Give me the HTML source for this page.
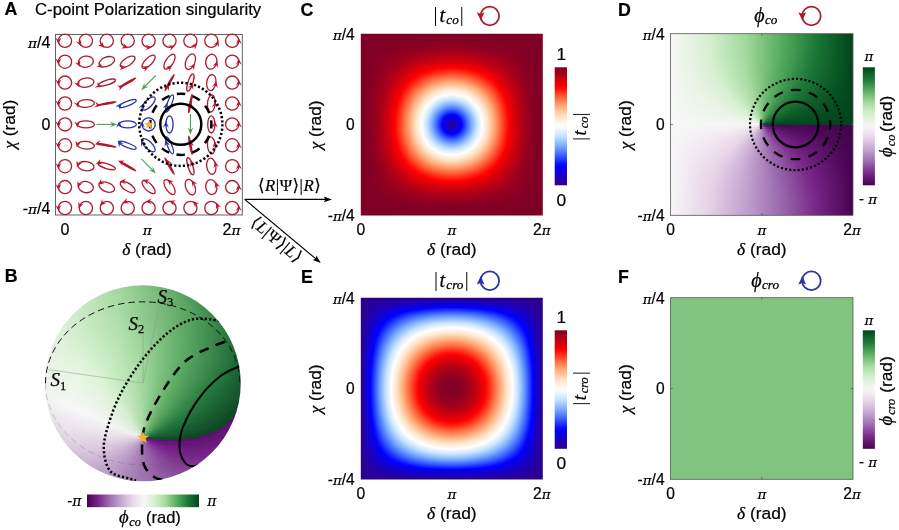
<!DOCTYPE html><html><head><meta charset="utf-8"><title>C-point Polarization singularity</title><style>html,body{margin:0;padding:0;background:#fff;overflow:hidden}svg{display:block}</style></head><body><svg width="899" height="530" viewBox="0 0 899 530"><defs><clipPath id="c1"><rect x="360.80" y="33.70" width="182.00" height="181.70"/></clipPath><linearGradient id="g2" gradientUnits="userSpaceOnUse" x1="360.80" x2="451.80" y1="0" y2="0" spreadMethod="reflect"><stop offset="0" stop-color="#7e0026"/><stop offset="1" stop-color="#7e0026"/></linearGradient><linearGradient id="g3" gradientUnits="userSpaceOnUse" x1="360.80" x2="451.80" y1="0" y2="0" spreadMethod="reflect"><stop offset="0" stop-color="#7e0026"/><stop offset="1" stop-color="#7e0026"/></linearGradient><linearGradient id="g4" gradientUnits="userSpaceOnUse" x1="360.80" x2="451.80" y1="0" y2="0" spreadMethod="reflect"><stop offset="0" stop-color="#7e0026"/><stop offset="1" stop-color="#7e0026"/></linearGradient><linearGradient id="g5" gradientUnits="userSpaceOnUse" x1="360.80" x2="451.80" y1="0" y2="0" spreadMethod="reflect"><stop offset="0" stop-color="#7e0026"/><stop offset="1" stop-color="#7f0026"/></linearGradient><linearGradient id="g6" gradientUnits="userSpaceOnUse" x1="360.80" x2="451.80" y1="0" y2="0" spreadMethod="reflect"><stop offset="0" stop-color="#7e0026"/><stop offset="1" stop-color="#800025"/></linearGradient><linearGradient id="g7" gradientUnits="userSpaceOnUse" x1="360.80" x2="451.80" y1="0" y2="0" spreadMethod="reflect"><stop offset="0" stop-color="#7e0026"/><stop offset="1" stop-color="#810025"/></linearGradient><linearGradient id="g8" gradientUnits="userSpaceOnUse" x1="360.80" x2="451.80" y1="0" y2="0" spreadMethod="reflect"><stop offset="0" stop-color="#7e0026"/><stop offset="1" stop-color="#820025"/></linearGradient><linearGradient id="g9" gradientUnits="userSpaceOnUse" x1="360.80" x2="451.80" y1="0" y2="0" spreadMethod="reflect"><stop offset="0" stop-color="#7e0026"/><stop offset="1" stop-color="#830024"/></linearGradient><linearGradient id="g10" gradientUnits="userSpaceOnUse" x1="360.80" x2="451.80" y1="0" y2="0" spreadMethod="reflect"><stop offset="0" stop-color="#7e0026"/><stop offset="1" stop-color="#850024"/></linearGradient><linearGradient id="g11" gradientUnits="userSpaceOnUse" x1="360.80" x2="451.80" y1="0" y2="0" spreadMethod="reflect"><stop offset="0" stop-color="#7e0026"/><stop offset="0.522" stop-color="#830025"/><stop offset="1" stop-color="#870023"/></linearGradient><linearGradient id="g12" gradientUnits="userSpaceOnUse" x1="360.80" x2="451.80" y1="0" y2="0" spreadMethod="reflect"><stop offset="0" stop-color="#7e0026"/><stop offset="0.435" stop-color="#820025"/><stop offset="0.946" stop-color="#890023"/><stop offset="1" stop-color="#890023"/></linearGradient><linearGradient id="g13" gradientUnits="userSpaceOnUse" x1="360.80" x2="451.80" y1="0" y2="0" spreadMethod="reflect"><stop offset="0" stop-color="#7e0026"/><stop offset="0.38" stop-color="#820025"/><stop offset="0.902" stop-color="#8b0022"/><stop offset="1" stop-color="#8c0022"/></linearGradient><linearGradient id="g14" gradientUnits="userSpaceOnUse" x1="360.80" x2="451.80" y1="0" y2="0" spreadMethod="reflect"><stop offset="0" stop-color="#7e0026"/><stop offset="0.337" stop-color="#820025"/><stop offset="0.87" stop-color="#8d0021"/><stop offset="1" stop-color="#8e0021"/></linearGradient><linearGradient id="g15" gradientUnits="userSpaceOnUse" x1="360.80" x2="451.80" y1="0" y2="0" spreadMethod="reflect"><stop offset="0" stop-color="#7e0026"/><stop offset="0.315" stop-color="#820025"/><stop offset="0.848" stop-color="#900021"/><stop offset="1" stop-color="#910020"/></linearGradient><linearGradient id="g16" gradientUnits="userSpaceOnUse" x1="360.80" x2="451.80" y1="0" y2="0" spreadMethod="reflect"><stop offset="0" stop-color="#7e0026"/><stop offset="0.283" stop-color="#820025"/><stop offset="0.837" stop-color="#930020"/><stop offset="1" stop-color="#940020"/></linearGradient><linearGradient id="g17" gradientUnits="userSpaceOnUse" x1="360.80" x2="451.80" y1="0" y2="0" spreadMethod="reflect"><stop offset="0" stop-color="#7e0026"/><stop offset="0.261" stop-color="#820025"/><stop offset="0.826" stop-color="#95001f"/><stop offset="1" stop-color="#97001f"/></linearGradient><linearGradient id="g18" gradientUnits="userSpaceOnUse" x1="360.80" x2="451.80" y1="0" y2="0" spreadMethod="reflect"><stop offset="0" stop-color="#7e0026"/><stop offset="0.25" stop-color="#820025"/><stop offset="0.815" stop-color="#98001e"/><stop offset="1" stop-color="#9b001e"/></linearGradient><linearGradient id="g19" gradientUnits="userSpaceOnUse" x1="360.80" x2="451.80" y1="0" y2="0" spreadMethod="reflect"><stop offset="0" stop-color="#7e0026"/><stop offset="0.228" stop-color="#820025"/><stop offset="0.804" stop-color="#9c001d"/><stop offset="1" stop-color="#9f001c"/></linearGradient><linearGradient id="g20" gradientUnits="userSpaceOnUse" x1="360.80" x2="451.80" y1="0" y2="0" spreadMethod="reflect"><stop offset="0" stop-color="#7e0026"/><stop offset="0.217" stop-color="#820025"/><stop offset="0.565" stop-color="#940020"/><stop offset="0.837" stop-color="#a0001c"/><stop offset="1" stop-color="#a2001b"/></linearGradient><linearGradient id="g21" gradientUnits="userSpaceOnUse" x1="360.80" x2="451.80" y1="0" y2="0" spreadMethod="reflect"><stop offset="0" stop-color="#7e0026"/><stop offset="0.207" stop-color="#820025"/><stop offset="0.5" stop-color="#920020"/><stop offset="0.793" stop-color="#a2001b"/><stop offset="0.989" stop-color="#a7001a"/><stop offset="1" stop-color="#a7001a"/></linearGradient><linearGradient id="g22" gradientUnits="userSpaceOnUse" x1="360.80" x2="451.80" y1="0" y2="0" spreadMethod="reflect"><stop offset="0" stop-color="#7e0026"/><stop offset="0.196" stop-color="#820025"/><stop offset="0.446" stop-color="#900021"/><stop offset="0.772" stop-color="#a5001a"/><stop offset="0.967" stop-color="#ab0019"/><stop offset="1" stop-color="#ab0019"/></linearGradient><linearGradient id="g23" gradientUnits="userSpaceOnUse" x1="360.80" x2="451.80" y1="0" y2="0" spreadMethod="reflect"><stop offset="0" stop-color="#7e0026"/><stop offset="0.185" stop-color="#820025"/><stop offset="0.413" stop-color="#900021"/><stop offset="0.761" stop-color="#a90019"/><stop offset="0.946" stop-color="#af0017"/><stop offset="1" stop-color="#b00017"/></linearGradient><linearGradient id="g24" gradientUnits="userSpaceOnUse" x1="360.80" x2="451.80" y1="0" y2="0" spreadMethod="reflect"><stop offset="0" stop-color="#7e0026"/><stop offset="0.174" stop-color="#820025"/><stop offset="0.38" stop-color="#8f0021"/><stop offset="0.75" stop-color="#ac0018"/><stop offset="0.924" stop-color="#b40016"/><stop offset="1" stop-color="#b40016"/></linearGradient><linearGradient id="g25" gradientUnits="userSpaceOnUse" x1="360.80" x2="451.80" y1="0" y2="0" spreadMethod="reflect"><stop offset="0" stop-color="#7e0026"/><stop offset="0.163" stop-color="#820025"/><stop offset="0.359" stop-color="#8e0021"/><stop offset="0.75" stop-color="#b00017"/><stop offset="0.924" stop-color="#b90015"/><stop offset="1" stop-color="#ba0014"/></linearGradient><linearGradient id="g26" gradientUnits="userSpaceOnUse" x1="360.80" x2="451.80" y1="0" y2="0" spreadMethod="reflect"><stop offset="0" stop-color="#7e0026"/><stop offset="0.163" stop-color="#820025"/><stop offset="0.348" stop-color="#8f0021"/><stop offset="0.739" stop-color="#b40016"/><stop offset="0.902" stop-color="#bd0013"/><stop offset="1" stop-color="#bf0013"/></linearGradient><linearGradient id="g27" gradientUnits="userSpaceOnUse" x1="360.80" x2="451.80" y1="0" y2="0" spreadMethod="reflect"><stop offset="0" stop-color="#7e0026"/><stop offset="0.152" stop-color="#820025"/><stop offset="0.326" stop-color="#8e0021"/><stop offset="0.739" stop-color="#b90015"/><stop offset="0.902" stop-color="#c20012"/><stop offset="1" stop-color="#c40011"/></linearGradient><linearGradient id="g28" gradientUnits="userSpaceOnUse" x1="360.80" x2="451.80" y1="0" y2="0" spreadMethod="reflect"><stop offset="0" stop-color="#7e0026"/><stop offset="0.141" stop-color="#820025"/><stop offset="0.304" stop-color="#8d0021"/><stop offset="0.739" stop-color="#bd0013"/><stop offset="0.891" stop-color="#c80010"/><stop offset="1" stop-color="#ca0010"/></linearGradient><linearGradient id="g29" gradientUnits="userSpaceOnUse" x1="360.80" x2="451.80" y1="0" y2="0" spreadMethod="reflect"><stop offset="0" stop-color="#7e0026"/><stop offset="0.141" stop-color="#820025"/><stop offset="0.293" stop-color="#8d0021"/><stop offset="0.554" stop-color="#ad0018"/><stop offset="0.761" stop-color="#c40011"/><stop offset="0.902" stop-color="#ce000f"/><stop offset="1" stop-color="#d0000e"/></linearGradient><linearGradient id="g30" gradientUnits="userSpaceOnUse" x1="360.80" x2="451.80" y1="0" y2="0" spreadMethod="reflect"><stop offset="0" stop-color="#7e0026"/><stop offset="0.141" stop-color="#820025"/><stop offset="0.293" stop-color="#8f0021"/><stop offset="0.533" stop-color="#ad0018"/><stop offset="0.739" stop-color="#c70010"/><stop offset="0.88" stop-color="#d3000d"/><stop offset="1" stop-color="#d6000c"/></linearGradient><linearGradient id="g31" gradientUnits="userSpaceOnUse" x1="360.80" x2="451.80" y1="0" y2="0" spreadMethod="reflect"><stop offset="0" stop-color="#7e0026"/><stop offset="0.13" stop-color="#820025"/><stop offset="0.272" stop-color="#8d0021"/><stop offset="0.467" stop-color="#a7001a"/><stop offset="0.717" stop-color="#ca0010"/><stop offset="0.859" stop-color="#d7000c"/><stop offset="0.978" stop-color="#dc000a"/><stop offset="1" stop-color="#dc000a"/></linearGradient><linearGradient id="g32" gradientUnits="userSpaceOnUse" x1="360.80" x2="451.80" y1="0" y2="0" spreadMethod="reflect"><stop offset="0" stop-color="#7e0026"/><stop offset="0.13" stop-color="#820025"/><stop offset="0.272" stop-color="#8e0021"/><stop offset="0.457" stop-color="#a8001a"/><stop offset="0.717" stop-color="#cf000e"/><stop offset="0.859" stop-color="#dd000a"/><stop offset="0.978" stop-color="#e20008"/><stop offset="1" stop-color="#e30008"/></linearGradient><linearGradient id="g33" gradientUnits="userSpaceOnUse" x1="360.80" x2="451.80" y1="0" y2="0" spreadMethod="reflect"><stop offset="0" stop-color="#7e0026"/><stop offset="0.12" stop-color="#810025"/><stop offset="0.25" stop-color="#8d0022"/><stop offset="0.413" stop-color="#a3001b"/><stop offset="0.707" stop-color="#d3000d"/><stop offset="0.837" stop-color="#e20009"/><stop offset="0.957" stop-color="#e90007"/><stop offset="1" stop-color="#e90006"/></linearGradient><linearGradient id="g34" gradientUnits="userSpaceOnUse" x1="360.80" x2="451.80" y1="0" y2="0" spreadMethod="reflect"><stop offset="0" stop-color="#7e0026"/><stop offset="0.12" stop-color="#820025"/><stop offset="0.25" stop-color="#8e0021"/><stop offset="0.402" stop-color="#a4001b"/><stop offset="0.707" stop-color="#d8000b"/><stop offset="0.837" stop-color="#e80007"/><stop offset="0.946" stop-color="#ef0005"/><stop offset="1" stop-color="#f00004"/></linearGradient><linearGradient id="g35" gradientUnits="userSpaceOnUse" x1="360.80" x2="451.80" y1="0" y2="0" spreadMethod="reflect"><stop offset="0" stop-color="#7e0026"/><stop offset="0.12" stop-color="#820025"/><stop offset="0.239" stop-color="#8d0022"/><stop offset="0.391" stop-color="#a4001b"/><stop offset="0.707" stop-color="#de000a"/><stop offset="0.837" stop-color="#ef0005"/><stop offset="0.946" stop-color="#f60003"/><stop offset="1" stop-color="#f70002"/></linearGradient><linearGradient id="g36" gradientUnits="userSpaceOnUse" x1="360.80" x2="451.80" y1="0" y2="0" spreadMethod="reflect"><stop offset="0" stop-color="#7e0026"/><stop offset="0.109" stop-color="#810025"/><stop offset="0.228" stop-color="#8d0022"/><stop offset="0.37" stop-color="#a2001b"/><stop offset="0.707" stop-color="#e30008"/><stop offset="0.826" stop-color="#f40003"/><stop offset="0.935" stop-color="#fd0001"/><stop offset="1" stop-color="#ff0000"/></linearGradient><linearGradient id="g37" gradientUnits="userSpaceOnUse" x1="360.80" x2="451.80" y1="0" y2="0" spreadMethod="reflect"><stop offset="0" stop-color="#7e0026"/><stop offset="0.109" stop-color="#820025"/><stop offset="0.228" stop-color="#8d0021"/><stop offset="0.359" stop-color="#a2001b"/><stop offset="0.707" stop-color="#e90007"/><stop offset="0.826" stop-color="#fb0001"/><stop offset="0.87" stop-color="#ff0101"/><stop offset="0.957" stop-color="#ff0905"/><stop offset="1" stop-color="#ff0a06"/></linearGradient><linearGradient id="g38" gradientUnits="userSpaceOnUse" x1="360.80" x2="451.80" y1="0" y2="0" spreadMethod="reflect"><stop offset="0" stop-color="#7e0026"/><stop offset="0.109" stop-color="#820025"/><stop offset="0.217" stop-color="#8d0022"/><stop offset="0.348" stop-color="#a2001b"/><stop offset="0.565" stop-color="#d1000e"/><stop offset="0.728" stop-color="#f30004"/><stop offset="0.804" stop-color="#ff0000"/><stop offset="0.891" stop-color="#ff0f09"/><stop offset="0.967" stop-color="#ff150c"/><stop offset="1" stop-color="#ff160d"/></linearGradient><linearGradient id="g39" gradientUnits="userSpaceOnUse" x1="360.80" x2="451.80" y1="0" y2="0" spreadMethod="reflect"><stop offset="0" stop-color="#7e0026"/><stop offset="0.109" stop-color="#820025"/><stop offset="0.217" stop-color="#8d0021"/><stop offset="0.337" stop-color="#a2001b"/><stop offset="0.522" stop-color="#cb000f"/><stop offset="0.707" stop-color="#f50003"/><stop offset="0.761" stop-color="#ff0000"/><stop offset="0.848" stop-color="#ff130b"/><stop offset="0.924" stop-color="#ff1e11"/><stop offset="1" stop-color="#ff2113"/></linearGradient><linearGradient id="g40" gradientUnits="userSpaceOnUse" x1="360.80" x2="451.80" y1="0" y2="0" spreadMethod="reflect"><stop offset="0" stop-color="#7e0026"/><stop offset="0.098" stop-color="#810025"/><stop offset="0.207" stop-color="#8d0022"/><stop offset="0.326" stop-color="#a1001c"/><stop offset="0.489" stop-color="#c70011"/><stop offset="0.707" stop-color="#fb0001"/><stop offset="0.728" stop-color="#ff0100"/><stop offset="0.815" stop-color="#ff180e"/><stop offset="0.891" stop-color="#ff2616"/><stop offset="0.967" stop-color="#ff2d1a"/><stop offset="1" stop-color="#ff2d1a"/></linearGradient><linearGradient id="g41" gradientUnits="userSpaceOnUse" x1="360.80" x2="451.80" y1="0" y2="0" spreadMethod="reflect"><stop offset="0" stop-color="#7e0026"/><stop offset="0.098" stop-color="#820025"/><stop offset="0.207" stop-color="#8d0021"/><stop offset="0.326" stop-color="#a3001b"/><stop offset="0.478" stop-color="#c70010"/><stop offset="0.696" stop-color="#ff0000"/><stop offset="0.793" stop-color="#ff1d11"/><stop offset="0.87" stop-color="#ff2e1b"/><stop offset="0.946" stop-color="#ff3720"/><stop offset="1" stop-color="#ff3a21"/></linearGradient><linearGradient id="g42" gradientUnits="userSpaceOnUse" x1="360.80" x2="451.80" y1="0" y2="0" spreadMethod="reflect"><stop offset="0" stop-color="#7e0026"/><stop offset="0.098" stop-color="#820025"/><stop offset="0.196" stop-color="#8c0022"/><stop offset="0.304" stop-color="#a0001c"/><stop offset="0.446" stop-color="#c20012"/><stop offset="0.674" stop-color="#ff0100"/><stop offset="0.772" stop-color="#ff2214"/><stop offset="0.848" stop-color="#ff351f"/><stop offset="0.924" stop-color="#ff4226"/><stop offset="0.989" stop-color="#ff4628"/><stop offset="1" stop-color="#ff4629"/></linearGradient><linearGradient id="g43" gradientUnits="userSpaceOnUse" x1="360.80" x2="451.80" y1="0" y2="0" spreadMethod="reflect"><stop offset="0" stop-color="#7e0026"/><stop offset="0.098" stop-color="#820025"/><stop offset="0.196" stop-color="#8d0022"/><stop offset="0.304" stop-color="#a1001c"/><stop offset="0.435" stop-color="#c20012"/><stop offset="0.652" stop-color="#ff0101"/><stop offset="0.75" stop-color="#ff2516"/><stop offset="0.826" stop-color="#ff3c23"/><stop offset="0.902" stop-color="#ff4b2c"/><stop offset="0.967" stop-color="#ff522f"/><stop offset="1" stop-color="#ff5330"/></linearGradient><linearGradient id="g44" gradientUnits="userSpaceOnUse" x1="360.80" x2="451.80" y1="0" y2="0" spreadMethod="reflect"><stop offset="0" stop-color="#7e0026"/><stop offset="0.098" stop-color="#820025"/><stop offset="0.196" stop-color="#8e0021"/><stop offset="0.304" stop-color="#a3001b"/><stop offset="0.435" stop-color="#c50011"/><stop offset="0.63" stop-color="#ff0000"/><stop offset="0.739" stop-color="#ff2c1a"/><stop offset="0.815" stop-color="#ff4528"/><stop offset="0.891" stop-color="#ff5632"/><stop offset="0.957" stop-color="#ff5e36"/><stop offset="1" stop-color="#ff6037"/></linearGradient><linearGradient id="g45" gradientUnits="userSpaceOnUse" x1="360.80" x2="451.80" y1="0" y2="0" spreadMethod="reflect"><stop offset="0" stop-color="#7e0026"/><stop offset="0.087" stop-color="#810025"/><stop offset="0.185" stop-color="#8d0022"/><stop offset="0.283" stop-color="#9f001c"/><stop offset="0.402" stop-color="#be0013"/><stop offset="0.609" stop-color="#fe0000"/><stop offset="0.652" stop-color="#ff120b"/><stop offset="0.75" stop-color="#ff3b22"/><stop offset="0.826" stop-color="#ff5430"/><stop offset="0.88" stop-color="#ff6038"/><stop offset="0.957" stop-color="#ff6940"/><stop offset="1" stop-color="#ff6a41"/></linearGradient><linearGradient id="g46" gradientUnits="userSpaceOnUse" x1="360.80" x2="451.80" y1="0" y2="0" spreadMethod="reflect"><stop offset="0" stop-color="#7e0026"/><stop offset="0.087" stop-color="#810025"/><stop offset="0.174" stop-color="#8b0022"/><stop offset="0.272" stop-color="#9e001d"/><stop offset="0.38" stop-color="#ba0014"/><stop offset="0.554" stop-color="#f10004"/><stop offset="0.598" stop-color="#ff0101"/><stop offset="0.717" stop-color="#ff3821"/><stop offset="0.793" stop-color="#ff5531"/><stop offset="0.837" stop-color="#ff623a"/><stop offset="0.913" stop-color="#ff7045"/><stop offset="0.978" stop-color="#ff754a"/><stop offset="1" stop-color="#ff754a"/></linearGradient><linearGradient id="g47" gradientUnits="userSpaceOnUse" x1="360.80" x2="451.80" y1="0" y2="0" spreadMethod="reflect"><stop offset="0" stop-color="#7e0026"/><stop offset="0.087" stop-color="#820025"/><stop offset="0.174" stop-color="#8c0022"/><stop offset="0.272" stop-color="#9f001c"/><stop offset="0.38" stop-color="#bc0014"/><stop offset="0.543" stop-color="#f20004"/><stop offset="0.576" stop-color="#fe0000"/><stop offset="0.587" stop-color="#ff0302"/><stop offset="0.707" stop-color="#ff3e24"/><stop offset="0.783" stop-color="#ff5d36"/><stop offset="0.848" stop-color="#ff6f45"/><stop offset="0.924" stop-color="#ff7c50"/><stop offset="0.989" stop-color="#ff8054"/><stop offset="1" stop-color="#ff8054"/></linearGradient><linearGradient id="g48" gradientUnits="userSpaceOnUse" x1="360.80" x2="451.80" y1="0" y2="0" spreadMethod="reflect"><stop offset="0" stop-color="#7e0026"/><stop offset="0.087" stop-color="#820025"/><stop offset="0.174" stop-color="#8c0022"/><stop offset="0.272" stop-color="#a0001c"/><stop offset="0.38" stop-color="#bf0013"/><stop offset="0.533" stop-color="#f30004"/><stop offset="0.565" stop-color="#ff0000"/><stop offset="0.707" stop-color="#ff482a"/><stop offset="0.761" stop-color="#ff6038"/><stop offset="0.837" stop-color="#ff764b"/><stop offset="0.902" stop-color="#ff8457"/><stop offset="0.967" stop-color="#ff8b5d"/><stop offset="1" stop-color="#ff8c5e"/></linearGradient><linearGradient id="g49" gradientUnits="userSpaceOnUse" x1="360.80" x2="451.80" y1="0" y2="0" spreadMethod="reflect"><stop offset="0" stop-color="#7e0026"/><stop offset="0.087" stop-color="#820025"/><stop offset="0.174" stop-color="#8d0022"/><stop offset="0.261" stop-color="#9f001c"/><stop offset="0.359" stop-color="#ba0014"/><stop offset="0.489" stop-color="#e70007"/><stop offset="0.554" stop-color="#ff0100"/><stop offset="0.696" stop-color="#ff4d2d"/><stop offset="0.739" stop-color="#ff6139"/><stop offset="0.815" stop-color="#ff7b4f"/><stop offset="0.88" stop-color="#ff8b5d"/><stop offset="0.946" stop-color="#ff9566"/><stop offset="1" stop-color="#ff9768"/></linearGradient><linearGradient id="g50" gradientUnits="userSpaceOnUse" x1="360.80" x2="451.80" y1="0" y2="0" spreadMethod="reflect"><stop offset="0" stop-color="#7e0026"/><stop offset="0.087" stop-color="#820025"/><stop offset="0.174" stop-color="#8d0021"/><stop offset="0.261" stop-color="#a0001c"/><stop offset="0.359" stop-color="#bc0014"/><stop offset="0.489" stop-color="#eb0006"/><stop offset="0.543" stop-color="#ff0101"/><stop offset="0.685" stop-color="#ff512f"/><stop offset="0.717" stop-color="#ff6239"/><stop offset="0.804" stop-color="#ff8255"/><stop offset="0.87" stop-color="#ff9465"/><stop offset="0.935" stop-color="#ff9f6f"/><stop offset="1" stop-color="#ffa372"/></linearGradient><linearGradient id="g51" gradientUnits="userSpaceOnUse" x1="360.80" x2="451.80" y1="0" y2="0" spreadMethod="reflect"><stop offset="0" stop-color="#7e0026"/><stop offset="0.076" stop-color="#810025"/><stop offset="0.163" stop-color="#8c0022"/><stop offset="0.25" stop-color="#9e001c"/><stop offset="0.348" stop-color="#bb0014"/><stop offset="0.467" stop-color="#e60007"/><stop offset="0.522" stop-color="#fc0001"/><stop offset="0.533" stop-color="#ff0101"/><stop offset="0.685" stop-color="#ff5b35"/><stop offset="0.761" stop-color="#ff7c50"/><stop offset="0.837" stop-color="#ff9667"/><stop offset="0.902" stop-color="#ffa675"/><stop offset="0.957" stop-color="#ffad7b"/><stop offset="1" stop-color="#ffae7d"/></linearGradient><linearGradient id="g52" gradientUnits="userSpaceOnUse" x1="360.80" x2="451.80" y1="0" y2="0" spreadMethod="reflect"><stop offset="0" stop-color="#7e0026"/><stop offset="0.076" stop-color="#810025"/><stop offset="0.163" stop-color="#8c0022"/><stop offset="0.25" stop-color="#9f001c"/><stop offset="0.348" stop-color="#bd0014"/><stop offset="0.467" stop-color="#e90006"/><stop offset="0.522" stop-color="#ff0101"/><stop offset="0.674" stop-color="#ff5f37"/><stop offset="0.761" stop-color="#ff8659"/><stop offset="0.837" stop-color="#ffa170"/><stop offset="0.88" stop-color="#ffac7b"/><stop offset="0.946" stop-color="#ffb486"/><stop offset="1" stop-color="#ffb688"/></linearGradient><linearGradient id="g53" gradientUnits="userSpaceOnUse" x1="360.80" x2="451.80" y1="0" y2="0" spreadMethod="reflect"><stop offset="0" stop-color="#7e0026"/><stop offset="0.076" stop-color="#810025"/><stop offset="0.152" stop-color="#8b0022"/><stop offset="0.239" stop-color="#9d001d"/><stop offset="0.326" stop-color="#b70015"/><stop offset="0.435" stop-color="#df0009"/><stop offset="0.511" stop-color="#ff0000"/><stop offset="0.663" stop-color="#ff6239"/><stop offset="0.761" stop-color="#ff9061"/><stop offset="0.837" stop-color="#ffac7a"/><stop offset="0.902" stop-color="#ffb88b"/><stop offset="0.957" stop-color="#ffbd92"/><stop offset="1" stop-color="#ffbf94"/></linearGradient><linearGradient id="g54" gradientUnits="userSpaceOnUse" x1="360.80" x2="451.80" y1="0" y2="0" spreadMethod="reflect"><stop offset="0" stop-color="#7e0026"/><stop offset="0.076" stop-color="#810025"/><stop offset="0.152" stop-color="#8b0022"/><stop offset="0.239" stop-color="#9e001c"/><stop offset="0.326" stop-color="#b90015"/><stop offset="0.424" stop-color="#de000a"/><stop offset="0.5" stop-color="#ff0000"/><stop offset="0.641" stop-color="#ff5e36"/><stop offset="0.739" stop-color="#ff9061"/><stop offset="0.804" stop-color="#ffab7a"/><stop offset="0.87" stop-color="#ffbb8f"/><stop offset="0.924" stop-color="#ffc39a"/><stop offset="0.978" stop-color="#ffc7a0"/><stop offset="1" stop-color="#ffc7a1"/></linearGradient><linearGradient id="g55" gradientUnits="userSpaceOnUse" x1="360.80" x2="451.80" y1="0" y2="0" spreadMethod="reflect"><stop offset="0" stop-color="#7e0026"/><stop offset="0.076" stop-color="#810025"/><stop offset="0.152" stop-color="#8c0022"/><stop offset="0.228" stop-color="#9c001d"/><stop offset="0.315" stop-color="#b70015"/><stop offset="0.413" stop-color="#dc000a"/><stop offset="0.489" stop-color="#fd0000"/><stop offset="0.5" stop-color="#ff0503"/><stop offset="0.63" stop-color="#ff6037"/><stop offset="0.739" stop-color="#ff996a"/><stop offset="0.783" stop-color="#ffad7b"/><stop offset="0.848" stop-color="#ffbe93"/><stop offset="0.902" stop-color="#ffc8a2"/><stop offset="0.957" stop-color="#ffcfab"/><stop offset="1" stop-color="#ffd0ad"/></linearGradient><linearGradient id="g56" gradientUnits="userSpaceOnUse" x1="360.80" x2="451.80" y1="0" y2="0" spreadMethod="reflect"><stop offset="0" stop-color="#7e0026"/><stop offset="0.076" stop-color="#820025"/><stop offset="0.152" stop-color="#8c0022"/><stop offset="0.228" stop-color="#9d001d"/><stop offset="0.315" stop-color="#b80015"/><stop offset="0.413" stop-color="#df0009"/><stop offset="0.478" stop-color="#fc0001"/><stop offset="0.489" stop-color="#ff0302"/><stop offset="0.62" stop-color="#ff6038"/><stop offset="0.728" stop-color="#ff9d6d"/><stop offset="0.761" stop-color="#ffad7b"/><stop offset="0.826" stop-color="#ffc197"/><stop offset="0.88" stop-color="#ffcda9"/><stop offset="0.935" stop-color="#ffd5b4"/><stop offset="0.989" stop-color="#ffd9b9"/><stop offset="1" stop-color="#ffd9b9"/></linearGradient><linearGradient id="g57" gradientUnits="userSpaceOnUse" x1="360.80" x2="451.80" y1="0" y2="0" spreadMethod="reflect"><stop offset="0" stop-color="#7e0026"/><stop offset="0.076" stop-color="#820025"/><stop offset="0.152" stop-color="#8c0022"/><stop offset="0.228" stop-color="#9e001d"/><stop offset="0.315" stop-color="#ba0014"/><stop offset="0.413" stop-color="#e10009"/><stop offset="0.478" stop-color="#ff0101"/><stop offset="0.609" stop-color="#ff6139"/><stop offset="0.717" stop-color="#ffa070"/><stop offset="0.739" stop-color="#ffac7a"/><stop offset="0.815" stop-color="#ffc59e"/><stop offset="0.87" stop-color="#ffd3b1"/><stop offset="0.924" stop-color="#ffddbf"/><stop offset="0.978" stop-color="#ffe2c5"/><stop offset="1" stop-color="#ffe2c6"/></linearGradient><linearGradient id="g58" gradientUnits="userSpaceOnUse" x1="360.80" x2="451.80" y1="0" y2="0" spreadMethod="reflect"><stop offset="0" stop-color="#7e0026"/><stop offset="0.076" stop-color="#820025"/><stop offset="0.152" stop-color="#8d0022"/><stop offset="0.228" stop-color="#9f001c"/><stop offset="0.315" stop-color="#bb0014"/><stop offset="0.402" stop-color="#df0009"/><stop offset="0.467" stop-color="#fe0000"/><stop offset="0.489" stop-color="#ff0e08"/><stop offset="0.598" stop-color="#ff6139"/><stop offset="0.717" stop-color="#ffaa78"/><stop offset="0.783" stop-color="#ffc29a"/><stop offset="0.848" stop-color="#ffd6b5"/><stop offset="0.902" stop-color="#ffe2c6"/><stop offset="0.957" stop-color="#ffe6ce"/><stop offset="1" stop-color="#ffe7d0"/></linearGradient><linearGradient id="g59" gradientUnits="userSpaceOnUse" x1="360.80" x2="451.80" y1="0" y2="0" spreadMethod="reflect"><stop offset="0" stop-color="#7e0026"/><stop offset="0.076" stop-color="#820025"/><stop offset="0.152" stop-color="#8d0022"/><stop offset="0.228" stop-color="#a0001c"/><stop offset="0.304" stop-color="#b90015"/><stop offset="0.391" stop-color="#dd000a"/><stop offset="0.457" stop-color="#fc0001"/><stop offset="0.467" stop-color="#ff0302"/><stop offset="0.587" stop-color="#ff6038"/><stop offset="0.707" stop-color="#ffac7a"/><stop offset="0.783" stop-color="#ffcaa4"/><stop offset="0.848" stop-color="#ffdec1"/><stop offset="0.88" stop-color="#ffe4cb"/><stop offset="0.935" stop-color="#ffead5"/><stop offset="0.989" stop-color="#ffecd9"/><stop offset="1" stop-color="#ffecda"/></linearGradient><linearGradient id="g60" gradientUnits="userSpaceOnUse" x1="360.80" x2="451.80" y1="0" y2="0" spreadMethod="reflect"><stop offset="0" stop-color="#7e0026"/><stop offset="0.076" stop-color="#820025"/><stop offset="0.152" stop-color="#8d0021"/><stop offset="0.228" stop-color="#a0001c"/><stop offset="0.304" stop-color="#ba0014"/><stop offset="0.391" stop-color="#df0009"/><stop offset="0.457" stop-color="#ff0000"/><stop offset="0.565" stop-color="#ff5632"/><stop offset="0.587" stop-color="#ff673e"/><stop offset="0.696" stop-color="#ffae7c"/><stop offset="0.772" stop-color="#ffcda9"/><stop offset="0.826" stop-color="#ffe0c3"/><stop offset="0.88" stop-color="#ffe9d4"/><stop offset="0.935" stop-color="#ffefdf"/><stop offset="0.989" stop-color="#fff1e3"/><stop offset="1" stop-color="#fff1e3"/></linearGradient><linearGradient id="g61" gradientUnits="userSpaceOnUse" x1="360.80" x2="451.80" y1="0" y2="0" spreadMethod="reflect"><stop offset="0" stop-color="#7e0026"/><stop offset="0.076" stop-color="#820025"/><stop offset="0.152" stop-color="#8e0021"/><stop offset="0.228" stop-color="#a1001c"/><stop offset="0.304" stop-color="#bc0014"/><stop offset="0.391" stop-color="#e10009"/><stop offset="0.446" stop-color="#fc0001"/><stop offset="0.457" stop-color="#ff0503"/><stop offset="0.565" stop-color="#ff5e36"/><stop offset="0.674" stop-color="#ffa877"/><stop offset="0.728" stop-color="#ffc299"/><stop offset="0.804" stop-color="#ffe1c4"/><stop offset="0.859" stop-color="#ffebd7"/><stop offset="0.913" stop-color="#fff2e5"/><stop offset="0.967" stop-color="#fff5ec"/><stop offset="1" stop-color="#fff6ee"/></linearGradient><linearGradient id="g62" gradientUnits="userSpaceOnUse" x1="360.80" x2="451.80" y1="0" y2="0" spreadMethod="reflect"><stop offset="0" stop-color="#7e0026"/><stop offset="0.076" stop-color="#820025"/><stop offset="0.152" stop-color="#8e0021"/><stop offset="0.228" stop-color="#a2001b"/><stop offset="0.304" stop-color="#bd0013"/><stop offset="0.391" stop-color="#e40008"/><stop offset="0.446" stop-color="#ff0000"/><stop offset="0.543" stop-color="#ff522f"/><stop offset="0.576" stop-color="#ff6b42"/><stop offset="0.663" stop-color="#ffa977"/><stop offset="0.739" stop-color="#ffcda9"/><stop offset="0.783" stop-color="#ffe0c3"/><stop offset="0.837" stop-color="#ffecd9"/><stop offset="0.891" stop-color="#fff4ea"/><stop offset="0.946" stop-color="#fff9f4"/><stop offset="1" stop-color="#fffbf8"/></linearGradient><linearGradient id="g63" gradientUnits="userSpaceOnUse" x1="360.80" x2="451.80" y1="0" y2="0" spreadMethod="reflect"><stop offset="0" stop-color="#7e0026"/><stop offset="0.065" stop-color="#810025"/><stop offset="0.141" stop-color="#8c0022"/><stop offset="0.217" stop-color="#9f001c"/><stop offset="0.293" stop-color="#ba0014"/><stop offset="0.37" stop-color="#db000b"/><stop offset="0.435" stop-color="#fc0001"/><stop offset="0.446" stop-color="#ff0503"/><stop offset="0.533" stop-color="#ff4f2d"/><stop offset="0.565" stop-color="#ff6940"/><stop offset="0.652" stop-color="#ffa977"/><stop offset="0.728" stop-color="#ffcfab"/><stop offset="0.772" stop-color="#ffe2c7"/><stop offset="0.837" stop-color="#fff0e2"/><stop offset="0.891" stop-color="#fff9f3"/><stop offset="0.946" stop-color="#fffffe"/><stop offset="1" stop-color="#fcfeff"/></linearGradient><linearGradient id="g64" gradientUnits="userSpaceOnUse" x1="360.80" x2="451.80" y1="0" y2="0" spreadMethod="reflect"><stop offset="0" stop-color="#7e0026"/><stop offset="0.065" stop-color="#810025"/><stop offset="0.13" stop-color="#8a0022"/><stop offset="0.207" stop-color="#9d001d"/><stop offset="0.283" stop-color="#b70015"/><stop offset="0.359" stop-color="#d8000c"/><stop offset="0.435" stop-color="#ff0000"/><stop offset="0.522" stop-color="#ff4b2b"/><stop offset="0.543" stop-color="#ff5e37"/><stop offset="0.641" stop-color="#ffa877"/><stop offset="0.685" stop-color="#ffc096"/><stop offset="0.75" stop-color="#ffe0c3"/><stop offset="0.804" stop-color="#ffeedd"/><stop offset="0.87" stop-color="#fffbf6"/><stop offset="0.902" stop-color="#feffff"/><stop offset="0.957" stop-color="#f4faff"/><stop offset="1" stop-color="#f2f8ff"/></linearGradient><linearGradient id="g65" gradientUnits="userSpaceOnUse" x1="360.80" x2="451.80" y1="0" y2="0" spreadMethod="reflect"><stop offset="0" stop-color="#7e0026"/><stop offset="0.065" stop-color="#810025"/><stop offset="0.13" stop-color="#8b0022"/><stop offset="0.207" stop-color="#9d001d"/><stop offset="0.283" stop-color="#b80015"/><stop offset="0.359" stop-color="#da000b"/><stop offset="0.424" stop-color="#fc0001"/><stop offset="0.435" stop-color="#ff0402"/><stop offset="0.522" stop-color="#ff512f"/><stop offset="0.554" stop-color="#ff6c42"/><stop offset="0.641" stop-color="#ffae7d"/><stop offset="0.739" stop-color="#ffe1c5"/><stop offset="0.815" stop-color="#fff5ea"/><stop offset="0.859" stop-color="#fffdfc"/><stop offset="0.87" stop-color="#feffff"/><stop offset="0.924" stop-color="#eff7ff"/><stop offset="0.978" stop-color="#e8f3ff"/><stop offset="1" stop-color="#e7f3ff"/></linearGradient><linearGradient id="g66" gradientUnits="userSpaceOnUse" x1="360.80" x2="451.80" y1="0" y2="0" spreadMethod="reflect"><stop offset="0" stop-color="#7e0026"/><stop offset="0.065" stop-color="#810025"/><stop offset="0.13" stop-color="#8b0022"/><stop offset="0.196" stop-color="#9b001e"/><stop offset="0.272" stop-color="#b50016"/><stop offset="0.348" stop-color="#d6000c"/><stop offset="0.424" stop-color="#fe0000"/><stop offset="0.457" stop-color="#ff1b0f"/><stop offset="0.533" stop-color="#ff6038"/><stop offset="0.63" stop-color="#ffad7c"/><stop offset="0.728" stop-color="#ffe2c6"/><stop offset="0.804" stop-color="#fff6ee"/><stop offset="0.837" stop-color="#fffefc"/><stop offset="0.848" stop-color="#fdfeff"/><stop offset="0.902" stop-color="#ebf5ff"/><stop offset="0.957" stop-color="#e0efff"/><stop offset="1" stop-color="#ddeeff"/></linearGradient><linearGradient id="g67" gradientUnits="userSpaceOnUse" x1="360.80" x2="451.80" y1="0" y2="0" spreadMethod="reflect"><stop offset="0" stop-color="#7e0026"/><stop offset="0.065" stop-color="#810025"/><stop offset="0.13" stop-color="#8b0022"/><stop offset="0.196" stop-color="#9b001d"/><stop offset="0.272" stop-color="#b60016"/><stop offset="0.348" stop-color="#d8000c"/><stop offset="0.413" stop-color="#fa0001"/><stop offset="0.424" stop-color="#ff0201"/><stop offset="0.5" stop-color="#ff4729"/><stop offset="0.533" stop-color="#ff653c"/><stop offset="0.62" stop-color="#ffab7a"/><stop offset="0.717" stop-color="#ffe2c7"/><stop offset="0.804" stop-color="#fffaf6"/><stop offset="0.826" stop-color="#fefeff"/><stop offset="0.88" stop-color="#e8f3ff"/><stop offset="0.935" stop-color="#d9ecff"/><stop offset="0.978" stop-color="#d3e9ff"/><stop offset="1" stop-color="#d2e8ff"/></linearGradient><linearGradient id="g68" gradientUnits="userSpaceOnUse" x1="360.80" x2="451.80" y1="0" y2="0" spreadMethod="reflect"><stop offset="0" stop-color="#7e0026"/><stop offset="0.065" stop-color="#810025"/><stop offset="0.13" stop-color="#8b0022"/><stop offset="0.196" stop-color="#9c001d"/><stop offset="0.272" stop-color="#b70015"/><stop offset="0.348" stop-color="#d9000b"/><stop offset="0.413" stop-color="#fd0001"/><stop offset="0.424" stop-color="#ff0603"/><stop offset="0.5" stop-color="#ff4c2c"/><stop offset="0.522" stop-color="#ff6139"/><stop offset="0.609" stop-color="#ffa977"/><stop offset="0.707" stop-color="#ffe2c7"/><stop offset="0.793" stop-color="#fffcf9"/><stop offset="0.804" stop-color="#fffffe"/><stop offset="0.87" stop-color="#e2f0ff"/><stop offset="0.924" stop-color="#d1e7ff"/><stop offset="0.967" stop-color="#c9e4ff"/><stop offset="1" stop-color="#c7e3ff"/></linearGradient><linearGradient id="g69" gradientUnits="userSpaceOnUse" x1="360.80" x2="451.80" y1="0" y2="0" spreadMethod="reflect"><stop offset="0" stop-color="#7e0026"/><stop offset="0.065" stop-color="#810025"/><stop offset="0.13" stop-color="#8c0022"/><stop offset="0.196" stop-color="#9c001d"/><stop offset="0.261" stop-color="#b30016"/><stop offset="0.337" stop-color="#d5000c"/><stop offset="0.413" stop-color="#ff0000"/><stop offset="0.478" stop-color="#ff3c23"/><stop offset="0.522" stop-color="#ff653c"/><stop offset="0.609" stop-color="#ffae7d"/><stop offset="0.696" stop-color="#ffe2c6"/><stop offset="0.783" stop-color="#fffdfb"/><stop offset="0.793" stop-color="#fdfeff"/><stop offset="0.859" stop-color="#ddeeff"/><stop offset="0.913" stop-color="#c9e4ff"/><stop offset="0.957" stop-color="#bedcff"/><stop offset="0.989" stop-color="#bad9ff"/><stop offset="1" stop-color="#b9d9ff"/></linearGradient><linearGradient id="g70" gradientUnits="userSpaceOnUse" x1="360.80" x2="451.80" y1="0" y2="0" spreadMethod="reflect"><stop offset="0" stop-color="#7e0026"/><stop offset="0.065" stop-color="#810025"/><stop offset="0.13" stop-color="#8c0022"/><stop offset="0.196" stop-color="#9d001d"/><stop offset="0.261" stop-color="#b40016"/><stop offset="0.337" stop-color="#d7000c"/><stop offset="0.402" stop-color="#fb0001"/><stop offset="0.413" stop-color="#ff0302"/><stop offset="0.478" stop-color="#ff4025"/><stop offset="0.511" stop-color="#ff6038"/><stop offset="0.598" stop-color="#ffab79"/><stop offset="0.685" stop-color="#ffe1c4"/><stop offset="0.772" stop-color="#fffdfc"/><stop offset="0.783" stop-color="#fcfdff"/><stop offset="0.848" stop-color="#d9ecff"/><stop offset="0.902" stop-color="#c2dfff"/><stop offset="0.946" stop-color="#b2d4ff"/><stop offset="0.978" stop-color="#acd0ff"/><stop offset="1" stop-color="#abcfff"/></linearGradient><linearGradient id="g71" gradientUnits="userSpaceOnUse" x1="360.80" x2="451.80" y1="0" y2="0" spreadMethod="reflect"><stop offset="0" stop-color="#7e0026"/><stop offset="0.065" stop-color="#810025"/><stop offset="0.13" stop-color="#8c0022"/><stop offset="0.196" stop-color="#9d001d"/><stop offset="0.261" stop-color="#b50016"/><stop offset="0.337" stop-color="#d8000b"/><stop offset="0.402" stop-color="#fc0001"/><stop offset="0.413" stop-color="#ff0603"/><stop offset="0.478" stop-color="#ff4427"/><stop offset="0.511" stop-color="#ff643b"/><stop offset="0.598" stop-color="#ffaf7e"/><stop offset="0.674" stop-color="#ffdfc2"/><stop offset="0.717" stop-color="#ffefe0"/><stop offset="0.761" stop-color="#fffefc"/><stop offset="0.772" stop-color="#fbfdff"/><stop offset="0.837" stop-color="#d5eaff"/><stop offset="0.87" stop-color="#c6e2ff"/><stop offset="0.913" stop-color="#b0d2ff"/><stop offset="0.946" stop-color="#a4caff"/><stop offset="0.978" stop-color="#9ec5ff"/><stop offset="1" stop-color="#9dc5ff"/></linearGradient><linearGradient id="g72" gradientUnits="userSpaceOnUse" x1="360.80" x2="451.80" y1="0" y2="0" spreadMethod="reflect"><stop offset="0" stop-color="#7e0026"/><stop offset="0.065" stop-color="#820025"/><stop offset="0.13" stop-color="#8c0022"/><stop offset="0.196" stop-color="#9e001d"/><stop offset="0.261" stop-color="#b60016"/><stop offset="0.337" stop-color="#d9000b"/><stop offset="0.402" stop-color="#fe0000"/><stop offset="0.446" stop-color="#ff2817"/><stop offset="0.5" stop-color="#ff5f37"/><stop offset="0.587" stop-color="#ffac7a"/><stop offset="0.674" stop-color="#ffe3c8"/><stop offset="0.75" stop-color="#fffefc"/><stop offset="0.761" stop-color="#fbfdff"/><stop offset="0.826" stop-color="#d3e8ff"/><stop offset="0.848" stop-color="#c7e3ff"/><stop offset="0.891" stop-color="#add0ff"/><stop offset="0.924" stop-color="#9ec5ff"/><stop offset="0.957" stop-color="#93beff"/><stop offset="0.989" stop-color="#8ebaff"/><stop offset="1" stop-color="#8ebaff"/></linearGradient><linearGradient id="g73" gradientUnits="userSpaceOnUse" x1="360.80" x2="451.80" y1="0" y2="0" spreadMethod="reflect"><stop offset="0" stop-color="#7e0026"/><stop offset="0.065" stop-color="#820025"/><stop offset="0.13" stop-color="#8c0022"/><stop offset="0.196" stop-color="#9e001d"/><stop offset="0.261" stop-color="#b60015"/><stop offset="0.326" stop-color="#d5000c"/><stop offset="0.391" stop-color="#fa0002"/><stop offset="0.402" stop-color="#ff0201"/><stop offset="0.467" stop-color="#ff4126"/><stop offset="0.5" stop-color="#ff623a"/><stop offset="0.587" stop-color="#ffaf7f"/><stop offset="0.663" stop-color="#ffe2c5"/><stop offset="0.739" stop-color="#fffdfb"/><stop offset="0.75" stop-color="#fbfdff"/><stop offset="0.837" stop-color="#c4e0ff"/><stop offset="0.88" stop-color="#a6cbff"/><stop offset="0.913" stop-color="#95bfff"/><stop offset="0.946" stop-color="#88b6ff"/><stop offset="0.978" stop-color="#81b1ff"/><stop offset="1" stop-color="#7fb0ff"/></linearGradient><linearGradient id="g74" gradientUnits="userSpaceOnUse" x1="360.80" x2="451.80" y1="0" y2="0" spreadMethod="reflect"><stop offset="0" stop-color="#7e0026"/><stop offset="0.065" stop-color="#820025"/><stop offset="0.13" stop-color="#8c0022"/><stop offset="0.196" stop-color="#9e001c"/><stop offset="0.261" stop-color="#b70015"/><stop offset="0.326" stop-color="#d6000c"/><stop offset="0.391" stop-color="#fb0001"/><stop offset="0.402" stop-color="#ff0403"/><stop offset="0.467" stop-color="#ff4428"/><stop offset="0.5" stop-color="#ff653d"/><stop offset="0.576" stop-color="#ffab79"/><stop offset="0.652" stop-color="#ffdfc1"/><stop offset="0.674" stop-color="#ffe8d2"/><stop offset="0.728" stop-color="#fffcfa"/><stop offset="0.739" stop-color="#fcfeff"/><stop offset="0.815" stop-color="#c9e3ff"/><stop offset="0.87" stop-color="#a1c7ff"/><stop offset="0.913" stop-color="#87b5ff"/><stop offset="0.946" stop-color="#7aacff"/><stop offset="0.978" stop-color="#73a4ff"/><stop offset="1" stop-color="#72a2ff"/></linearGradient><linearGradient id="g75" gradientUnits="userSpaceOnUse" x1="360.80" x2="451.80" y1="0" y2="0" spreadMethod="reflect"><stop offset="0" stop-color="#7e0026"/><stop offset="0.065" stop-color="#820025"/><stop offset="0.13" stop-color="#8d0022"/><stop offset="0.196" stop-color="#9f001c"/><stop offset="0.261" stop-color="#b80015"/><stop offset="0.326" stop-color="#d7000c"/><stop offset="0.391" stop-color="#fd0001"/><stop offset="0.402" stop-color="#ff0704"/><stop offset="0.467" stop-color="#ff482a"/><stop offset="0.489" stop-color="#ff5f37"/><stop offset="0.565" stop-color="#ffa574"/><stop offset="0.576" stop-color="#ffaf7e"/><stop offset="0.652" stop-color="#ffe2c7"/><stop offset="0.728" stop-color="#feffff"/><stop offset="0.804" stop-color="#c8e3ff"/><stop offset="0.859" stop-color="#9cc4ff"/><stop offset="0.902" stop-color="#80b0ff"/><stop offset="0.935" stop-color="#71a1ff"/><stop offset="0.967" stop-color="#6797ff"/><stop offset="1" stop-color="#6493ff"/></linearGradient><linearGradient id="g76" gradientUnits="userSpaceOnUse" x1="360.80" x2="451.80" y1="0" y2="0" spreadMethod="reflect"><stop offset="0" stop-color="#7e0026"/><stop offset="0.065" stop-color="#820025"/><stop offset="0.13" stop-color="#8d0022"/><stop offset="0.196" stop-color="#9f001c"/><stop offset="0.261" stop-color="#b80015"/><stop offset="0.326" stop-color="#d8000b"/><stop offset="0.391" stop-color="#fe0000"/><stop offset="0.424" stop-color="#ff1e12"/><stop offset="0.489" stop-color="#ff623a"/><stop offset="0.565" stop-color="#ffa978"/><stop offset="0.641" stop-color="#ffdfc2"/><stop offset="0.685" stop-color="#fff1e4"/><stop offset="0.717" stop-color="#fffefd"/><stop offset="0.728" stop-color="#f9fcff"/><stop offset="0.793" stop-color="#c9e3ff"/><stop offset="0.859" stop-color="#91bcff"/><stop offset="0.891" stop-color="#79abff"/><stop offset="0.924" stop-color="#6998ff"/><stop offset="0.957" stop-color="#5d8bff"/><stop offset="0.989" stop-color="#5784ff"/><stop offset="1" stop-color="#5784ff"/></linearGradient><linearGradient id="g77" gradientUnits="userSpaceOnUse" x1="360.80" x2="451.80" y1="0" y2="0" spreadMethod="reflect"><stop offset="0" stop-color="#7e0026"/><stop offset="0.065" stop-color="#820025"/><stop offset="0.13" stop-color="#8d0022"/><stop offset="0.196" stop-color="#9f001c"/><stop offset="0.261" stop-color="#b90015"/><stop offset="0.326" stop-color="#d9000b"/><stop offset="0.391" stop-color="#ff0101"/><stop offset="0.457" stop-color="#ff4327"/><stop offset="0.489" stop-color="#ff653c"/><stop offset="0.565" stop-color="#ffad7b"/><stop offset="0.641" stop-color="#ffe2c7"/><stop offset="0.707" stop-color="#fffcfa"/><stop offset="0.717" stop-color="#fcfdff"/><stop offset="0.783" stop-color="#cae4ff"/><stop offset="0.848" stop-color="#8ebbff"/><stop offset="0.88" stop-color="#75a6ff"/><stop offset="0.913" stop-color="#6290ff"/><stop offset="0.946" stop-color="#5380ff"/><stop offset="0.978" stop-color="#4b76ff"/><stop offset="1" stop-color="#4a74ff"/></linearGradient><linearGradient id="g78" gradientUnits="userSpaceOnUse" x1="360.80" x2="451.80" y1="0" y2="0" spreadMethod="reflect"><stop offset="0" stop-color="#7e0026"/><stop offset="0.065" stop-color="#820025"/><stop offset="0.13" stop-color="#8d0022"/><stop offset="0.196" stop-color="#a0001c"/><stop offset="0.261" stop-color="#ba0014"/><stop offset="0.326" stop-color="#da000b"/><stop offset="0.38" stop-color="#fa0001"/><stop offset="0.391" stop-color="#ff0302"/><stop offset="0.446" stop-color="#ff3a21"/><stop offset="0.478" stop-color="#ff5d36"/><stop offset="0.554" stop-color="#ffa675"/><stop offset="0.576" stop-color="#ffb78a"/><stop offset="0.63" stop-color="#ffdec1"/><stop offset="0.652" stop-color="#ffe9d3"/><stop offset="0.707" stop-color="#ffffff"/><stop offset="0.783" stop-color="#c2dfff"/><stop offset="0.837" stop-color="#8ebaff"/><stop offset="0.859" stop-color="#7aacff"/><stop offset="0.902" stop-color="#5c8aff"/><stop offset="0.935" stop-color="#4b76ff"/><stop offset="0.967" stop-color="#4069ff"/><stop offset="1" stop-color="#3c65ff"/></linearGradient><linearGradient id="g79" gradientUnits="userSpaceOnUse" x1="360.80" x2="451.80" y1="0" y2="0" spreadMethod="reflect"><stop offset="0" stop-color="#7e0026"/><stop offset="0.065" stop-color="#820025"/><stop offset="0.13" stop-color="#8d0022"/><stop offset="0.196" stop-color="#a0001c"/><stop offset="0.261" stop-color="#ba0014"/><stop offset="0.326" stop-color="#db000b"/><stop offset="0.38" stop-color="#fb0001"/><stop offset="0.391" stop-color="#ff0503"/><stop offset="0.446" stop-color="#ff3c23"/><stop offset="0.478" stop-color="#ff6038"/><stop offset="0.554" stop-color="#ffa978"/><stop offset="0.63" stop-color="#ffe1c5"/><stop offset="0.696" stop-color="#fffdfa"/><stop offset="0.707" stop-color="#fbfdff"/><stop offset="0.772" stop-color="#c6e2ff"/><stop offset="0.837" stop-color="#83b3ff"/><stop offset="0.848" stop-color="#79abff"/><stop offset="0.891" stop-color="#5885ff"/><stop offset="0.924" stop-color="#446eff"/><stop offset="0.957" stop-color="#365eff"/><stop offset="0.978" stop-color="#3256ff"/><stop offset="1" stop-color="#3053ff"/></linearGradient><linearGradient id="g80" gradientUnits="userSpaceOnUse" x1="360.80" x2="451.80" y1="0" y2="0" spreadMethod="reflect"><stop offset="0" stop-color="#7e0026"/><stop offset="0.065" stop-color="#820025"/><stop offset="0.13" stop-color="#8d0021"/><stop offset="0.196" stop-color="#a0001c"/><stop offset="0.261" stop-color="#bb0014"/><stop offset="0.326" stop-color="#dc000a"/><stop offset="0.38" stop-color="#fd0001"/><stop offset="0.391" stop-color="#ff0704"/><stop offset="0.446" stop-color="#ff3f24"/><stop offset="0.478" stop-color="#ff623a"/><stop offset="0.554" stop-color="#ffac7b"/><stop offset="0.63" stop-color="#ffe3c9"/><stop offset="0.696" stop-color="#fffffe"/><stop offset="0.761" stop-color="#c9e4ff"/><stop offset="0.837" stop-color="#7aacff"/><stop offset="0.88" stop-color="#5582ff"/><stop offset="0.913" stop-color="#3f68ff"/><stop offset="0.935" stop-color="#3358ff"/><stop offset="0.957" stop-color="#2b4bff"/><stop offset="0.978" stop-color="#2743ff"/><stop offset="1" stop-color="#2540ff"/></linearGradient><linearGradient id="g81" gradientUnits="userSpaceOnUse" x1="360.80" x2="451.80" y1="0" y2="0" spreadMethod="reflect"><stop offset="0" stop-color="#7e0026"/><stop offset="0.065" stop-color="#820025"/><stop offset="0.13" stop-color="#8d0021"/><stop offset="0.196" stop-color="#a1001c"/><stop offset="0.261" stop-color="#bb0014"/><stop offset="0.326" stop-color="#dd000a"/><stop offset="0.38" stop-color="#fe0000"/><stop offset="0.391" stop-color="#ff0905"/><stop offset="0.446" stop-color="#ff4126"/><stop offset="0.478" stop-color="#ff643c"/><stop offset="0.543" stop-color="#ffa473"/><stop offset="0.554" stop-color="#ffae7d"/><stop offset="0.62" stop-color="#ffdfc2"/><stop offset="0.652" stop-color="#ffeede"/><stop offset="0.685" stop-color="#fffcf9"/><stop offset="0.696" stop-color="#fcfdff"/><stop offset="0.761" stop-color="#c3e0ff"/><stop offset="0.826" stop-color="#7cadff"/><stop offset="0.88" stop-color="#4b77ff"/><stop offset="0.913" stop-color="#345aff"/><stop offset="0.935" stop-color="#2947ff"/><stop offset="0.957" stop-color="#2139ff"/><stop offset="0.978" stop-color="#1c30ff"/><stop offset="1" stop-color="#1a2dff"/></linearGradient><linearGradient id="g82" gradientUnits="userSpaceOnUse" x1="360.80" x2="451.80" y1="0" y2="0" spreadMethod="reflect"><stop offset="0" stop-color="#7e0026"/><stop offset="0.065" stop-color="#820025"/><stop offset="0.13" stop-color="#8e0021"/><stop offset="0.196" stop-color="#a1001c"/><stop offset="0.261" stop-color="#bc0014"/><stop offset="0.326" stop-color="#dd000a"/><stop offset="0.38" stop-color="#ff0000"/><stop offset="0.424" stop-color="#ff2b19"/><stop offset="0.467" stop-color="#ff5b35"/><stop offset="0.533" stop-color="#ff9c6c"/><stop offset="0.554" stop-color="#ffb080"/><stop offset="0.62" stop-color="#ffe1c5"/><stop offset="0.685" stop-color="#fffefd"/><stop offset="0.696" stop-color="#f8fbff"/><stop offset="0.75" stop-color="#c9e3ff"/><stop offset="0.815" stop-color="#7fb0ff"/><stop offset="0.87" stop-color="#4b76ff"/><stop offset="0.891" stop-color="#3961ff"/><stop offset="0.924" stop-color="#253fff"/><stop offset="0.946" stop-color="#1a2eff"/><stop offset="0.967" stop-color="#1321ff"/><stop offset="0.989" stop-color="#0f1aff"/><stop offset="1" stop-color="#0f19ff"/></linearGradient><linearGradient id="g83" gradientUnits="userSpaceOnUse" x1="360.80" x2="451.80" y1="0" y2="0" spreadMethod="reflect"><stop offset="0" stop-color="#7e0026"/><stop offset="0.065" stop-color="#820025"/><stop offset="0.13" stop-color="#8e0021"/><stop offset="0.196" stop-color="#a1001c"/><stop offset="0.261" stop-color="#bc0014"/><stop offset="0.326" stop-color="#de000a"/><stop offset="0.38" stop-color="#ff0100"/><stop offset="0.435" stop-color="#ff3921"/><stop offset="0.467" stop-color="#ff5e36"/><stop offset="0.543" stop-color="#ffa978"/><stop offset="0.62" stop-color="#ffe3c8"/><stop offset="0.685" stop-color="#feffff"/><stop offset="0.75" stop-color="#c4e0ff"/><stop offset="0.815" stop-color="#78a9ff"/><stop offset="0.87" stop-color="#426cff"/><stop offset="0.891" stop-color="#3054ff"/><stop offset="0.924" stop-color="#1b2fff"/><stop offset="0.946" stop-color="#101cff"/><stop offset="0.967" stop-color="#080eff"/><stop offset="0.989" stop-color="#0407ff"/><stop offset="1" stop-color="#0306ff"/></linearGradient><linearGradient id="g84" gradientUnits="userSpaceOnUse" x1="360.80" x2="451.80" y1="0" y2="0" spreadMethod="reflect"><stop offset="0" stop-color="#7e0026"/><stop offset="0.065" stop-color="#820025"/><stop offset="0.13" stop-color="#8e0021"/><stop offset="0.196" stop-color="#a1001c"/><stop offset="0.261" stop-color="#bc0014"/><stop offset="0.326" stop-color="#df000a"/><stop offset="0.37" stop-color="#f90002"/><stop offset="0.38" stop-color="#ff0201"/><stop offset="0.435" stop-color="#ff3b22"/><stop offset="0.467" stop-color="#ff5f37"/><stop offset="0.533" stop-color="#ffa070"/><stop offset="0.543" stop-color="#ffac7a"/><stop offset="0.609" stop-color="#ffddbf"/><stop offset="0.62" stop-color="#ffe4ca"/><stop offset="0.674" stop-color="#fffcf9"/><stop offset="0.685" stop-color="#fbfdff"/><stop offset="0.739" stop-color="#cae4ff"/><stop offset="0.761" stop-color="#b1d3ff"/><stop offset="0.804" stop-color="#7daeff"/><stop offset="0.87" stop-color="#3a63ff"/><stop offset="0.913" stop-color="#192cff"/><stop offset="0.935" stop-color="#0c15ff"/><stop offset="0.957" stop-color="#0102ff"/><stop offset="0.967" stop-color="#0100fc"/><stop offset="0.989" stop-color="#0300f7"/><stop offset="1" stop-color="#0300f7"/></linearGradient><linearGradient id="g85" gradientUnits="userSpaceOnUse" x1="360.80" x2="451.80" y1="0" y2="0" spreadMethod="reflect"><stop offset="0" stop-color="#7e0026"/><stop offset="0.065" stop-color="#820025"/><stop offset="0.13" stop-color="#8e0021"/><stop offset="0.196" stop-color="#a1001c"/><stop offset="0.261" stop-color="#bd0014"/><stop offset="0.326" stop-color="#df0009"/><stop offset="0.37" stop-color="#fa0002"/><stop offset="0.38" stop-color="#ff0302"/><stop offset="0.435" stop-color="#ff3c23"/><stop offset="0.467" stop-color="#ff6139"/><stop offset="0.533" stop-color="#ffa271"/><stop offset="0.543" stop-color="#ffad7b"/><stop offset="0.609" stop-color="#ffdfc2"/><stop offset="0.663" stop-color="#fff8f2"/><stop offset="0.674" stop-color="#fffdfc"/><stop offset="0.685" stop-color="#f8fcff"/><stop offset="0.739" stop-color="#c7e2ff"/><stop offset="0.804" stop-color="#77a9ff"/><stop offset="0.859" stop-color="#3d66ff"/><stop offset="0.891" stop-color="#223aff"/><stop offset="0.924" stop-color="#0a11ff"/><stop offset="0.935" stop-color="#0305ff"/><stop offset="0.946" stop-color="#0100fb"/><stop offset="0.967" stop-color="#0600f1"/><stop offset="0.989" stop-color="#0800eb"/><stop offset="1" stop-color="#0800eb"/></linearGradient><linearGradient id="g86" gradientUnits="userSpaceOnUse" x1="360.80" x2="451.80" y1="0" y2="0" spreadMethod="reflect"><stop offset="0" stop-color="#7e0026"/><stop offset="0.065" stop-color="#820025"/><stop offset="0.13" stop-color="#8e0021"/><stop offset="0.196" stop-color="#a2001b"/><stop offset="0.261" stop-color="#bd0013"/><stop offset="0.326" stop-color="#e00009"/><stop offset="0.37" stop-color="#fb0001"/><stop offset="0.38" stop-color="#ff0402"/><stop offset="0.435" stop-color="#ff3d23"/><stop offset="0.467" stop-color="#ff623a"/><stop offset="0.533" stop-color="#ffa473"/><stop offset="0.543" stop-color="#ffae7d"/><stop offset="0.609" stop-color="#ffe1c4"/><stop offset="0.674" stop-color="#fffffe"/><stop offset="0.728" stop-color="#cee6ff"/><stop offset="0.739" stop-color="#c3e0ff"/><stop offset="0.793" stop-color="#7fb0ff"/><stop offset="0.815" stop-color="#6695ff"/><stop offset="0.859" stop-color="#375fff"/><stop offset="0.902" stop-color="#121fff"/><stop offset="0.924" stop-color="#0102ff"/><stop offset="0.935" stop-color="#0300f9"/><stop offset="0.957" stop-color="#0800eb"/><stop offset="0.978" stop-color="#0b00e2"/><stop offset="1" stop-color="#0d00df"/></linearGradient><linearGradient id="g87" gradientUnits="userSpaceOnUse" x1="360.80" x2="451.80" y1="0" y2="0" spreadMethod="reflect"><stop offset="0" stop-color="#7e0026"/><stop offset="0.054" stop-color="#810025"/><stop offset="0.12" stop-color="#8b0022"/><stop offset="0.185" stop-color="#9e001d"/><stop offset="0.25" stop-color="#b80015"/><stop offset="0.315" stop-color="#da000b"/><stop offset="0.37" stop-color="#fb0001"/><stop offset="0.38" stop-color="#ff0503"/><stop offset="0.435" stop-color="#ff3e24"/><stop offset="0.467" stop-color="#ff633b"/><stop offset="0.533" stop-color="#ffa574"/><stop offset="0.554" stop-color="#ffb88a"/><stop offset="0.609" stop-color="#ffe2c6"/><stop offset="0.674" stop-color="#fefeff"/><stop offset="0.728" stop-color="#cbe5ff"/><stop offset="0.739" stop-color="#bfddff"/><stop offset="0.793" stop-color="#7aacff"/><stop offset="0.848" stop-color="#3d66ff"/><stop offset="0.891" stop-color="#1524ff"/><stop offset="0.913" stop-color="#0204ff"/><stop offset="0.924" stop-color="#0300f8"/><stop offset="0.957" stop-color="#0c00e1"/><stop offset="0.978" stop-color="#1000d6"/><stop offset="1" stop-color="#1100d3"/></linearGradient><linearGradient id="g88" gradientUnits="userSpaceOnUse" x1="360.80" x2="451.80" y1="0" y2="0" spreadMethod="reflect"><stop offset="0" stop-color="#7e0026"/><stop offset="0.054" stop-color="#810025"/><stop offset="0.12" stop-color="#8b0022"/><stop offset="0.185" stop-color="#9e001d"/><stop offset="0.25" stop-color="#b80015"/><stop offset="0.315" stop-color="#da000b"/><stop offset="0.37" stop-color="#fc0001"/><stop offset="0.38" stop-color="#ff0603"/><stop offset="0.435" stop-color="#ff3f25"/><stop offset="0.467" stop-color="#ff643b"/><stop offset="0.533" stop-color="#ffa675"/><stop offset="0.554" stop-color="#ffb88c"/><stop offset="0.609" stop-color="#ffe3c7"/><stop offset="0.663" stop-color="#fffbf8"/><stop offset="0.674" stop-color="#fcfeff"/><stop offset="0.728" stop-color="#c9e4ff"/><stop offset="0.761" stop-color="#a0c7ff"/><stop offset="0.793" stop-color="#77a8ff"/><stop offset="0.848" stop-color="#3860ff"/><stop offset="0.902" stop-color="#0509ff"/><stop offset="0.913" stop-color="#0200fb"/><stop offset="0.946" stop-color="#0d00df"/><stop offset="0.967" stop-color="#1200d0"/><stop offset="0.989" stop-color="#1600c8"/><stop offset="1" stop-color="#1600c6"/></linearGradient><linearGradient id="g89" gradientUnits="userSpaceOnUse" x1="360.80" x2="451.80" y1="0" y2="0" spreadMethod="reflect"><stop offset="0" stop-color="#7e0026"/><stop offset="0.054" stop-color="#810025"/><stop offset="0.12" stop-color="#8c0022"/><stop offset="0.185" stop-color="#9e001d"/><stop offset="0.25" stop-color="#b90015"/><stop offset="0.315" stop-color="#da000b"/><stop offset="0.37" stop-color="#fc0001"/><stop offset="0.38" stop-color="#ff0604"/><stop offset="0.435" stop-color="#ff4025"/><stop offset="0.467" stop-color="#ff653c"/><stop offset="0.533" stop-color="#ffa776"/><stop offset="0.598" stop-color="#ffdbbd"/><stop offset="0.609" stop-color="#ffe3c8"/><stop offset="0.663" stop-color="#fffcf9"/><stop offset="0.674" stop-color="#fbfdff"/><stop offset="0.728" stop-color="#c7e3ff"/><stop offset="0.783" stop-color="#81b1ff"/><stop offset="0.793" stop-color="#74a5ff"/><stop offset="0.848" stop-color="#345bff"/><stop offset="0.902" stop-color="#0001ff"/><stop offset="0.946" stop-color="#1000d7"/><stop offset="0.967" stop-color="#1600c6"/><stop offset="0.978" stop-color="#1900c0"/><stop offset="0.989" stop-color="#1a00bc"/><stop offset="1" stop-color="#1b00ba"/></linearGradient><linearGradient id="g90" gradientUnits="userSpaceOnUse" x1="360.80" x2="451.80" y1="0" y2="0" spreadMethod="reflect"><stop offset="0" stop-color="#7e0026"/><stop offset="0.054" stop-color="#810025"/><stop offset="0.109" stop-color="#890023"/><stop offset="0.174" stop-color="#9b001e"/><stop offset="0.239" stop-color="#b40016"/><stop offset="0.304" stop-color="#d4000d"/><stop offset="0.37" stop-color="#fc0001"/><stop offset="0.38" stop-color="#ff0704"/><stop offset="0.435" stop-color="#ff4126"/><stop offset="0.467" stop-color="#ff653c"/><stop offset="0.533" stop-color="#ffa877"/><stop offset="0.598" stop-color="#ffdcbe"/><stop offset="0.609" stop-color="#ffe4c9"/><stop offset="0.663" stop-color="#fffdfa"/><stop offset="0.674" stop-color="#fafcff"/><stop offset="0.728" stop-color="#c6e2ff"/><stop offset="0.783" stop-color="#7fafff"/><stop offset="0.804" stop-color="#6593ff"/><stop offset="0.837" stop-color="#3e67ff"/><stop offset="0.859" stop-color="#2743ff"/><stop offset="0.891" stop-color="#070cff"/><stop offset="0.902" stop-color="#0200fb"/><stop offset="0.957" stop-color="#1600c6"/><stop offset="0.978" stop-color="#1d00b5"/><stop offset="0.989" stop-color="#1f00b0"/><stop offset="1" stop-color="#2000ae"/></linearGradient><linearGradient id="g91" gradientUnits="userSpaceOnUse" x1="360.80" x2="451.80" y1="0" y2="0" spreadMethod="reflect"><stop offset="0" stop-color="#7e0026"/><stop offset="0.054" stop-color="#810025"/><stop offset="0.109" stop-color="#890023"/><stop offset="0.174" stop-color="#9b001e"/><stop offset="0.239" stop-color="#b40016"/><stop offset="0.304" stop-color="#d4000d"/><stop offset="0.37" stop-color="#fc0001"/><stop offset="0.38" stop-color="#ff0704"/><stop offset="0.435" stop-color="#ff4126"/><stop offset="0.467" stop-color="#ff663d"/><stop offset="0.533" stop-color="#ffa977"/><stop offset="0.598" stop-color="#ffddbf"/><stop offset="0.609" stop-color="#ffe4ca"/><stop offset="0.663" stop-color="#fffdfb"/><stop offset="0.674" stop-color="#f9fcff"/><stop offset="0.728" stop-color="#c4e1ff"/><stop offset="0.783" stop-color="#7daeff"/><stop offset="0.837" stop-color="#3b64ff"/><stop offset="0.88" stop-color="#0f1aff"/><stop offset="0.891" stop-color="#0407ff"/><stop offset="0.902" stop-color="#0300f8"/><stop offset="0.957" stop-color="#1900c0"/><stop offset="0.978" stop-color="#2100ac"/><stop offset="0.989" stop-color="#2300a5"/><stop offset="1" stop-color="#2400a2"/></linearGradient><linearGradient id="g92" gradientUnits="userSpaceOnUse" x1="360.80" x2="451.80" y1="0" y2="0" spreadMethod="reflect"><stop offset="0" stop-color="#7e0026"/><stop offset="0.054" stop-color="#810025"/><stop offset="0.109" stop-color="#890023"/><stop offset="0.174" stop-color="#9b001e"/><stop offset="0.239" stop-color="#b40016"/><stop offset="0.304" stop-color="#d5000c"/><stop offset="0.37" stop-color="#fd0001"/><stop offset="0.38" stop-color="#ff0704"/><stop offset="0.435" stop-color="#ff4126"/><stop offset="0.467" stop-color="#ff663d"/><stop offset="0.533" stop-color="#ffa977"/><stop offset="0.598" stop-color="#ffddbf"/><stop offset="0.609" stop-color="#ffe4ca"/><stop offset="0.663" stop-color="#fffdfb"/><stop offset="0.674" stop-color="#f8fcff"/><stop offset="0.728" stop-color="#c4e0ff"/><stop offset="0.783" stop-color="#7cadff"/><stop offset="0.837" stop-color="#3a63ff"/><stop offset="0.891" stop-color="#0204ff"/><stop offset="0.902" stop-color="#0400f6"/><stop offset="0.978" stop-color="#2300a5"/><stop offset="0.989" stop-color="#27009b"/><stop offset="1" stop-color="#290096"/></linearGradient><linearGradient id="g93" gradientUnits="userSpaceOnUse" x1="360.80" x2="451.80" y1="0" y2="0" spreadMethod="reflect"><stop offset="0" stop-color="#7e0026"/><stop offset="0.054" stop-color="#810025"/><stop offset="0.109" stop-color="#890023"/><stop offset="0.174" stop-color="#9b001e"/><stop offset="0.239" stop-color="#b40016"/><stop offset="0.304" stop-color="#d5000c"/><stop offset="0.37" stop-color="#fd0001"/><stop offset="0.38" stop-color="#ff0704"/><stop offset="0.435" stop-color="#ff4226"/><stop offset="0.467" stop-color="#ff663d"/><stop offset="0.533" stop-color="#ffa978"/><stop offset="0.598" stop-color="#ffddbf"/><stop offset="0.609" stop-color="#ffe4ca"/><stop offset="0.663" stop-color="#fffdfc"/><stop offset="0.674" stop-color="#f8fcff"/><stop offset="0.728" stop-color="#c3e0ff"/><stop offset="0.783" stop-color="#7cadff"/><stop offset="0.837" stop-color="#3a62ff"/><stop offset="0.891" stop-color="#0203ff"/><stop offset="0.902" stop-color="#0400f5"/><stop offset="1" stop-color="#2e008a"/></linearGradient><clipPath id="c94"><rect x="360.80" y="297.70" width="182.00" height="181.70"/></clipPath><linearGradient id="g95" gradientUnits="userSpaceOnUse" x1="360.80" x2="451.80" y1="0" y2="0" spreadMethod="reflect"><stop offset="0" stop-color="#2e008a"/><stop offset="1" stop-color="#2e008a"/></linearGradient><linearGradient id="g96" gradientUnits="userSpaceOnUse" x1="360.80" x2="451.80" y1="0" y2="0" spreadMethod="reflect"><stop offset="0" stop-color="#2e008a"/><stop offset="0.75" stop-color="#2a0094"/><stop offset="1" stop-color="#2a0094"/></linearGradient><linearGradient id="g97" gradientUnits="userSpaceOnUse" x1="360.80" x2="451.80" y1="0" y2="0" spreadMethod="reflect"><stop offset="0" stop-color="#2e008a"/><stop offset="0.565" stop-color="#27009b"/><stop offset="0.957" stop-color="#2500a0"/><stop offset="1" stop-color="#2500a0"/></linearGradient><linearGradient id="g98" gradientUnits="userSpaceOnUse" x1="360.80" x2="451.80" y1="0" y2="0" spreadMethod="reflect"><stop offset="0" stop-color="#2e008a"/><stop offset="0.489" stop-color="#2500a2"/><stop offset="0.815" stop-color="#2100ab"/><stop offset="1" stop-color="#2000ad"/></linearGradient><linearGradient id="g99" gradientUnits="userSpaceOnUse" x1="360.80" x2="451.80" y1="0" y2="0" spreadMethod="reflect"><stop offset="0" stop-color="#2e008a"/><stop offset="0.446" stop-color="#2200a8"/><stop offset="0.739" stop-color="#1d00b5"/><stop offset="1" stop-color="#1c00b9"/></linearGradient><linearGradient id="g100" gradientUnits="userSpaceOnUse" x1="360.80" x2="451.80" y1="0" y2="0" spreadMethod="reflect"><stop offset="0" stop-color="#2e008a"/><stop offset="0.413" stop-color="#2000ad"/><stop offset="0.674" stop-color="#1a00bd"/><stop offset="0.913" stop-color="#1700c4"/><stop offset="1" stop-color="#1700c5"/></linearGradient><linearGradient id="g101" gradientUnits="userSpaceOnUse" x1="360.80" x2="451.80" y1="0" y2="0" spreadMethod="reflect"><stop offset="0" stop-color="#2e008a"/><stop offset="0.38" stop-color="#1e00b2"/><stop offset="0.63" stop-color="#1700c5"/><stop offset="0.848" stop-color="#1300cf"/><stop offset="1" stop-color="#1200d1"/></linearGradient><linearGradient id="g102" gradientUnits="userSpaceOnUse" x1="360.80" x2="451.80" y1="0" y2="0" spreadMethod="reflect"><stop offset="0" stop-color="#2e008a"/><stop offset="0.359" stop-color="#1d00b6"/><stop offset="0.598" stop-color="#1400cd"/><stop offset="0.804" stop-color="#0f00d9"/><stop offset="1" stop-color="#0d00dd"/></linearGradient><linearGradient id="g103" gradientUnits="userSpaceOnUse" x1="360.80" x2="451.80" y1="0" y2="0" spreadMethod="reflect"><stop offset="0" stop-color="#2e008a"/><stop offset="0.348" stop-color="#1b00bb"/><stop offset="0.565" stop-color="#1100d4"/><stop offset="0.761" stop-color="#0b00e2"/><stop offset="0.946" stop-color="#0900e8"/><stop offset="1" stop-color="#0900e9"/></linearGradient><linearGradient id="g104" gradientUnits="userSpaceOnUse" x1="360.80" x2="451.80" y1="0" y2="0" spreadMethod="reflect"><stop offset="0" stop-color="#2e008a"/><stop offset="0.337" stop-color="#1900c0"/><stop offset="0.543" stop-color="#0e00da"/><stop offset="0.728" stop-color="#0800eb"/><stop offset="0.902" stop-color="#0500f4"/><stop offset="1" stop-color="#0400f5"/></linearGradient><linearGradient id="g105" gradientUnits="userSpaceOnUse" x1="360.80" x2="451.80" y1="0" y2="0" spreadMethod="reflect"><stop offset="0" stop-color="#2e008a"/><stop offset="0.315" stop-color="#1800c2"/><stop offset="0.522" stop-color="#0c00e1"/><stop offset="0.696" stop-color="#0500f3"/><stop offset="0.859" stop-color="#0000fe"/><stop offset="1" stop-color="#0203ff"/></linearGradient><linearGradient id="g106" gradientUnits="userSpaceOnUse" x1="360.80" x2="451.80" y1="0" y2="0" spreadMethod="reflect"><stop offset="0" stop-color="#2e008a"/><stop offset="0.304" stop-color="#1600c6"/><stop offset="0.5" stop-color="#0a00e6"/><stop offset="0.674" stop-color="#0100fc"/><stop offset="0.707" stop-color="#0000ff"/><stop offset="0.826" stop-color="#080eff"/><stop offset="0.946" stop-color="#0c16ff"/><stop offset="1" stop-color="#0d16ff"/></linearGradient><linearGradient id="g107" gradientUnits="userSpaceOnUse" x1="360.80" x2="451.80" y1="0" y2="0" spreadMethod="reflect"><stop offset="0" stop-color="#2e008a"/><stop offset="0.304" stop-color="#1400cc"/><stop offset="0.5" stop-color="#0600ef"/><stop offset="0.609" stop-color="#0000fe"/><stop offset="0.75" stop-color="#0e18ff"/><stop offset="0.87" stop-color="#1525ff"/><stop offset="0.978" stop-color="#182aff"/><stop offset="1" stop-color="#182aff"/></linearGradient><linearGradient id="g108" gradientUnits="userSpaceOnUse" x1="360.80" x2="451.80" y1="0" y2="0" spreadMethod="reflect"><stop offset="0" stop-color="#2e008a"/><stop offset="0.293" stop-color="#1300cf"/><stop offset="0.478" stop-color="#0500f3"/><stop offset="0.543" stop-color="#0000fe"/><stop offset="0.685" stop-color="#121fff"/><stop offset="0.793" stop-color="#1c30ff"/><stop offset="0.902" stop-color="#223aff"/><stop offset="1" stop-color="#233dff"/></linearGradient><linearGradient id="g109" gradientUnits="userSpaceOnUse" x1="360.80" x2="451.80" y1="0" y2="0" spreadMethod="reflect"><stop offset="0" stop-color="#2e008a"/><stop offset="0.283" stop-color="#1200d1"/><stop offset="0.467" stop-color="#0200f9"/><stop offset="0.5" stop-color="#0001ff"/><stop offset="0.62" stop-color="#1321ff"/><stop offset="0.728" stop-color="#2038ff"/><stop offset="0.837" stop-color="#2947ff"/><stop offset="0.946" stop-color="#2e4fff"/><stop offset="1" stop-color="#2f50ff"/></linearGradient><linearGradient id="g110" gradientUnits="userSpaceOnUse" x1="360.80" x2="451.80" y1="0" y2="0" spreadMethod="reflect"><stop offset="0" stop-color="#2e008a"/><stop offset="0.283" stop-color="#1000d6"/><stop offset="0.457" stop-color="#0000ff"/><stop offset="0.576" stop-color="#1625ff"/><stop offset="0.685" stop-color="#2541ff"/><stop offset="0.793" stop-color="#3154ff"/><stop offset="0.891" stop-color="#375fff"/><stop offset="1" stop-color="#3a63ff"/></linearGradient><linearGradient id="g111" gradientUnits="userSpaceOnUse" x1="360.80" x2="451.80" y1="0" y2="0" spreadMethod="reflect"><stop offset="0" stop-color="#2e008a"/><stop offset="0.272" stop-color="#0f00d8"/><stop offset="0.424" stop-color="#0000ff"/><stop offset="0.543" stop-color="#192aff"/><stop offset="0.652" stop-color="#2b4aff"/><stop offset="0.75" stop-color="#375fff"/><stop offset="0.859" stop-color="#426cff"/><stop offset="0.967" stop-color="#4772ff"/><stop offset="1" stop-color="#4872ff"/></linearGradient><linearGradient id="g112" gradientUnits="userSpaceOnUse" x1="360.80" x2="451.80" y1="0" y2="0" spreadMethod="reflect"><stop offset="0" stop-color="#2e008a"/><stop offset="0.272" stop-color="#0d00dd"/><stop offset="0.391" stop-color="#0000fe"/><stop offset="0.424" stop-color="#070cff"/><stop offset="0.543" stop-color="#2139ff"/><stop offset="0.652" stop-color="#345aff"/><stop offset="0.717" stop-color="#3f68ff"/><stop offset="0.826" stop-color="#4c78ff"/><stop offset="0.935" stop-color="#5480ff"/><stop offset="1" stop-color="#5582ff"/></linearGradient><linearGradient id="g113" gradientUnits="userSpaceOnUse" x1="360.80" x2="451.80" y1="0" y2="0" spreadMethod="reflect"><stop offset="0" stop-color="#2e008a"/><stop offset="0.261" stop-color="#0d00df"/><stop offset="0.37" stop-color="#0000ff"/><stop offset="0.5" stop-color="#2037ff"/><stop offset="0.609" stop-color="#365dff"/><stop offset="0.707" stop-color="#4973ff"/><stop offset="0.815" stop-color="#5885ff"/><stop offset="0.913" stop-color="#608eff"/><stop offset="1" stop-color="#6291ff"/></linearGradient><linearGradient id="g114" gradientUnits="userSpaceOnUse" x1="360.80" x2="451.80" y1="0" y2="0" spreadMethod="reflect"><stop offset="0" stop-color="#2e008a"/><stop offset="0.261" stop-color="#0b00e3"/><stop offset="0.348" stop-color="#0000ff"/><stop offset="0.478" stop-color="#223bff"/><stop offset="0.565" stop-color="#365dff"/><stop offset="0.663" stop-color="#4c77ff"/><stop offset="0.772" stop-color="#5f8dff"/><stop offset="0.87" stop-color="#6a9aff"/><stop offset="0.967" stop-color="#6fa0ff"/><stop offset="1" stop-color="#70a0ff"/></linearGradient><linearGradient id="g115" gradientUnits="userSpaceOnUse" x1="360.80" x2="451.80" y1="0" y2="0" spreadMethod="reflect"><stop offset="0" stop-color="#2e008a"/><stop offset="0.25" stop-color="#0b00e4"/><stop offset="0.326" stop-color="#0100fe"/><stop offset="0.337" stop-color="#0203ff"/><stop offset="0.457" stop-color="#243eff"/><stop offset="0.533" stop-color="#375fff"/><stop offset="0.641" stop-color="#537fff"/><stop offset="0.739" stop-color="#6695ff"/><stop offset="0.837" stop-color="#74a5ff"/><stop offset="0.924" stop-color="#7badff"/><stop offset="1" stop-color="#7daeff"/></linearGradient><linearGradient id="g116" gradientUnits="userSpaceOnUse" x1="360.80" x2="451.80" y1="0" y2="0" spreadMethod="reflect"><stop offset="0" stop-color="#2e008a"/><stop offset="0.25" stop-color="#0900e9"/><stop offset="0.315" stop-color="#0001ff"/><stop offset="0.435" stop-color="#2540ff"/><stop offset="0.511" stop-color="#3a62ff"/><stop offset="0.62" stop-color="#5986ff"/><stop offset="0.717" stop-color="#6e9fff"/><stop offset="0.793" stop-color="#7badff"/><stop offset="0.891" stop-color="#87b5ff"/><stop offset="0.989" stop-color="#8cb9ff"/><stop offset="1" stop-color="#8cb9ff"/></linearGradient><linearGradient id="g117" gradientUnits="userSpaceOnUse" x1="360.80" x2="451.80" y1="0" y2="0" spreadMethod="reflect"><stop offset="0" stop-color="#2e008a"/><stop offset="0.25" stop-color="#0700ed"/><stop offset="0.293" stop-color="#0100fd"/><stop offset="0.304" stop-color="#0203ff"/><stop offset="0.413" stop-color="#2540ff"/><stop offset="0.478" stop-color="#3861ff"/><stop offset="0.587" stop-color="#5a88ff"/><stop offset="0.685" stop-color="#73a4ff"/><stop offset="0.728" stop-color="#7daeff"/><stop offset="0.826" stop-color="#8ebaff"/><stop offset="0.924" stop-color="#98c1ff"/><stop offset="1" stop-color="#9ac3ff"/></linearGradient><linearGradient id="g118" gradientUnits="userSpaceOnUse" x1="360.80" x2="451.80" y1="0" y2="0" spreadMethod="reflect"><stop offset="0" stop-color="#2e008a"/><stop offset="0.239" stop-color="#0700ed"/><stop offset="0.283" stop-color="#0000fe"/><stop offset="0.304" stop-color="#070cff"/><stop offset="0.413" stop-color="#2b4bff"/><stop offset="0.457" stop-color="#3962ff"/><stop offset="0.565" stop-color="#5e8cff"/><stop offset="0.663" stop-color="#79abff"/><stop offset="0.761" stop-color="#91bcff"/><stop offset="0.859" stop-color="#a0c7ff"/><stop offset="0.946" stop-color="#a8ccff"/><stop offset="1" stop-color="#a9cdff"/></linearGradient><linearGradient id="g119" gradientUnits="userSpaceOnUse" x1="360.80" x2="451.80" y1="0" y2="0" spreadMethod="reflect"><stop offset="0" stop-color="#2e008a"/><stop offset="0.239" stop-color="#0600f1"/><stop offset="0.272" stop-color="#0000fe"/><stop offset="0.413" stop-color="#3256ff"/><stop offset="0.457" stop-color="#426bff"/><stop offset="0.565" stop-color="#6897ff"/><stop offset="0.63" stop-color="#7cadff"/><stop offset="0.728" stop-color="#97c0ff"/><stop offset="0.826" stop-color="#aaceff"/><stop offset="0.913" stop-color="#b4d5ff"/><stop offset="1" stop-color="#b7d8ff"/></linearGradient><linearGradient id="g120" gradientUnits="userSpaceOnUse" x1="360.80" x2="451.80" y1="0" y2="0" spreadMethod="reflect"><stop offset="0" stop-color="#2e008a"/><stop offset="0.239" stop-color="#0400f5"/><stop offset="0.261" stop-color="#0000fe"/><stop offset="0.402" stop-color="#345aff"/><stop offset="0.478" stop-color="#537fff"/><stop offset="0.576" stop-color="#76a7ff"/><stop offset="0.62" stop-color="#84b3ff"/><stop offset="0.717" stop-color="#a1c8ff"/><stop offset="0.804" stop-color="#b4d5ff"/><stop offset="0.891" stop-color="#c0deff"/><stop offset="0.978" stop-color="#c5e2ff"/><stop offset="1" stop-color="#c6e2ff"/></linearGradient><linearGradient id="g121" gradientUnits="userSpaceOnUse" x1="360.80" x2="451.80" y1="0" y2="0" spreadMethod="reflect"><stop offset="0" stop-color="#2e008a"/><stop offset="0.228" stop-color="#0400f4"/><stop offset="0.25" stop-color="#0000fe"/><stop offset="0.272" stop-color="#080eff"/><stop offset="0.38" stop-color="#3257ff"/><stop offset="0.413" stop-color="#4069ff"/><stop offset="0.522" stop-color="#6c9cff"/><stop offset="0.565" stop-color="#7cadff"/><stop offset="0.663" stop-color="#9ec6ff"/><stop offset="0.75" stop-color="#b6d7ff"/><stop offset="0.837" stop-color="#c7e2ff"/><stop offset="0.935" stop-color="#cfe7ff"/><stop offset="1" stop-color="#d0e7ff"/></linearGradient><linearGradient id="g122" gradientUnits="userSpaceOnUse" x1="360.80" x2="451.80" y1="0" y2="0" spreadMethod="reflect"><stop offset="0" stop-color="#2e008a"/><stop offset="0.228" stop-color="#0300f8"/><stop offset="0.239" stop-color="#0100fd"/><stop offset="0.25" stop-color="#0305ff"/><stop offset="0.359" stop-color="#3053ff"/><stop offset="0.391" stop-color="#3e67ff"/><stop offset="0.5" stop-color="#6d9dff"/><stop offset="0.533" stop-color="#7aabff"/><stop offset="0.63" stop-color="#9fc7ff"/><stop offset="0.717" stop-color="#bbdaff"/><stop offset="0.772" stop-color="#c8e3ff"/><stop offset="0.87" stop-color="#d5e9ff"/><stop offset="0.967" stop-color="#dbedff"/><stop offset="1" stop-color="#dbedff"/></linearGradient><linearGradient id="g123" gradientUnits="userSpaceOnUse" x1="360.80" x2="451.80" y1="0" y2="0" spreadMethod="reflect"><stop offset="0" stop-color="#2e008a"/><stop offset="0.228" stop-color="#0100fc"/><stop offset="0.239" stop-color="#0203ff"/><stop offset="0.348" stop-color="#3154ff"/><stop offset="0.38" stop-color="#4069ff"/><stop offset="0.489" stop-color="#71a2ff"/><stop offset="0.511" stop-color="#7aacff"/><stop offset="0.609" stop-color="#a3c9ff"/><stop offset="0.696" stop-color="#c1deff"/><stop offset="0.739" stop-color="#cbe5ff"/><stop offset="0.837" stop-color="#dbedff"/><stop offset="0.935" stop-color="#e4f1ff"/><stop offset="1" stop-color="#e6f2ff"/></linearGradient><linearGradient id="g124" gradientUnits="userSpaceOnUse" x1="360.80" x2="451.80" y1="0" y2="0" spreadMethod="reflect"><stop offset="0" stop-color="#2e008a"/><stop offset="0.217" stop-color="#0200fa"/><stop offset="0.228" stop-color="#0101ff"/><stop offset="0.337" stop-color="#3155ff"/><stop offset="0.37" stop-color="#416aff"/><stop offset="0.478" stop-color="#75a6ff"/><stop offset="0.5" stop-color="#7fafff"/><stop offset="0.598" stop-color="#aaceff"/><stop offset="0.674" stop-color="#c6e2ff"/><stop offset="0.772" stop-color="#dbedff"/><stop offset="0.87" stop-color="#e9f4ff"/><stop offset="0.967" stop-color="#f0f7ff"/><stop offset="1" stop-color="#f0f7ff"/></linearGradient><linearGradient id="g125" gradientUnits="userSpaceOnUse" x1="360.80" x2="451.80" y1="0" y2="0" spreadMethod="reflect"><stop offset="0" stop-color="#2e008a"/><stop offset="0.217" stop-color="#0000fe"/><stop offset="0.239" stop-color="#0910ff"/><stop offset="0.337" stop-color="#365eff"/><stop offset="0.435" stop-color="#6998ff"/><stop offset="0.478" stop-color="#7daeff"/><stop offset="0.576" stop-color="#accfff"/><stop offset="0.641" stop-color="#c6e2ff"/><stop offset="0.739" stop-color="#deeeff"/><stop offset="0.837" stop-color="#eff7ff"/><stop offset="0.935" stop-color="#f9fcff"/><stop offset="1" stop-color="#fbfdff"/></linearGradient><linearGradient id="g126" gradientUnits="userSpaceOnUse" x1="360.80" x2="451.80" y1="0" y2="0" spreadMethod="reflect"><stop offset="0" stop-color="#2e008a"/><stop offset="0.207" stop-color="#0100fc"/><stop offset="0.217" stop-color="#0204ff"/><stop offset="0.326" stop-color="#365eff"/><stop offset="0.424" stop-color="#6b9aff"/><stop offset="0.457" stop-color="#7badff"/><stop offset="0.554" stop-color="#add0ff"/><stop offset="0.609" stop-color="#c5e1ff"/><stop offset="0.696" stop-color="#deeeff"/><stop offset="0.793" stop-color="#f3f9ff"/><stop offset="0.88" stop-color="#ffffff"/><stop offset="0.978" stop-color="#fffcf9"/><stop offset="1" stop-color="#fffcf9"/></linearGradient><linearGradient id="g127" gradientUnits="userSpaceOnUse" x1="360.80" x2="451.80" y1="0" y2="0" spreadMethod="reflect"><stop offset="0" stop-color="#2e008a"/><stop offset="0.207" stop-color="#0000ff"/><stop offset="0.315" stop-color="#365dff"/><stop offset="0.413" stop-color="#6c9cff"/><stop offset="0.446" stop-color="#7eafff"/><stop offset="0.543" stop-color="#b2d3ff"/><stop offset="0.587" stop-color="#c6e2ff"/><stop offset="0.685" stop-color="#e4f1ff"/><stop offset="0.783" stop-color="#fafdff"/><stop offset="0.815" stop-color="#fffffe"/><stop offset="0.902" stop-color="#fff9f3"/><stop offset="0.989" stop-color="#fff7ef"/><stop offset="1" stop-color="#fff7ef"/></linearGradient><linearGradient id="g128" gradientUnits="userSpaceOnUse" x1="360.80" x2="451.80" y1="0" y2="0" spreadMethod="reflect"><stop offset="0" stop-color="#2e008a"/><stop offset="0.196" stop-color="#0100fc"/><stop offset="0.207" stop-color="#0305ff"/><stop offset="0.304" stop-color="#355cff"/><stop offset="0.391" stop-color="#6897ff"/><stop offset="0.424" stop-color="#79abff"/><stop offset="0.522" stop-color="#b0d3ff"/><stop offset="0.565" stop-color="#c6e2ff"/><stop offset="0.663" stop-color="#e6f3ff"/><stop offset="0.75" stop-color="#fdfeff"/><stop offset="0.761" stop-color="#ffffff"/><stop offset="0.848" stop-color="#fff7ef"/><stop offset="0.935" stop-color="#fff3e7"/><stop offset="1" stop-color="#fff2e5"/></linearGradient><linearGradient id="g129" gradientUnits="userSpaceOnUse" x1="360.80" x2="451.80" y1="0" y2="0" spreadMethod="reflect"><stop offset="0" stop-color="#2e008a"/><stop offset="0.196" stop-color="#0000ff"/><stop offset="0.293" stop-color="#345aff"/><stop offset="0.359" stop-color="#5b89ff"/><stop offset="0.413" stop-color="#7badff"/><stop offset="0.511" stop-color="#b4d5ff"/><stop offset="0.543" stop-color="#c5e2ff"/><stop offset="0.641" stop-color="#e8f3ff"/><stop offset="0.717" stop-color="#feffff"/><stop offset="0.826" stop-color="#fff4e9"/><stop offset="0.913" stop-color="#ffeedf"/><stop offset="1" stop-color="#ffeddb"/></linearGradient><linearGradient id="g130" gradientUnits="userSpaceOnUse" x1="360.80" x2="451.80" y1="0" y2="0" spreadMethod="reflect"><stop offset="0" stop-color="#2e008a"/><stop offset="0.185" stop-color="#0100fc"/><stop offset="0.196" stop-color="#0305ff"/><stop offset="0.293" stop-color="#3961ff"/><stop offset="0.391" stop-color="#75a6ff"/><stop offset="0.413" stop-color="#83b2ff"/><stop offset="0.511" stop-color="#bddcff"/><stop offset="0.533" stop-color="#c9e3ff"/><stop offset="0.63" stop-color="#edf6ff"/><stop offset="0.685" stop-color="#feffff"/><stop offset="0.793" stop-color="#fff2e5"/><stop offset="0.88" stop-color="#ffebd8"/><stop offset="0.967" stop-color="#ffe8d2"/><stop offset="1" stop-color="#ffe8d1"/></linearGradient><linearGradient id="g131" gradientUnits="userSpaceOnUse" x1="360.80" x2="451.80" y1="0" y2="0" spreadMethod="reflect"><stop offset="0" stop-color="#2e008a"/><stop offset="0.185" stop-color="#0000fe"/><stop offset="0.283" stop-color="#375eff"/><stop offset="0.38" stop-color="#75a6ff"/><stop offset="0.402" stop-color="#83b2ff"/><stop offset="0.5" stop-color="#c0deff"/><stop offset="0.522" stop-color="#cbe5ff"/><stop offset="0.62" stop-color="#f1f8ff"/><stop offset="0.663" stop-color="#fffffe"/><stop offset="0.75" stop-color="#fff2e6"/><stop offset="0.837" stop-color="#ffe9d4"/><stop offset="0.924" stop-color="#ffe4ca"/><stop offset="1" stop-color="#ffe3c7"/></linearGradient><linearGradient id="g132" gradientUnits="userSpaceOnUse" x1="360.80" x2="451.80" y1="0" y2="0" spreadMethod="reflect"><stop offset="0" stop-color="#2e008a"/><stop offset="0.174" stop-color="#0200fa"/><stop offset="0.185" stop-color="#0204ff"/><stop offset="0.272" stop-color="#355bff"/><stop offset="0.348" stop-color="#6796ff"/><stop offset="0.38" stop-color="#7cadff"/><stop offset="0.478" stop-color="#bcdbff"/><stop offset="0.5" stop-color="#c9e3ff"/><stop offset="0.598" stop-color="#f1f8ff"/><stop offset="0.63" stop-color="#fdfeff"/><stop offset="0.652" stop-color="#fffcf9"/><stop offset="0.739" stop-color="#ffefe0"/><stop offset="0.826" stop-color="#ffe6cd"/><stop offset="0.935" stop-color="#ffdcbe"/><stop offset="1" stop-color="#ffdabb"/></linearGradient><linearGradient id="g133" gradientUnits="userSpaceOnUse" x1="360.80" x2="451.80" y1="0" y2="0" spreadMethod="reflect"><stop offset="0" stop-color="#2e008a"/><stop offset="0.174" stop-color="#0100fd"/><stop offset="0.185" stop-color="#0508ff"/><stop offset="0.272" stop-color="#3961ff"/><stop offset="0.37" stop-color="#7badff"/><stop offset="0.467" stop-color="#bedcff"/><stop offset="0.489" stop-color="#cae4ff"/><stop offset="0.587" stop-color="#f5faff"/><stop offset="0.609" stop-color="#fdfeff"/><stop offset="0.63" stop-color="#fffcf9"/><stop offset="0.717" stop-color="#ffeedd"/><stop offset="0.804" stop-color="#ffe3c8"/><stop offset="0.891" stop-color="#ffd7b7"/><stop offset="0.967" stop-color="#ffd2af"/><stop offset="1" stop-color="#ffd1af"/></linearGradient><linearGradient id="g134" gradientUnits="userSpaceOnUse" x1="360.80" x2="451.80" y1="0" y2="0" spreadMethod="reflect"><stop offset="0" stop-color="#2e008a"/><stop offset="0.174" stop-color="#0101ff"/><stop offset="0.261" stop-color="#365dff"/><stop offset="0.348" stop-color="#72a3ff"/><stop offset="0.359" stop-color="#7aabff"/><stop offset="0.457" stop-color="#bfddff"/><stop offset="0.467" stop-color="#c6e2ff"/><stop offset="0.565" stop-color="#f3f9ff"/><stop offset="0.587" stop-color="#fcfeff"/><stop offset="0.598" stop-color="#fffefd"/><stop offset="0.685" stop-color="#ffeede"/><stop offset="0.783" stop-color="#ffe0c3"/><stop offset="0.859" stop-color="#ffd3b0"/><stop offset="0.935" stop-color="#ffcba5"/><stop offset="1" stop-color="#ffc9a2"/></linearGradient><linearGradient id="g135" gradientUnits="userSpaceOnUse" x1="360.80" x2="451.80" y1="0" y2="0" spreadMethod="reflect"><stop offset="0" stop-color="#2e008a"/><stop offset="0.163" stop-color="#0200fb"/><stop offset="0.174" stop-color="#0305ff"/><stop offset="0.261" stop-color="#3a62ff"/><stop offset="0.348" stop-color="#78aaff"/><stop offset="0.435" stop-color="#b8d8ff"/><stop offset="0.457" stop-color="#c7e2ff"/><stop offset="0.554" stop-color="#f6faff"/><stop offset="0.576" stop-color="#ffffff"/><stop offset="0.663" stop-color="#ffeede"/><stop offset="0.75" stop-color="#ffdfc2"/><stop offset="0.826" stop-color="#ffcfac"/><stop offset="0.902" stop-color="#ffc59d"/><stop offset="0.967" stop-color="#ffc197"/><stop offset="1" stop-color="#ffc096"/></linearGradient><linearGradient id="g136" gradientUnits="userSpaceOnUse" x1="360.80" x2="451.80" y1="0" y2="0" spreadMethod="reflect"><stop offset="0" stop-color="#2e008a"/><stop offset="0.163" stop-color="#0100fd"/><stop offset="0.174" stop-color="#0509ff"/><stop offset="0.25" stop-color="#365dff"/><stop offset="0.337" stop-color="#76a7ff"/><stop offset="0.359" stop-color="#86b5ff"/><stop offset="0.446" stop-color="#c7e2ff"/><stop offset="0.543" stop-color="#f8fbff"/><stop offset="0.554" stop-color="#fdfeff"/><stop offset="0.565" stop-color="#fffefd"/><stop offset="0.652" stop-color="#ffecda"/><stop offset="0.717" stop-color="#ffe0c3"/><stop offset="0.793" stop-color="#ffcda9"/><stop offset="0.87" stop-color="#ffc097"/><stop offset="0.935" stop-color="#ffba8d"/><stop offset="1" stop-color="#ffb88a"/></linearGradient><linearGradient id="g137" gradientUnits="userSpaceOnUse" x1="360.80" x2="451.80" y1="0" y2="0" spreadMethod="reflect"><stop offset="0" stop-color="#2e008a"/><stop offset="0.163" stop-color="#0001ff"/><stop offset="0.25" stop-color="#3a62ff"/><stop offset="0.337" stop-color="#7badff"/><stop offset="0.424" stop-color="#bfddff"/><stop offset="0.435" stop-color="#c7e2ff"/><stop offset="0.533" stop-color="#f9fcff"/><stop offset="0.543" stop-color="#feffff"/><stop offset="0.641" stop-color="#ffead6"/><stop offset="0.685" stop-color="#ffe2c6"/><stop offset="0.761" stop-color="#ffcda8"/><stop offset="0.837" stop-color="#ffbd92"/><stop offset="0.902" stop-color="#ffb486"/><stop offset="0.967" stop-color="#ffb07f"/><stop offset="1" stop-color="#ffaf7e"/></linearGradient><linearGradient id="g138" gradientUnits="userSpaceOnUse" x1="360.80" x2="451.80" y1="0" y2="0" spreadMethod="reflect"><stop offset="0" stop-color="#2e008a"/><stop offset="0.152" stop-color="#0200fa"/><stop offset="0.163" stop-color="#0305ff"/><stop offset="0.239" stop-color="#355cff"/><stop offset="0.326" stop-color="#78aaff"/><stop offset="0.413" stop-color="#bedcff"/><stop offset="0.424" stop-color="#c6e2ff"/><stop offset="0.522" stop-color="#fafdff"/><stop offset="0.533" stop-color="#fffffe"/><stop offset="0.62" stop-color="#ffebd7"/><stop offset="0.663" stop-color="#ffe2c6"/><stop offset="0.739" stop-color="#ffcba5"/><stop offset="0.804" stop-color="#ffbb8f"/><stop offset="0.87" stop-color="#ffb080"/><stop offset="0.924" stop-color="#ffa977"/><stop offset="0.989" stop-color="#ffa574"/><stop offset="1" stop-color="#ffa574"/></linearGradient><linearGradient id="g139" gradientUnits="userSpaceOnUse" x1="360.80" x2="451.80" y1="0" y2="0" spreadMethod="reflect"><stop offset="0" stop-color="#2e008a"/><stop offset="0.152" stop-color="#0100fc"/><stop offset="0.163" stop-color="#0508ff"/><stop offset="0.239" stop-color="#3961ff"/><stop offset="0.315" stop-color="#75a6ff"/><stop offset="0.337" stop-color="#87b5ff"/><stop offset="0.413" stop-color="#c5e1ff"/><stop offset="0.5" stop-color="#f6faff"/><stop offset="0.522" stop-color="#fffefd"/><stop offset="0.609" stop-color="#ffe9d5"/><stop offset="0.652" stop-color="#ffdfc2"/><stop offset="0.728" stop-color="#ffc69f"/><stop offset="0.793" stop-color="#ffb688"/><stop offset="0.859" stop-color="#ffa977"/><stop offset="0.924" stop-color="#ff9d6d"/><stop offset="0.989" stop-color="#ff9969"/><stop offset="1" stop-color="#ff9969"/></linearGradient><linearGradient id="g140" gradientUnits="userSpaceOnUse" x1="360.80" x2="451.80" y1="0" y2="0" spreadMethod="reflect"><stop offset="0" stop-color="#2e008a"/><stop offset="0.152" stop-color="#0000fe"/><stop offset="0.196" stop-color="#1e33ff"/><stop offset="0.228" stop-color="#345aff"/><stop offset="0.293" stop-color="#6998ff"/><stop offset="0.315" stop-color="#7aacff"/><stop offset="0.402" stop-color="#c3e0ff"/><stop offset="0.467" stop-color="#eaf4ff"/><stop offset="0.5" stop-color="#fcfdff"/><stop offset="0.511" stop-color="#fffefd"/><stop offset="0.598" stop-color="#ffe8d2"/><stop offset="0.63" stop-color="#ffe0c4"/><stop offset="0.707" stop-color="#ffc69e"/><stop offset="0.772" stop-color="#ffb384"/><stop offset="0.826" stop-color="#ffa574"/><stop offset="0.891" stop-color="#ff9768"/><stop offset="0.957" stop-color="#ff8f61"/><stop offset="1" stop-color="#ff8d5f"/></linearGradient><linearGradient id="g141" gradientUnits="userSpaceOnUse" x1="360.80" x2="451.80" y1="0" y2="0" spreadMethod="reflect"><stop offset="0" stop-color="#2e008a"/><stop offset="0.141" stop-color="#0300f8"/><stop offset="0.152" stop-color="#0102ff"/><stop offset="0.228" stop-color="#375fff"/><stop offset="0.304" stop-color="#76a7ff"/><stop offset="0.326" stop-color="#89b6ff"/><stop offset="0.391" stop-color="#c0deff"/><stop offset="0.413" stop-color="#cfe7ff"/><stop offset="0.489" stop-color="#fcfdff"/><stop offset="0.5" stop-color="#fffefc"/><stop offset="0.587" stop-color="#ffe7d1"/><stop offset="0.609" stop-color="#ffe2c7"/><stop offset="0.685" stop-color="#ffc69e"/><stop offset="0.75" stop-color="#ffb282"/><stop offset="0.804" stop-color="#ffa170"/><stop offset="0.87" stop-color="#ff9061"/><stop offset="0.935" stop-color="#ff8558"/><stop offset="1" stop-color="#ff8255"/></linearGradient><linearGradient id="g142" gradientUnits="userSpaceOnUse" x1="360.80" x2="451.80" y1="0" y2="0" spreadMethod="reflect"><stop offset="0" stop-color="#2e008a"/><stop offset="0.141" stop-color="#0200fa"/><stop offset="0.152" stop-color="#0305ff"/><stop offset="0.217" stop-color="#3256ff"/><stop offset="0.239" stop-color="#446eff"/><stop offset="0.304" stop-color="#7aacff"/><stop offset="0.391" stop-color="#c6e2ff"/><stop offset="0.478" stop-color="#fbfdff"/><stop offset="0.489" stop-color="#fffefd"/><stop offset="0.576" stop-color="#ffe7cf"/><stop offset="0.598" stop-color="#ffe1c5"/><stop offset="0.674" stop-color="#ffc39a"/><stop offset="0.739" stop-color="#ffae7c"/><stop offset="0.804" stop-color="#ff9667"/><stop offset="0.87" stop-color="#ff8558"/><stop offset="0.935" stop-color="#ff7a4f"/><stop offset="1" stop-color="#ff774c"/></linearGradient><linearGradient id="g143" gradientUnits="userSpaceOnUse" x1="360.80" x2="451.80" y1="0" y2="0" spreadMethod="reflect"><stop offset="0" stop-color="#2e008a"/><stop offset="0.141" stop-color="#0100fc"/><stop offset="0.152" stop-color="#0508ff"/><stop offset="0.217" stop-color="#355bff"/><stop offset="0.293" stop-color="#76a7ff"/><stop offset="0.315" stop-color="#89b7ff"/><stop offset="0.38" stop-color="#c3e0ff"/><stop offset="0.457" stop-color="#f4f9ff"/><stop offset="0.478" stop-color="#fffefd"/><stop offset="0.565" stop-color="#ffe6ce"/><stop offset="0.587" stop-color="#ffe0c3"/><stop offset="0.663" stop-color="#ffc097"/><stop offset="0.728" stop-color="#ffa978"/><stop offset="0.793" stop-color="#ff8f61"/><stop offset="0.859" stop-color="#ff7d51"/><stop offset="0.924" stop-color="#ff7146"/><stop offset="0.989" stop-color="#ff6c42"/><stop offset="1" stop-color="#ff6c42"/></linearGradient><linearGradient id="g144" gradientUnits="userSpaceOnUse" x1="360.80" x2="451.80" y1="0" y2="0" spreadMethod="reflect"><stop offset="0" stop-color="#2e008a"/><stop offset="0.141" stop-color="#0100fd"/><stop offset="0.152" stop-color="#070bff"/><stop offset="0.217" stop-color="#375fff"/><stop offset="0.293" stop-color="#7aacff"/><stop offset="0.37" stop-color="#c0deff"/><stop offset="0.38" stop-color="#c9e3ff"/><stop offset="0.457" stop-color="#f9fcff"/><stop offset="0.467" stop-color="#fffffe"/><stop offset="0.554" stop-color="#ffe6ce"/><stop offset="0.576" stop-color="#ffdfc1"/><stop offset="0.652" stop-color="#ffbe93"/><stop offset="0.707" stop-color="#ffaa78"/><stop offset="0.772" stop-color="#ff8d5f"/><stop offset="0.837" stop-color="#ff784d"/><stop offset="0.902" stop-color="#ff6940"/><stop offset="0.967" stop-color="#ff623a"/><stop offset="1" stop-color="#ff6139"/></linearGradient><linearGradient id="g145" gradientUnits="userSpaceOnUse" x1="360.80" x2="451.80" y1="0" y2="0" spreadMethod="reflect"><stop offset="0" stop-color="#2e008a"/><stop offset="0.141" stop-color="#0000ff"/><stop offset="0.207" stop-color="#3256ff"/><stop offset="0.228" stop-color="#446eff"/><stop offset="0.283" stop-color="#74a6ff"/><stop offset="0.293" stop-color="#7eafff"/><stop offset="0.37" stop-color="#c5e2ff"/><stop offset="0.457" stop-color="#feffff"/><stop offset="0.554" stop-color="#ffe3c8"/><stop offset="0.63" stop-color="#ffc197"/><stop offset="0.685" stop-color="#ffab79"/><stop offset="0.75" stop-color="#ff8c5e"/><stop offset="0.815" stop-color="#ff7449"/><stop offset="0.88" stop-color="#ff633a"/><stop offset="0.946" stop-color="#ff5833"/><stop offset="1" stop-color="#ff5531"/></linearGradient><linearGradient id="g146" gradientUnits="userSpaceOnUse" x1="360.80" x2="451.80" y1="0" y2="0" spreadMethod="reflect"><stop offset="0" stop-color="#2e008a"/><stop offset="0.13" stop-color="#0300f8"/><stop offset="0.141" stop-color="#0203ff"/><stop offset="0.207" stop-color="#345aff"/><stop offset="0.272" stop-color="#6f9fff"/><stop offset="0.283" stop-color="#78aaff"/><stop offset="0.359" stop-color="#c1deff"/><stop offset="0.38" stop-color="#d1e8ff"/><stop offset="0.446" stop-color="#fcfeff"/><stop offset="0.457" stop-color="#fffdfb"/><stop offset="0.543" stop-color="#ffe3c8"/><stop offset="0.62" stop-color="#ffbf95"/><stop offset="0.674" stop-color="#ffa876"/><stop offset="0.739" stop-color="#ff875a"/><stop offset="0.804" stop-color="#ff6e44"/><stop offset="0.859" stop-color="#ff5d36"/><stop offset="0.913" stop-color="#ff502e"/><stop offset="0.967" stop-color="#ff492a"/><stop offset="1" stop-color="#ff482a"/></linearGradient><linearGradient id="g147" gradientUnits="userSpaceOnUse" x1="360.80" x2="451.80" y1="0" y2="0" spreadMethod="reflect"><stop offset="0" stop-color="#2e008a"/><stop offset="0.13" stop-color="#0200f9"/><stop offset="0.141" stop-color="#0306ff"/><stop offset="0.207" stop-color="#365eff"/><stop offset="0.283" stop-color="#7caeff"/><stop offset="0.359" stop-color="#c6e2ff"/><stop offset="0.435" stop-color="#fafdff"/><stop offset="0.446" stop-color="#fffefd"/><stop offset="0.533" stop-color="#ffe3c8"/><stop offset="0.62" stop-color="#ffba8d"/><stop offset="0.652" stop-color="#ffac7a"/><stop offset="0.717" stop-color="#ff885b"/><stop offset="0.783" stop-color="#ff6c42"/><stop offset="0.826" stop-color="#ff5d36"/><stop offset="0.88" stop-color="#ff4b2b"/><stop offset="0.935" stop-color="#ff4025"/><stop offset="0.989" stop-color="#ff3b22"/><stop offset="1" stop-color="#ff3b22"/></linearGradient><linearGradient id="g148" gradientUnits="userSpaceOnUse" x1="360.80" x2="451.80" y1="0" y2="0" spreadMethod="reflect"><stop offset="0" stop-color="#2e008a"/><stop offset="0.13" stop-color="#0200fb"/><stop offset="0.141" stop-color="#0508ff"/><stop offset="0.207" stop-color="#3961ff"/><stop offset="0.272" stop-color="#76a7ff"/><stop offset="0.293" stop-color="#8bb8ff"/><stop offset="0.348" stop-color="#c1deff"/><stop offset="0.37" stop-color="#d2e8ff"/><stop offset="0.435" stop-color="#ffffff"/><stop offset="0.522" stop-color="#ffe4c9"/><stop offset="0.609" stop-color="#ffb98c"/><stop offset="0.641" stop-color="#ffaa78"/><stop offset="0.707" stop-color="#ff8558"/><stop offset="0.772" stop-color="#ff673e"/><stop offset="0.815" stop-color="#ff5531"/><stop offset="0.87" stop-color="#ff4226"/><stop offset="0.924" stop-color="#ff361f"/><stop offset="0.978" stop-color="#ff301c"/><stop offset="1" stop-color="#ff2f1b"/></linearGradient><linearGradient id="g149" gradientUnits="userSpaceOnUse" x1="360.80" x2="451.80" y1="0" y2="0" spreadMethod="reflect"><stop offset="0" stop-color="#2e008a"/><stop offset="0.13" stop-color="#0100fc"/><stop offset="0.141" stop-color="#060bff"/><stop offset="0.196" stop-color="#3257ff"/><stop offset="0.217" stop-color="#4670ff"/><stop offset="0.272" stop-color="#79abff"/><stop offset="0.348" stop-color="#c6e2ff"/><stop offset="0.424" stop-color="#fcfdff"/><stop offset="0.435" stop-color="#fffdfb"/><stop offset="0.522" stop-color="#ffe0c3"/><stop offset="0.598" stop-color="#ffb98c"/><stop offset="0.63" stop-color="#ffa877"/><stop offset="0.696" stop-color="#ff8255"/><stop offset="0.761" stop-color="#ff623a"/><stop offset="0.826" stop-color="#ff4528"/><stop offset="0.88" stop-color="#ff331e"/><stop offset="0.935" stop-color="#ff2817"/><stop offset="0.989" stop-color="#ff2314"/><stop offset="1" stop-color="#ff2314"/></linearGradient><linearGradient id="g150" gradientUnits="userSpaceOnUse" x1="360.80" x2="451.80" y1="0" y2="0" spreadMethod="reflect"><stop offset="0" stop-color="#2e008a"/><stop offset="0.13" stop-color="#0000fe"/><stop offset="0.152" stop-color="#111dff"/><stop offset="0.196" stop-color="#345aff"/><stop offset="0.261" stop-color="#72a3ff"/><stop offset="0.272" stop-color="#7daeff"/><stop offset="0.337" stop-color="#c0deff"/><stop offset="0.348" stop-color="#cae4ff"/><stop offset="0.413" stop-color="#f9fcff"/><stop offset="0.424" stop-color="#fffefe"/><stop offset="0.511" stop-color="#ffe1c5"/><stop offset="0.587" stop-color="#ffb98c"/><stop offset="0.62" stop-color="#ffa876"/><stop offset="0.685" stop-color="#ff8053"/><stop offset="0.75" stop-color="#ff5e37"/><stop offset="0.804" stop-color="#ff4327"/><stop offset="0.859" stop-color="#ff2e1b"/><stop offset="0.913" stop-color="#ff2013"/><stop offset="0.967" stop-color="#ff190e"/><stop offset="1" stop-color="#ff180e"/></linearGradient><linearGradient id="g151" gradientUnits="userSpaceOnUse" x1="360.80" x2="451.80" y1="0" y2="0" spreadMethod="reflect"><stop offset="0" stop-color="#2e008a"/><stop offset="0.13" stop-color="#0000ff"/><stop offset="0.196" stop-color="#365eff"/><stop offset="0.261" stop-color="#76a7ff"/><stop offset="0.283" stop-color="#8cb9ff"/><stop offset="0.337" stop-color="#c4e1ff"/><stop offset="0.413" stop-color="#fdfeff"/><stop offset="0.424" stop-color="#fffcf9"/><stop offset="0.5" stop-color="#ffe3c7"/><stop offset="0.576" stop-color="#ffb98c"/><stop offset="0.609" stop-color="#ffa776"/><stop offset="0.674" stop-color="#ff7e52"/><stop offset="0.728" stop-color="#ff6038"/><stop offset="0.793" stop-color="#ff3d23"/><stop offset="0.848" stop-color="#ff2717"/><stop offset="0.902" stop-color="#ff170d"/><stop offset="0.957" stop-color="#ff0e08"/><stop offset="1" stop-color="#ff0c07"/></linearGradient><linearGradient id="g152" gradientUnits="userSpaceOnUse" x1="360.80" x2="451.80" y1="0" y2="0" spreadMethod="reflect"><stop offset="0" stop-color="#2e008a"/><stop offset="0.12" stop-color="#0300f7"/><stop offset="0.13" stop-color="#0203ff"/><stop offset="0.196" stop-color="#3861ff"/><stop offset="0.261" stop-color="#79abff"/><stop offset="0.326" stop-color="#bedcff"/><stop offset="0.337" stop-color="#c8e3ff"/><stop offset="0.402" stop-color="#f9fcff"/><stop offset="0.413" stop-color="#fffefd"/><stop offset="0.489" stop-color="#ffe4c9"/><stop offset="0.576" stop-color="#ffb485"/><stop offset="0.598" stop-color="#ffa876"/><stop offset="0.663" stop-color="#ff7c51"/><stop offset="0.717" stop-color="#ff5d36"/><stop offset="0.772" stop-color="#ff3e24"/><stop offset="0.826" stop-color="#ff2415"/><stop offset="0.88" stop-color="#ff120a"/><stop offset="0.935" stop-color="#ff0603"/><stop offset="0.989" stop-color="#ff0101"/><stop offset="1" stop-color="#ff0101"/></linearGradient><linearGradient id="g153" gradientUnits="userSpaceOnUse" x1="360.80" x2="451.80" y1="0" y2="0" spreadMethod="reflect"><stop offset="0" stop-color="#2e008a"/><stop offset="0.12" stop-color="#0300f8"/><stop offset="0.13" stop-color="#0305ff"/><stop offset="0.185" stop-color="#3155ff"/><stop offset="0.196" stop-color="#3b63ff"/><stop offset="0.261" stop-color="#7cadff"/><stop offset="0.326" stop-color="#c2dfff"/><stop offset="0.359" stop-color="#dcedff"/><stop offset="0.402" stop-color="#fdfeff"/><stop offset="0.413" stop-color="#fffcf9"/><stop offset="0.489" stop-color="#ffe1c4"/><stop offset="0.565" stop-color="#ffb587"/><stop offset="0.587" stop-color="#ffa977"/><stop offset="0.652" stop-color="#ff7c50"/><stop offset="0.707" stop-color="#ff5b35"/><stop offset="0.761" stop-color="#ff3921"/><stop offset="0.815" stop-color="#ff1e12"/><stop offset="0.87" stop-color="#ff0a06"/><stop offset="0.902" stop-color="#ff0201"/><stop offset="0.924" stop-color="#fd0001"/><stop offset="0.989" stop-color="#f80002"/><stop offset="1" stop-color="#f80002"/></linearGradient><linearGradient id="g154" gradientUnits="userSpaceOnUse" x1="360.80" x2="451.80" y1="0" y2="0" spreadMethod="reflect"><stop offset="0" stop-color="#2e008a"/><stop offset="0.12" stop-color="#0200f9"/><stop offset="0.13" stop-color="#0407ff"/><stop offset="0.185" stop-color="#3358ff"/><stop offset="0.207" stop-color="#4873ff"/><stop offset="0.25" stop-color="#74a5ff"/><stop offset="0.261" stop-color="#7fb0ff"/><stop offset="0.326" stop-color="#c6e2ff"/><stop offset="0.391" stop-color="#f9fcff"/><stop offset="0.402" stop-color="#fffefd"/><stop offset="0.478" stop-color="#ffe3c8"/><stop offset="0.554" stop-color="#ffb689"/><stop offset="0.576" stop-color="#ffaa78"/><stop offset="0.641" stop-color="#ff7b50"/><stop offset="0.696" stop-color="#ff5933"/><stop offset="0.75" stop-color="#ff361f"/><stop offset="0.804" stop-color="#ff190f"/><stop offset="0.859" stop-color="#ff0402"/><stop offset="0.87" stop-color="#ff0000"/><stop offset="0.935" stop-color="#f50003"/><stop offset="1" stop-color="#f10004"/></linearGradient><linearGradient id="g155" gradientUnits="userSpaceOnUse" x1="360.80" x2="451.80" y1="0" y2="0" spreadMethod="reflect"><stop offset="0" stop-color="#2e008a"/><stop offset="0.12" stop-color="#0200fa"/><stop offset="0.13" stop-color="#0509ff"/><stop offset="0.185" stop-color="#345aff"/><stop offset="0.25" stop-color="#77a8ff"/><stop offset="0.293" stop-color="#a7ccff"/><stop offset="0.326" stop-color="#c9e4ff"/><stop offset="0.391" stop-color="#fcfeff"/><stop offset="0.402" stop-color="#fffcfa"/><stop offset="0.478" stop-color="#ffe0c3"/><stop offset="0.554" stop-color="#ffb283"/><stop offset="0.565" stop-color="#ffac7a"/><stop offset="0.63" stop-color="#ff7c50"/><stop offset="0.674" stop-color="#ff6037"/><stop offset="0.728" stop-color="#ff3a21"/><stop offset="0.783" stop-color="#ff1a0f"/><stop offset="0.837" stop-color="#ff0101"/><stop offset="0.87" stop-color="#f80002"/><stop offset="0.935" stop-color="#ee0005"/><stop offset="1" stop-color="#ea0006"/></linearGradient><linearGradient id="g156" gradientUnits="userSpaceOnUse" x1="360.80" x2="451.80" y1="0" y2="0" spreadMethod="reflect"><stop offset="0" stop-color="#2e008a"/><stop offset="0.12" stop-color="#0100fc"/><stop offset="0.13" stop-color="#060bff"/><stop offset="0.185" stop-color="#365dff"/><stop offset="0.25" stop-color="#79abff"/><stop offset="0.315" stop-color="#c2dfff"/><stop offset="0.348" stop-color="#deeeff"/><stop offset="0.391" stop-color="#fffffe"/><stop offset="0.467" stop-color="#ffe2c7"/><stop offset="0.543" stop-color="#ffb485"/><stop offset="0.565" stop-color="#ffa675"/><stop offset="0.63" stop-color="#ff754a"/><stop offset="0.663" stop-color="#ff5f37"/><stop offset="0.717" stop-color="#ff3820"/><stop offset="0.772" stop-color="#ff170d"/><stop offset="0.815" stop-color="#ff0101"/><stop offset="0.891" stop-color="#ed0005"/><stop offset="0.957" stop-color="#e50008"/><stop offset="1" stop-color="#e40008"/></linearGradient><linearGradient id="g157" gradientUnits="userSpaceOnUse" x1="360.80" x2="451.80" y1="0" y2="0" spreadMethod="reflect"><stop offset="0" stop-color="#2e008a"/><stop offset="0.12" stop-color="#0100fd"/><stop offset="0.13" stop-color="#080dff"/><stop offset="0.185" stop-color="#3860ff"/><stop offset="0.25" stop-color="#7caeff"/><stop offset="0.315" stop-color="#c6e2ff"/><stop offset="0.38" stop-color="#fafdff"/><stop offset="0.391" stop-color="#fffdfb"/><stop offset="0.467" stop-color="#ffdfc2"/><stop offset="0.543" stop-color="#ffb07f"/><stop offset="0.576" stop-color="#ff9768"/><stop offset="0.641" stop-color="#ff673e"/><stop offset="0.674" stop-color="#ff4f2d"/><stop offset="0.728" stop-color="#ff2817"/><stop offset="0.783" stop-color="#ff0804"/><stop offset="0.793" stop-color="#ff0201"/><stop offset="0.804" stop-color="#fd0001"/><stop offset="0.87" stop-color="#eb0006"/><stop offset="0.935" stop-color="#e10009"/><stop offset="1" stop-color="#dd000a"/></linearGradient><linearGradient id="g158" gradientUnits="userSpaceOnUse" x1="360.80" x2="451.80" y1="0" y2="0" spreadMethod="reflect"><stop offset="0" stop-color="#2e008a"/><stop offset="0.12" stop-color="#0000fe"/><stop offset="0.141" stop-color="#1220ff"/><stop offset="0.185" stop-color="#3a62ff"/><stop offset="0.239" stop-color="#73a4ff"/><stop offset="0.25" stop-color="#7fb0ff"/><stop offset="0.304" stop-color="#bddcff"/><stop offset="0.315" stop-color="#c8e3ff"/><stop offset="0.38" stop-color="#fefeff"/><stop offset="0.413" stop-color="#fff3e7"/><stop offset="0.457" stop-color="#ffe2c7"/><stop offset="0.533" stop-color="#ffb283"/><stop offset="0.543" stop-color="#ffac7a"/><stop offset="0.609" stop-color="#ff784d"/><stop offset="0.652" stop-color="#ff5833"/><stop offset="0.707" stop-color="#ff2e1b"/><stop offset="0.761" stop-color="#ff0b06"/><stop offset="0.783" stop-color="#fe0000"/><stop offset="0.848" stop-color="#ea0006"/><stop offset="0.913" stop-color="#dd000a"/><stop offset="0.978" stop-color="#d7000c"/><stop offset="1" stop-color="#d7000c"/></linearGradient><linearGradient id="g159" gradientUnits="userSpaceOnUse" x1="360.80" x2="451.80" y1="0" y2="0" spreadMethod="reflect"><stop offset="0" stop-color="#2e008a"/><stop offset="0.12" stop-color="#0000ff"/><stop offset="0.174" stop-color="#3155ff"/><stop offset="0.185" stop-color="#3b64ff"/><stop offset="0.239" stop-color="#76a7ff"/><stop offset="0.261" stop-color="#8fbbff"/><stop offset="0.304" stop-color="#c0deff"/><stop offset="0.326" stop-color="#d4e9ff"/><stop offset="0.37" stop-color="#f8fbff"/><stop offset="0.38" stop-color="#fffefd"/><stop offset="0.457" stop-color="#ffe0c2"/><stop offset="0.533" stop-color="#ffaf7e"/><stop offset="0.598" stop-color="#ff7a4f"/><stop offset="0.641" stop-color="#ff5934"/><stop offset="0.696" stop-color="#ff2e1b"/><stop offset="0.75" stop-color="#ff0905"/><stop offset="0.761" stop-color="#ff0301"/><stop offset="0.772" stop-color="#fd0001"/><stop offset="0.837" stop-color="#e70007"/><stop offset="0.902" stop-color="#d9000b"/><stop offset="0.967" stop-color="#d2000d"/><stop offset="1" stop-color="#d1000e"/></linearGradient><linearGradient id="g160" gradientUnits="userSpaceOnUse" x1="360.80" x2="451.80" y1="0" y2="0" spreadMethod="reflect"><stop offset="0" stop-color="#2e008a"/><stop offset="0.109" stop-color="#0400f5"/><stop offset="0.12" stop-color="#0101ff"/><stop offset="0.174" stop-color="#3257ff"/><stop offset="0.196" stop-color="#4974ff"/><stop offset="0.239" stop-color="#78aaff"/><stop offset="0.304" stop-color="#c4e0ff"/><stop offset="0.37" stop-color="#fbfdff"/><stop offset="0.38" stop-color="#fffdfa"/><stop offset="0.446" stop-color="#ffe3c8"/><stop offset="0.522" stop-color="#ffb282"/><stop offset="0.533" stop-color="#ffaa79"/><stop offset="0.598" stop-color="#ff744a"/><stop offset="0.63" stop-color="#ff5b35"/><stop offset="0.685" stop-color="#ff2e1b"/><stop offset="0.739" stop-color="#ff0805"/><stop offset="0.75" stop-color="#ff0101"/><stop offset="0.826" stop-color="#e50008"/><stop offset="0.891" stop-color="#d5000c"/><stop offset="0.957" stop-color="#cc000f"/><stop offset="1" stop-color="#cb000f"/></linearGradient><linearGradient id="g161" gradientUnits="userSpaceOnUse" x1="360.80" x2="451.80" y1="0" y2="0" spreadMethod="reflect"><stop offset="0" stop-color="#2e008a"/><stop offset="0.109" stop-color="#0400f6"/><stop offset="0.12" stop-color="#0203ff"/><stop offset="0.174" stop-color="#3459ff"/><stop offset="0.217" stop-color="#6391ff"/><stop offset="0.239" stop-color="#7aacff"/><stop offset="0.304" stop-color="#c7e2ff"/><stop offset="0.37" stop-color="#fefeff"/><stop offset="0.402" stop-color="#fff2e6"/><stop offset="0.446" stop-color="#ffe1c4"/><stop offset="0.522" stop-color="#ffae7d"/><stop offset="0.587" stop-color="#ff784c"/><stop offset="0.62" stop-color="#ff5e37"/><stop offset="0.674" stop-color="#ff301c"/><stop offset="0.728" stop-color="#ff0704"/><stop offset="0.739" stop-color="#ff0000"/><stop offset="0.804" stop-color="#e60007"/><stop offset="0.87" stop-color="#d4000d"/><stop offset="0.935" stop-color="#c90010"/><stop offset="1" stop-color="#c50011"/></linearGradient><linearGradient id="g162" gradientUnits="userSpaceOnUse" x1="360.80" x2="451.80" y1="0" y2="0" spreadMethod="reflect"><stop offset="0" stop-color="#2e008a"/><stop offset="0.109" stop-color="#0300f7"/><stop offset="0.12" stop-color="#0304ff"/><stop offset="0.174" stop-color="#355bff"/><stop offset="0.228" stop-color="#70a1ff"/><stop offset="0.239" stop-color="#7caeff"/><stop offset="0.293" stop-color="#bddcff"/><stop offset="0.304" stop-color="#c9e3ff"/><stop offset="0.359" stop-color="#f7fbff"/><stop offset="0.37" stop-color="#fffefe"/><stop offset="0.435" stop-color="#ffe4ca"/><stop offset="0.467" stop-color="#ffcfab"/><stop offset="0.522" stop-color="#ffaa79"/><stop offset="0.587" stop-color="#ff7248"/><stop offset="0.62" stop-color="#ff5833"/><stop offset="0.674" stop-color="#ff2817"/><stop offset="0.728" stop-color="#ff0000"/><stop offset="0.793" stop-color="#e40008"/><stop offset="0.859" stop-color="#d1000e"/><stop offset="0.924" stop-color="#c50011"/><stop offset="0.989" stop-color="#c00013"/><stop offset="1" stop-color="#c00013"/></linearGradient><linearGradient id="g163" gradientUnits="userSpaceOnUse" x1="360.80" x2="451.80" y1="0" y2="0" spreadMethod="reflect"><stop offset="0" stop-color="#2e008a"/><stop offset="0.109" stop-color="#0300f8"/><stop offset="0.12" stop-color="#0306ff"/><stop offset="0.174" stop-color="#365eff"/><stop offset="0.228" stop-color="#72a3ff"/><stop offset="0.239" stop-color="#7fafff"/><stop offset="0.293" stop-color="#c0deff"/><stop offset="0.304" stop-color="#cbe5ff"/><stop offset="0.359" stop-color="#fafcff"/><stop offset="0.37" stop-color="#fffdfb"/><stop offset="0.435" stop-color="#ffe2c7"/><stop offset="0.511" stop-color="#ffaf7e"/><stop offset="0.576" stop-color="#ff764b"/><stop offset="0.609" stop-color="#ff5b35"/><stop offset="0.663" stop-color="#ff2b19"/><stop offset="0.717" stop-color="#ff0000"/><stop offset="0.783" stop-color="#e30008"/><stop offset="0.848" stop-color="#cf000e"/><stop offset="0.913" stop-color="#c10012"/><stop offset="0.978" stop-color="#bb0014"/><stop offset="1" stop-color="#ba0014"/></linearGradient><linearGradient id="g164" gradientUnits="userSpaceOnUse" x1="360.80" x2="451.80" y1="0" y2="0" spreadMethod="reflect"><stop offset="0" stop-color="#2e008a"/><stop offset="0.109" stop-color="#0300f9"/><stop offset="0.12" stop-color="#0407ff"/><stop offset="0.174" stop-color="#375fff"/><stop offset="0.228" stop-color="#74a5ff"/><stop offset="0.239" stop-color="#81b1ff"/><stop offset="0.293" stop-color="#c2dfff"/><stop offset="0.337" stop-color="#eaf4ff"/><stop offset="0.359" stop-color="#fcfeff"/><stop offset="0.37" stop-color="#fffcf9"/><stop offset="0.435" stop-color="#ffe0c3"/><stop offset="0.5" stop-color="#ffb383"/><stop offset="0.511" stop-color="#ffab79"/><stop offset="0.576" stop-color="#ff7147"/><stop offset="0.598" stop-color="#ff6038"/><stop offset="0.652" stop-color="#ff2d1a"/><stop offset="0.707" stop-color="#ff0201"/><stop offset="0.728" stop-color="#f60003"/><stop offset="0.793" stop-color="#db000b"/><stop offset="0.859" stop-color="#c70011"/><stop offset="0.924" stop-color="#ba0014"/><stop offset="0.989" stop-color="#b50016"/><stop offset="1" stop-color="#b50016"/></linearGradient><linearGradient id="g165" gradientUnits="userSpaceOnUse" x1="360.80" x2="451.80" y1="0" y2="0" spreadMethod="reflect"><stop offset="0" stop-color="#2e008a"/><stop offset="0.109" stop-color="#0200f9"/><stop offset="0.12" stop-color="#0509ff"/><stop offset="0.174" stop-color="#3961ff"/><stop offset="0.228" stop-color="#76a7ff"/><stop offset="0.25" stop-color="#90bcff"/><stop offset="0.293" stop-color="#c5e1ff"/><stop offset="0.359" stop-color="#ffffff"/><stop offset="0.424" stop-color="#ffe4ca"/><stop offset="0.457" stop-color="#ffceaa"/><stop offset="0.511" stop-color="#ffa776"/><stop offset="0.576" stop-color="#ff6d43"/><stop offset="0.609" stop-color="#ff4f2e"/><stop offset="0.663" stop-color="#ff1e11"/><stop offset="0.696" stop-color="#ff0302"/><stop offset="0.707" stop-color="#fc0001"/><stop offset="0.772" stop-color="#de000a"/><stop offset="0.837" stop-color="#c80010"/><stop offset="0.902" stop-color="#b90015"/><stop offset="0.967" stop-color="#b10017"/><stop offset="1" stop-color="#b00017"/></linearGradient><linearGradient id="g166" gradientUnits="userSpaceOnUse" x1="360.80" x2="451.80" y1="0" y2="0" spreadMethod="reflect"><stop offset="0" stop-color="#2e008a"/><stop offset="0.109" stop-color="#0200fa"/><stop offset="0.12" stop-color="#060aff"/><stop offset="0.174" stop-color="#3a63ff"/><stop offset="0.228" stop-color="#78a9ff"/><stop offset="0.293" stop-color="#c7e3ff"/><stop offset="0.348" stop-color="#f7fbff"/><stop offset="0.359" stop-color="#fffefd"/><stop offset="0.424" stop-color="#ffe3c7"/><stop offset="0.5" stop-color="#ffad7c"/><stop offset="0.565" stop-color="#ff7247"/><stop offset="0.587" stop-color="#ff5f37"/><stop offset="0.641" stop-color="#ff2b19"/><stop offset="0.685" stop-color="#ff0603"/><stop offset="0.696" stop-color="#fd0001"/><stop offset="0.761" stop-color="#de000a"/><stop offset="0.826" stop-color="#c70011"/><stop offset="0.891" stop-color="#b60015"/><stop offset="0.957" stop-color="#ad0018"/><stop offset="1" stop-color="#ac0019"/></linearGradient><linearGradient id="g167" gradientUnits="userSpaceOnUse" x1="360.80" x2="451.80" y1="0" y2="0" spreadMethod="reflect"><stop offset="0" stop-color="#2e008a"/><stop offset="0.109" stop-color="#0200fb"/><stop offset="0.12" stop-color="#060bff"/><stop offset="0.163" stop-color="#3053ff"/><stop offset="0.174" stop-color="#3b64ff"/><stop offset="0.228" stop-color="#79abff"/><stop offset="0.283" stop-color="#bddbff"/><stop offset="0.293" stop-color="#c9e3ff"/><stop offset="0.348" stop-color="#f9fcff"/><stop offset="0.359" stop-color="#fffdfb"/><stop offset="0.424" stop-color="#ffe1c4"/><stop offset="0.489" stop-color="#ffb282"/><stop offset="0.5" stop-color="#ffaa78"/><stop offset="0.565" stop-color="#ff6e44"/><stop offset="0.598" stop-color="#ff4f2e"/><stop offset="0.652" stop-color="#ff1c10"/><stop offset="0.685" stop-color="#ff0000"/><stop offset="0.75" stop-color="#df0009"/><stop offset="0.815" stop-color="#c60011"/><stop offset="0.88" stop-color="#b40016"/><stop offset="0.946" stop-color="#aa0019"/><stop offset="1" stop-color="#a7001a"/></linearGradient><linearGradient id="g168" gradientUnits="userSpaceOnUse" x1="360.80" x2="451.80" y1="0" y2="0" spreadMethod="reflect"><stop offset="0" stop-color="#2e008a"/><stop offset="0.109" stop-color="#0100fb"/><stop offset="0.12" stop-color="#070cff"/><stop offset="0.163" stop-color="#3155ff"/><stop offset="0.185" stop-color="#4974ff"/><stop offset="0.228" stop-color="#7badff"/><stop offset="0.283" stop-color="#bfddff"/><stop offset="0.293" stop-color="#cae4ff"/><stop offset="0.348" stop-color="#fbfdff"/><stop offset="0.359" stop-color="#fffcf9"/><stop offset="0.413" stop-color="#ffe5cb"/><stop offset="0.424" stop-color="#ffdfc1"/><stop offset="0.489" stop-color="#ffb07f"/><stop offset="0.543" stop-color="#ff7d51"/><stop offset="0.576" stop-color="#ff6038"/><stop offset="0.63" stop-color="#ff2a19"/><stop offset="0.674" stop-color="#ff0402"/><stop offset="0.685" stop-color="#fb0001"/><stop offset="0.75" stop-color="#db000b"/><stop offset="0.815" stop-color="#c20012"/><stop offset="0.88" stop-color="#b00017"/><stop offset="0.946" stop-color="#a6001a"/><stop offset="1" stop-color="#a3001b"/></linearGradient><linearGradient id="g169" gradientUnits="userSpaceOnUse" x1="360.80" x2="451.80" y1="0" y2="0" spreadMethod="reflect"><stop offset="0" stop-color="#2e008a"/><stop offset="0.109" stop-color="#0100fc"/><stop offset="0.12" stop-color="#080dff"/><stop offset="0.163" stop-color="#3256ff"/><stop offset="0.185" stop-color="#4a75ff"/><stop offset="0.228" stop-color="#7daeff"/><stop offset="0.283" stop-color="#c1deff"/><stop offset="0.304" stop-color="#d6eaff"/><stop offset="0.348" stop-color="#fdfeff"/><stop offset="0.37" stop-color="#fff6ee"/><stop offset="0.413" stop-color="#ffe4c9"/><stop offset="0.489" stop-color="#ffad7c"/><stop offset="0.554" stop-color="#ff7046"/><stop offset="0.576" stop-color="#ff5c35"/><stop offset="0.63" stop-color="#ff2516"/><stop offset="0.663" stop-color="#ff0805"/><stop offset="0.674" stop-color="#fe0000"/><stop offset="0.739" stop-color="#dc000a"/><stop offset="0.804" stop-color="#c20012"/><stop offset="0.87" stop-color="#af0018"/><stop offset="0.935" stop-color="#a3001b"/><stop offset="1" stop-color="#9f001c"/></linearGradient><linearGradient id="g170" gradientUnits="userSpaceOnUse" x1="360.80" x2="451.80" y1="0" y2="0" spreadMethod="reflect"><stop offset="0" stop-color="#2e008a"/><stop offset="0.109" stop-color="#0100fd"/><stop offset="0.12" stop-color="#080eff"/><stop offset="0.163" stop-color="#3358ff"/><stop offset="0.196" stop-color="#5885ff"/><stop offset="0.228" stop-color="#7eafff"/><stop offset="0.283" stop-color="#c3e0ff"/><stop offset="0.337" stop-color="#f5faff"/><stop offset="0.348" stop-color="#ffffff"/><stop offset="0.413" stop-color="#ffe3c7"/><stop offset="0.489" stop-color="#ffab79"/><stop offset="0.554" stop-color="#ff6c43"/><stop offset="0.587" stop-color="#ff4c2c"/><stop offset="0.641" stop-color="#ff170d"/><stop offset="0.663" stop-color="#ff0302"/><stop offset="0.674" stop-color="#fb0001"/><stop offset="0.739" stop-color="#d9000b"/><stop offset="0.804" stop-color="#be0013"/><stop offset="0.87" stop-color="#ab0019"/><stop offset="0.935" stop-color="#9f001c"/><stop offset="1" stop-color="#9b001d"/></linearGradient><linearGradient id="g171" gradientUnits="userSpaceOnUse" x1="360.80" x2="451.80" y1="0" y2="0" spreadMethod="reflect"><stop offset="0" stop-color="#2e008a"/><stop offset="0.109" stop-color="#0100fd"/><stop offset="0.12" stop-color="#090fff"/><stop offset="0.163" stop-color="#3459ff"/><stop offset="0.207" stop-color="#6695ff"/><stop offset="0.228" stop-color="#80b0ff"/><stop offset="0.283" stop-color="#c4e1ff"/><stop offset="0.337" stop-color="#f7fbff"/><stop offset="0.348" stop-color="#fffefd"/><stop offset="0.413" stop-color="#ffe1c5"/><stop offset="0.478" stop-color="#ffb181"/><stop offset="0.5" stop-color="#ff9d6d"/><stop offset="0.565" stop-color="#ff5f37"/><stop offset="0.62" stop-color="#ff2716"/><stop offset="0.652" stop-color="#ff0805"/><stop offset="0.663" stop-color="#fe0000"/><stop offset="0.728" stop-color="#db000b"/><stop offset="0.793" stop-color="#bf0013"/><stop offset="0.859" stop-color="#aa0019"/><stop offset="0.924" stop-color="#9d001d"/><stop offset="0.989" stop-color="#98001e"/><stop offset="1" stop-color="#98001e"/></linearGradient><linearGradient id="g172" gradientUnits="userSpaceOnUse" x1="360.80" x2="451.80" y1="0" y2="0" spreadMethod="reflect"><stop offset="0" stop-color="#2e008a"/><stop offset="0.109" stop-color="#0100fe"/><stop offset="0.12" stop-color="#0910ff"/><stop offset="0.163" stop-color="#345aff"/><stop offset="0.217" stop-color="#74a5ff"/><stop offset="0.228" stop-color="#81b1ff"/><stop offset="0.283" stop-color="#c6e2ff"/><stop offset="0.337" stop-color="#f8fcff"/><stop offset="0.348" stop-color="#fffdfc"/><stop offset="0.413" stop-color="#ffe0c3"/><stop offset="0.478" stop-color="#ffaf7e"/><stop offset="0.543" stop-color="#ff7046"/><stop offset="0.565" stop-color="#ff5b35"/><stop offset="0.62" stop-color="#ff2314"/><stop offset="0.652" stop-color="#ff0402"/><stop offset="0.663" stop-color="#fb0001"/><stop offset="0.728" stop-color="#d8000c"/><stop offset="0.793" stop-color="#bc0014"/><stop offset="0.859" stop-color="#a7001a"/><stop offset="0.924" stop-color="#9a001e"/><stop offset="0.989" stop-color="#95001f"/><stop offset="1" stop-color="#95001f"/></linearGradient><linearGradient id="g173" gradientUnits="userSpaceOnUse" x1="360.80" x2="451.80" y1="0" y2="0" spreadMethod="reflect"><stop offset="0" stop-color="#2e008a"/><stop offset="0.109" stop-color="#0000fe"/><stop offset="0.141" stop-color="#2036ff"/><stop offset="0.163" stop-color="#355cff"/><stop offset="0.217" stop-color="#75a6ff"/><stop offset="0.239" stop-color="#90bcff"/><stop offset="0.283" stop-color="#c7e3ff"/><stop offset="0.337" stop-color="#fafcff"/><stop offset="0.348" stop-color="#fffdfb"/><stop offset="0.402" stop-color="#ffe5cb"/><stop offset="0.413" stop-color="#ffdec1"/><stop offset="0.478" stop-color="#ffad7b"/><stop offset="0.543" stop-color="#ff6d43"/><stop offset="0.576" stop-color="#ff4c2c"/><stop offset="0.63" stop-color="#ff140c"/><stop offset="0.652" stop-color="#ff0000"/><stop offset="0.717" stop-color="#da000b"/><stop offset="0.783" stop-color="#bd0013"/><stop offset="0.848" stop-color="#a7001a"/><stop offset="0.913" stop-color="#98001e"/><stop offset="0.978" stop-color="#920020"/><stop offset="1" stop-color="#910020"/></linearGradient><linearGradient id="g174" gradientUnits="userSpaceOnUse" x1="360.80" x2="451.80" y1="0" y2="0" spreadMethod="reflect"><stop offset="0" stop-color="#2e008a"/><stop offset="0.109" stop-color="#0000fe"/><stop offset="0.163" stop-color="#365dff"/><stop offset="0.217" stop-color="#76a7ff"/><stop offset="0.239" stop-color="#92bdff"/><stop offset="0.283" stop-color="#c8e3ff"/><stop offset="0.337" stop-color="#fbfdff"/><stop offset="0.348" stop-color="#fffcf9"/><stop offset="0.402" stop-color="#ffe4ca"/><stop offset="0.478" stop-color="#ffab79"/><stop offset="0.543" stop-color="#ff6b41"/><stop offset="0.565" stop-color="#ff5531"/><stop offset="0.62" stop-color="#ff1c10"/><stop offset="0.641" stop-color="#ff0704"/><stop offset="0.652" stop-color="#fd0001"/><stop offset="0.717" stop-color="#d8000c"/><stop offset="0.783" stop-color="#ba0014"/><stop offset="0.848" stop-color="#a4001b"/><stop offset="0.913" stop-color="#96001f"/><stop offset="0.978" stop-color="#8f0021"/><stop offset="1" stop-color="#8f0021"/></linearGradient><linearGradient id="g175" gradientUnits="userSpaceOnUse" x1="360.80" x2="451.80" y1="0" y2="0" spreadMethod="reflect"><stop offset="0" stop-color="#2e008a"/><stop offset="0.109" stop-color="#0000ff"/><stop offset="0.163" stop-color="#365eff"/><stop offset="0.217" stop-color="#77a8ff"/><stop offset="0.261" stop-color="#afd1ff"/><stop offset="0.283" stop-color="#c9e4ff"/><stop offset="0.337" stop-color="#fcfeff"/><stop offset="0.348" stop-color="#fffbf8"/><stop offset="0.402" stop-color="#ffe3c8"/><stop offset="0.478" stop-color="#ffa977"/><stop offset="0.543" stop-color="#ff683f"/><stop offset="0.565" stop-color="#ff522f"/><stop offset="0.62" stop-color="#ff180e"/><stop offset="0.641" stop-color="#ff0302"/><stop offset="0.652" stop-color="#fa0001"/><stop offset="0.717" stop-color="#d5000c"/><stop offset="0.783" stop-color="#b80015"/><stop offset="0.848" stop-color="#a1001c"/><stop offset="0.913" stop-color="#930020"/><stop offset="0.978" stop-color="#8c0022"/><stop offset="1" stop-color="#8c0022"/></linearGradient><linearGradient id="g176" gradientUnits="userSpaceOnUse" x1="360.80" x2="451.80" y1="0" y2="0" spreadMethod="reflect"><stop offset="0" stop-color="#2e008a"/><stop offset="0.109" stop-color="#0000ff"/><stop offset="0.163" stop-color="#375eff"/><stop offset="0.217" stop-color="#77a9ff"/><stop offset="0.272" stop-color="#bedcff"/><stop offset="0.283" stop-color="#cae4ff"/><stop offset="0.337" stop-color="#fdfeff"/><stop offset="0.359" stop-color="#fff6ed"/><stop offset="0.402" stop-color="#ffe2c7"/><stop offset="0.467" stop-color="#ffb180"/><stop offset="0.489" stop-color="#ff9c6c"/><stop offset="0.543" stop-color="#ff663d"/><stop offset="0.576" stop-color="#ff4327"/><stop offset="0.63" stop-color="#ff0b06"/><stop offset="0.641" stop-color="#ff0000"/><stop offset="0.707" stop-color="#d9000b"/><stop offset="0.772" stop-color="#ba0014"/><stop offset="0.837" stop-color="#a2001b"/><stop offset="0.902" stop-color="#920020"/><stop offset="0.967" stop-color="#8b0022"/><stop offset="1" stop-color="#8a0023"/></linearGradient><linearGradient id="g177" gradientUnits="userSpaceOnUse" x1="360.80" x2="451.80" y1="0" y2="0" spreadMethod="reflect"><stop offset="0" stop-color="#2e008a"/><stop offset="0.109" stop-color="#0101ff"/><stop offset="0.163" stop-color="#375fff"/><stop offset="0.217" stop-color="#78aaff"/><stop offset="0.272" stop-color="#bfddff"/><stop offset="0.283" stop-color="#cbe5ff"/><stop offset="0.337" stop-color="#feffff"/><stop offset="0.402" stop-color="#ffe2c6"/><stop offset="0.467" stop-color="#ffaf7f"/><stop offset="0.533" stop-color="#ff6e44"/><stop offset="0.565" stop-color="#ff4c2c"/><stop offset="0.62" stop-color="#ff130b"/><stop offset="0.63" stop-color="#ff0805"/><stop offset="0.641" stop-color="#fd0001"/><stop offset="0.707" stop-color="#d7000c"/><stop offset="0.772" stop-color="#b80015"/><stop offset="0.837" stop-color="#a0001c"/><stop offset="0.902" stop-color="#900021"/><stop offset="0.967" stop-color="#880023"/><stop offset="1" stop-color="#870023"/></linearGradient><linearGradient id="g178" gradientUnits="userSpaceOnUse" x1="360.80" x2="451.80" y1="0" y2="0" spreadMethod="reflect"><stop offset="0" stop-color="#2e008a"/><stop offset="0.098" stop-color="#0400f4"/><stop offset="0.109" stop-color="#0101ff"/><stop offset="0.163" stop-color="#3860ff"/><stop offset="0.217" stop-color="#79abff"/><stop offset="0.272" stop-color="#c0deff"/><stop offset="0.283" stop-color="#cce5ff"/><stop offset="0.337" stop-color="#ffffff"/><stop offset="0.402" stop-color="#ffe1c4"/><stop offset="0.467" stop-color="#ffae7d"/><stop offset="0.533" stop-color="#ff6d43"/><stop offset="0.554" stop-color="#ff5632"/><stop offset="0.609" stop-color="#ff1b10"/><stop offset="0.63" stop-color="#ff0503"/><stop offset="0.641" stop-color="#fc0001"/><stop offset="0.707" stop-color="#d5000c"/><stop offset="0.772" stop-color="#b60015"/><stop offset="0.837" stop-color="#9e001c"/><stop offset="0.902" stop-color="#8e0021"/><stop offset="0.967" stop-color="#860024"/><stop offset="1" stop-color="#850024"/></linearGradient><linearGradient id="g179" gradientUnits="userSpaceOnUse" x1="360.80" x2="451.80" y1="0" y2="0" spreadMethod="reflect"><stop offset="0" stop-color="#2e008a"/><stop offset="0.098" stop-color="#0400f4"/><stop offset="0.109" stop-color="#0102ff"/><stop offset="0.163" stop-color="#3860ff"/><stop offset="0.217" stop-color="#7aabff"/><stop offset="0.272" stop-color="#c1deff"/><stop offset="0.293" stop-color="#d7ebff"/><stop offset="0.337" stop-color="#fffffe"/><stop offset="0.402" stop-color="#ffe0c3"/><stop offset="0.467" stop-color="#ffad7c"/><stop offset="0.533" stop-color="#ff6b42"/><stop offset="0.554" stop-color="#ff5431"/><stop offset="0.609" stop-color="#ff190f"/><stop offset="0.63" stop-color="#ff0302"/><stop offset="0.641" stop-color="#fa0001"/><stop offset="0.707" stop-color="#d4000d"/><stop offset="0.772" stop-color="#b40016"/><stop offset="0.837" stop-color="#9d001d"/><stop offset="0.902" stop-color="#8d0022"/><stop offset="0.957" stop-color="#850024"/><stop offset="1" stop-color="#840024"/></linearGradient><linearGradient id="g180" gradientUnits="userSpaceOnUse" x1="360.80" x2="451.80" y1="0" y2="0" spreadMethod="reflect"><stop offset="0" stop-color="#2e008a"/><stop offset="0.098" stop-color="#0400f5"/><stop offset="0.109" stop-color="#0102ff"/><stop offset="0.163" stop-color="#3961ff"/><stop offset="0.217" stop-color="#7aacff"/><stop offset="0.272" stop-color="#c1dfff"/><stop offset="0.293" stop-color="#d7ebff"/><stop offset="0.326" stop-color="#f6fbff"/><stop offset="0.337" stop-color="#fffefd"/><stop offset="0.402" stop-color="#ffdfc2"/><stop offset="0.467" stop-color="#ffac7b"/><stop offset="0.533" stop-color="#ff6a40"/><stop offset="0.543" stop-color="#ff5f37"/><stop offset="0.598" stop-color="#ff2314"/><stop offset="0.63" stop-color="#ff0201"/><stop offset="0.652" stop-color="#f20004"/><stop offset="0.717" stop-color="#cd000f"/><stop offset="0.783" stop-color="#af0018"/><stop offset="0.848" stop-color="#98001e"/><stop offset="0.913" stop-color="#890023"/><stop offset="0.967" stop-color="#830024"/><stop offset="1" stop-color="#820025"/></linearGradient><linearGradient id="g181" gradientUnits="userSpaceOnUse" x1="360.80" x2="451.80" y1="0" y2="0" spreadMethod="reflect"><stop offset="0" stop-color="#2e008a"/><stop offset="0.098" stop-color="#0400f5"/><stop offset="0.109" stop-color="#0203ff"/><stop offset="0.163" stop-color="#3961ff"/><stop offset="0.217" stop-color="#7bacff"/><stop offset="0.272" stop-color="#c2dfff"/><stop offset="0.304" stop-color="#e2f0ff"/><stop offset="0.326" stop-color="#f7fbff"/><stop offset="0.337" stop-color="#fffefd"/><stop offset="0.391" stop-color="#ffe5cc"/><stop offset="0.402" stop-color="#ffdfc1"/><stop offset="0.467" stop-color="#ffac7a"/><stop offset="0.533" stop-color="#ff693f"/><stop offset="0.543" stop-color="#ff5e36"/><stop offset="0.598" stop-color="#ff2113"/><stop offset="0.63" stop-color="#ff0000"/><stop offset="0.696" stop-color="#d7000c"/><stop offset="0.761" stop-color="#b70015"/><stop offset="0.826" stop-color="#9d001d"/><stop offset="0.891" stop-color="#8c0022"/><stop offset="0.946" stop-color="#840024"/><stop offset="1" stop-color="#810025"/></linearGradient><linearGradient id="g182" gradientUnits="userSpaceOnUse" x1="360.80" x2="451.80" y1="0" y2="0" spreadMethod="reflect"><stop offset="0" stop-color="#2e008a"/><stop offset="0.098" stop-color="#0400f5"/><stop offset="0.109" stop-color="#0203ff"/><stop offset="0.163" stop-color="#3962ff"/><stop offset="0.217" stop-color="#7badff"/><stop offset="0.272" stop-color="#c2dfff"/><stop offset="0.315" stop-color="#edf6ff"/><stop offset="0.326" stop-color="#f7fbff"/><stop offset="0.337" stop-color="#fffefc"/><stop offset="0.391" stop-color="#ffe5cb"/><stop offset="0.402" stop-color="#ffdec0"/><stop offset="0.467" stop-color="#ffab79"/><stop offset="0.533" stop-color="#ff683f"/><stop offset="0.554" stop-color="#ff502e"/><stop offset="0.609" stop-color="#ff150c"/><stop offset="0.63" stop-color="#fe0000"/><stop offset="0.696" stop-color="#d6000c"/><stop offset="0.761" stop-color="#b60016"/><stop offset="0.826" stop-color="#9c001d"/><stop offset="0.891" stop-color="#8b0022"/><stop offset="0.946" stop-color="#830025"/><stop offset="1" stop-color="#800025"/></linearGradient><linearGradient id="g183" gradientUnits="userSpaceOnUse" x1="360.80" x2="451.80" y1="0" y2="0" spreadMethod="reflect"><stop offset="0" stop-color="#2e008a"/><stop offset="0.098" stop-color="#0400f5"/><stop offset="0.109" stop-color="#0203ff"/><stop offset="0.163" stop-color="#3962ff"/><stop offset="0.217" stop-color="#7badff"/><stop offset="0.272" stop-color="#c3e0ff"/><stop offset="0.326" stop-color="#f8fbff"/><stop offset="0.337" stop-color="#fffefc"/><stop offset="0.391" stop-color="#ffe4cb"/><stop offset="0.413" stop-color="#ffd5b4"/><stop offset="0.467" stop-color="#ffaa78"/><stop offset="0.533" stop-color="#ff673e"/><stop offset="0.565" stop-color="#ff4327"/><stop offset="0.62" stop-color="#ff0805"/><stop offset="0.63" stop-color="#fd0000"/><stop offset="0.696" stop-color="#d6000c"/><stop offset="0.761" stop-color="#b50016"/><stop offset="0.826" stop-color="#9c001d"/><stop offset="0.891" stop-color="#8a0022"/><stop offset="0.946" stop-color="#820025"/><stop offset="1" stop-color="#7f0026"/></linearGradient><linearGradient id="g184" gradientUnits="userSpaceOnUse" x1="360.80" x2="451.80" y1="0" y2="0" spreadMethod="reflect"><stop offset="0" stop-color="#2e008a"/><stop offset="0.098" stop-color="#0400f5"/><stop offset="0.109" stop-color="#0203ff"/><stop offset="0.163" stop-color="#3a62ff"/><stop offset="0.217" stop-color="#7cadff"/><stop offset="0.272" stop-color="#c3e0ff"/><stop offset="0.326" stop-color="#f8fbff"/><stop offset="0.337" stop-color="#fffdfc"/><stop offset="0.391" stop-color="#ffe4cb"/><stop offset="0.413" stop-color="#ffd5b3"/><stop offset="0.467" stop-color="#ffaa78"/><stop offset="0.533" stop-color="#ff663e"/><stop offset="0.565" stop-color="#ff4226"/><stop offset="0.62" stop-color="#ff0805"/><stop offset="0.63" stop-color="#fd0001"/><stop offset="0.696" stop-color="#d5000c"/><stop offset="0.761" stop-color="#b40016"/><stop offset="0.826" stop-color="#9b001d"/><stop offset="0.891" stop-color="#8a0023"/><stop offset="0.946" stop-color="#810025"/><stop offset="1" stop-color="#7e0026"/></linearGradient><linearGradient id="g185" gradientUnits="userSpaceOnUse" x1="360.80" x2="451.80" y1="0" y2="0" spreadMethod="reflect"><stop offset="0" stop-color="#2e008a"/><stop offset="0.098" stop-color="#0400f5"/><stop offset="0.109" stop-color="#0203ff"/><stop offset="0.163" stop-color="#3a62ff"/><stop offset="0.217" stop-color="#7cadff"/><stop offset="0.272" stop-color="#c3e0ff"/><stop offset="0.326" stop-color="#f8fcff"/><stop offset="0.337" stop-color="#fffdfc"/><stop offset="0.391" stop-color="#ffe4ca"/><stop offset="0.413" stop-color="#ffd4b3"/><stop offset="0.467" stop-color="#ffa978"/><stop offset="0.533" stop-color="#ff663d"/><stop offset="0.565" stop-color="#ff4226"/><stop offset="0.62" stop-color="#ff0704"/><stop offset="0.63" stop-color="#fd0001"/><stop offset="0.696" stop-color="#d5000c"/><stop offset="0.761" stop-color="#b40016"/><stop offset="0.826" stop-color="#9b001e"/><stop offset="0.891" stop-color="#890023"/><stop offset="0.946" stop-color="#810025"/><stop offset="1" stop-color="#7e0026"/></linearGradient><linearGradient id="g186" gradientUnits="userSpaceOnUse" x1="360.80" x2="451.80" y1="0" y2="0" spreadMethod="reflect"><stop offset="0" stop-color="#2e008a"/><stop offset="0.098" stop-color="#0400f5"/><stop offset="0.109" stop-color="#0203ff"/><stop offset="0.163" stop-color="#3a62ff"/><stop offset="0.217" stop-color="#7cadff"/><stop offset="0.272" stop-color="#c3e0ff"/><stop offset="0.326" stop-color="#f8fcff"/><stop offset="0.337" stop-color="#fffdfc"/><stop offset="0.391" stop-color="#ffe4ca"/><stop offset="0.413" stop-color="#ffd4b3"/><stop offset="0.467" stop-color="#ffa978"/><stop offset="0.533" stop-color="#ff663d"/><stop offset="0.565" stop-color="#ff4226"/><stop offset="0.62" stop-color="#ff0704"/><stop offset="0.63" stop-color="#fd0001"/><stop offset="0.696" stop-color="#d5000c"/><stop offset="0.761" stop-color="#b40016"/><stop offset="0.826" stop-color="#9b001e"/><stop offset="0.891" stop-color="#890023"/><stop offset="0.946" stop-color="#810025"/><stop offset="1" stop-color="#7e0026"/></linearGradient><clipPath id="c187"><rect x="670.60" y="33.70" width="182.40" height="181.60"/></clipPath><linearGradient id="g188" gradientUnits="userSpaceOnUse" x1="670.60" x2="853.00" y1="0" y2="0"><stop offset="0" stop-color="#f7f7f7"/><stop offset="0.213" stop-color="#d6efd0"/><stop offset="0.41" stop-color="#a2d99d"/><stop offset="0.612" stop-color="#56ab5e"/><stop offset="0.809" stop-color="#1a7636"/><stop offset="1" stop-color="#00441b"/></linearGradient><linearGradient id="g189" gradientUnits="userSpaceOnUse" x1="670.60" x2="853.00" y1="0" y2="0"><stop offset="0" stop-color="#f7f7f7"/><stop offset="0.213" stop-color="#d6efd0"/><stop offset="0.41" stop-color="#a2d99d"/><stop offset="0.612" stop-color="#56ab5e"/><stop offset="0.803" stop-color="#1b7737"/><stop offset="1" stop-color="#00441b"/></linearGradient><linearGradient id="g190" gradientUnits="userSpaceOnUse" x1="670.60" x2="853.00" y1="0" y2="0"><stop offset="0" stop-color="#f7f7f7"/><stop offset="0.213" stop-color="#d6efd0"/><stop offset="0.41" stop-color="#a2d99d"/><stop offset="0.612" stop-color="#56ab5e"/><stop offset="0.803" stop-color="#1b7736"/><stop offset="1" stop-color="#00441b"/></linearGradient><linearGradient id="g191" gradientUnits="userSpaceOnUse" x1="670.60" x2="853.00" y1="0" y2="0"><stop offset="0" stop-color="#f7f7f7"/><stop offset="0.213" stop-color="#d6efd0"/><stop offset="0.41" stop-color="#a2d99d"/><stop offset="0.612" stop-color="#56ab5e"/><stop offset="0.803" stop-color="#1a7736"/><stop offset="1" stop-color="#00441b"/></linearGradient><linearGradient id="g192" gradientUnits="userSpaceOnUse" x1="670.60" x2="853.00" y1="0" y2="0"><stop offset="0" stop-color="#f7f7f7"/><stop offset="0.213" stop-color="#d6efd0"/><stop offset="0.41" stop-color="#a3d99d"/><stop offset="0.612" stop-color="#56aa5e"/><stop offset="0.803" stop-color="#1a7736"/><stop offset="1" stop-color="#00441b"/></linearGradient><linearGradient id="g193" gradientUnits="userSpaceOnUse" x1="670.60" x2="853.00" y1="0" y2="0"><stop offset="0" stop-color="#f7f7f7"/><stop offset="0.213" stop-color="#d6efd0"/><stop offset="0.41" stop-color="#a3d99d"/><stop offset="0.612" stop-color="#56aa5e"/><stop offset="0.803" stop-color="#1a7736"/><stop offset="1" stop-color="#00441b"/></linearGradient><linearGradient id="g194" gradientUnits="userSpaceOnUse" x1="670.60" x2="853.00" y1="0" y2="0"><stop offset="0" stop-color="#f7f7f7"/><stop offset="0.219" stop-color="#d5eecf"/><stop offset="0.41" stop-color="#a3d99e"/><stop offset="0.612" stop-color="#55aa5e"/><stop offset="0.803" stop-color="#1a7636"/><stop offset="1" stop-color="#00441b"/></linearGradient><linearGradient id="g195" gradientUnits="userSpaceOnUse" x1="670.60" x2="853.00" y1="0" y2="0"><stop offset="0" stop-color="#f7f7f7"/><stop offset="0.219" stop-color="#d5efcf"/><stop offset="0.41" stop-color="#a3d99e"/><stop offset="0.612" stop-color="#55aa5e"/><stop offset="0.803" stop-color="#1a7636"/><stop offset="1" stop-color="#00441b"/></linearGradient><linearGradient id="g196" gradientUnits="userSpaceOnUse" x1="670.60" x2="853.00" y1="0" y2="0"><stop offset="0" stop-color="#f7f7f7"/><stop offset="0.219" stop-color="#d6efd0"/><stop offset="0.415" stop-color="#a1d89c"/><stop offset="0.607" stop-color="#57ab5f"/><stop offset="0.798" stop-color="#1a7736"/><stop offset="1" stop-color="#00441b"/></linearGradient><linearGradient id="g197" gradientUnits="userSpaceOnUse" x1="670.60" x2="853.00" y1="0" y2="0"><stop offset="0" stop-color="#f7f7f7"/><stop offset="0.219" stop-color="#d6efd0"/><stop offset="0.415" stop-color="#a2d99d"/><stop offset="0.607" stop-color="#56ab5f"/><stop offset="0.798" stop-color="#1a7736"/><stop offset="1" stop-color="#00441b"/></linearGradient><linearGradient id="g198" gradientUnits="userSpaceOnUse" x1="670.60" x2="853.00" y1="0" y2="0"><stop offset="0" stop-color="#f7f7f7"/><stop offset="0.224" stop-color="#d5efcf"/><stop offset="0.415" stop-color="#a2d99d"/><stop offset="0.607" stop-color="#56ab5e"/><stop offset="0.798" stop-color="#1a7636"/><stop offset="1" stop-color="#00441b"/></linearGradient><linearGradient id="g199" gradientUnits="userSpaceOnUse" x1="670.60" x2="853.00" y1="0" y2="0"><stop offset="0" stop-color="#f7f7f7"/><stop offset="0.224" stop-color="#d6efd0"/><stop offset="0.415" stop-color="#a3d99d"/><stop offset="0.607" stop-color="#55aa5e"/><stop offset="0.792" stop-color="#1a7736"/><stop offset="1" stop-color="#00441b"/></linearGradient><linearGradient id="g200" gradientUnits="userSpaceOnUse" x1="670.60" x2="853.00" y1="0" y2="0"><stop offset="0" stop-color="#f7f7f7"/><stop offset="0.224" stop-color="#d6efd0"/><stop offset="0.415" stop-color="#a3d99e"/><stop offset="0.601" stop-color="#57ab5f"/><stop offset="0.792" stop-color="#1a7636"/><stop offset="1" stop-color="#00441b"/></linearGradient><linearGradient id="g201" gradientUnits="userSpaceOnUse" x1="670.60" x2="853.00" y1="0" y2="0"><stop offset="0" stop-color="#f7f7f7"/><stop offset="0.23" stop-color="#d6efd0"/><stop offset="0.415" stop-color="#a4da9e"/><stop offset="0.601" stop-color="#56ab5f"/><stop offset="0.787" stop-color="#1b7737"/><stop offset="1" stop-color="#00441b"/></linearGradient><linearGradient id="g202" gradientUnits="userSpaceOnUse" x1="670.60" x2="853.00" y1="0" y2="0"><stop offset="0" stop-color="#f7f7f7"/><stop offset="0.23" stop-color="#d6efd0"/><stop offset="0.415" stop-color="#a4da9f"/><stop offset="0.601" stop-color="#56aa5e"/><stop offset="0.781" stop-color="#1b7837"/><stop offset="1" stop-color="#00441b"/></linearGradient><linearGradient id="g203" gradientUnits="userSpaceOnUse" x1="670.60" x2="853.00" y1="0" y2="0"><stop offset="0" stop-color="#f7f7f7"/><stop offset="0.235" stop-color="#d6efd0"/><stop offset="0.415" stop-color="#a5da9f"/><stop offset="0.596" stop-color="#57ab5f"/><stop offset="0.776" stop-color="#1c7837"/><stop offset="1" stop-color="#00441b"/></linearGradient><linearGradient id="g204" gradientUnits="userSpaceOnUse" x1="670.60" x2="853.00" y1="0" y2="0"><stop offset="0" stop-color="#f7f7f7"/><stop offset="0.235" stop-color="#d7efd1"/><stop offset="0.415" stop-color="#a6dba0"/><stop offset="0.596" stop-color="#56ab5f"/><stop offset="0.776" stop-color="#1b7837"/><stop offset="1" stop-color="#00441b"/></linearGradient><linearGradient id="g205" gradientUnits="userSpaceOnUse" x1="670.60" x2="853.00" y1="0" y2="0"><stop offset="0" stop-color="#f7f7f7"/><stop offset="0.24" stop-color="#d6efd0"/><stop offset="0.415" stop-color="#a6dba0"/><stop offset="0.596" stop-color="#56aa5e"/><stop offset="0.77" stop-color="#1b7837"/><stop offset="1" stop-color="#00441b"/></linearGradient><linearGradient id="g206" gradientUnits="userSpaceOnUse" x1="670.60" x2="853.00" y1="0" y2="0"><stop offset="0" stop-color="#f7f7f7"/><stop offset="0.24" stop-color="#d7efd1"/><stop offset="0.415" stop-color="#a7dba1"/><stop offset="0.59" stop-color="#57ab5f"/><stop offset="0.754" stop-color="#1f7b3a"/><stop offset="0.798" stop-color="#177133"/><stop offset="1" stop-color="#00441b"/></linearGradient><linearGradient id="g207" gradientUnits="userSpaceOnUse" x1="670.60" x2="853.00" y1="0" y2="0"><stop offset="0" stop-color="#f7f7f7"/><stop offset="0.246" stop-color="#d7efd1"/><stop offset="0.415" stop-color="#a8dca2"/><stop offset="0.59" stop-color="#56ab5e"/><stop offset="0.743" stop-color="#217d3b"/><stop offset="0.776" stop-color="#197535"/><stop offset="1" stop-color="#00441b"/></linearGradient><linearGradient id="g208" gradientUnits="userSpaceOnUse" x1="670.60" x2="853.00" y1="0" y2="0"><stop offset="0" stop-color="#f7f7f7"/><stop offset="0.246" stop-color="#d8f0d2"/><stop offset="0.41" stop-color="#aadda4"/><stop offset="0.464" stop-color="#92cf8f"/><stop offset="0.585" stop-color="#57ac5f"/><stop offset="0.732" stop-color="#237f3c"/><stop offset="0.77" stop-color="#197535"/><stop offset="1" stop-color="#00441b"/></linearGradient><linearGradient id="g209" gradientUnits="userSpaceOnUse" x1="670.60" x2="853.00" y1="0" y2="0"><stop offset="0" stop-color="#f7f7f7"/><stop offset="0.251" stop-color="#d8efd2"/><stop offset="0.404" stop-color="#addea7"/><stop offset="0.443" stop-color="#9dd699"/><stop offset="0.585" stop-color="#56ab5f"/><stop offset="0.721" stop-color="#25813e"/><stop offset="0.765" stop-color="#1a7536"/><stop offset="1" stop-color="#00441b"/></linearGradient><linearGradient id="g210" gradientUnits="userSpaceOnUse" x1="670.60" x2="853.00" y1="0" y2="0"><stop offset="0" stop-color="#f7f7f7"/><stop offset="0.251" stop-color="#d9f0d3"/><stop offset="0.393" stop-color="#b1e0ab"/><stop offset="0.437" stop-color="#a1d89c"/><stop offset="0.579" stop-color="#57ac5f"/><stop offset="0.705" stop-color="#298440"/><stop offset="0.754" stop-color="#1a7736"/><stop offset="0.962" stop-color="#044b1f"/><stop offset="1" stop-color="#00441b"/></linearGradient><linearGradient id="g211" gradientUnits="userSpaceOnUse" x1="670.60" x2="853.00" y1="0" y2="0"><stop offset="0" stop-color="#f7f7f7"/><stop offset="0.257" stop-color="#d9f0d3"/><stop offset="0.393" stop-color="#b2e0ac"/><stop offset="0.437" stop-color="#a2d99d"/><stop offset="0.579" stop-color="#56ab5f"/><stop offset="0.699" stop-color="#298440"/><stop offset="0.749" stop-color="#1a7736"/><stop offset="0.94" stop-color="#064f21"/><stop offset="1" stop-color="#00441b"/></linearGradient><linearGradient id="g212" gradientUnits="userSpaceOnUse" x1="670.60" x2="853.00" y1="0" y2="0"><stop offset="0" stop-color="#f7f7f7"/><stop offset="0.251" stop-color="#dbf0d5"/><stop offset="0.35" stop-color="#c1e6bb"/><stop offset="0.437" stop-color="#a3d99e"/><stop offset="0.574" stop-color="#58ac5f"/><stop offset="0.689" stop-color="#2b8541"/><stop offset="0.743" stop-color="#1a7736"/><stop offset="0.923" stop-color="#075122"/><stop offset="1" stop-color="#00441b"/></linearGradient><linearGradient id="g213" gradientUnits="userSpaceOnUse" x1="670.60" x2="853.00" y1="0" y2="0"><stop offset="0" stop-color="#f7f7f7"/><stop offset="0.246" stop-color="#dcf1d7"/><stop offset="0.301" stop-color="#d1edcb"/><stop offset="0.415" stop-color="#addea7"/><stop offset="0.448" stop-color="#9ed69a"/><stop offset="0.574" stop-color="#56ab5f"/><stop offset="0.678" stop-color="#2c8743"/><stop offset="0.738" stop-color="#1a7636"/><stop offset="0.907" stop-color="#085424"/><stop offset="1" stop-color="#00441b"/></linearGradient><linearGradient id="g214" gradientUnits="userSpaceOnUse" x1="670.60" x2="853.00" y1="0" y2="0"><stop offset="0" stop-color="#f7f7f7"/><stop offset="0.246" stop-color="#ddf1d8"/><stop offset="0.301" stop-color="#d3edcd"/><stop offset="0.41" stop-color="#b0dfaa"/><stop offset="0.443" stop-color="#a3d99d"/><stop offset="0.568" stop-color="#57ac5f"/><stop offset="0.667" stop-color="#2e8844"/><stop offset="0.732" stop-color="#1a7636"/><stop offset="0.896" stop-color="#095524"/><stop offset="1" stop-color="#00441b"/></linearGradient><linearGradient id="g215" gradientUnits="userSpaceOnUse" x1="670.60" x2="853.00" y1="0" y2="0"><stop offset="0" stop-color="#f7f7f7"/><stop offset="0.24" stop-color="#dff1da"/><stop offset="0.301" stop-color="#d4eece"/><stop offset="0.404" stop-color="#b4e1ae"/><stop offset="0.448" stop-color="#a1d89c"/><stop offset="0.568" stop-color="#56ab5e"/><stop offset="0.661" stop-color="#2e8844"/><stop offset="0.721" stop-color="#1a7736"/><stop offset="0.869" stop-color="#0b5926"/><stop offset="1" stop-color="#00441b"/></linearGradient><linearGradient id="g216" gradientUnits="userSpaceOnUse" x1="670.60" x2="853.00" y1="0" y2="0"><stop offset="0" stop-color="#f7f7f7"/><stop offset="0.24" stop-color="#e0f2db"/><stop offset="0.306" stop-color="#d5eecf"/><stop offset="0.404" stop-color="#b5e1af"/><stop offset="0.448" stop-color="#a2d99d"/><stop offset="0.563" stop-color="#57ac5f"/><stop offset="0.65" stop-color="#308a45"/><stop offset="0.716" stop-color="#1a7636"/><stop offset="0.858" stop-color="#0b5a27"/><stop offset="1" stop-color="#00441b"/></linearGradient><linearGradient id="g217" gradientUnits="userSpaceOnUse" x1="670.60" x2="853.00" y1="0" y2="0"><stop offset="0" stop-color="#f7f7f7"/><stop offset="0.24" stop-color="#e1f2dc"/><stop offset="0.311" stop-color="#d6efd0"/><stop offset="0.404" stop-color="#b7e2b1"/><stop offset="0.448" stop-color="#a4da9f"/><stop offset="0.557" stop-color="#58ad60"/><stop offset="0.639" stop-color="#318b46"/><stop offset="0.705" stop-color="#1b7737"/><stop offset="0.836" stop-color="#0d5c28"/><stop offset="1" stop-color="#00441b"/></linearGradient><linearGradient id="g218" gradientUnits="userSpaceOnUse" x1="670.60" x2="853.00" y1="0" y2="0"><stop offset="0" stop-color="#f7f7f7"/><stop offset="0.24" stop-color="#e2f2de"/><stop offset="0.317" stop-color="#d6efd0"/><stop offset="0.404" stop-color="#b9e3b3"/><stop offset="0.454" stop-color="#a2d99d"/><stop offset="0.557" stop-color="#57ab5f"/><stop offset="0.634" stop-color="#318b45"/><stop offset="0.694" stop-color="#1b7837"/><stop offset="0.82" stop-color="#0d5e29"/><stop offset="1" stop-color="#00441b"/></linearGradient><linearGradient id="g219" gradientUnits="userSpaceOnUse" x1="670.60" x2="853.00" y1="0" y2="0"><stop offset="0" stop-color="#f7f7f7"/><stop offset="0.24" stop-color="#e3f2df"/><stop offset="0.328" stop-color="#d6efd0"/><stop offset="0.41" stop-color="#b9e3b3"/><stop offset="0.454" stop-color="#a4da9f"/><stop offset="0.552" stop-color="#58ac60"/><stop offset="0.623" stop-color="#328c47"/><stop offset="0.683" stop-color="#1b7837"/><stop offset="0.798" stop-color="#0e602a"/><stop offset="1" stop-color="#00441b"/></linearGradient><linearGradient id="g220" gradientUnits="userSpaceOnUse" x1="670.60" x2="853.00" y1="0" y2="0"><stop offset="0" stop-color="#f7f7f7"/><stop offset="0.24" stop-color="#e4f3e0"/><stop offset="0.333" stop-color="#d7efd1"/><stop offset="0.41" stop-color="#bce4b6"/><stop offset="0.459" stop-color="#a2d99d"/><stop offset="0.546" stop-color="#59ad61"/><stop offset="0.612" stop-color="#348d48"/><stop offset="0.672" stop-color="#1c7937"/><stop offset="0.776" stop-color="#0f622b"/><stop offset="0.984" stop-color="#01461c"/><stop offset="1" stop-color="#00441b"/></linearGradient><linearGradient id="g221" gradientUnits="userSpaceOnUse" x1="670.60" x2="853.00" y1="0" y2="0"><stop offset="0" stop-color="#f7f7f7"/><stop offset="0.246" stop-color="#e5f3e1"/><stop offset="0.344" stop-color="#d7efd1"/><stop offset="0.415" stop-color="#bce4b6"/><stop offset="0.459" stop-color="#a5da9f"/><stop offset="0.546" stop-color="#57ac5f"/><stop offset="0.607" stop-color="#338d47"/><stop offset="0.667" stop-color="#1b7737"/><stop offset="0.77" stop-color="#0f612a"/><stop offset="0.973" stop-color="#02471d"/><stop offset="1" stop-color="#00441b"/></linearGradient><linearGradient id="g222" gradientUnits="userSpaceOnUse" x1="670.60" x2="853.00" y1="0" y2="0"><stop offset="0" stop-color="#f7f7f7"/><stop offset="0.246" stop-color="#e6f3e3"/><stop offset="0.35" stop-color="#d8f0d2"/><stop offset="0.415" stop-color="#bfe5b9"/><stop offset="0.459" stop-color="#a7dba1"/><stop offset="0.541" stop-color="#59ad60"/><stop offset="0.596" stop-color="#358e48"/><stop offset="0.65" stop-color="#1c7938"/><stop offset="0.738" stop-color="#11642c"/><stop offset="0.896" stop-color="#054f21"/><stop offset="1" stop-color="#00441b"/></linearGradient><linearGradient id="g223" gradientUnits="userSpaceOnUse" x1="670.60" x2="853.00" y1="0" y2="0"><stop offset="0" stop-color="#f7f7f7"/><stop offset="0.251" stop-color="#e7f3e4"/><stop offset="0.355" stop-color="#daf0d4"/><stop offset="0.41" stop-color="#c5e8bf"/><stop offset="0.464" stop-color="#a6dba0"/><stop offset="0.536" stop-color="#5aae61"/><stop offset="0.585" stop-color="#37904a"/><stop offset="0.639" stop-color="#1c7938"/><stop offset="0.721" stop-color="#11652d"/><stop offset="0.869" stop-color="#065022"/><stop offset="1" stop-color="#00441b"/></linearGradient><linearGradient id="g224" gradientUnits="userSpaceOnUse" x1="670.60" x2="853.00" y1="0" y2="0"><stop offset="0" stop-color="#f7f7f7"/><stop offset="0.251" stop-color="#e8f4e5"/><stop offset="0.355" stop-color="#dcf1d6"/><stop offset="0.388" stop-color="#d3edcd"/><stop offset="0.437" stop-color="#bae3b4"/><stop offset="0.47" stop-color="#a3d99e"/><stop offset="0.536" stop-color="#57ac5f"/><stop offset="0.579" stop-color="#358f49"/><stop offset="0.628" stop-color="#1c7937"/><stop offset="0.705" stop-color="#11652d"/><stop offset="0.842" stop-color="#075223"/><stop offset="1" stop-color="#00441b"/></linearGradient><linearGradient id="g225" gradientUnits="userSpaceOnUse" x1="670.60" x2="853.00" y1="0" y2="0"><stop offset="0" stop-color="#f7f7f7"/><stop offset="0.257" stop-color="#e9f4e7"/><stop offset="0.361" stop-color="#ddf1d8"/><stop offset="0.393" stop-color="#d5eecf"/><stop offset="0.437" stop-color="#bfe5b9"/><stop offset="0.47" stop-color="#a7dba1"/><stop offset="0.53" stop-color="#59ad60"/><stop offset="0.568" stop-color="#37904a"/><stop offset="0.612" stop-color="#1e7a39"/><stop offset="0.661" stop-color="#146b30"/><stop offset="0.76" stop-color="#0b5927"/><stop offset="0.984" stop-color="#01451c"/><stop offset="1" stop-color="#00441b"/></linearGradient><linearGradient id="g226" gradientUnits="userSpaceOnUse" x1="670.60" x2="853.00" y1="0" y2="0"><stop offset="0" stop-color="#f7f7f7"/><stop offset="0.262" stop-color="#eaf4e8"/><stop offset="0.366" stop-color="#dff1da"/><stop offset="0.404" stop-color="#d5eecf"/><stop offset="0.443" stop-color="#c0e6ba"/><stop offset="0.475" stop-color="#a5da9f"/><stop offset="0.525" stop-color="#5baf62"/><stop offset="0.557" stop-color="#3a934c"/><stop offset="0.596" stop-color="#207c3a"/><stop offset="0.617" stop-color="#197334"/><stop offset="0.689" stop-color="#0f612b"/><stop offset="0.82" stop-color="#075122"/><stop offset="1" stop-color="#00441b"/></linearGradient><linearGradient id="g227" gradientUnits="userSpaceOnUse" x1="670.60" x2="853.00" y1="0" y2="0"><stop offset="0" stop-color="#f7f7f7"/><stop offset="0.273" stop-color="#ebf4e9"/><stop offset="0.372" stop-color="#e1f2dc"/><stop offset="0.415" stop-color="#d6efd0"/><stop offset="0.448" stop-color="#c2e6bc"/><stop offset="0.475" stop-color="#a9dca3"/><stop offset="0.497" stop-color="#85c785"/><stop offset="0.525" stop-color="#57ab5f"/><stop offset="0.552" stop-color="#38914a"/><stop offset="0.585" stop-color="#1f7b3a"/><stop offset="0.607" stop-color="#187234"/><stop offset="0.667" stop-color="#0f612b"/><stop offset="0.781" stop-color="#075223"/><stop offset="1" stop-color="#00441b"/></linearGradient><linearGradient id="g228" gradientUnits="userSpaceOnUse" x1="670.60" x2="853.00" y1="0" y2="0"><stop offset="0" stop-color="#f7f7f7"/><stop offset="0.284" stop-color="#ecf5ea"/><stop offset="0.383" stop-color="#e2f2de"/><stop offset="0.426" stop-color="#d7efd1"/><stop offset="0.454" stop-color="#c4e7be"/><stop offset="0.481" stop-color="#a7dba1"/><stop offset="0.519" stop-color="#59ad61"/><stop offset="0.541" stop-color="#3b944c"/><stop offset="0.568" stop-color="#217d3b"/><stop offset="0.585" stop-color="#197435"/><stop offset="0.634" stop-color="#10642c"/><stop offset="0.721" stop-color="#095625"/><stop offset="0.934" stop-color="#02471d"/><stop offset="1" stop-color="#00441b"/></linearGradient><linearGradient id="g229" gradientUnits="userSpaceOnUse" x1="670.60" x2="853.00" y1="0" y2="0"><stop offset="0" stop-color="#f7f7f7"/><stop offset="0.295" stop-color="#eef5ec"/><stop offset="0.388" stop-color="#e5f3e1"/><stop offset="0.432" stop-color="#dbf0d5"/><stop offset="0.448" stop-color="#d1edcb"/><stop offset="0.47" stop-color="#bbe4b5"/><stop offset="0.486" stop-color="#a2d99d"/><stop offset="0.514" stop-color="#5eb064"/><stop offset="0.53" stop-color="#409850"/><stop offset="0.546" stop-color="#2b8541"/><stop offset="0.563" stop-color="#1b7837"/><stop offset="0.596" stop-color="#13692f"/><stop offset="0.656" stop-color="#0c5a27"/><stop offset="0.781" stop-color="#054e20"/><stop offset="1" stop-color="#00441b"/></linearGradient><linearGradient id="g230" gradientUnits="userSpaceOnUse" x1="670.60" x2="853.00" y1="0" y2="0"><stop offset="0" stop-color="#f7f7f7"/><stop offset="0.311" stop-color="#eff5ee"/><stop offset="0.399" stop-color="#e7f3e4"/><stop offset="0.443" stop-color="#ddf1d7"/><stop offset="0.459" stop-color="#d2edcc"/><stop offset="0.475" stop-color="#bee5b8"/><stop offset="0.486" stop-color="#aadda4"/><stop offset="0.492" stop-color="#9bd597"/><stop offset="0.508" stop-color="#65b46a"/><stop offset="0.514" stop-color="#55aa5e"/><stop offset="0.53" stop-color="#338d47"/><stop offset="0.546" stop-color="#1d7a39"/><stop offset="0.568" stop-color="#146b30"/><stop offset="0.612" stop-color="#0d5d28"/><stop offset="0.699" stop-color="#075122"/><stop offset="0.951" stop-color="#01451c"/><stop offset="1" stop-color="#00441b"/></linearGradient><linearGradient id="g231" gradientUnits="userSpaceOnUse" x1="670.60" x2="853.00" y1="0" y2="0"><stop offset="0" stop-color="#f7f7f7"/><stop offset="0.333" stop-color="#f1f6ef"/><stop offset="0.415" stop-color="#eaf4e7"/><stop offset="0.448" stop-color="#e2f2de"/><stop offset="0.464" stop-color="#daf0d4"/><stop offset="0.475" stop-color="#ccebc6"/><stop offset="0.486" stop-color="#b5e1af"/><stop offset="0.492" stop-color="#a6dba0"/><stop offset="0.508" stop-color="#59ae61"/><stop offset="0.514" stop-color="#479e54"/><stop offset="0.525" stop-color="#2b8642"/><stop offset="0.53" stop-color="#217d3b"/><stop offset="0.536" stop-color="#1a7636"/><stop offset="0.552" stop-color="#13692f"/><stop offset="0.585" stop-color="#0c5b27"/><stop offset="0.65" stop-color="#065122"/><stop offset="0.842" stop-color="#02471d"/><stop offset="1" stop-color="#00441b"/></linearGradient><linearGradient id="g232" gradientUnits="userSpaceOnUse" x1="670.60" x2="853.00" y1="0" y2="0"><stop offset="0" stop-color="#f7f7f7"/><stop offset="0.372" stop-color="#f2f6f1"/><stop offset="0.443" stop-color="#ecf4ea"/><stop offset="0.464" stop-color="#e5f3e2"/><stop offset="0.475" stop-color="#dff1da"/><stop offset="0.481" stop-color="#d9f0d3"/><stop offset="0.486" stop-color="#ccebc6"/><stop offset="0.492" stop-color="#b8e2b2"/><stop offset="0.497" stop-color="#98d394"/><stop offset="0.503" stop-color="#68b66d"/><stop offset="0.508" stop-color="#449b52"/><stop offset="0.514" stop-color="#2b8642"/><stop offset="0.519" stop-color="#1b7837"/><stop offset="0.53" stop-color="#12672e"/><stop offset="0.546" stop-color="#0c5c28"/><stop offset="0.585" stop-color="#075122"/><stop offset="0.689" stop-color="#03491e"/><stop offset="1" stop-color="#00441b"/></linearGradient><linearGradient id="g233" gradientUnits="userSpaceOnUse" x1="670.60" x2="853.00" y1="0" y2="0"><stop offset="0" stop-color="#f7f7f7"/><stop offset="0.448" stop-color="#f4f6f4"/><stop offset="0.481" stop-color="#f0f5ef"/><stop offset="0.486" stop-color="#eef5ec"/><stop offset="0.492" stop-color="#e8f3e4"/><stop offset="0.497" stop-color="#ccebc6"/><stop offset="0.503" stop-color="#2b8642"/><stop offset="0.508" stop-color="#0e5f29"/><stop offset="0.514" stop-color="#095424"/><stop offset="0.525" stop-color="#054d20"/><stop offset="0.568" stop-color="#02471d"/><stop offset="1" stop-color="#00441b"/></linearGradient><linearGradient id="g234" gradientUnits="userSpaceOnUse" x1="670.60" x2="853.00" y1="0" y2="0"><stop offset="0" stop-color="#f7f7f7"/><stop offset="0.404" stop-color="#f5f2f5"/><stop offset="0.459" stop-color="#f2ecf2"/><stop offset="0.475" stop-color="#efe5ef"/><stop offset="0.486" stop-color="#e9d9ea"/><stop offset="0.492" stop-color="#dec8e2"/><stop offset="0.497" stop-color="#c3a4d0"/><stop offset="0.503" stop-color="#9b6bae"/><stop offset="0.508" stop-color="#813892"/><stop offset="0.514" stop-color="#712180"/><stop offset="0.519" stop-color="#661974"/><stop offset="0.53" stop-color="#5b1167"/><stop offset="0.552" stop-color="#520b5d"/><stop offset="0.612" stop-color="#4b0655"/><stop offset="0.913" stop-color="#460250"/><stop offset="1" stop-color="#45024f"/></linearGradient><linearGradient id="g235" gradientUnits="userSpaceOnUse" x1="670.60" x2="853.00" y1="0" y2="0"><stop offset="0" stop-color="#f7f7f7"/><stop offset="0.355" stop-color="#f4f0f4"/><stop offset="0.432" stop-color="#f0e8f1"/><stop offset="0.459" stop-color="#ecdfed"/><stop offset="0.47" stop-color="#e9d7e9"/><stop offset="0.475" stop-color="#e5d1e7"/><stop offset="0.481" stop-color="#dec8e2"/><stop offset="0.486" stop-color="#d4bbdc"/><stop offset="0.492" stop-color="#c8abd3"/><stop offset="0.503" stop-color="#a67bb7"/><stop offset="0.508" stop-color="#9662a9"/><stop offset="0.514" stop-color="#8a4a9c"/><stop offset="0.519" stop-color="#813892"/><stop offset="0.525" stop-color="#7a2a8a"/><stop offset="0.53" stop-color="#732383"/><stop offset="0.546" stop-color="#651872"/><stop offset="0.574" stop-color="#591066"/><stop offset="0.634" stop-color="#500a5b"/><stop offset="0.809" stop-color="#480453"/><stop offset="1" stop-color="#45024f"/></linearGradient><linearGradient id="g236" gradientUnits="userSpaceOnUse" x1="670.60" x2="853.00" y1="0" y2="0"><stop offset="0" stop-color="#f7f7f7"/><stop offset="0.322" stop-color="#f3eff3"/><stop offset="0.41" stop-color="#efe5ef"/><stop offset="0.448" stop-color="#eadaea"/><stop offset="0.459" stop-color="#e7d4e8"/><stop offset="0.475" stop-color="#d8c0de"/><stop offset="0.486" stop-color="#c9acd4"/><stop offset="0.497" stop-color="#b590c4"/><stop offset="0.514" stop-color="#9560a7"/><stop offset="0.525" stop-color="#864398"/><stop offset="0.536" stop-color="#7c2e8d"/><stop offset="0.541" stop-color="#782788"/><stop offset="0.563" stop-color="#691b77"/><stop offset="0.601" stop-color="#5c1269"/><stop offset="0.678" stop-color="#510b5d"/><stop offset="0.885" stop-color="#480452"/><stop offset="1" stop-color="#45024f"/></linearGradient><linearGradient id="g237" gradientUnits="userSpaceOnUse" x1="670.60" x2="853.00" y1="0" y2="0"><stop offset="0" stop-color="#f7f7f7"/><stop offset="0.306" stop-color="#f2edf3"/><stop offset="0.399" stop-color="#ede2ee"/><stop offset="0.443" stop-color="#e7d5e8"/><stop offset="0.464" stop-color="#dac3df"/><stop offset="0.481" stop-color="#caadd5"/><stop offset="0.492" stop-color="#bc9aca"/><stop offset="0.519" stop-color="#945fa7"/><stop offset="0.536" stop-color="#853f96"/><stop offset="0.552" stop-color="#7a2a8a"/><stop offset="0.563" stop-color="#742383"/><stop offset="0.596" stop-color="#651973"/><stop offset="0.656" stop-color="#581065"/><stop offset="0.781" stop-color="#4e0859"/><stop offset="1" stop-color="#45024f"/></linearGradient><linearGradient id="g238" gradientUnits="userSpaceOnUse" x1="670.60" x2="853.00" y1="0" y2="0"><stop offset="0" stop-color="#f7f7f7"/><stop offset="0.29" stop-color="#f2ebf2"/><stop offset="0.388" stop-color="#ece0ed"/><stop offset="0.432" stop-color="#e6d3e7"/><stop offset="0.459" stop-color="#d7bfde"/><stop offset="0.481" stop-color="#c5a7d1"/><stop offset="0.519" stop-color="#9968ac"/><stop offset="0.536" stop-color="#8b4c9d"/><stop offset="0.557" stop-color="#7e328e"/><stop offset="0.574" stop-color="#762586"/><stop offset="0.612" stop-color="#671a75"/><stop offset="0.678" stop-color="#5a1166"/><stop offset="0.814" stop-color="#4e0859"/><stop offset="1" stop-color="#45024f"/></linearGradient><linearGradient id="g239" gradientUnits="userSpaceOnUse" x1="670.60" x2="853.00" y1="0" y2="0"><stop offset="0" stop-color="#f7f7f7"/><stop offset="0.279" stop-color="#f1eaf1"/><stop offset="0.377" stop-color="#ebdeec"/><stop offset="0.421" stop-color="#e5d2e7"/><stop offset="0.454" stop-color="#d6bddc"/><stop offset="0.481" stop-color="#c2a2cf"/><stop offset="0.525" stop-color="#9865aa"/><stop offset="0.546" stop-color="#89489a"/><stop offset="0.574" stop-color="#7c2e8c"/><stop offset="0.59" stop-color="#752485"/><stop offset="0.639" stop-color="#651973"/><stop offset="0.727" stop-color="#570f63"/><stop offset="0.918" stop-color="#490554"/><stop offset="1" stop-color="#45024f"/></linearGradient><linearGradient id="g240" gradientUnits="userSpaceOnUse" x1="670.60" x2="853.00" y1="0" y2="0"><stop offset="0" stop-color="#f7f7f7"/><stop offset="0.273" stop-color="#f0e8f1"/><stop offset="0.372" stop-color="#eadbeb"/><stop offset="0.41" stop-color="#e5d1e6"/><stop offset="0.448" stop-color="#d4bbdc"/><stop offset="0.475" stop-color="#c3a5d0"/><stop offset="0.53" stop-color="#9764aa"/><stop offset="0.557" stop-color="#874599"/><stop offset="0.59" stop-color="#7a2b8b"/><stop offset="0.612" stop-color="#732282"/><stop offset="0.672" stop-color="#631770"/><stop offset="0.781" stop-color="#540d60"/><stop offset="1" stop-color="#45024f"/></linearGradient><linearGradient id="g241" gradientUnits="userSpaceOnUse" x1="670.60" x2="853.00" y1="0" y2="0"><stop offset="0" stop-color="#f7f7f7"/><stop offset="0.262" stop-color="#f0e7f0"/><stop offset="0.366" stop-color="#e9d9ea"/><stop offset="0.399" stop-color="#e4d0e6"/><stop offset="0.443" stop-color="#d4badb"/><stop offset="0.475" stop-color="#c1a1ce"/><stop offset="0.536" stop-color="#9662a9"/><stop offset="0.568" stop-color="#864297"/><stop offset="0.607" stop-color="#792989"/><stop offset="0.656" stop-color="#6a1c79"/><stop offset="0.749" stop-color="#5a1167"/><stop offset="0.94" stop-color="#490554"/><stop offset="1" stop-color="#45024f"/></linearGradient><linearGradient id="g242" gradientUnits="userSpaceOnUse" x1="670.60" x2="853.00" y1="0" y2="0"><stop offset="0" stop-color="#f7f7f7"/><stop offset="0.257" stop-color="#efe6f0"/><stop offset="0.361" stop-color="#e9d7e9"/><stop offset="0.393" stop-color="#e2cee5"/><stop offset="0.443" stop-color="#d0b6d9"/><stop offset="0.475" stop-color="#bf9fcd"/><stop offset="0.541" stop-color="#9661a8"/><stop offset="0.579" stop-color="#854096"/><stop offset="0.623" stop-color="#782688"/><stop offset="0.694" stop-color="#661974"/><stop offset="0.814" stop-color="#550d61"/><stop offset="1" stop-color="#45024f"/></linearGradient><linearGradient id="g243" gradientUnits="userSpaceOnUse" x1="670.60" x2="853.00" y1="0" y2="0"><stop offset="0" stop-color="#f7f7f7"/><stop offset="0.251" stop-color="#efe5ef"/><stop offset="0.361" stop-color="#e7d5e8"/><stop offset="0.415" stop-color="#d8c1de"/><stop offset="0.464" stop-color="#c4a5d0"/><stop offset="0.546" stop-color="#9560a8"/><stop offset="0.59" stop-color="#843f95"/><stop offset="0.634" stop-color="#782789"/><stop offset="0.716" stop-color="#651872"/><stop offset="0.847" stop-color="#530c5f"/><stop offset="1" stop-color="#45024f"/></linearGradient><linearGradient id="g244" gradientUnits="userSpaceOnUse" x1="670.60" x2="853.00" y1="0" y2="0"><stop offset="0" stop-color="#f7f7f7"/><stop offset="0.251" stop-color="#eee3ef"/><stop offset="0.355" stop-color="#e6d3e8"/><stop offset="0.421" stop-color="#d4bbdb"/><stop offset="0.47" stop-color="#bf9fcd"/><stop offset="0.552" stop-color="#9560a7"/><stop offset="0.601" stop-color="#843d95"/><stop offset="0.65" stop-color="#772587"/><stop offset="0.738" stop-color="#631771"/><stop offset="0.891" stop-color="#4f095b"/><stop offset="1" stop-color="#45024f"/></linearGradient><linearGradient id="g245" gradientUnits="userSpaceOnUse" x1="670.60" x2="853.00" y1="0" y2="0"><stop offset="0" stop-color="#f7f7f7"/><stop offset="0.246" stop-color="#eee3ee"/><stop offset="0.344" stop-color="#e6d3e8"/><stop offset="0.415" stop-color="#d4badb"/><stop offset="0.464" stop-color="#c1a1ce"/><stop offset="0.557" stop-color="#945fa7"/><stop offset="0.612" stop-color="#833c94"/><stop offset="0.661" stop-color="#772587"/><stop offset="0.754" stop-color="#631770"/><stop offset="0.918" stop-color="#4d0858"/><stop offset="1" stop-color="#45024f"/></linearGradient><linearGradient id="g246" gradientUnits="userSpaceOnUse" x1="670.60" x2="853.00" y1="0" y2="0"><stop offset="0" stop-color="#f7f7f7"/><stop offset="0.246" stop-color="#ede1ee"/><stop offset="0.339" stop-color="#e5d2e7"/><stop offset="0.415" stop-color="#d2b7da"/><stop offset="0.47" stop-color="#bd9bcb"/><stop offset="0.563" stop-color="#945ea7"/><stop offset="0.623" stop-color="#823a93"/><stop offset="0.672" stop-color="#772587"/><stop offset="0.77" stop-color="#621770"/><stop offset="0.956" stop-color="#4a0554"/><stop offset="1" stop-color="#45024f"/></linearGradient><linearGradient id="g247" gradientUnits="userSpaceOnUse" x1="670.60" x2="853.00" y1="0" y2="0"><stop offset="0" stop-color="#f7f7f7"/><stop offset="0.246" stop-color="#ece0ed"/><stop offset="0.333" stop-color="#e5d1e6"/><stop offset="0.41" stop-color="#d1b7da"/><stop offset="0.464" stop-color="#be9dcc"/><stop offset="0.568" stop-color="#945ea6"/><stop offset="0.628" stop-color="#833b94"/><stop offset="0.683" stop-color="#772587"/><stop offset="0.792" stop-color="#60156e"/><stop offset="1" stop-color="#45024f"/></linearGradient><linearGradient id="g248" gradientUnits="userSpaceOnUse" x1="670.60" x2="853.00" y1="0" y2="0"><stop offset="0" stop-color="#f7f7f7"/><stop offset="0.24" stop-color="#ecdfed"/><stop offset="0.322" stop-color="#e5d1e7"/><stop offset="0.41" stop-color="#d0b5d9"/><stop offset="0.464" stop-color="#bd9ccb"/><stop offset="0.568" stop-color="#9560a8"/><stop offset="0.634" stop-color="#833c94"/><stop offset="0.694" stop-color="#772586"/><stop offset="0.809" stop-color="#5f156c"/><stop offset="1" stop-color="#45024f"/></linearGradient><linearGradient id="g249" gradientUnits="userSpaceOnUse" x1="670.60" x2="853.00" y1="0" y2="0"><stop offset="0" stop-color="#f7f7f7"/><stop offset="0.24" stop-color="#ebdeec"/><stop offset="0.317" stop-color="#e4d0e6"/><stop offset="0.41" stop-color="#ceb3d8"/><stop offset="0.47" stop-color="#bb98c9"/><stop offset="0.574" stop-color="#955fa7"/><stop offset="0.645" stop-color="#823b93"/><stop offset="0.699" stop-color="#772687"/><stop offset="0.82" stop-color="#5f146c"/><stop offset="1" stop-color="#45024f"/></linearGradient><linearGradient id="g250" gradientUnits="userSpaceOnUse" x1="670.60" x2="853.00" y1="0" y2="0"><stop offset="0" stop-color="#f7f7f7"/><stop offset="0.24" stop-color="#ebdcec"/><stop offset="0.311" stop-color="#e4d0e6"/><stop offset="0.41" stop-color="#cdb1d7"/><stop offset="0.47" stop-color="#ba97c8"/><stop offset="0.579" stop-color="#945fa7"/><stop offset="0.656" stop-color="#823992"/><stop offset="0.71" stop-color="#772587"/><stop offset="0.842" stop-color="#5c1369"/><stop offset="1" stop-color="#45024f"/></linearGradient><linearGradient id="g251" gradientUnits="userSpaceOnUse" x1="670.60" x2="853.00" y1="0" y2="0"><stop offset="0" stop-color="#f7f7f7"/><stop offset="0.246" stop-color="#eadaeb"/><stop offset="0.306" stop-color="#e3cfe6"/><stop offset="0.41" stop-color="#ccb0d6"/><stop offset="0.47" stop-color="#b997c8"/><stop offset="0.585" stop-color="#945ea6"/><stop offset="0.667" stop-color="#813791"/><stop offset="0.721" stop-color="#762586"/><stop offset="0.858" stop-color="#5b1167"/><stop offset="1" stop-color="#45024f"/></linearGradient><linearGradient id="g252" gradientUnits="userSpaceOnUse" x1="670.60" x2="853.00" y1="0" y2="0"><stop offset="0" stop-color="#f7f7f7"/><stop offset="0.246" stop-color="#e9d9ea"/><stop offset="0.301" stop-color="#e3cfe5"/><stop offset="0.41" stop-color="#cbaed5"/><stop offset="0.475" stop-color="#b793c6"/><stop offset="0.59" stop-color="#935da6"/><stop offset="0.683" stop-color="#7f348f"/><stop offset="0.727" stop-color="#772586"/><stop offset="0.874" stop-color="#591065"/><stop offset="1" stop-color="#45024f"/></linearGradient><linearGradient id="g253" gradientUnits="userSpaceOnUse" x1="670.60" x2="853.00" y1="0" y2="0"><stop offset="0" stop-color="#f7f7f7"/><stop offset="0.246" stop-color="#e9d8ea"/><stop offset="0.301" stop-color="#e2cde5"/><stop offset="0.415" stop-color="#c8abd4"/><stop offset="0.53" stop-color="#a67bb7"/><stop offset="0.634" stop-color="#8a4a9c"/><stop offset="0.727" stop-color="#782688"/><stop offset="0.88" stop-color="#591065"/><stop offset="1" stop-color="#45024f"/></linearGradient><linearGradient id="g254" gradientUnits="userSpaceOnUse" x1="670.60" x2="853.00" y1="0" y2="0"><stop offset="0" stop-color="#f7f7f7"/><stop offset="0.251" stop-color="#e8d6e9"/><stop offset="0.35" stop-color="#d7bedd"/><stop offset="0.448" stop-color="#bf9ecc"/><stop offset="0.59" stop-color="#9561a8"/><stop offset="0.694" stop-color="#7f3490"/><stop offset="0.743" stop-color="#762486"/><stop offset="0.913" stop-color="#540d60"/><stop offset="1" stop-color="#45024f"/></linearGradient><linearGradient id="g255" gradientUnits="userSpaceOnUse" x1="670.60" x2="853.00" y1="0" y2="0"><stop offset="0" stop-color="#f7f7f7"/><stop offset="0.257" stop-color="#e7d4e8"/><stop offset="0.388" stop-color="#cdb2d7"/><stop offset="0.464" stop-color="#b996c8"/><stop offset="0.596" stop-color="#9560a7"/><stop offset="0.705" stop-color="#7e328f"/><stop offset="0.749" stop-color="#762586"/><stop offset="0.929" stop-color="#510b5d"/><stop offset="1" stop-color="#45024f"/></linearGradient><linearGradient id="g256" gradientUnits="userSpaceOnUse" x1="670.60" x2="853.00" y1="0" y2="0"><stop offset="0" stop-color="#f7f7f7"/><stop offset="0.251" stop-color="#e7d4e8"/><stop offset="0.388" stop-color="#ccb1d6"/><stop offset="0.464" stop-color="#b996c7"/><stop offset="0.596" stop-color="#9661a8"/><stop offset="0.71" stop-color="#7e328f"/><stop offset="0.754" stop-color="#762586"/><stop offset="0.945" stop-color="#4f095a"/><stop offset="1" stop-color="#45024f"/></linearGradient><linearGradient id="g257" gradientUnits="userSpaceOnUse" x1="670.60" x2="853.00" y1="0" y2="0"><stop offset="0" stop-color="#f7f7f7"/><stop offset="0.251" stop-color="#e7d3e8"/><stop offset="0.404" stop-color="#c8abd3"/><stop offset="0.585" stop-color="#9967ab"/><stop offset="0.71" stop-color="#7f3490"/><stop offset="0.76" stop-color="#762586"/><stop offset="0.962" stop-color="#4c0757"/><stop offset="1" stop-color="#45024f"/></linearGradient><linearGradient id="g258" gradientUnits="userSpaceOnUse" x1="670.60" x2="853.00" y1="0" y2="0"><stop offset="0" stop-color="#f7f7f7"/><stop offset="0.251" stop-color="#e6d2e7"/><stop offset="0.415" stop-color="#c5a6d1"/><stop offset="0.596" stop-color="#9764a9"/><stop offset="0.727" stop-color="#7d308d"/><stop offset="0.765" stop-color="#762486"/><stop offset="0.989" stop-color="#470351"/><stop offset="1" stop-color="#45024f"/></linearGradient><linearGradient id="g259" gradientUnits="userSpaceOnUse" x1="670.60" x2="853.00" y1="0" y2="0"><stop offset="0" stop-color="#f7f7f7"/><stop offset="0.246" stop-color="#e6d2e7"/><stop offset="0.421" stop-color="#c3a4d0"/><stop offset="0.601" stop-color="#9662a9"/><stop offset="0.743" stop-color="#7b2c8b"/><stop offset="0.776" stop-color="#742384"/><stop offset="1" stop-color="#45024f"/></linearGradient><linearGradient id="g260" gradientUnits="userSpaceOnUse" x1="670.60" x2="853.00" y1="0" y2="0"><stop offset="0" stop-color="#f7f7f7"/><stop offset="0.246" stop-color="#e5d1e7"/><stop offset="0.421" stop-color="#c3a3d0"/><stop offset="0.601" stop-color="#9764a9"/><stop offset="0.754" stop-color="#7a2a8a"/><stop offset="0.809" stop-color="#6e1f7c"/><stop offset="1" stop-color="#45024f"/></linearGradient><linearGradient id="g261" gradientUnits="userSpaceOnUse" x1="670.60" x2="853.00" y1="0" y2="0"><stop offset="0" stop-color="#f7f7f7"/><stop offset="0.246" stop-color="#e4d1e6"/><stop offset="0.426" stop-color="#c1a1ce"/><stop offset="0.607" stop-color="#9662a9"/><stop offset="0.765" stop-color="#792789"/><stop offset="1" stop-color="#45024f"/></linearGradient><linearGradient id="g262" gradientUnits="userSpaceOnUse" x1="670.60" x2="853.00" y1="0" y2="0"><stop offset="0" stop-color="#f7f7f7"/><stop offset="0.24" stop-color="#e5d1e6"/><stop offset="0.426" stop-color="#c0a0ce"/><stop offset="0.607" stop-color="#9763a9"/><stop offset="0.77" stop-color="#782788"/><stop offset="1" stop-color="#45024f"/></linearGradient><linearGradient id="g263" gradientUnits="userSpaceOnUse" x1="670.60" x2="853.00" y1="0" y2="0"><stop offset="0" stop-color="#f7f7f7"/><stop offset="0.235" stop-color="#e5d1e7"/><stop offset="0.426" stop-color="#c0a0ce"/><stop offset="0.607" stop-color="#9764aa"/><stop offset="0.776" stop-color="#782688"/><stop offset="1" stop-color="#45024f"/></linearGradient><linearGradient id="g264" gradientUnits="userSpaceOnUse" x1="670.60" x2="853.00" y1="0" y2="0"><stop offset="0" stop-color="#f7f7f7"/><stop offset="0.235" stop-color="#e5d1e6"/><stop offset="0.432" stop-color="#bf9ecc"/><stop offset="0.612" stop-color="#9663a9"/><stop offset="0.781" stop-color="#772687"/><stop offset="1" stop-color="#45024f"/></linearGradient><linearGradient id="g265" gradientUnits="userSpaceOnUse" x1="670.60" x2="853.00" y1="0" y2="0"><stop offset="0" stop-color="#f7f7f7"/><stop offset="0.23" stop-color="#e5d1e7"/><stop offset="0.432" stop-color="#be9dcc"/><stop offset="0.612" stop-color="#9763a9"/><stop offset="0.787" stop-color="#772587"/><stop offset="1" stop-color="#45024f"/></linearGradient><linearGradient id="g266" gradientUnits="userSpaceOnUse" x1="670.60" x2="853.00" y1="0" y2="0"><stop offset="0" stop-color="#f7f7f7"/><stop offset="0.23" stop-color="#e4d1e6"/><stop offset="0.437" stop-color="#bd9bcb"/><stop offset="0.612" stop-color="#9764aa"/><stop offset="0.787" stop-color="#772687"/><stop offset="1" stop-color="#45024f"/></linearGradient><linearGradient id="g267" gradientUnits="userSpaceOnUse" x1="670.60" x2="853.00" y1="0" y2="0"><stop offset="0" stop-color="#f7f7f7"/><stop offset="0.224" stop-color="#e5d1e7"/><stop offset="0.432" stop-color="#be9dcc"/><stop offset="0.617" stop-color="#9663a9"/><stop offset="0.792" stop-color="#772587"/><stop offset="1" stop-color="#45024f"/></linearGradient><linearGradient id="g268" gradientUnits="userSpaceOnUse" x1="670.60" x2="853.00" y1="0" y2="0"><stop offset="0" stop-color="#f7f7f7"/><stop offset="0.224" stop-color="#e5d1e6"/><stop offset="0.432" stop-color="#be9ccb"/><stop offset="0.617" stop-color="#9763a9"/><stop offset="0.792" stop-color="#772587"/><stop offset="1" stop-color="#45024f"/></linearGradient><linearGradient id="g269" gradientUnits="userSpaceOnUse" x1="670.60" x2="853.00" y1="0" y2="0"><stop offset="0" stop-color="#f7f7f7"/><stop offset="0.224" stop-color="#e4d0e6"/><stop offset="0.432" stop-color="#bd9ccb"/><stop offset="0.617" stop-color="#9764a9"/><stop offset="0.798" stop-color="#762586"/><stop offset="1" stop-color="#45024f"/></linearGradient><linearGradient id="g270" gradientUnits="userSpaceOnUse" x1="670.60" x2="853.00" y1="0" y2="0"><stop offset="0" stop-color="#f7f7f7"/><stop offset="0.219" stop-color="#e5d1e7"/><stop offset="0.432" stop-color="#bd9ccb"/><stop offset="0.617" stop-color="#9764aa"/><stop offset="0.798" stop-color="#772587"/><stop offset="1" stop-color="#45024f"/></linearGradient><linearGradient id="g271" gradientUnits="userSpaceOnUse" x1="670.60" x2="853.00" y1="0" y2="0"><stop offset="0" stop-color="#f7f7f7"/><stop offset="0.219" stop-color="#e5d1e6"/><stop offset="0.432" stop-color="#bd9ccb"/><stop offset="0.617" stop-color="#9765aa"/><stop offset="0.803" stop-color="#762486"/><stop offset="1" stop-color="#45024f"/></linearGradient><linearGradient id="g272" gradientUnits="userSpaceOnUse" x1="670.60" x2="853.00" y1="0" y2="0"><stop offset="0" stop-color="#f7f7f7"/><stop offset="0.219" stop-color="#e4d1e6"/><stop offset="0.432" stop-color="#bd9ccb"/><stop offset="0.617" stop-color="#9765aa"/><stop offset="0.803" stop-color="#762586"/><stop offset="1" stop-color="#45024f"/></linearGradient><linearGradient id="g273" gradientUnits="userSpaceOnUse" x1="670.60" x2="853.00" y1="0" y2="0"><stop offset="0" stop-color="#f7f7f7"/><stop offset="0.219" stop-color="#e4d0e6"/><stop offset="0.432" stop-color="#bd9bcb"/><stop offset="0.623" stop-color="#9763a9"/><stop offset="0.803" stop-color="#762586"/><stop offset="1" stop-color="#45024f"/></linearGradient><linearGradient id="g274" gradientUnits="userSpaceOnUse" x1="670.60" x2="853.00" y1="0" y2="0"><stop offset="0" stop-color="#f7f7f7"/><stop offset="0.213" stop-color="#e5d1e7"/><stop offset="0.432" stop-color="#bd9bcb"/><stop offset="0.623" stop-color="#9763a9"/><stop offset="0.803" stop-color="#772587"/><stop offset="1" stop-color="#45024f"/></linearGradient><linearGradient id="g275" gradientUnits="userSpaceOnUse" x1="670.60" x2="853.00" y1="0" y2="0"><stop offset="0" stop-color="#f7f7f7"/><stop offset="0.213" stop-color="#e5d1e7"/><stop offset="0.432" stop-color="#bd9bcb"/><stop offset="0.623" stop-color="#9764a9"/><stop offset="0.803" stop-color="#772587"/><stop offset="1" stop-color="#45024f"/></linearGradient><linearGradient id="g276" gradientUnits="userSpaceOnUse" x1="670.60" x2="853.00" y1="0" y2="0"><stop offset="0" stop-color="#f7f7f7"/><stop offset="0.213" stop-color="#e5d1e7"/><stop offset="0.432" stop-color="#bd9bcb"/><stop offset="0.623" stop-color="#9764aa"/><stop offset="0.803" stop-color="#772587"/><stop offset="1" stop-color="#45024f"/></linearGradient><linearGradient id="g277" gradientUnits="userSpaceOnUse" x1="670.60" x2="853.00" y1="0" y2="0"><stop offset="0" stop-color="#f7f7f7"/><stop offset="0.213" stop-color="#e5d1e6"/><stop offset="0.432" stop-color="#bd9bcb"/><stop offset="0.623" stop-color="#9764aa"/><stop offset="0.809" stop-color="#762485"/><stop offset="1" stop-color="#45024f"/></linearGradient><linearGradient id="g278" gradientUnits="userSpaceOnUse" x1="670.60" x2="853.00" y1="0" y2="0"><stop offset="0" stop-color="#f7f7f7"/><stop offset="0.213" stop-color="#e5d1e6"/><stop offset="0.432" stop-color="#bd9bcb"/><stop offset="0.623" stop-color="#9764aa"/><stop offset="0.809" stop-color="#762485"/><stop offset="1" stop-color="#45024f"/></linearGradient><linearGradient id="g279" gradientUnits="userSpaceOnUse" x1="670.60" x2="853.00" y1="0" y2="0"><stop offset="0" stop-color="#f7f7f7"/><stop offset="0.213" stop-color="#e5d1e6"/><stop offset="0.432" stop-color="#bd9bcb"/><stop offset="0.623" stop-color="#9764aa"/><stop offset="0.809" stop-color="#762486"/><stop offset="1" stop-color="#45024f"/></linearGradient><linearGradient id="g280" x1="0" x2="0" y1="0" y2="1"><stop offset="0.000" stop-color="#7e0026"/><stop offset="0.154" stop-color="#f50003"/><stop offset="0.179" stop-color="#ff0e08"/><stop offset="0.256" stop-color="#ff653c"/><stop offset="0.333" stop-color="#ffac7a"/><stop offset="0.410" stop-color="#ffdec0"/><stop offset="0.462" stop-color="#fff2e5"/><stop offset="0.487" stop-color="#fffbf6"/><stop offset="0.513" stop-color="#f6fbff"/><stop offset="0.564" stop-color="#d3e9ff"/><stop offset="0.590" stop-color="#c0deff"/><stop offset="0.667" stop-color="#7aacff"/><stop offset="0.744" stop-color="#3c65ff"/><stop offset="0.821" stop-color="#080eff"/><stop offset="0.846" stop-color="#0400f6"/><stop offset="1.000" stop-color="#2e008a"/></linearGradient><linearGradient id="g281" x1="0" x2="0" y1="0" y2="1"><stop offset="0.000" stop-color="#7e0026"/><stop offset="0.154" stop-color="#f50003"/><stop offset="0.179" stop-color="#ff0e08"/><stop offset="0.256" stop-color="#ff653c"/><stop offset="0.333" stop-color="#ffac7a"/><stop offset="0.410" stop-color="#ffdec0"/><stop offset="0.462" stop-color="#fff2e5"/><stop offset="0.487" stop-color="#fffbf6"/><stop offset="0.513" stop-color="#f6fbff"/><stop offset="0.564" stop-color="#d3e9ff"/><stop offset="0.590" stop-color="#c0deff"/><stop offset="0.667" stop-color="#7aacff"/><stop offset="0.744" stop-color="#3c65ff"/><stop offset="0.821" stop-color="#080eff"/><stop offset="0.846" stop-color="#0400f6"/><stop offset="1.000" stop-color="#2e008a"/></linearGradient><linearGradient id="g282" x1="0" x2="0" y1="0" y2="1"><stop offset="0.000" stop-color="#00441b"/><stop offset="0.103" stop-color="#1d7938"/><stop offset="0.205" stop-color="#5eb064"/><stop offset="0.282" stop-color="#98d395"/><stop offset="0.308" stop-color="#aadda4"/><stop offset="0.385" stop-color="#d1edcb"/><stop offset="0.410" stop-color="#dcf1d7"/><stop offset="0.487" stop-color="#f3f6f2"/><stop offset="0.513" stop-color="#f5f3f5"/><stop offset="0.590" stop-color="#e9d8ea"/><stop offset="0.615" stop-color="#e1cde4"/><stop offset="0.692" stop-color="#c6a8d2"/><stop offset="0.795" stop-color="#9d6fb0"/><stop offset="0.897" stop-color="#792889"/><stop offset="1.000" stop-color="#45024f"/></linearGradient><linearGradient id="g283" x1="0" x2="0" y1="0" y2="1"><stop offset="0.000" stop-color="#00441b"/><stop offset="0.103" stop-color="#1d7938"/><stop offset="0.205" stop-color="#5eb064"/><stop offset="0.282" stop-color="#98d395"/><stop offset="0.308" stop-color="#aadda4"/><stop offset="0.385" stop-color="#d1edcb"/><stop offset="0.410" stop-color="#dcf1d7"/><stop offset="0.487" stop-color="#f3f6f2"/><stop offset="0.513" stop-color="#f5f3f5"/><stop offset="0.590" stop-color="#e9d8ea"/><stop offset="0.615" stop-color="#e1cde4"/><stop offset="0.692" stop-color="#c6a8d2"/><stop offset="0.795" stop-color="#9d6fb0"/><stop offset="0.897" stop-color="#792889"/><stop offset="1.000" stop-color="#45024f"/></linearGradient><clipPath id="sphc"><circle cx="142.70" cy="383.30" r="98.00"/></clipPath><clipPath id="sphneg"><path d="M143.0,437.7 L143.8,437.8 L144.5,437.9 L145.3,438.1 L146.0,438.2 L146.8,438.3 L147.5,438.4 L148.3,438.5 L149.0,438.6 L149.8,438.7 L150.6,438.8 L151.3,438.9 L152.1,439.0 L152.8,439.1 L153.6,439.1 L154.3,439.2 L155.1,439.3 L155.8,439.4 L156.6,439.4 L157.3,439.5 L158.1,439.6 L158.8,439.6 L159.5,439.7 L160.3,439.7 L161.0,439.8 L161.8,439.8 L162.5,439.8 L163.3,439.9 L164.0,439.9 L164.7,439.9 L165.5,440.0 L166.2,440.0 L166.9,440.0 L167.7,440.0 L168.4,440.0 L169.1,440.0 L169.8,440.0 L170.6,440.0 L171.3,440.0 L172.0,440.0 L172.7,440.0 L173.4,440.0 L174.2,440.0 L174.9,440.0 L175.6,440.0 L176.3,439.9 L177.0,439.9 L177.7,439.9 L178.4,439.8 L179.1,439.8 L179.8,439.7 L180.5,439.7 L181.2,439.6 L181.9,439.6 L182.6,439.5 L183.3,439.5 L183.9,439.4 L184.6,439.3 L185.3,439.3 L186.0,439.2 L186.7,439.1 L187.3,439.0 L188.0,438.9 L188.7,438.8 L189.3,438.7 L190.0,438.6 L190.6,438.5 L191.3,438.4 L191.9,438.3 L192.6,438.2 L193.2,438.1 L193.9,438.0 L194.5,437.9 L195.2,437.7 L195.8,437.6 L196.4,437.5 L197.0,437.3 L197.7,437.2 L198.3,437.1 L198.9,436.9 L199.5,436.8 L200.1,436.6 L200.7,436.5 L201.3,436.3 L201.9,436.2 L202.5,436.0 L203.1,435.8 L203.7,435.7 L204.3,435.5 L204.8,435.3 L205.4,435.1 L206.0,434.9 L206.6,434.7 L207.1,434.6 L207.7,434.4 L208.2,434.2 L208.8,434.0 L209.3,433.8 L209.9,433.6 L210.4,433.4 L210.9,433.1 L211.5,432.9 L212.0,432.7 L212.5,432.5 L213.0,432.3 L213.5,432.0 L214.1,431.8 L214.6,431.6 L215.1,431.3 L215.5,431.1 L216.0,430.9 L216.5,430.6 L217.0,430.4 L217.5,430.1 L218.0,429.9 L218.4,429.6 L218.9,429.3 L219.3,429.1 L219.8,428.8 L220.2,428.5 L220.7,428.3 L221.1,428.0 L221.6,427.7 L222.0,427.4 L222.4,427.2 L222.8,426.9 L223.2,426.6 L223.7,426.3 L224.1,426.0 L224.5,425.7 L224.9,425.4 L225.2,425.1 L225.6,424.8 L226.0,424.5 L226.4,424.2 L226.7,423.9 L227.1,423.6 L227.5,423.2 L227.8,422.9 L228.2,422.6 L228.5,422.3 L228.8,422.0 L229.2,421.6 L229.5,421.3 L229.8,421.0 L230.1,420.6 L230.4,420.3 L230.7,419.9 L231.0,419.6 L231.3,419.3 L231.6,418.9 L231.9,418.6 L232.2,418.2 L232.5,417.9 L232.7,417.5 L233.0,417.1 L233.2,416.8 L233.5,416.4 L233.7,416.1 L234.0,415.7 L234.2,415.3 L234.4,415.0 L234.6,414.6 L234.9,414.2 L235.1,413.8 L235.3,413.5 L235.5,413.1 L235.7,412.7 L235.9,412.3 L236.0,411.9 L236.2,411.5 L236.4,411.2 L236.5,410.8 L236.7,410.4 L236.8,410.0 L237.0,409.6 L237.1,409.2 L237.3,408.8 L237.4,408.4 L237.5,408.0 L237.6,407.6 L237.7,407.2 L237.8,406.8 L245.6,408.7 L243.6,415.9 L241.0,422.9 L238.0,429.7 L234.5,436.2 L230.6,442.6 L226.2,448.6 L221.4,454.3 L216.2,459.6 L210.7,464.6 L204.8,469.2 L198.6,473.3 L192.2,477.0 L185.5,480.3 L178.6,483.1 L171.5,485.3 L164.2,487.1 L156.9,488.3 L149.5,489.1 L142.0,489.3 L134.6,489.0 L127.2,488.2 L119.9,486.8 L112.7,485.0 L105.6,482.6 L98.7,479.7 L92.1,476.4 L85.6,472.6 L79.5,468.4 L73.7,463.8 L68.2,458.7 L63.1,453.3 L58.4,447.5 L54.1,441.5 L50.2,435.1 L46.8,428.5 L43.9,421.6 L41.4,414.6 L39.5,407.4 L38.0,400.1 Z"/></clipPath><filter id="sblur" x="-5%" y="-5%" width="110%" height="110%"><feGaussianBlur stdDeviation="0.7"/></filter><linearGradient id="g284" gradientUnits="userSpaceOnUse" x1="118.53" x2="166.87" y1="0" y2="0"><stop offset="0" stop-color="#a4d39f"/><stop offset="1" stop-color="#6aae6d"/></linearGradient><linearGradient id="g285" gradientUnits="userSpaceOnUse" x1="110.03" x2="175.37" y1="0" y2="0"><stop offset="0" stop-color="#acd7a7"/><stop offset="0.312" stop-color="#96ca93"/><stop offset="1" stop-color="#60a765"/></linearGradient><linearGradient id="g286" gradientUnits="userSpaceOnUse" x1="103.77" x2="181.63" y1="0" y2="0"><stop offset="0" stop-color="#b2daad"/><stop offset="0.276" stop-color="#9dcf99"/><stop offset="0.908" stop-color="#60a766"/><stop offset="1" stop-color="#59a260"/></linearGradient><linearGradient id="g287" gradientUnits="userSpaceOnUse" x1="98.62" x2="186.78" y1="0" y2="0"><stop offset="0" stop-color="#b6dcb1"/><stop offset="0.299" stop-color="#9ecf9a"/><stop offset="0.851" stop-color="#61a866"/><stop offset="1" stop-color="#549e5d"/></linearGradient><linearGradient id="g288" gradientUnits="userSpaceOnUse" x1="94.19" x2="191.21" y1="0" y2="0"><stop offset="0" stop-color="#badeb5"/><stop offset="0.312" stop-color="#9fd19b"/><stop offset="0.708" stop-color="#6fb272"/><stop offset="0.833" stop-color="#5ea664"/><stop offset="1" stop-color="#509a5a"/></linearGradient><linearGradient id="g289" gradientUnits="userSpaceOnUse" x1="90.26" x2="195.14" y1="0" y2="0"><stop offset="0" stop-color="#bee0b9"/><stop offset="0.311" stop-color="#a2d49d"/><stop offset="0.748" stop-color="#69ae6d"/><stop offset="0.816" stop-color="#5da563"/><stop offset="1" stop-color="#4d9757"/></linearGradient><linearGradient id="g290" gradientUnits="userSpaceOnUse" x1="86.72" x2="198.68" y1="0" y2="0"><stop offset="0" stop-color="#c1e1bc"/><stop offset="0.318" stop-color="#a3d59e"/><stop offset="0.764" stop-color="#66ad6a"/><stop offset="0.836" stop-color="#58a15f"/><stop offset="1" stop-color="#499355"/></linearGradient><linearGradient id="g291" gradientUnits="userSpaceOnUse" x1="83.50" x2="201.90" y1="0" y2="0"><stop offset="0" stop-color="#c4e3bf"/><stop offset="0.308" stop-color="#a6d8a1"/><stop offset="0.778" stop-color="#63ab68"/><stop offset="0.863" stop-color="#529c5b"/><stop offset="1" stop-color="#469153"/></linearGradient><linearGradient id="g292" gradientUnits="userSpaceOnUse" x1="80.52" x2="204.88" y1="0" y2="0"><stop offset="0" stop-color="#c7e4c2"/><stop offset="0.301" stop-color="#a9daa4"/><stop offset="0.78" stop-color="#61aa67"/><stop offset="0.854" stop-color="#539d5b"/><stop offset="0.911" stop-color="#4b9556"/><stop offset="1" stop-color="#448f51"/></linearGradient><linearGradient id="g293" gradientUnits="userSpaceOnUse" x1="77.77" x2="207.63" y1="0" y2="0"><stop offset="0" stop-color="#c9e5c4"/><stop offset="0.273" stop-color="#aedca8"/><stop offset="0.75" stop-color="#65ae6a"/><stop offset="0.859" stop-color="#519c5b"/><stop offset="0.883" stop-color="#4b9556"/><stop offset="1" stop-color="#418c4f"/></linearGradient><linearGradient id="g294" gradientUnits="userSpaceOnUse" x1="75.20" x2="210.20" y1="0" y2="0"><stop offset="0" stop-color="#cce6c7"/><stop offset="0.201" stop-color="#b7e0b2"/><stop offset="0.366" stop-color="#a2d69e"/><stop offset="0.799" stop-color="#5ca762"/><stop offset="0.873" stop-color="#4d9858"/><stop offset="0.896" stop-color="#489254"/><stop offset="1" stop-color="#3f8a4e"/></linearGradient><linearGradient id="g295" gradientUnits="userSpaceOnUse" x1="72.80" x2="212.60" y1="0" y2="0"><stop offset="0" stop-color="#cee7c9"/><stop offset="0.159" stop-color="#bee3b8"/><stop offset="0.355" stop-color="#a4d8a0"/><stop offset="0.797" stop-color="#5ba662"/><stop offset="0.884" stop-color="#4a9555"/><stop offset="0.899" stop-color="#459052"/><stop offset="1" stop-color="#3c884c"/></linearGradient><linearGradient id="g296" gradientUnits="userSpaceOnUse" x1="70.54" x2="214.86" y1="0" y2="0"><stop offset="0" stop-color="#d0e8cb"/><stop offset="0.133" stop-color="#c2e5bd"/><stop offset="0.35" stop-color="#a7daa2"/><stop offset="0.797" stop-color="#5aa661"/><stop offset="0.888" stop-color="#489354"/><stop offset="0.909" stop-color="#428d50"/><stop offset="1" stop-color="#3a864b"/></linearGradient><linearGradient id="g297" gradientUnits="userSpaceOnUse" x1="68.42" x2="216.98" y1="0" y2="0"><stop offset="0" stop-color="#d2e9cd"/><stop offset="0.122" stop-color="#c5e6c0"/><stop offset="0.354" stop-color="#a7daa2"/><stop offset="0.796" stop-color="#5aa561"/><stop offset="0.891" stop-color="#479253"/><stop offset="0.918" stop-color="#3f8a4e"/><stop offset="1" stop-color="#388449"/></linearGradient><linearGradient id="g298" gradientUnits="userSpaceOnUse" x1="66.42" x2="218.98" y1="0" y2="0"><stop offset="0" stop-color="#d4eacf"/><stop offset="0.113" stop-color="#c8e7c3"/><stop offset="0.358" stop-color="#a7daa3"/><stop offset="0.795" stop-color="#59a561"/><stop offset="0.901" stop-color="#438e51"/><stop offset="0.921" stop-color="#3d894c"/><stop offset="1" stop-color="#368348"/></linearGradient><linearGradient id="g299" gradientUnits="userSpaceOnUse" x1="64.53" x2="220.87" y1="0" y2="0"><stop offset="0" stop-color="#d6ebd1"/><stop offset="0.097" stop-color="#cce8c7"/><stop offset="0.355" stop-color="#a9dca4"/><stop offset="0.794" stop-color="#58a460"/><stop offset="0.903" stop-color="#418d50"/><stop offset="0.923" stop-color="#3a874b"/><stop offset="1" stop-color="#348146"/></linearGradient><linearGradient id="g300" gradientUnits="userSpaceOnUse" x1="62.74" x2="222.66" y1="0" y2="0"><stop offset="0" stop-color="#d8ebd3"/><stop offset="0.095" stop-color="#cee9c9"/><stop offset="0.354" stop-color="#aadca5"/><stop offset="0.791" stop-color="#58a460"/><stop offset="0.905" stop-color="#408c4f"/><stop offset="0.93" stop-color="#388449"/><stop offset="1" stop-color="#327f45"/></linearGradient><linearGradient id="g301" gradientUnits="userSpaceOnUse" x1="61.05" x2="224.35" y1="0" y2="0"><stop offset="0" stop-color="#d9ecd4"/><stop offset="0.086" stop-color="#d1eacc"/><stop offset="0.352" stop-color="#abdda6"/><stop offset="0.79" stop-color="#57a35f"/><stop offset="0.907" stop-color="#3e8b4e"/><stop offset="0.932" stop-color="#368348"/><stop offset="1" stop-color="#307e44"/></linearGradient><linearGradient id="g302" gradientUnits="userSpaceOnUse" x1="59.45" x2="225.95" y1="0" y2="0"><stop offset="0" stop-color="#daedd5"/><stop offset="0.085" stop-color="#d2ebcd"/><stop offset="0.358" stop-color="#abdda6"/><stop offset="0.782" stop-color="#57a460"/><stop offset="0.909" stop-color="#3d894d"/><stop offset="0.939" stop-color="#338046"/><stop offset="1" stop-color="#2e7c43"/></linearGradient><linearGradient id="g303" gradientUnits="userSpaceOnUse" x1="57.93" x2="227.47" y1="0" y2="0"><stop offset="0" stop-color="#dbedd7"/><stop offset="0.077" stop-color="#d5ecd0"/><stop offset="0.357" stop-color="#acdea7"/><stop offset="0.774" stop-color="#58a560"/><stop offset="0.911" stop-color="#3c884c"/><stop offset="0.94" stop-color="#317f45"/><stop offset="1" stop-color="#2c7b42"/></linearGradient><linearGradient id="g304" gradientUnits="userSpaceOnUse" x1="56.49" x2="228.91" y1="0" y2="0"><stop offset="0" stop-color="#dcedd8"/><stop offset="0.07" stop-color="#d8edd3"/><stop offset="0.351" stop-color="#aee0a9"/><stop offset="0.766" stop-color="#58a561"/><stop offset="0.912" stop-color="#3a874b"/><stop offset="0.942" stop-color="#2f7d43"/><stop offset="1" stop-color="#2b7940"/></linearGradient><linearGradient id="g305" gradientUnits="userSpaceOnUse" x1="55.12" x2="230.28" y1="0" y2="0"><stop offset="0" stop-color="#ddedd9"/><stop offset="0.075" stop-color="#d8eed3"/><stop offset="0.362" stop-color="#addfa8"/><stop offset="0.759" stop-color="#59a661"/><stop offset="0.908" stop-color="#3a874b"/><stop offset="0.931" stop-color="#338046"/><stop offset="0.937" stop-color="#2e7c42"/><stop offset="1" stop-color="#29783f"/></linearGradient><linearGradient id="g306" gradientUnits="userSpaceOnUse" x1="53.82" x2="231.58" y1="0" y2="0"><stop offset="0" stop-color="#deeeda"/><stop offset="0.074" stop-color="#d9eed4"/><stop offset="0.375" stop-color="#acdfa7"/><stop offset="0.75" stop-color="#5aa762"/><stop offset="0.909" stop-color="#39864a"/><stop offset="0.949" stop-color="#2b7a41"/><stop offset="1" stop-color="#27763e"/></linearGradient><linearGradient id="g307" gradientUnits="userSpaceOnUse" x1="52.59" x2="232.81" y1="0" y2="0"><stop offset="0" stop-color="#dfeedb"/><stop offset="0.078" stop-color="#daefd5"/><stop offset="0.385" stop-color="#acdea7"/><stop offset="0.749" stop-color="#59a661"/><stop offset="0.911" stop-color="#388549"/><stop offset="0.95" stop-color="#29783f"/><stop offset="1" stop-color="#26753d"/></linearGradient><linearGradient id="g308" gradientUnits="userSpaceOnUse" x1="51.43" x2="233.97" y1="0" y2="0"><stop offset="0" stop-color="#e0eedc"/><stop offset="0.077" stop-color="#dbf0d6"/><stop offset="0.392" stop-color="#acdfa7"/><stop offset="0.751" stop-color="#58a560"/><stop offset="0.912" stop-color="#368348"/><stop offset="0.939" stop-color="#2d7b42"/><stop offset="0.95" stop-color="#28773e"/><stop offset="1" stop-color="#24743c"/></linearGradient><linearGradient id="g309" gradientUnits="userSpaceOnUse" x1="50.33" x2="235.07" y1="0" y2="0"><stop offset="0" stop-color="#e0eedd"/><stop offset="0.066" stop-color="#def0d9"/><stop offset="0.366" stop-color="#b2e2ac"/><stop offset="0.628" stop-color="#74bb77"/><stop offset="0.765" stop-color="#54a25e"/><stop offset="0.923" stop-color="#327f45"/><stop offset="0.94" stop-color="#2c7a41"/><stop offset="0.945" stop-color="#26763e"/><stop offset="1" stop-color="#23723b"/></linearGradient><linearGradient id="g310" gradientUnits="userSpaceOnUse" x1="49.28" x2="236.12" y1="0" y2="0"><stop offset="0" stop-color="#e1eede"/><stop offset="0.065" stop-color="#def0da"/><stop offset="0.351" stop-color="#b5e3b0"/><stop offset="0.454" stop-color="#a0d79d"/><stop offset="0.746" stop-color="#58a561"/><stop offset="0.924" stop-color="#317e44"/><stop offset="0.957" stop-color="#24733c"/><stop offset="1" stop-color="#23713b"/></linearGradient><linearGradient id="g311" gradientUnits="userSpaceOnUse" x1="48.30" x2="237.10" y1="0" y2="0"><stop offset="0" stop-color="#e2efdf"/><stop offset="0.064" stop-color="#dff1db"/><stop offset="0.332" stop-color="#bae5b4"/><stop offset="0.439" stop-color="#a5daa1"/><stop offset="0.738" stop-color="#59a761"/><stop offset="0.93" stop-color="#2e7c42"/><stop offset="0.957" stop-color="#23723b"/><stop offset="1" stop-color="#22703a"/></linearGradient><linearGradient id="g312" gradientUnits="userSpaceOnUse" x1="47.37" x2="238.03" y1="0" y2="0"><stop offset="0" stop-color="#e3efe0"/><stop offset="0.058" stop-color="#e0f1dc"/><stop offset="0.175" stop-color="#d0eecb"/><stop offset="0.402" stop-color="#afe0a9"/><stop offset="0.735" stop-color="#59a762"/><stop offset="0.931" stop-color="#2c7b41"/><stop offset="0.958" stop-color="#23713a"/><stop offset="1" stop-color="#216f39"/></linearGradient><linearGradient id="g313" gradientUnits="userSpaceOnUse" x1="46.49" x2="238.91" y1="0" y2="0"><stop offset="0" stop-color="#e3efe0"/><stop offset="0.058" stop-color="#e1f1dd"/><stop offset="0.162" stop-color="#d3efce"/><stop offset="0.382" stop-color="#b4e2ae"/><stop offset="0.492" stop-color="#99d396"/><stop offset="0.733" stop-color="#59a762"/><stop offset="0.932" stop-color="#2b7a41"/><stop offset="0.958" stop-color="#226f3a"/><stop offset="1" stop-color="#216d39"/></linearGradient><linearGradient id="g314" gradientUnits="userSpaceOnUse" x1="45.67" x2="239.73" y1="0" y2="0"><stop offset="0" stop-color="#e4efe1"/><stop offset="0.057" stop-color="#e2f1de"/><stop offset="0.155" stop-color="#d5f0d0"/><stop offset="0.363" stop-color="#b8e5b2"/><stop offset="0.456" stop-color="#a4daa0"/><stop offset="0.731" stop-color="#59a762"/><stop offset="0.938" stop-color="#28773f"/><stop offset="0.959" stop-color="#216e39"/><stop offset="1" stop-color="#206c38"/></linearGradient><linearGradient id="g315" gradientUnits="userSpaceOnUse" x1="44.90" x2="240.50" y1="0" y2="0"><stop offset="0" stop-color="#e5efe2"/><stop offset="0.062" stop-color="#e2f2de"/><stop offset="0.211" stop-color="#d0efcb"/><stop offset="0.423" stop-color="#aee0a8"/><stop offset="0.727" stop-color="#5aa762"/><stop offset="0.938" stop-color="#27763e"/><stop offset="0.964" stop-color="#206d38"/><stop offset="1" stop-color="#206b37"/></linearGradient><linearGradient id="g316" gradientUnits="userSpaceOnUse" x1="44.18" x2="241.22" y1="0" y2="0"><stop offset="0" stop-color="#e5efe3"/><stop offset="0.056" stop-color="#e3f2e0"/><stop offset="0.163" stop-color="#d7f1d2"/><stop offset="0.352" stop-color="#bce6b7"/><stop offset="0.454" stop-color="#a6dba2"/><stop offset="0.724" stop-color="#59a762"/><stop offset="0.939" stop-color="#26753d"/><stop offset="0.964" stop-color="#206b38"/><stop offset="1" stop-color="#1f6a37"/></linearGradient><linearGradient id="g317" gradientUnits="userSpaceOnUse" x1="43.50" x2="241.90" y1="0" y2="0"><stop offset="0" stop-color="#e6efe3"/><stop offset="0.056" stop-color="#e4f2e0"/><stop offset="0.178" stop-color="#d7f1d2"/><stop offset="0.371" stop-color="#bae5b4"/><stop offset="0.462" stop-color="#a5daa1"/><stop offset="0.721" stop-color="#5aa862"/><stop offset="0.949" stop-color="#22703a"/><stop offset="0.964" stop-color="#1f6a37"/><stop offset="1" stop-color="#1e6936"/></linearGradient><linearGradient id="g318" gradientUnits="userSpaceOnUse" x1="42.88" x2="242.52" y1="0" y2="0"><stop offset="0" stop-color="#e6f0e4"/><stop offset="0.051" stop-color="#e5f2e2"/><stop offset="0.167" stop-color="#daf2d5"/><stop offset="0.348" stop-color="#bfe8b9"/><stop offset="0.46" stop-color="#a7dba2"/><stop offset="0.717" stop-color="#5aa862"/><stop offset="0.949" stop-color="#22703a"/><stop offset="0.965" stop-color="#1e6936"/><stop offset="1" stop-color="#1e6835"/></linearGradient><linearGradient id="g319" gradientUnits="userSpaceOnUse" x1="42.29" x2="243.11" y1="0" y2="0"><stop offset="0" stop-color="#e7f0e5"/><stop offset="0.05" stop-color="#e6f2e2"/><stop offset="0.176" stop-color="#dbf3d5"/><stop offset="0.357" stop-color="#bfe7b9"/><stop offset="0.462" stop-color="#a7dba2"/><stop offset="0.714" stop-color="#5aa862"/><stop offset="0.95" stop-color="#216f39"/><stop offset="0.96" stop-color="#1e6836"/><stop offset="1" stop-color="#1d6635"/></linearGradient><linearGradient id="g320" gradientUnits="userSpaceOnUse" x1="41.76" x2="243.64" y1="0" y2="0"><stop offset="0" stop-color="#e8f0e6"/><stop offset="0.05" stop-color="#e6f2e3"/><stop offset="0.185" stop-color="#dbf3d6"/><stop offset="0.37" stop-color="#bde7b7"/><stop offset="0.47" stop-color="#a5daa1"/><stop offset="0.71" stop-color="#5aa863"/><stop offset="0.95" stop-color="#216e39"/><stop offset="0.96" stop-color="#1d6735"/><stop offset="1" stop-color="#1d6534"/></linearGradient><linearGradient id="g321" gradientUnits="userSpaceOnUse" x1="41.27" x2="244.13" y1="0" y2="0"><stop offset="0" stop-color="#e8f0e6"/><stop offset="0.055" stop-color="#e6f3e3"/><stop offset="0.194" stop-color="#dbf3d6"/><stop offset="0.378" stop-color="#bce6b7"/><stop offset="0.473" stop-color="#a5daa0"/><stop offset="0.706" stop-color="#5ba963"/><stop offset="0.955" stop-color="#1f6b37"/><stop offset="0.97" stop-color="#1c6534"/><stop offset="1" stop-color="#1c6434"/></linearGradient><linearGradient id="g322" gradientUnits="userSpaceOnUse" x1="40.83" x2="244.57" y1="0" y2="0"><stop offset="0" stop-color="#e9f0e7"/><stop offset="0.054" stop-color="#e7f3e4"/><stop offset="0.203" stop-color="#dcf4d6"/><stop offset="0.381" stop-color="#bde6b7"/><stop offset="0.475" stop-color="#a5daa0"/><stop offset="0.703" stop-color="#5ba963"/><stop offset="0.941" stop-color="#226f3a"/><stop offset="0.97" stop-color="#1c6433"/><stop offset="1" stop-color="#1b6333"/></linearGradient><linearGradient id="g323" gradientUnits="userSpaceOnUse" x1="40.42" x2="244.98" y1="0" y2="0"><stop offset="0" stop-color="#e9f0e8"/><stop offset="0.049" stop-color="#e8f3e5"/><stop offset="0.202" stop-color="#ddf4d8"/><stop offset="0.379" stop-color="#bee7b8"/><stop offset="0.473" stop-color="#a6dba2"/><stop offset="0.7" stop-color="#5ba963"/><stop offset="0.936" stop-color="#22703a"/><stop offset="0.97" stop-color="#1b6333"/><stop offset="1" stop-color="#1b6232"/></linearGradient><linearGradient id="g324" gradientUnits="userSpaceOnUse" x1="40.07" x2="245.33" y1="0" y2="0"><stop offset="0" stop-color="#eaf0e8"/><stop offset="0.049" stop-color="#e8f3e6"/><stop offset="0.211" stop-color="#def4d8"/><stop offset="0.387" stop-color="#bde6b7"/><stop offset="0.475" stop-color="#a6dba1"/><stop offset="0.696" stop-color="#5ba963"/><stop offset="0.926" stop-color="#23713a"/><stop offset="0.961" stop-color="#1d6634"/><stop offset="0.971" stop-color="#1b6232"/><stop offset="1" stop-color="#1a6132"/></linearGradient><linearGradient id="g325" gradientUnits="userSpaceOnUse" x1="39.75" x2="245.65" y1="0" y2="0"><stop offset="0" stop-color="#eaf0e9"/><stop offset="0.044" stop-color="#e9f2e7"/><stop offset="0.206" stop-color="#e0f5da"/><stop offset="0.377" stop-color="#c0e8bb"/><stop offset="0.48" stop-color="#a5daa1"/><stop offset="0.691" stop-color="#5caa63"/><stop offset="0.922" stop-color="#23713b"/><stop offset="0.961" stop-color="#1c6534"/><stop offset="0.966" stop-color="#1a6132"/><stop offset="1" stop-color="#1a6031"/></linearGradient><linearGradient id="g326" gradientUnits="userSpaceOnUse" x1="39.47" x2="245.93" y1="0" y2="0"><stop offset="0" stop-color="#ebf0ea"/><stop offset="0.044" stop-color="#eaf2e8"/><stop offset="0.21" stop-color="#e1f5db"/><stop offset="0.376" stop-color="#c2e8bc"/><stop offset="0.478" stop-color="#a7dba2"/><stop offset="0.688" stop-color="#5caa64"/><stop offset="0.922" stop-color="#22703a"/><stop offset="0.961" stop-color="#1c6434"/><stop offset="0.966" stop-color="#195f31"/><stop offset="1" stop-color="#195f31"/></linearGradient><linearGradient id="g327" gradientUnits="userSpaceOnUse" x1="39.24" x2="246.16" y1="0" y2="0"><stop offset="0" stop-color="#ebf0ea"/><stop offset="0.176" stop-color="#e4f6e0"/><stop offset="0.273" stop-color="#d8f2d2"/><stop offset="0.454" stop-color="#afe0aa"/><stop offset="0.683" stop-color="#5caa64"/><stop offset="0.917" stop-color="#22703a"/><stop offset="0.961" stop-color="#1c6333"/><stop offset="0.971" stop-color="#195e30"/><stop offset="1" stop-color="#195e30"/></linearGradient><linearGradient id="g328" gradientUnits="userSpaceOnUse" x1="39.05" x2="246.35" y1="0" y2="0"><stop offset="0" stop-color="#ecf0eb"/><stop offset="0.17" stop-color="#e5f6e1"/><stop offset="0.267" stop-color="#daf3d5"/><stop offset="0.437" stop-color="#b4e2af"/><stop offset="0.5" stop-color="#9fd69c"/><stop offset="0.68" stop-color="#5caa64"/><stop offset="0.908" stop-color="#23713b"/><stop offset="0.961" stop-color="#1b6333"/><stop offset="0.976" stop-color="#185d30"/><stop offset="1" stop-color="#185c2f"/></linearGradient><linearGradient id="g329" gradientUnits="userSpaceOnUse" x1="38.90" x2="246.50" y1="0" y2="0"><stop offset="0" stop-color="#ecf0eb"/><stop offset="0.17" stop-color="#e6f6e2"/><stop offset="0.272" stop-color="#dbf3d5"/><stop offset="0.442" stop-color="#b4e2ae"/><stop offset="0.505" stop-color="#9ed59a"/><stop offset="0.68" stop-color="#5caa63"/><stop offset="0.898" stop-color="#23733b"/><stop offset="0.961" stop-color="#1b6232"/><stop offset="0.976" stop-color="#185c2f"/><stop offset="1" stop-color="#175b2f"/></linearGradient><linearGradient id="g330" gradientUnits="userSpaceOnUse" x1="38.79" x2="246.61" y1="0" y2="0"><stop offset="0" stop-color="#edf0ec"/><stop offset="0.165" stop-color="#e7f7e3"/><stop offset="0.272" stop-color="#dcf4d7"/><stop offset="0.437" stop-color="#b6e2b0"/><stop offset="0.495" stop-color="#a2d89e"/><stop offset="0.675" stop-color="#5caa64"/><stop offset="0.893" stop-color="#23733c"/><stop offset="0.961" stop-color="#1a6132"/><stop offset="0.971" stop-color="#175b2e"/><stop offset="1" stop-color="#175a2e"/></linearGradient><linearGradient id="g331" gradientUnits="userSpaceOnUse" x1="38.73" x2="246.67" y1="0" y2="0"><stop offset="0" stop-color="#edf0ed"/><stop offset="0.049" stop-color="#ecf4ea"/><stop offset="0.223" stop-color="#e4f6df"/><stop offset="0.316" stop-color="#d5f0cf"/><stop offset="0.476" stop-color="#abdda5"/><stop offset="0.67" stop-color="#5dab64"/><stop offset="0.883" stop-color="#24743c"/><stop offset="0.961" stop-color="#1a6031"/><stop offset="0.971" stop-color="#16592e"/><stop offset="1" stop-color="#16592e"/></linearGradient><linearGradient id="g332" gradientUnits="userSpaceOnUse" x1="38.70" x2="246.70" y1="0" y2="0"><stop offset="0" stop-color="#eef0ed"/><stop offset="0.044" stop-color="#edf3eb"/><stop offset="0.214" stop-color="#e5f6e1"/><stop offset="0.301" stop-color="#d9f2d4"/><stop offset="0.466" stop-color="#aedfa9"/><stop offset="0.665" stop-color="#5dab64"/><stop offset="0.869" stop-color="#26773e"/><stop offset="0.961" stop-color="#195f31"/><stop offset="0.971" stop-color="#16582d"/><stop offset="1" stop-color="#16582d"/></linearGradient><linearGradient id="g333" gradientUnits="userSpaceOnUse" x1="38.70" x2="246.70" y1="0" y2="0"><stop offset="0" stop-color="#eef0ee"/><stop offset="0.039" stop-color="#eef3ec"/><stop offset="0.193" stop-color="#e8f7e4"/><stop offset="0.3" stop-color="#dbf3d5"/><stop offset="0.454" stop-color="#b3e1ad"/><stop offset="0.512" stop-color="#9cd499"/><stop offset="0.662" stop-color="#5dab64"/><stop offset="0.85" stop-color="#297a40"/><stop offset="0.937" stop-color="#1d6634"/><stop offset="0.966" stop-color="#185c2f"/><stop offset="0.971" stop-color="#15572d"/><stop offset="1" stop-color="#15572c"/></linearGradient><linearGradient id="g334" gradientUnits="userSpaceOnUse" x1="38.70" x2="246.70" y1="0" y2="0"><stop offset="0" stop-color="#eff0ef"/><stop offset="0.039" stop-color="#eef3ed"/><stop offset="0.193" stop-color="#e9f7e5"/><stop offset="0.304" stop-color="#dbf3d6"/><stop offset="0.459" stop-color="#b2e0ac"/><stop offset="0.527" stop-color="#95d093"/><stop offset="0.662" stop-color="#5caa64"/><stop offset="0.841" stop-color="#2a7b41"/><stop offset="0.908" stop-color="#206b37"/><stop offset="0.966" stop-color="#175b2f"/><stop offset="0.971" stop-color="#15562c"/><stop offset="1" stop-color="#15562c"/></linearGradient><linearGradient id="g335" gradientUnits="userSpaceOnUse" x1="38.70" x2="246.70" y1="0" y2="0"><stop offset="0" stop-color="#eff0ef"/><stop offset="0.155" stop-color="#ecf7e9"/><stop offset="0.3" stop-color="#def4d8"/><stop offset="0.444" stop-color="#b7e2b1"/><stop offset="0.502" stop-color="#a1d79d"/><stop offset="0.652" stop-color="#5eac65"/><stop offset="0.821" stop-color="#2e7e43"/><stop offset="0.884" stop-color="#22703a"/><stop offset="0.961" stop-color="#185c2f"/><stop offset="0.971" stop-color="#14552c"/><stop offset="1" stop-color="#14552b"/></linearGradient><linearGradient id="g336" gradientUnits="userSpaceOnUse" x1="38.70" x2="246.70" y1="0" y2="0"><stop offset="0" stop-color="#f0f0f0"/><stop offset="0.15" stop-color="#edf7eb"/><stop offset="0.304" stop-color="#def4d9"/><stop offset="0.444" stop-color="#b8e3b2"/><stop offset="0.498" stop-color="#a4d89f"/><stop offset="0.647" stop-color="#5eac65"/><stop offset="0.807" stop-color="#308145"/><stop offset="0.874" stop-color="#22703a"/><stop offset="0.961" stop-color="#175b2f"/><stop offset="0.971" stop-color="#14542b"/><stop offset="1" stop-color="#13542b"/></linearGradient><linearGradient id="g337" gradientUnits="userSpaceOnUse" x1="38.70" x2="246.70" y1="0" y2="0"><stop offset="0" stop-color="#f0f0f0"/><stop offset="0.039" stop-color="#f0f3ef"/><stop offset="0.188" stop-color="#ecf7e9"/><stop offset="0.319" stop-color="#ddf3d7"/><stop offset="0.459" stop-color="#b4e1ae"/><stop offset="0.507" stop-color="#9fd69b"/><stop offset="0.647" stop-color="#5dab65"/><stop offset="0.797" stop-color="#308145"/><stop offset="0.865" stop-color="#22713b"/><stop offset="0.961" stop-color="#175a2e"/><stop offset="0.971" stop-color="#13522a"/><stop offset="1" stop-color="#13532a"/></linearGradient><linearGradient id="g338" gradientUnits="userSpaceOnUse" x1="38.70" x2="246.70" y1="0" y2="0"><stop offset="0" stop-color="#eff0ef"/><stop offset="0.034" stop-color="#f1f2f0"/><stop offset="0.159" stop-color="#eef7ec"/><stop offset="0.314" stop-color="#dff4da"/><stop offset="0.44" stop-color="#bbe4b5"/><stop offset="0.502" stop-color="#a2d79e"/><stop offset="0.643" stop-color="#5eab65"/><stop offset="0.787" stop-color="#318246"/><stop offset="0.855" stop-color="#23723b"/><stop offset="0.961" stop-color="#16592d"/><stop offset="0.971" stop-color="#125129"/><stop offset="1" stop-color="#125129"/></linearGradient><linearGradient id="g339" gradientUnits="userSpaceOnUse" x1="38.70" x2="246.70" y1="0" y2="0"><stop offset="0" stop-color="#eff0ee"/><stop offset="0.029" stop-color="#eef0ee"/><stop offset="0.039" stop-color="#f1f3f0"/><stop offset="0.179" stop-color="#eef7ec"/><stop offset="0.329" stop-color="#ddf3d8"/><stop offset="0.459" stop-color="#b5e1af"/><stop offset="0.502" stop-color="#a2d79e"/><stop offset="0.638" stop-color="#5eac65"/><stop offset="0.773" stop-color="#338447"/><stop offset="0.845" stop-color="#23733b"/><stop offset="0.961" stop-color="#15572d"/><stop offset="0.971" stop-color="#125029"/><stop offset="1" stop-color="#125029"/></linearGradient><linearGradient id="g340" gradientUnits="userSpaceOnUse" x1="38.71" x2="246.69" y1="0" y2="0"><stop offset="0" stop-color="#eeefed"/><stop offset="0.029" stop-color="#eeefed"/><stop offset="0.034" stop-color="#f2f2f2"/><stop offset="0.15" stop-color="#f0f7ef"/><stop offset="0.306" stop-color="#e2f4dd"/><stop offset="0.369" stop-color="#d4efcf"/><stop offset="0.49" stop-color="#a9dba4"/><stop offset="0.626" stop-color="#61ae67"/><stop offset="0.752" stop-color="#37884a"/><stop offset="0.835" stop-color="#23743c"/><stop offset="0.961" stop-color="#14562c"/><stop offset="0.971" stop-color="#114f28"/><stop offset="1" stop-color="#114f28"/></linearGradient><linearGradient id="g341" gradientUnits="userSpaceOnUse" x1="38.77" x2="246.63" y1="0" y2="0"><stop offset="0" stop-color="#edefed"/><stop offset="0.029" stop-color="#edefec"/><stop offset="0.039" stop-color="#f2f3f2"/><stop offset="0.17" stop-color="#f0f7ee"/><stop offset="0.32" stop-color="#e1f4dc"/><stop offset="0.388" stop-color="#d0edca"/><stop offset="0.495" stop-color="#a7daa2"/><stop offset="0.626" stop-color="#5fad66"/><stop offset="0.752" stop-color="#358649"/><stop offset="0.83" stop-color="#23733b"/><stop offset="0.961" stop-color="#14542b"/><stop offset="0.971" stop-color="#104e27"/><stop offset="1" stop-color="#104e28"/></linearGradient><linearGradient id="g342" gradientUnits="userSpaceOnUse" x1="38.87" x2="246.53" y1="0" y2="0"><stop offset="0" stop-color="#ecefec"/><stop offset="0.029" stop-color="#ecefeb"/><stop offset="0.039" stop-color="#f2f2f2"/><stop offset="0.165" stop-color="#f1f7f0"/><stop offset="0.316" stop-color="#e3f4de"/><stop offset="0.374" stop-color="#d6efd0"/><stop offset="0.49" stop-color="#aadca5"/><stop offset="0.621" stop-color="#5fad66"/><stop offset="0.738" stop-color="#37884a"/><stop offset="0.82" stop-color="#23733c"/><stop offset="0.956" stop-color="#14552b"/><stop offset="0.971" stop-color="#104c27"/><stop offset="1" stop-color="#104d27"/></linearGradient><linearGradient id="g343" gradientUnits="userSpaceOnUse" x1="39.00" x2="246.40" y1="0" y2="0"><stop offset="0" stop-color="#eceeeb"/><stop offset="0.029" stop-color="#ebeeea"/><stop offset="0.044" stop-color="#f3f3f3"/><stop offset="0.16" stop-color="#f3f7f1"/><stop offset="0.306" stop-color="#e5f5e1"/><stop offset="0.374" stop-color="#d8f0d2"/><stop offset="0.49" stop-color="#abdca5"/><stop offset="0.617" stop-color="#60ad66"/><stop offset="0.728" stop-color="#37894a"/><stop offset="0.811" stop-color="#23743c"/><stop offset="0.956" stop-color="#13532a"/><stop offset="0.971" stop-color="#0f4b26"/><stop offset="1" stop-color="#0f4c26"/></linearGradient><linearGradient id="g344" gradientUnits="userSpaceOnUse" x1="39.18" x2="246.22" y1="0" y2="0"><stop offset="0" stop-color="#ebeeea"/><stop offset="0.034" stop-color="#ebefeb"/><stop offset="0.044" stop-color="#f2f2f2"/><stop offset="0.097" stop-color="#f5f7f5"/><stop offset="0.252" stop-color="#edf6ea"/><stop offset="0.369" stop-color="#dbf1d5"/><stop offset="0.481" stop-color="#afdeaa"/><stop offset="0.529" stop-color="#92cd90"/><stop offset="0.617" stop-color="#5eac65"/><stop offset="0.723" stop-color="#36884a"/><stop offset="0.801" stop-color="#23743c"/><stop offset="0.956" stop-color="#12522a"/><stop offset="0.971" stop-color="#0e4a26"/><stop offset="1" stop-color="#0f4b26"/></linearGradient><linearGradient id="g345" gradientUnits="userSpaceOnUse" x1="39.40" x2="246.00" y1="0" y2="0"><stop offset="0" stop-color="#eaeee9"/><stop offset="0.034" stop-color="#e9eee8"/><stop offset="0.044" stop-color="#f1f2f0"/><stop offset="0.098" stop-color="#f6f7f6"/><stop offset="0.254" stop-color="#eef6eb"/><stop offset="0.371" stop-color="#dcf1d7"/><stop offset="0.473" stop-color="#b3dfae"/><stop offset="0.512" stop-color="#9dd399"/><stop offset="0.61" stop-color="#5fac66"/><stop offset="0.712" stop-color="#37894b"/><stop offset="0.79" stop-color="#24753c"/><stop offset="0.956" stop-color="#125029"/><stop offset="0.966" stop-color="#0e4925"/><stop offset="1" stop-color="#0e4a25"/></linearGradient><linearGradient id="g346" gradientUnits="userSpaceOnUse" x1="39.66" x2="245.74" y1="0" y2="0"><stop offset="0" stop-color="#e9ede8"/><stop offset="0.034" stop-color="#e9ede7"/><stop offset="0.044" stop-color="#eff1ef"/><stop offset="0.117" stop-color="#f7f7f6"/><stop offset="0.268" stop-color="#edf6eb"/><stop offset="0.38" stop-color="#dbf1d6"/><stop offset="0.478" stop-color="#b2deac"/><stop offset="0.512" stop-color="#9dd399"/><stop offset="0.605" stop-color="#5fad66"/><stop offset="0.702" stop-color="#38894b"/><stop offset="0.78" stop-color="#24753c"/><stop offset="0.956" stop-color="#114e28"/><stop offset="0.966" stop-color="#0d4824"/><stop offset="1" stop-color="#0e4825"/></linearGradient><linearGradient id="g347" gradientUnits="userSpaceOnUse" x1="39.97" x2="245.43" y1="0" y2="0"><stop offset="0" stop-color="#e8ede7"/><stop offset="0.034" stop-color="#e8ede6"/><stop offset="0.049" stop-color="#eff2ee"/><stop offset="0.142" stop-color="#f7f7f7"/><stop offset="0.289" stop-color="#ecf5e9"/><stop offset="0.392" stop-color="#d9f0d4"/><stop offset="0.49" stop-color="#acdca7"/><stop offset="0.598" stop-color="#60ae67"/><stop offset="0.686" stop-color="#3b8c4d"/><stop offset="0.77" stop-color="#24753c"/><stop offset="0.956" stop-color="#104d27"/><stop offset="0.966" stop-color="#0d4724"/><stop offset="1" stop-color="#0d4724"/></linearGradient><linearGradient id="g348" gradientUnits="userSpaceOnUse" x1="40.31" x2="245.09" y1="0" y2="0"><stop offset="0" stop-color="#e7ede6"/><stop offset="0.034" stop-color="#e7ece5"/><stop offset="0.049" stop-color="#eef1ed"/><stop offset="0.163" stop-color="#f7f7f7"/><stop offset="0.305" stop-color="#ebf5e8"/><stop offset="0.399" stop-color="#d9efd3"/><stop offset="0.493" stop-color="#abdba6"/><stop offset="0.591" stop-color="#62ae68"/><stop offset="0.67" stop-color="#3e8f4f"/><stop offset="0.754" stop-color="#24773d"/><stop offset="0.951" stop-color="#104d27"/><stop offset="0.966" stop-color="#0e4925"/><stop offset="1" stop-color="#0d4724"/></linearGradient><linearGradient id="g349" gradientUnits="userSpaceOnUse" x1="40.70" x2="244.70" y1="0" y2="0"><stop offset="0" stop-color="#e7ece5"/><stop offset="0.035" stop-color="#e6ece4"/><stop offset="0.054" stop-color="#edf1ec"/><stop offset="0.183" stop-color="#f7f7f7"/><stop offset="0.322" stop-color="#eaf4e7"/><stop offset="0.406" stop-color="#d8efd3"/><stop offset="0.495" stop-color="#aadaa5"/><stop offset="0.584" stop-color="#63af69"/><stop offset="0.653" stop-color="#419251"/><stop offset="0.743" stop-color="#24773d"/><stop offset="0.95" stop-color="#0f4c26"/><stop offset="0.96" stop-color="#0d4724"/><stop offset="0.97" stop-color="#0e4a25"/><stop offset="1" stop-color="#0e4925"/></linearGradient><linearGradient id="g350" gradientUnits="userSpaceOnUse" x1="41.13" x2="244.27" y1="0" y2="0"><stop offset="0" stop-color="#e6ece4"/><stop offset="0.04" stop-color="#e7ede5"/><stop offset="0.069" stop-color="#eef2ed"/><stop offset="0.208" stop-color="#f7f7f7"/><stop offset="0.337" stop-color="#e9f4e6"/><stop offset="0.416" stop-color="#d7eed1"/><stop offset="0.495" stop-color="#abdaa5"/><stop offset="0.579" stop-color="#63af69"/><stop offset="0.644" stop-color="#419252"/><stop offset="0.728" stop-color="#25783e"/><stop offset="0.95" stop-color="#0e4a25"/><stop offset="0.96" stop-color="#0e4925"/><stop offset="1" stop-color="#0e4a26"/></linearGradient><linearGradient id="g351" gradientUnits="userSpaceOnUse" x1="41.61" x2="243.79" y1="0" y2="0"><stop offset="0" stop-color="#e5ece3"/><stop offset="0.04" stop-color="#e4ece2"/><stop offset="0.05" stop-color="#eaefe8"/><stop offset="0.214" stop-color="#f7f7f7"/><stop offset="0.333" stop-color="#ebf4e9"/><stop offset="0.418" stop-color="#d8eed3"/><stop offset="0.493" stop-color="#addba7"/><stop offset="0.577" stop-color="#61ae67"/><stop offset="0.642" stop-color="#3f9050"/><stop offset="0.716" stop-color="#25783e"/><stop offset="0.955" stop-color="#0d4724"/><stop offset="0.96" stop-color="#104c27"/><stop offset="1" stop-color="#0f4b26"/></linearGradient><linearGradient id="g352" gradientUnits="userSpaceOnUse" x1="42.13" x2="243.27" y1="0" y2="0"><stop offset="0" stop-color="#e4ebe2"/><stop offset="0.04" stop-color="#e3ebe1"/><stop offset="0.05" stop-color="#e8efe7"/><stop offset="0.21" stop-color="#f5f6f5"/><stop offset="0.255" stop-color="#f6f7f6"/><stop offset="0.365" stop-color="#e7f2e5"/><stop offset="0.43" stop-color="#d5edd0"/><stop offset="0.5" stop-color="#a8d9a2"/><stop offset="0.565" stop-color="#67b26c"/><stop offset="0.605" stop-color="#4d9c59"/><stop offset="0.675" stop-color="#2e8144"/><stop offset="0.72" stop-color="#23743c"/><stop offset="0.95" stop-color="#0d4724"/><stop offset="0.96" stop-color="#104e28"/><stop offset="1" stop-color="#104c27"/></linearGradient><linearGradient id="g353" gradientUnits="userSpaceOnUse" x1="42.70" x2="242.70" y1="0" y2="0"><stop offset="0" stop-color="#e3ebe1"/><stop offset="0.04" stop-color="#e2eae0"/><stop offset="0.06" stop-color="#e9efe7"/><stop offset="0.271" stop-color="#f6f6f6"/><stop offset="0.377" stop-color="#e7f2e4"/><stop offset="0.432" stop-color="#d7edd2"/><stop offset="0.497" stop-color="#aad9a4"/><stop offset="0.563" stop-color="#65b06a"/><stop offset="0.613" stop-color="#449453"/><stop offset="0.683" stop-color="#277a40"/><stop offset="0.834" stop-color="#175b2e"/><stop offset="0.945" stop-color="#0d4724"/><stop offset="0.96" stop-color="#114f28"/><stop offset="1" stop-color="#104e27"/></linearGradient><linearGradient id="g354" gradientUnits="userSpaceOnUse" x1="43.31" x2="242.09" y1="0" y2="0"><stop offset="0" stop-color="#e2ebe0"/><stop offset="0.041" stop-color="#e1eadf"/><stop offset="0.066" stop-color="#e8efe6"/><stop offset="0.294" stop-color="#f5f6f5"/><stop offset="0.391" stop-color="#e6f1e3"/><stop offset="0.442" stop-color="#d5eccf"/><stop offset="0.497" stop-color="#aad9a5"/><stop offset="0.558" stop-color="#64af6a"/><stop offset="0.604" stop-color="#449453"/><stop offset="0.67" stop-color="#277b40"/><stop offset="0.802" stop-color="#185e30"/><stop offset="0.939" stop-color="#0d4724"/><stop offset="0.959" stop-color="#125129"/><stop offset="1" stop-color="#114f28"/></linearGradient><linearGradient id="g355" gradientUnits="userSpaceOnUse" x1="43.97" x2="241.43" y1="0" y2="0"><stop offset="0" stop-color="#e1eadf"/><stop offset="0.041" stop-color="#e0eade"/><stop offset="0.077" stop-color="#e7f0e5"/><stop offset="0.316" stop-color="#f5f5f4"/><stop offset="0.403" stop-color="#e5f1e2"/><stop offset="0.449" stop-color="#d4ebce"/><stop offset="0.5" stop-color="#a8d8a3"/><stop offset="0.551" stop-color="#66b16b"/><stop offset="0.587" stop-color="#499957"/><stop offset="0.643" stop-color="#2c7f43"/><stop offset="0.679" stop-color="#23743c"/><stop offset="0.837" stop-color="#14562c"/><stop offset="0.934" stop-color="#0d4724"/><stop offset="0.959" stop-color="#12522a"/><stop offset="1" stop-color="#115029"/></linearGradient><linearGradient id="g356" gradientUnits="userSpaceOnUse" x1="44.68" x2="240.72" y1="0" y2="0"><stop offset="0" stop-color="#e1eade"/><stop offset="0.046" stop-color="#e0eade"/><stop offset="0.108" stop-color="#e8f1e6"/><stop offset="0.338" stop-color="#f4f5f4"/><stop offset="0.415" stop-color="#e4f0e1"/><stop offset="0.456" stop-color="#d3eacd"/><stop offset="0.503" stop-color="#a5d7a0"/><stop offset="0.544" stop-color="#69b26e"/><stop offset="0.564" stop-color="#53a25e"/><stop offset="0.61" stop-color="#358749"/><stop offset="0.651" stop-color="#24783e"/><stop offset="0.769" stop-color="#185e30"/><stop offset="0.923" stop-color="#0d4724"/><stop offset="0.964" stop-color="#13532a"/><stop offset="1" stop-color="#125129"/></linearGradient><linearGradient id="g357" gradientUnits="userSpaceOnUse" x1="45.43" x2="239.97" y1="0" y2="0"><stop offset="0" stop-color="#e0e9dd"/><stop offset="0.047" stop-color="#dee9db"/><stop offset="0.083" stop-color="#e5efe2"/><stop offset="0.347" stop-color="#f3f4f3"/><stop offset="0.383" stop-color="#eff3ef"/><stop offset="0.44" stop-color="#dfeedb"/><stop offset="0.461" stop-color="#d4eace"/><stop offset="0.503" stop-color="#a5d6a0"/><stop offset="0.539" stop-color="#68b16d"/><stop offset="0.56" stop-color="#509f5c"/><stop offset="0.596" stop-color="#358849"/><stop offset="0.632" stop-color="#25783e"/><stop offset="0.731" stop-color="#196132"/><stop offset="0.917" stop-color="#0d4724"/><stop offset="0.948" stop-color="#125029"/><stop offset="0.953" stop-color="#14552b"/><stop offset="1" stop-color="#13532a"/></linearGradient><linearGradient id="g358" gradientUnits="userSpaceOnUse" x1="46.24" x2="239.16" y1="0" y2="0"><stop offset="0" stop-color="#dfe9dc"/><stop offset="0.047" stop-color="#dde8da"/><stop offset="0.089" stop-color="#e4eee1"/><stop offset="0.356" stop-color="#f1f3f0"/><stop offset="0.387" stop-color="#f2f3f2"/><stop offset="0.44" stop-color="#e3eee0"/><stop offset="0.466" stop-color="#d5ebd0"/><stop offset="0.497" stop-color="#addaa8"/><stop offset="0.508" stop-color="#9acf96"/><stop offset="0.534" stop-color="#66b16c"/><stop offset="0.555" stop-color="#4c9b59"/><stop offset="0.586" stop-color="#338548"/><stop offset="0.618" stop-color="#24773d"/><stop offset="0.707" stop-color="#196232"/><stop offset="0.906" stop-color="#0d4724"/><stop offset="0.948" stop-color="#13522a"/><stop offset="0.953" stop-color="#15562c"/><stop offset="1" stop-color="#13542b"/></linearGradient><linearGradient id="g359" gradientUnits="userSpaceOnUse" x1="47.10" x2="238.30" y1="0" y2="0"><stop offset="0" stop-color="#dee9db"/><stop offset="0.047" stop-color="#dce8d8"/><stop offset="0.1" stop-color="#e3eee0"/><stop offset="0.368" stop-color="#eef2ed"/><stop offset="0.405" stop-color="#f2f2f2"/><stop offset="0.447" stop-color="#e5eee2"/><stop offset="0.474" stop-color="#d4eacf"/><stop offset="0.5" stop-color="#aad8a4"/><stop offset="0.526" stop-color="#6ab26e"/><stop offset="0.537" stop-color="#57a560"/><stop offset="0.563" stop-color="#398b4c"/><stop offset="0.595" stop-color="#25793e"/><stop offset="0.663" stop-color="#1b6534"/><stop offset="0.879" stop-color="#0d4724"/><stop offset="0.937" stop-color="#125029"/><stop offset="0.953" stop-color="#15582d"/><stop offset="1" stop-color="#14552c"/></linearGradient><linearGradient id="g360" gradientUnits="userSpaceOnUse" x1="48.01" x2="237.39" y1="0" y2="0"><stop offset="0" stop-color="#dde8da"/><stop offset="0.053" stop-color="#dce9d8"/><stop offset="0.144" stop-color="#e3efe0"/><stop offset="0.383" stop-color="#ebf1ea"/><stop offset="0.431" stop-color="#f1f1f0"/><stop offset="0.463" stop-color="#e3ede0"/><stop offset="0.479" stop-color="#d6ead1"/><stop offset="0.495" stop-color="#b7ddb2"/><stop offset="0.505" stop-color="#9acf97"/><stop offset="0.521" stop-color="#67b16c"/><stop offset="0.532" stop-color="#519f5c"/><stop offset="0.548" stop-color="#3a8c4d"/><stop offset="0.569" stop-color="#277c40"/><stop offset="0.617" stop-color="#1d6936"/><stop offset="0.739" stop-color="#13552b"/><stop offset="0.872" stop-color="#0d4724"/><stop offset="0.941" stop-color="#14542b"/><stop offset="0.957" stop-color="#16592e"/><stop offset="1" stop-color="#15562c"/></linearGradient><linearGradient id="g361" gradientUnits="userSpaceOnUse" x1="48.98" x2="236.42" y1="0" y2="0"><stop offset="0" stop-color="#dbe8d8"/><stop offset="0.054" stop-color="#dae7d6"/><stop offset="0.124" stop-color="#e1eedd"/><stop offset="0.403" stop-color="#e8efe6"/><stop offset="0.452" stop-color="#f0f0f0"/><stop offset="0.468" stop-color="#e9eee7"/><stop offset="0.484" stop-color="#d9ead5"/><stop offset="0.489" stop-color="#d0e7ca"/><stop offset="0.5" stop-color="#add9a7"/><stop offset="0.516" stop-color="#62ad68"/><stop offset="0.527" stop-color="#459554"/><stop offset="0.543" stop-color="#2c8043"/><stop offset="0.554" stop-color="#24773d"/><stop offset="0.597" stop-color="#1b6634"/><stop offset="0.715" stop-color="#12542a"/><stop offset="0.849" stop-color="#0d4724"/><stop offset="0.941" stop-color="#15562c"/><stop offset="0.957" stop-color="#175a2e"/><stop offset="1" stop-color="#16582d"/></linearGradient><linearGradient id="g362" gradientUnits="userSpaceOnUse" x1="50.01" x2="235.39" y1="0" y2="0"><stop offset="0" stop-color="#dae7d7"/><stop offset="0.054" stop-color="#d7e6d3"/><stop offset="0.092" stop-color="#ddebda"/><stop offset="0.38" stop-color="#e1eede"/><stop offset="0.457" stop-color="#e6eee4"/><stop offset="0.478" stop-color="#efefee"/><stop offset="0.484" stop-color="#ebeeea"/><stop offset="0.489" stop-color="#e3ece0"/><stop offset="0.495" stop-color="#d5e9d0"/><stop offset="0.5" stop-color="#b3dbae"/><stop offset="0.505" stop-color="#7ebe7f"/><stop offset="0.511" stop-color="#53a15d"/><stop offset="0.516" stop-color="#3b8c4d"/><stop offset="0.522" stop-color="#2c8043"/><stop offset="0.527" stop-color="#24783e"/><stop offset="0.543" stop-color="#1d6a36"/><stop offset="0.587" stop-color="#175d30"/><stop offset="0.815" stop-color="#0d4724"/><stop offset="0.935" stop-color="#15562c"/><stop offset="0.946" stop-color="#185c2f"/><stop offset="1" stop-color="#16592e"/></linearGradient><linearGradient id="g363" gradientUnits="userSpaceOnUse" x1="51.09" x2="234.31" y1="0" y2="0"><stop offset="0" stop-color="#d9e7d5"/><stop offset="0.055" stop-color="#d6e5d2"/><stop offset="0.104" stop-color="#dcebd8"/><stop offset="0.385" stop-color="#dcecd8"/><stop offset="0.478" stop-color="#d7e9d3"/><stop offset="0.489" stop-color="#d4e8cf"/><stop offset="0.495" stop-color="#cde5c7"/><stop offset="0.5" stop-color="#a4d49f"/><stop offset="0.505" stop-color="#196132"/><stop offset="0.511" stop-color="#0f4e27"/><stop offset="0.555" stop-color="#11532a"/><stop offset="0.775" stop-color="#0d4824"/><stop offset="0.923" stop-color="#14562c"/><stop offset="0.951" stop-color="#195e30"/><stop offset="1" stop-color="#175b2e"/></linearGradient><linearGradient id="g364" gradientUnits="userSpaceOnUse" x1="52.24" x2="233.16" y1="0" y2="0"><stop offset="0" stop-color="#d8e6d4"/><stop offset="0.061" stop-color="#d6e6d2"/><stop offset="0.162" stop-color="#dcecd7"/><stop offset="0.385" stop-color="#d7ead2"/><stop offset="0.441" stop-color="#cfe7c9"/><stop offset="0.469" stop-color="#c1e1bc"/><stop offset="0.48" stop-color="#b5dbaf"/><stop offset="0.486" stop-color="#abd7a5"/><stop offset="0.492" stop-color="#99ce95"/><stop offset="0.497" stop-color="#7cbd7e"/><stop offset="0.503" stop-color="#5ba863"/><stop offset="0.508" stop-color="#409151"/><stop offset="0.514" stop-color="#2b7f43"/><stop offset="0.52" stop-color="#21723b"/><stop offset="0.531" stop-color="#196232"/><stop offset="0.553" stop-color="#12552b"/><stop offset="0.609" stop-color="#0e4c26"/><stop offset="0.687" stop-color="#0e4a26"/><stop offset="0.872" stop-color="#12522a"/><stop offset="0.933" stop-color="#175a2e"/><stop offset="0.95" stop-color="#195f31"/><stop offset="1" stop-color="#185c2f"/></linearGradient><linearGradient id="g365" gradientUnits="userSpaceOnUse" x1="53.45" x2="231.95" y1="0" y2="0"><stop offset="0" stop-color="#d6e5d2"/><stop offset="0.062" stop-color="#d4e5cf"/><stop offset="0.147" stop-color="#d9ebd5"/><stop offset="0.345" stop-color="#d5eacf"/><stop offset="0.424" stop-color="#c7e4c2"/><stop offset="0.458" stop-color="#b8ddb2"/><stop offset="0.475" stop-color="#a8d6a2"/><stop offset="0.486" stop-color="#91c98f"/><stop offset="0.503" stop-color="#5eaa65"/><stop offset="0.52" stop-color="#358749"/><stop offset="0.531" stop-color="#24773d"/><stop offset="0.554" stop-color="#1a6433"/><stop offset="0.593" stop-color="#14572c"/><stop offset="0.689" stop-color="#105028"/><stop offset="0.859" stop-color="#13532a"/><stop offset="0.932" stop-color="#185d30"/><stop offset="0.949" stop-color="#1a6132"/><stop offset="1" stop-color="#185d30"/></linearGradient><linearGradient id="g366" gradientUnits="userSpaceOnUse" x1="54.72" x2="230.68" y1="0" y2="0"><stop offset="0" stop-color="#d5e5d1"/><stop offset="0.063" stop-color="#d2e4cd"/><stop offset="0.126" stop-color="#d7e9d2"/><stop offset="0.293" stop-color="#d3e9ce"/><stop offset="0.391" stop-color="#c7e3c1"/><stop offset="0.437" stop-color="#b7dcb2"/><stop offset="0.466" stop-color="#a4d49f"/><stop offset="0.483" stop-color="#89c488"/><stop offset="0.506" stop-color="#5aa662"/><stop offset="0.529" stop-color="#358749"/><stop offset="0.546" stop-color="#24763d"/><stop offset="0.58" stop-color="#1b6533"/><stop offset="0.644" stop-color="#14582d"/><stop offset="0.793" stop-color="#13532a"/><stop offset="0.92" stop-color="#185c2f"/><stop offset="0.943" stop-color="#1b6333"/><stop offset="1" stop-color="#195f31"/></linearGradient><linearGradient id="g367" gradientUnits="userSpaceOnUse" x1="56.07" x2="229.33" y1="0" y2="0"><stop offset="0" stop-color="#d4e4cf"/><stop offset="0.064" stop-color="#cfe2ca"/><stop offset="0.11" stop-color="#d4e8cf"/><stop offset="0.273" stop-color="#d0e7cb"/><stop offset="0.378" stop-color="#c2e1bd"/><stop offset="0.43" stop-color="#b1daac"/><stop offset="0.453" stop-color="#a4d49f"/><stop offset="0.483" stop-color="#80be81"/><stop offset="0.512" stop-color="#54a15e"/><stop offset="0.541" stop-color="#338447"/><stop offset="0.558" stop-color="#25783e"/><stop offset="0.605" stop-color="#1c6634"/><stop offset="0.692" stop-color="#16592e"/><stop offset="0.837" stop-color="#15572d"/><stop offset="0.924" stop-color="#1a6031"/><stop offset="0.936" stop-color="#1c6534"/><stop offset="1" stop-color="#1a6032"/></linearGradient><linearGradient id="g368" gradientUnits="userSpaceOnUse" x1="57.49" x2="227.91" y1="0" y2="0"><stop offset="0" stop-color="#d2e4ce"/><stop offset="0.071" stop-color="#cee2c9"/><stop offset="0.154" stop-color="#d1e7cc"/><stop offset="0.308" stop-color="#c8e4c2"/><stop offset="0.396" stop-color="#b6dcb1"/><stop offset="0.444" stop-color="#a2d29d"/><stop offset="0.479" stop-color="#7ebd7f"/><stop offset="0.509" stop-color="#5aa662"/><stop offset="0.55" stop-color="#348548"/><stop offset="0.58" stop-color="#24753d"/><stop offset="0.645" stop-color="#1b6433"/><stop offset="0.763" stop-color="#175a2e"/><stop offset="0.899" stop-color="#195e30"/><stop offset="0.941" stop-color="#1d6635"/><stop offset="1" stop-color="#1b6232"/></linearGradient><linearGradient id="g369" gradientUnits="userSpaceOnUse" x1="58.98" x2="226.42" y1="0" y2="0"><stop offset="0" stop-color="#d0e3cc"/><stop offset="0.072" stop-color="#cae0c6"/><stop offset="0.139" stop-color="#cee5c9"/><stop offset="0.289" stop-color="#c5e2c0"/><stop offset="0.386" stop-color="#b3daae"/><stop offset="0.434" stop-color="#a0d19b"/><stop offset="0.476" stop-color="#7dbc7e"/><stop offset="0.512" stop-color="#59a561"/><stop offset="0.56" stop-color="#358548"/><stop offset="0.596" stop-color="#24763d"/><stop offset="0.675" stop-color="#1c6534"/><stop offset="0.801" stop-color="#185d30"/><stop offset="0.91" stop-color="#1b6233"/><stop offset="0.94" stop-color="#1e6836"/><stop offset="1" stop-color="#1c6433"/></linearGradient><linearGradient id="g370" gradientUnits="userSpaceOnUse" x1="60.56" x2="224.84" y1="0" y2="0"><stop offset="0" stop-color="#cee2c9"/><stop offset="0.074" stop-color="#c7dec2"/><stop offset="0.123" stop-color="#cbe3c6"/><stop offset="0.27" stop-color="#c3e1be"/><stop offset="0.374" stop-color="#b1d9ab"/><stop offset="0.423" stop-color="#9fd09a"/><stop offset="0.479" stop-color="#77b879"/><stop offset="0.521" stop-color="#53a05d"/><stop offset="0.577" stop-color="#328347"/><stop offset="0.62" stop-color="#23753c"/><stop offset="0.712" stop-color="#1c6534"/><stop offset="0.828" stop-color="#1a6032"/><stop offset="0.914" stop-color="#1d6635"/><stop offset="0.933" stop-color="#1f6a37"/><stop offset="1" stop-color="#1c6534"/></linearGradient><linearGradient id="g371" gradientUnits="userSpaceOnUse" x1="62.23" x2="223.17" y1="0" y2="0"><stop offset="0" stop-color="#cce1c7"/><stop offset="0.082" stop-color="#c5dec1"/><stop offset="0.176" stop-color="#c6e1c1"/><stop offset="0.314" stop-color="#b8dcb3"/><stop offset="0.403" stop-color="#a3d29e"/><stop offset="0.465" stop-color="#7ebc7e"/><stop offset="0.522" stop-color="#55a15e"/><stop offset="0.585" stop-color="#358548"/><stop offset="0.642" stop-color="#24743c"/><stop offset="0.755" stop-color="#1d6534"/><stop offset="0.887" stop-color="#1d6634"/><stop offset="0.931" stop-color="#206c38"/><stop offset="1" stop-color="#1d6735"/></linearGradient><linearGradient id="g372" gradientUnits="userSpaceOnUse" x1="63.98" x2="221.42" y1="0" y2="0"><stop offset="0" stop-color="#cadfc5"/><stop offset="0.083" stop-color="#c2dbbd"/><stop offset="0.154" stop-color="#c4e0bf"/><stop offset="0.295" stop-color="#b7dbb1"/><stop offset="0.385" stop-color="#a4d39f"/><stop offset="0.455" stop-color="#81bd81"/><stop offset="0.526" stop-color="#55a15e"/><stop offset="0.603" stop-color="#338347"/><stop offset="0.667" stop-color="#24743c"/><stop offset="0.782" stop-color="#1e6835"/><stop offset="0.897" stop-color="#1f6936"/><stop offset="0.929" stop-color="#216e39"/><stop offset="1" stop-color="#1e6936"/></linearGradient><linearGradient id="g373" gradientUnits="userSpaceOnUse" x1="65.84" x2="219.56" y1="0" y2="0"><stop offset="0" stop-color="#c7dec2"/><stop offset="0.086" stop-color="#bed9b9"/><stop offset="0.145" stop-color="#c0debb"/><stop offset="0.289" stop-color="#b3d9ae"/><stop offset="0.375" stop-color="#a2d19d"/><stop offset="0.461" stop-color="#7ab97c"/><stop offset="0.526" stop-color="#56a15f"/><stop offset="0.612" stop-color="#358448"/><stop offset="0.691" stop-color="#24743c"/><stop offset="0.803" stop-color="#1f6b37"/><stop offset="0.901" stop-color="#216d38"/><stop offset="0.921" stop-color="#22713a"/><stop offset="1" stop-color="#1f6a37"/></linearGradient><linearGradient id="g374" gradientUnits="userSpaceOnUse" x1="67.81" x2="217.59" y1="0" y2="0"><stop offset="0" stop-color="#c5ddc0"/><stop offset="0.095" stop-color="#bcd9b7"/><stop offset="0.182" stop-color="#bbdbb6"/><stop offset="0.318" stop-color="#aad5a5"/><stop offset="0.378" stop-color="#9bcd97"/><stop offset="0.48" stop-color="#6eb172"/><stop offset="0.534" stop-color="#55a05d"/><stop offset="0.628" stop-color="#358448"/><stop offset="0.723" stop-color="#24733c"/><stop offset="0.858" stop-color="#216d39"/><stop offset="0.919" stop-color="#23733b"/><stop offset="1" stop-color="#206c38"/></linearGradient><linearGradient id="g375" gradientUnits="userSpaceOnUse" x1="69.89" x2="215.51" y1="0" y2="0"><stop offset="0" stop-color="#c2dbbd"/><stop offset="0.104" stop-color="#b9d7b4"/><stop offset="0.215" stop-color="#b4d8af"/><stop offset="0.34" stop-color="#a2d09d"/><stop offset="0.444" stop-color="#7dba7e"/><stop offset="0.535" stop-color="#56a15e"/><stop offset="0.639" stop-color="#378549"/><stop offset="0.75" stop-color="#25753d"/><stop offset="0.875" stop-color="#23713b"/><stop offset="0.91" stop-color="#26753d"/><stop offset="1" stop-color="#216e39"/></linearGradient><linearGradient id="g376" gradientUnits="userSpaceOnUse" x1="72.11" x2="213.29" y1="0" y2="0"><stop offset="0" stop-color="#bfdaba"/><stop offset="0.107" stop-color="#b4d5b0"/><stop offset="0.193" stop-color="#b2d7ad"/><stop offset="0.321" stop-color="#a1d09c"/><stop offset="0.436" stop-color="#7dba7e"/><stop offset="0.543" stop-color="#559f5d"/><stop offset="0.664" stop-color="#368348"/><stop offset="0.786" stop-color="#27763e"/><stop offset="0.879" stop-color="#26753d"/><stop offset="0.907" stop-color="#29783f"/><stop offset="1" stop-color="#22703a"/></linearGradient><linearGradient id="g377" gradientUnits="userSpaceOnUse" x1="74.46" x2="210.94" y1="0" y2="0"><stop offset="0" stop-color="#bcd8b8"/><stop offset="0.119" stop-color="#b1d3ac"/><stop offset="0.23" stop-color="#abd3a6"/><stop offset="0.319" stop-color="#9dcd99"/><stop offset="0.452" stop-color="#75b577"/><stop offset="0.548" stop-color="#559f5d"/><stop offset="0.681" stop-color="#378448"/><stop offset="0.815" stop-color="#2a7840"/><stop offset="0.881" stop-color="#2c7a41"/><stop offset="0.911" stop-color="#2b7a41"/><stop offset="1" stop-color="#23723b"/></linearGradient><linearGradient id="g378" gradientUnits="userSpaceOnUse" x1="76.98" x2="208.42" y1="0" y2="0"><stop offset="0" stop-color="#b9d7b5"/><stop offset="0.131" stop-color="#add1a8"/><stop offset="0.262" stop-color="#a3d09e"/><stop offset="0.385" stop-color="#88bf87"/><stop offset="0.554" stop-color="#559e5d"/><stop offset="0.692" stop-color="#39864a"/><stop offset="0.823" stop-color="#2e7c42"/><stop offset="0.869" stop-color="#2f7d43"/><stop offset="0.892" stop-color="#307d44"/><stop offset="1" stop-color="#25753d"/></linearGradient><linearGradient id="g379" gradientUnits="userSpaceOnUse" x1="79.67" x2="205.73" y1="0" y2="0"><stop offset="0" stop-color="#b6d5b2"/><stop offset="0.152" stop-color="#a9cfa4"/><stop offset="0.264" stop-color="#9ecc9a"/><stop offset="0.424" stop-color="#7ab67b"/><stop offset="0.56" stop-color="#559e5d"/><stop offset="0.704" stop-color="#3c884c"/><stop offset="0.832" stop-color="#328045"/><stop offset="0.872" stop-color="#348247"/><stop offset="1" stop-color="#28773f"/></linearGradient><linearGradient id="g380" gradientUnits="userSpaceOnUse" x1="82.58" x2="202.82" y1="0" y2="0"><stop offset="0" stop-color="#b3d4ae"/><stop offset="0.202" stop-color="#a2cd9d"/><stop offset="0.345" stop-color="#8ac088"/><stop offset="0.571" stop-color="#549d5c"/><stop offset="0.739" stop-color="#3c884c"/><stop offset="0.84" stop-color="#388549"/><stop offset="0.891" stop-color="#358247"/><stop offset="1" stop-color="#2b7a41"/></linearGradient><linearGradient id="g381" gradientUnits="userSpaceOnUse" x1="85.73" x2="199.67" y1="0" y2="0"><stop offset="0" stop-color="#afd2ab"/><stop offset="0.259" stop-color="#95c592"/><stop offset="0.473" stop-color="#6bac6e"/><stop offset="0.589" stop-color="#539c5b"/><stop offset="0.768" stop-color="#3f8a4e"/><stop offset="0.857" stop-color="#3c884c"/><stop offset="1" stop-color="#2e7c43"/></linearGradient><linearGradient id="g382" gradientUnits="userSpaceOnUse" x1="89.17" x2="196.23" y1="0" y2="0"><stop offset="0" stop-color="#acd0a7"/><stop offset="0.198" stop-color="#98c694"/><stop offset="0.415" stop-color="#75b277"/><stop offset="0.594" stop-color="#559e5d"/><stop offset="0.764" stop-color="#448f51"/><stop offset="0.84" stop-color="#408c4f"/><stop offset="1" stop-color="#327f45"/></linearGradient><linearGradient id="g383" gradientUnits="userSpaceOnUse" x1="92.97" x2="192.43" y1="0" y2="0"><stop offset="0" stop-color="#a8cea3"/><stop offset="0.184" stop-color="#96c593"/><stop offset="0.612" stop-color="#569e5d"/><stop offset="0.745" stop-color="#4b9556"/><stop offset="1" stop-color="#368348"/></linearGradient><linearGradient id="g384" gradientUnits="userSpaceOnUse" x1="97.23" x2="188.17" y1="0" y2="0"><stop offset="0" stop-color="#a4cc9f"/><stop offset="0.225" stop-color="#8dc08b"/><stop offset="0.629" stop-color="#58a05f"/><stop offset="1" stop-color="#3a864a"/></linearGradient><linearGradient id="g385" gradientUnits="userSpaceOnUse" x1="102.13" x2="183.27" y1="0" y2="0"><stop offset="0" stop-color="#9fca9a"/><stop offset="0.7" stop-color="#569e5d"/><stop offset="1" stop-color="#3f8a4e"/></linearGradient><linearGradient id="g386" gradientUnits="userSpaceOnUse" x1="107.99" x2="177.41" y1="0" y2="0"><stop offset="0" stop-color="#98c694"/><stop offset="0.735" stop-color="#569e5d"/><stop offset="1" stop-color="#448f51"/></linearGradient><linearGradient id="g387" gradientUnits="userSpaceOnUse" x1="115.59" x2="169.81" y1="0" y2="0"><stop offset="0" stop-color="#8ec08b"/><stop offset="0.811" stop-color="#569e5d"/><stop offset="1" stop-color="#4c9656"/></linearGradient><linearGradient id="g388" gradientUnits="userSpaceOnUse" x1="129.04" x2="156.36" y1="0" y2="0"><stop offset="0" stop-color="#7cb67c"/><stop offset="1" stop-color="#59a15f"/></linearGradient><linearGradient id="g389" gradientUnits="userSpaceOnUse" x1="39.00" x2="246.40" y1="0" y2="0"><stop offset="0" stop-color="#edeaed"/><stop offset="0.029" stop-color="#edeaed"/><stop offset="0.044" stop-color="#f3f3f3"/><stop offset="0.165" stop-color="#f5f1f5"/><stop offset="0.316" stop-color="#eedfee"/><stop offset="0.379" stop-color="#e5d1e8"/><stop offset="0.505" stop-color="#c3a3d1"/><stop offset="0.65" stop-color="#9a65af"/><stop offset="0.767" stop-color="#853d99"/><stop offset="0.883" stop-color="#722285"/><stop offset="0.961" stop-color="#621575"/><stop offset="0.976" stop-color="#5e1170"/><stop offset="1" stop-color="#5e1170"/></linearGradient><linearGradient id="g390" gradientUnits="userSpaceOnUse" x1="39.18" x2="246.22" y1="0" y2="0"><stop offset="0" stop-color="#ede9ed"/><stop offset="0.034" stop-color="#edeaed"/><stop offset="0.044" stop-color="#f2f2f2"/><stop offset="0.092" stop-color="#f6f5f6"/><stop offset="0.252" stop-color="#f2eaf3"/><stop offset="0.369" stop-color="#e8d6ea"/><stop offset="0.485" stop-color="#c9abd5"/><stop offset="0.641" stop-color="#9b67b0"/><stop offset="0.752" stop-color="#863f9a"/><stop offset="0.869" stop-color="#742387"/><stop offset="0.961" stop-color="#611373"/><stop offset="0.971" stop-color="#5d106f"/><stop offset="1" stop-color="#5d106f"/></linearGradient><linearGradient id="g391" gradientUnits="userSpaceOnUse" x1="39.40" x2="246.00" y1="0" y2="0"><stop offset="0" stop-color="#ece9ec"/><stop offset="0.034" stop-color="#ece8ec"/><stop offset="0.044" stop-color="#f1f0f1"/><stop offset="0.098" stop-color="#f6f6f6"/><stop offset="0.259" stop-color="#f2eaf3"/><stop offset="0.376" stop-color="#e8d5ea"/><stop offset="0.488" stop-color="#c9aad5"/><stop offset="0.624" stop-color="#9e6cb2"/><stop offset="0.732" stop-color="#88439c"/><stop offset="0.859" stop-color="#742388"/><stop offset="0.956" stop-color="#621474"/><stop offset="0.966" stop-color="#5c0f6d"/><stop offset="1" stop-color="#5c0f6e"/></linearGradient><linearGradient id="g392" gradientUnits="userSpaceOnUse" x1="39.66" x2="245.74" y1="0" y2="0"><stop offset="0" stop-color="#ece8ec"/><stop offset="0.034" stop-color="#ebe7eb"/><stop offset="0.044" stop-color="#f0eef0"/><stop offset="0.117" stop-color="#f7f6f7"/><stop offset="0.273" stop-color="#f2eaf2"/><stop offset="0.385" stop-color="#e7d4e9"/><stop offset="0.498" stop-color="#c6a6d3"/><stop offset="0.615" stop-color="#9f6eb3"/><stop offset="0.717" stop-color="#89459d"/><stop offset="0.844" stop-color="#762489"/><stop offset="0.956" stop-color="#601372"/><stop offset="0.966" stop-color="#5b0e6c"/><stop offset="1" stop-color="#5b0e6d"/></linearGradient><linearGradient id="g393" gradientUnits="userSpaceOnUse" x1="39.97" x2="245.43" y1="0" y2="0"><stop offset="0" stop-color="#ebe7eb"/><stop offset="0.034" stop-color="#ebe6eb"/><stop offset="0.049" stop-color="#f0eef1"/><stop offset="0.137" stop-color="#f7f7f7"/><stop offset="0.289" stop-color="#f1e9f2"/><stop offset="0.392" stop-color="#e7d4e9"/><stop offset="0.5" stop-color="#c5a5d2"/><stop offset="0.608" stop-color="#9f6fb4"/><stop offset="0.706" stop-color="#8a469e"/><stop offset="0.828" stop-color="#77248a"/><stop offset="0.956" stop-color="#5f1271"/><stop offset="0.971" stop-color="#5a0d6c"/><stop offset="1" stop-color="#5a0e6c"/></linearGradient><linearGradient id="g394" gradientUnits="userSpaceOnUse" x1="40.31" x2="245.09" y1="0" y2="0"><stop offset="0" stop-color="#eae6eb"/><stop offset="0.034" stop-color="#eae5ea"/><stop offset="0.049" stop-color="#f0ecf0"/><stop offset="0.163" stop-color="#f7f7f7"/><stop offset="0.31" stop-color="#f0e7f1"/><stop offset="0.404" stop-color="#e5d2e7"/><stop offset="0.502" stop-color="#c4a4d2"/><stop offset="0.601" stop-color="#a06fb4"/><stop offset="0.695" stop-color="#8a479f"/><stop offset="0.813" stop-color="#78258c"/><stop offset="0.956" stop-color="#5e1170"/><stop offset="0.995" stop-color="#5a0d6c"/><stop offset="1" stop-color="#5a0d6c"/></linearGradient><linearGradient id="g395" gradientUnits="userSpaceOnUse" x1="40.70" x2="244.70" y1="0" y2="0"><stop offset="0" stop-color="#eae5ea"/><stop offset="0.035" stop-color="#e9e4ea"/><stop offset="0.054" stop-color="#efecf0"/><stop offset="0.183" stop-color="#f7f7f7"/><stop offset="0.327" stop-color="#f0e6f0"/><stop offset="0.411" stop-color="#e4d1e7"/><stop offset="0.505" stop-color="#c3a3d1"/><stop offset="0.594" stop-color="#a070b4"/><stop offset="0.683" stop-color="#8b489f"/><stop offset="0.797" stop-color="#79268d"/><stop offset="0.955" stop-color="#5c0f6e"/><stop offset="0.96" stop-color="#5a0d6c"/><stop offset="0.975" stop-color="#5c0f6e"/><stop offset="1" stop-color="#5c0f6d"/></linearGradient><linearGradient id="g396" gradientUnits="userSpaceOnUse" x1="41.13" x2="244.27" y1="0" y2="0"><stop offset="0" stop-color="#e9e4ea"/><stop offset="0.04" stop-color="#eae5eb"/><stop offset="0.069" stop-color="#f0ecf1"/><stop offset="0.208" stop-color="#f7f6f7"/><stop offset="0.342" stop-color="#efe5ef"/><stop offset="0.416" stop-color="#e4d1e7"/><stop offset="0.505" stop-color="#c3a3d0"/><stop offset="0.589" stop-color="#a070b4"/><stop offset="0.673" stop-color="#8b489f"/><stop offset="0.782" stop-color="#7a278d"/><stop offset="0.95" stop-color="#5d106e"/><stop offset="0.96" stop-color="#5c0f6e"/><stop offset="1" stop-color="#5d106e"/></linearGradient><linearGradient id="g397" gradientUnits="userSpaceOnUse" x1="41.61" x2="243.79" y1="0" y2="0"><stop offset="0" stop-color="#e9e3e9"/><stop offset="0.04" stop-color="#e8e2e9"/><stop offset="0.05" stop-color="#ede8ed"/><stop offset="0.219" stop-color="#f7f7f7"/><stop offset="0.348" stop-color="#efe6ef"/><stop offset="0.423" stop-color="#e4d1e6"/><stop offset="0.507" stop-color="#c1a1cf"/><stop offset="0.587" stop-color="#9f6eb3"/><stop offset="0.662" stop-color="#8c48a0"/><stop offset="0.761" stop-color="#7b298f"/><stop offset="0.955" stop-color="#5a0d6c"/><stop offset="0.96" stop-color="#5e1170"/><stop offset="1" stop-color="#5e106f"/></linearGradient><linearGradient id="g398" gradientUnits="userSpaceOnUse" x1="42.13" x2="243.27" y1="0" y2="0"><stop offset="0" stop-color="#e8e2e9"/><stop offset="0.04" stop-color="#e8e1e8"/><stop offset="0.05" stop-color="#ece6ec"/><stop offset="0.23" stop-color="#f6f6f6"/><stop offset="0.32" stop-color="#f2edf2"/><stop offset="0.41" stop-color="#e8d8e9"/><stop offset="0.455" stop-color="#d9c2df"/><stop offset="0.525" stop-color="#b893c8"/><stop offset="0.6" stop-color="#9963ad"/><stop offset="0.665" stop-color="#89439d"/><stop offset="0.765" stop-color="#79258c"/><stop offset="0.95" stop-color="#5a0d6c"/><stop offset="0.96" stop-color="#601272"/><stop offset="1" stop-color="#5f1171"/></linearGradient><linearGradient id="g399" gradientUnits="userSpaceOnUse" x1="42.70" x2="242.70" y1="0" y2="0"><stop offset="0" stop-color="#e8e1e8"/><stop offset="0.04" stop-color="#e7dfe7"/><stop offset="0.06" stop-color="#ede6ed"/><stop offset="0.271" stop-color="#f6f5f6"/><stop offset="0.377" stop-color="#ede4ee"/><stop offset="0.437" stop-color="#e2cfe5"/><stop offset="0.508" stop-color="#c1a0cf"/><stop offset="0.573" stop-color="#a070b4"/><stop offset="0.638" stop-color="#8c4aa1"/><stop offset="0.719" stop-color="#7e2d92"/><stop offset="0.779" stop-color="#742187"/><stop offset="0.945" stop-color="#5a0d6c"/><stop offset="0.965" stop-color="#611373"/><stop offset="1" stop-color="#601272"/></linearGradient><linearGradient id="g400" gradientUnits="userSpaceOnUse" x1="43.31" x2="242.09" y1="0" y2="0"><stop offset="0" stop-color="#e7e0e8"/><stop offset="0.041" stop-color="#e6dee7"/><stop offset="0.071" stop-color="#ede6ed"/><stop offset="0.294" stop-color="#f5f5f5"/><stop offset="0.391" stop-color="#ece2ed"/><stop offset="0.442" stop-color="#e3d0e5"/><stop offset="0.508" stop-color="#c0a0ce"/><stop offset="0.563" stop-color="#a172b5"/><stop offset="0.624" stop-color="#8d4ba2"/><stop offset="0.695" stop-color="#7f3093"/><stop offset="0.756" stop-color="#752289"/><stop offset="0.939" stop-color="#5a0d6c"/><stop offset="0.964" stop-color="#621474"/><stop offset="1" stop-color="#611373"/></linearGradient><linearGradient id="g401" gradientUnits="userSpaceOnUse" x1="43.97" x2="241.43" y1="0" y2="0"><stop offset="0" stop-color="#e7dfe7"/><stop offset="0.041" stop-color="#e6dde6"/><stop offset="0.082" stop-color="#ede5ed"/><stop offset="0.316" stop-color="#f5f4f5"/><stop offset="0.403" stop-color="#ece2ec"/><stop offset="0.449" stop-color="#e2cfe4"/><stop offset="0.505" stop-color="#c2a2cf"/><stop offset="0.556" stop-color="#a273b6"/><stop offset="0.612" stop-color="#8d4ca2"/><stop offset="0.679" stop-color="#803094"/><stop offset="0.735" stop-color="#77238a"/><stop offset="0.934" stop-color="#5a0d6c"/><stop offset="0.964" stop-color="#631575"/><stop offset="1" stop-color="#621474"/></linearGradient><linearGradient id="g402" gradientUnits="userSpaceOnUse" x1="44.68" x2="240.72" y1="0" y2="0"><stop offset="0" stop-color="#e6dee6"/><stop offset="0.046" stop-color="#e6dee7"/><stop offset="0.108" stop-color="#ede6ee"/><stop offset="0.338" stop-color="#f4f4f4"/><stop offset="0.415" stop-color="#ebe1ec"/><stop offset="0.456" stop-color="#e1cee3"/><stop offset="0.508" stop-color="#bf9fcd"/><stop offset="0.554" stop-color="#a070b4"/><stop offset="0.6" stop-color="#8e4ca2"/><stop offset="0.656" stop-color="#813295"/><stop offset="0.713" stop-color="#77238b"/><stop offset="0.923" stop-color="#5a0d6c"/><stop offset="0.964" stop-color="#641676"/><stop offset="1" stop-color="#631575"/></linearGradient><linearGradient id="g403" gradientUnits="userSpaceOnUse" x1="45.43" x2="239.97" y1="0" y2="0"><stop offset="0" stop-color="#e5dde6"/><stop offset="0.047" stop-color="#e4dbe5"/><stop offset="0.083" stop-color="#ebe2eb"/><stop offset="0.347" stop-color="#f4f3f4"/><stop offset="0.378" stop-color="#f2eff2"/><stop offset="0.44" stop-color="#e8dbe9"/><stop offset="0.466" stop-color="#decae1"/><stop offset="0.508" stop-color="#be9dcc"/><stop offset="0.544" stop-color="#a273b5"/><stop offset="0.585" stop-color="#8f4ea3"/><stop offset="0.632" stop-color="#823597"/><stop offset="0.689" stop-color="#78248c"/><stop offset="0.907" stop-color="#5a0e6c"/><stop offset="0.938" stop-color="#5f1171"/><stop offset="0.959" stop-color="#661778"/><stop offset="1" stop-color="#641676"/></linearGradient><linearGradient id="g404" gradientUnits="userSpaceOnUse" x1="46.24" x2="239.16" y1="0" y2="0"><stop offset="0" stop-color="#e5dce5"/><stop offset="0.047" stop-color="#e4dae4"/><stop offset="0.089" stop-color="#eae1eb"/><stop offset="0.356" stop-color="#f2f0f2"/><stop offset="0.382" stop-color="#f3f3f3"/><stop offset="0.44" stop-color="#eae0ea"/><stop offset="0.466" stop-color="#e2d0e4"/><stop offset="0.503" stop-color="#c2a4cf"/><stop offset="0.539" stop-color="#a071b4"/><stop offset="0.571" stop-color="#9050a4"/><stop offset="0.613" stop-color="#833697"/><stop offset="0.665" stop-color="#79248d"/><stop offset="0.859" stop-color="#5e1170"/><stop offset="0.906" stop-color="#5a0d6c"/><stop offset="0.948" stop-color="#631576"/><stop offset="0.953" stop-color="#671879"/><stop offset="1" stop-color="#651777"/></linearGradient><linearGradient id="g405" gradientUnits="userSpaceOnUse" x1="47.10" x2="238.30" y1="0" y2="0"><stop offset="0" stop-color="#e4dbe5"/><stop offset="0.047" stop-color="#e3d8e3"/><stop offset="0.1" stop-color="#eae0ea"/><stop offset="0.368" stop-color="#f0edf0"/><stop offset="0.405" stop-color="#f2f2f2"/><stop offset="0.453" stop-color="#e9dfea"/><stop offset="0.474" stop-color="#e1cfe3"/><stop offset="0.5" stop-color="#c5a8d1"/><stop offset="0.532" stop-color="#a172b5"/><stop offset="0.558" stop-color="#9050a4"/><stop offset="0.589" stop-color="#843899"/><stop offset="0.637" stop-color="#7a258e"/><stop offset="0.795" stop-color="#631476"/><stop offset="0.889" stop-color="#5a0d6c"/><stop offset="0.947" stop-color="#651778"/><stop offset="0.958" stop-color="#68197a"/><stop offset="1" stop-color="#661878"/></linearGradient><linearGradient id="g406" gradientUnits="userSpaceOnUse" x1="48.01" x2="237.39" y1="0" y2="0"><stop offset="0" stop-color="#e3d9e4"/><stop offset="0.053" stop-color="#e3d8e4"/><stop offset="0.144" stop-color="#eae0eb"/><stop offset="0.383" stop-color="#eee9ee"/><stop offset="0.431" stop-color="#f1f0f1"/><stop offset="0.463" stop-color="#e9e0ea"/><stop offset="0.479" stop-color="#e2d1e3"/><stop offset="0.495" stop-color="#ceb4d6"/><stop offset="0.521" stop-color="#a578b8"/><stop offset="0.543" stop-color="#9153a5"/><stop offset="0.564" stop-color="#863c9b"/><stop offset="0.601" stop-color="#7c2791"/><stop offset="0.702" stop-color="#6b197e"/><stop offset="0.872" stop-color="#5a0d6c"/><stop offset="0.941" stop-color="#651777"/><stop offset="0.957" stop-color="#691a7c"/><stop offset="1" stop-color="#671879"/></linearGradient><linearGradient id="g407" gradientUnits="userSpaceOnUse" x1="48.98" x2="236.42" y1="0" y2="0"><stop offset="0" stop-color="#e3d8e3"/><stop offset="0.054" stop-color="#e2d6e3"/><stop offset="0.129" stop-color="#e9dde9"/><stop offset="0.403" stop-color="#ece5ec"/><stop offset="0.452" stop-color="#f0eff0"/><stop offset="0.468" stop-color="#ece7ec"/><stop offset="0.484" stop-color="#e4d5e5"/><stop offset="0.489" stop-color="#decae0"/><stop offset="0.505" stop-color="#ba97c8"/><stop offset="0.516" stop-color="#a274b5"/><stop offset="0.527" stop-color="#9358a8"/><stop offset="0.543" stop-color="#873e9b"/><stop offset="0.565" stop-color="#7e2b93"/><stop offset="0.591" stop-color="#77228b"/><stop offset="0.71" stop-color="#661679"/><stop offset="0.849" stop-color="#5a0d6c"/><stop offset="0.941" stop-color="#671879"/><stop offset="0.957" stop-color="#6a1b7d"/><stop offset="1" stop-color="#68197b"/></linearGradient><linearGradient id="g408" gradientUnits="userSpaceOnUse" x1="50.01" x2="235.39" y1="0" y2="0"><stop offset="0" stop-color="#e2d7e3"/><stop offset="0.054" stop-color="#e0d3e1"/><stop offset="0.092" stop-color="#e6d9e7"/><stop offset="0.44" stop-color="#e9e1ea"/><stop offset="0.473" stop-color="#edeaed"/><stop offset="0.478" stop-color="#efeeef"/><stop offset="0.484" stop-color="#ece9ed"/><stop offset="0.489" stop-color="#e8e0e9"/><stop offset="0.495" stop-color="#e1d0e2"/><stop offset="0.5" stop-color="#cbb0d4"/><stop offset="0.505" stop-color="#af88c0"/><stop offset="0.511" stop-color="#9a66ae"/><stop offset="0.516" stop-color="#8e4da3"/><stop offset="0.522" stop-color="#873d9b"/><stop offset="0.533" stop-color="#7f2c93"/><stop offset="0.543" stop-color="#7a248e"/><stop offset="0.592" stop-color="#6e1b81"/><stop offset="0.821" stop-color="#5a0d6c"/><stop offset="0.935" stop-color="#671879"/><stop offset="0.946" stop-color="#6c1d7f"/><stop offset="1" stop-color="#691a7c"/></linearGradient><linearGradient id="g409" gradientUnits="userSpaceOnUse" x1="51.09" x2="234.31" y1="0" y2="0"><stop offset="0" stop-color="#e1d5e2"/><stop offset="0.055" stop-color="#dfd2e0"/><stop offset="0.104" stop-color="#e5d8e6"/><stop offset="0.385" stop-color="#e6d8e7"/><stop offset="0.484" stop-color="#e1d1e3"/><stop offset="0.489" stop-color="#e0cfe2"/><stop offset="0.495" stop-color="#dbc8de"/><stop offset="0.5" stop-color="#c1a2ce"/><stop offset="0.505" stop-color="#721e86"/><stop offset="0.511" stop-color="#621075"/><stop offset="0.56" stop-color="#651379"/><stop offset="0.78" stop-color="#5c0e6e"/><stop offset="0.918" stop-color="#661778"/><stop offset="0.951" stop-color="#6d1e80"/><stop offset="1" stop-color="#6b1b7d"/></linearGradient><linearGradient id="g410" gradientUnits="userSpaceOnUse" x1="52.24" x2="233.16" y1="0" y2="0"><stop offset="0" stop-color="#e0d4e1"/><stop offset="0.061" stop-color="#e0d2e1"/><stop offset="0.162" stop-color="#e5d7e6"/><stop offset="0.385" stop-color="#e3d2e4"/><stop offset="0.447" stop-color="#dcc8df"/><stop offset="0.469" stop-color="#d4bdda"/><stop offset="0.48" stop-color="#ccb2d4"/><stop offset="0.486" stop-color="#c5a8d0"/><stop offset="0.492" stop-color="#bc9bca"/><stop offset="0.503" stop-color="#9e6eb2"/><stop offset="0.508" stop-color="#9153a5"/><stop offset="0.514" stop-color="#863c9b"/><stop offset="0.52" stop-color="#7f2c93"/><stop offset="0.525" stop-color="#78238c"/><stop offset="0.542" stop-color="#6c187f"/><stop offset="0.581" stop-color="#621175"/><stop offset="0.67" stop-color="#5d0d6f"/><stop offset="0.872" stop-color="#631575"/><stop offset="0.939" stop-color="#6c1d7f"/><stop offset="0.95" stop-color="#6f1f81"/><stop offset="1" stop-color="#6c1c7e"/></linearGradient><linearGradient id="g411" gradientUnits="userSpaceOnUse" x1="53.45" x2="231.95" y1="0" y2="0"><stop offset="0" stop-color="#dfd2e0"/><stop offset="0.062" stop-color="#decfdf"/><stop offset="0.147" stop-color="#e4d5e5"/><stop offset="0.345" stop-color="#e1cfe3"/><stop offset="0.424" stop-color="#d8c3dd"/><stop offset="0.458" stop-color="#ceb4d6"/><stop offset="0.475" stop-color="#c3a6cf"/><stop offset="0.486" stop-color="#b895c6"/><stop offset="0.503" stop-color="#a071b3"/><stop offset="0.52" stop-color="#8b479f"/><stop offset="0.537" stop-color="#7e2b92"/><stop offset="0.548" stop-color="#77228b"/><stop offset="0.588" stop-color="#6a187d"/><stop offset="0.684" stop-color="#621275"/><stop offset="0.853" stop-color="#641676"/><stop offset="0.932" stop-color="#6c1d7f"/><stop offset="0.949" stop-color="#702083"/><stop offset="1" stop-color="#6d1d80"/></linearGradient><linearGradient id="g412" gradientUnits="userSpaceOnUse" x1="54.72" x2="230.68" y1="0" y2="0"><stop offset="0" stop-color="#dfd1e0"/><stop offset="0.063" stop-color="#ddcdde"/><stop offset="0.126" stop-color="#e2d2e3"/><stop offset="0.305" stop-color="#e0cde2"/><stop offset="0.402" stop-color="#d6c0db"/><stop offset="0.448" stop-color="#c9aed3"/><stop offset="0.471" stop-color="#bd9dcb"/><stop offset="0.5" stop-color="#a376b6"/><stop offset="0.529" stop-color="#8a479f"/><stop offset="0.552" stop-color="#7f2e93"/><stop offset="0.569" stop-color="#78248c"/><stop offset="0.626" stop-color="#6b197e"/><stop offset="0.764" stop-color="#641677"/><stop offset="0.902" stop-color="#6a1b7c"/><stop offset="0.948" stop-color="#712184"/><stop offset="1" stop-color="#6e1e81"/></linearGradient><linearGradient id="g413" gradientUnits="userSpaceOnUse" x1="56.07" x2="229.33" y1="0" y2="0"><stop offset="0" stop-color="#decfdf"/><stop offset="0.064" stop-color="#dacadc"/><stop offset="0.11" stop-color="#e0cfe1"/><stop offset="0.279" stop-color="#decbe0"/><stop offset="0.384" stop-color="#d4bdda"/><stop offset="0.436" stop-color="#c7acd1"/><stop offset="0.465" stop-color="#bb9ac9"/><stop offset="0.506" stop-color="#9e6fb1"/><stop offset="0.541" stop-color="#89449d"/><stop offset="0.57" stop-color="#7e2e92"/><stop offset="0.599" stop-color="#77238a"/><stop offset="0.686" stop-color="#6b1a7e"/><stop offset="0.831" stop-color="#68197a"/><stop offset="0.924" stop-color="#6f1f82"/><stop offset="0.942" stop-color="#732286"/><stop offset="1" stop-color="#702082"/></linearGradient><linearGradient id="g414" gradientUnits="userSpaceOnUse" x1="57.49" x2="227.91" y1="0" y2="0"><stop offset="0" stop-color="#ddcede"/><stop offset="0.071" stop-color="#dac9dc"/><stop offset="0.16" stop-color="#decce1"/><stop offset="0.314" stop-color="#d8c3dc"/><stop offset="0.402" stop-color="#cbb2d4"/><stop offset="0.45" stop-color="#bd9eca"/><stop offset="0.497" stop-color="#a478b6"/><stop offset="0.55" stop-color="#89459d"/><stop offset="0.592" stop-color="#7d2d91"/><stop offset="0.627" stop-color="#76238a"/><stop offset="0.74" stop-color="#6b1b7e"/><stop offset="0.87" stop-color="#6c1c7e"/><stop offset="0.929" stop-color="#732286"/><stop offset="0.953" stop-color="#742387"/><stop offset="1" stop-color="#712184"/></linearGradient><linearGradient id="g415" gradientUnits="userSpaceOnUse" x1="58.98" x2="226.42" y1="0" y2="0"><stop offset="0" stop-color="#dcccdd"/><stop offset="0.072" stop-color="#d7c6da"/><stop offset="0.145" stop-color="#dccadf"/><stop offset="0.301" stop-color="#d5c0db"/><stop offset="0.392" stop-color="#c9afd2"/><stop offset="0.446" stop-color="#ba9ac8"/><stop offset="0.512" stop-color="#9b6caf"/><stop offset="0.56" stop-color="#89469d"/><stop offset="0.608" stop-color="#7e2f91"/><stop offset="0.657" stop-color="#76238a"/><stop offset="0.789" stop-color="#6d1d7f"/><stop offset="0.91" stop-color="#712184"/><stop offset="0.94" stop-color="#762589"/><stop offset="1" stop-color="#722285"/></linearGradient><linearGradient id="g416" gradientUnits="userSpaceOnUse" x1="60.56" x2="224.84" y1="0" y2="0"><stop offset="0" stop-color="#dacadc"/><stop offset="0.074" stop-color="#d4c3d8"/><stop offset="0.129" stop-color="#d9c7dd"/><stop offset="0.282" stop-color="#d4bdd9"/><stop offset="0.387" stop-color="#c6abd0"/><stop offset="0.442" stop-color="#b897c6"/><stop offset="0.528" stop-color="#9662aa"/><stop offset="0.583" stop-color="#86419a"/><stop offset="0.644" stop-color="#7b2b8f"/><stop offset="0.706" stop-color="#752388"/><stop offset="0.822" stop-color="#6f1f82"/><stop offset="0.914" stop-color="#742387"/><stop offset="0.926" stop-color="#77298b"/><stop offset="1" stop-color="#742387"/></linearGradient><linearGradient id="g417" gradientUnits="userSpaceOnUse" x1="62.23" x2="223.17" y1="0" y2="0"><stop offset="0" stop-color="#d8c7da"/><stop offset="0.082" stop-color="#d4c1d8"/><stop offset="0.182" stop-color="#d6c2db"/><stop offset="0.321" stop-color="#cdb4d4"/><stop offset="0.409" stop-color="#bea0cb"/><stop offset="0.491" stop-color="#a47ab6"/><stop offset="0.579" stop-color="#89499d"/><stop offset="0.648" stop-color="#7d3191"/><stop offset="0.736" stop-color="#752488"/><stop offset="0.868" stop-color="#732286"/><stop offset="0.912" stop-color="#762689"/><stop offset="0.925" stop-color="#792b8c"/><stop offset="1" stop-color="#752488"/></linearGradient><linearGradient id="g418" gradientUnits="userSpaceOnUse" x1="63.98" x2="221.42" y1="0" y2="0"><stop offset="0" stop-color="#d7c5d9"/><stop offset="0.083" stop-color="#d1bed5"/><stop offset="0.154" stop-color="#d4c0d9"/><stop offset="0.301" stop-color="#cbb3d4"/><stop offset="0.397" stop-color="#bd9fca"/><stop offset="0.487" stop-color="#a47ab6"/><stop offset="0.583" stop-color="#8a4c9e"/><stop offset="0.66" stop-color="#7e3492"/><stop offset="0.763" stop-color="#762689"/><stop offset="0.885" stop-color="#762689"/><stop offset="0.923" stop-color="#7a2e8d"/><stop offset="1" stop-color="#762689"/></linearGradient><linearGradient id="g419" gradientUnits="userSpaceOnUse" x1="65.84" x2="219.56" y1="0" y2="0"><stop offset="0" stop-color="#d5c3d8"/><stop offset="0.086" stop-color="#cebad3"/><stop offset="0.151" stop-color="#d2bcd7"/><stop offset="0.296" stop-color="#c9afd2"/><stop offset="0.395" stop-color="#bb9bc8"/><stop offset="0.513" stop-color="#9c6faf"/><stop offset="0.612" stop-color="#87479b"/><stop offset="0.704" stop-color="#7c318f"/><stop offset="0.816" stop-color="#77288a"/><stop offset="0.901" stop-color="#792c8c"/><stop offset="0.914" stop-color="#7b318e"/><stop offset="1" stop-color="#77288a"/></linearGradient><linearGradient id="g420" gradientUnits="userSpaceOnUse" x1="67.81" x2="217.59" y1="0" y2="0"><stop offset="0" stop-color="#d3c1d7"/><stop offset="0.095" stop-color="#cdb8d2"/><stop offset="0.189" stop-color="#ceb7d4"/><stop offset="0.331" stop-color="#c2a6cd"/><stop offset="0.426" stop-color="#b18ec0"/><stop offset="0.588" stop-color="#8d53a1"/><stop offset="0.682" stop-color="#803a93"/><stop offset="0.791" stop-color="#7a2d8d"/><stop offset="0.885" stop-color="#7a2e8d"/><stop offset="0.919" stop-color="#7c338f"/><stop offset="1" stop-color="#782b8b"/></linearGradient><linearGradient id="g421" gradientUnits="userSpaceOnUse" x1="69.89" x2="215.51" y1="0" y2="0"><stop offset="0" stop-color="#d1bed5"/><stop offset="0.104" stop-color="#cbb6d1"/><stop offset="0.222" stop-color="#c9b1d1"/><stop offset="0.354" stop-color="#bc9ec9"/><stop offset="0.493" stop-color="#a176b3"/><stop offset="0.632" stop-color="#884a9b"/><stop offset="0.736" stop-color="#7e3791"/><stop offset="0.854" stop-color="#7b308e"/><stop offset="0.896" stop-color="#7d3490"/><stop offset="0.91" stop-color="#7e3691"/><stop offset="1" stop-color="#792d8d"/></linearGradient><linearGradient id="g422" gradientUnits="userSpaceOnUse" x1="72.11" x2="213.29" y1="0" y2="0"><stop offset="0" stop-color="#cfbcd4"/><stop offset="0.107" stop-color="#c7b1ce"/><stop offset="0.2" stop-color="#c7afd0"/><stop offset="0.343" stop-color="#bb9cc8"/><stop offset="0.5" stop-color="#9f74b1"/><stop offset="0.657" stop-color="#86489a"/><stop offset="0.771" stop-color="#7e3891"/><stop offset="0.871" stop-color="#7d3690"/><stop offset="0.907" stop-color="#7f3992"/><stop offset="1" stop-color="#7b308e"/></linearGradient><linearGradient id="g423" gradientUnits="userSpaceOnUse" x1="74.46" x2="210.94" y1="0" y2="0"><stop offset="0" stop-color="#cdb9d2"/><stop offset="0.119" stop-color="#c5aecd"/><stop offset="0.237" stop-color="#c2a8cc"/><stop offset="0.363" stop-color="#b595c3"/><stop offset="0.63" stop-color="#8b529e"/><stop offset="0.748" stop-color="#813f95"/><stop offset="0.859" stop-color="#7f3a92"/><stop offset="0.896" stop-color="#813d94"/><stop offset="1" stop-color="#7c328f"/></linearGradient><linearGradient id="g424" gradientUnits="userSpaceOnUse" x1="76.98" x2="208.42" y1="0" y2="0"><stop offset="0" stop-color="#cbb6d1"/><stop offset="0.131" stop-color="#c3abcb"/><stop offset="0.262" stop-color="#bea2c9"/><stop offset="0.415" stop-color="#ab87bb"/><stop offset="0.638" stop-color="#8b549f"/><stop offset="0.769" stop-color="#834296"/><stop offset="0.862" stop-color="#813f95"/><stop offset="0.885" stop-color="#824196"/><stop offset="1" stop-color="#7d3590"/></linearGradient><linearGradient id="g425" gradientUnits="userSpaceOnUse" x1="79.67" x2="205.73" y1="0" y2="0"><stop offset="0" stop-color="#c9b3cf"/><stop offset="0.152" stop-color="#c0a6c9"/><stop offset="0.296" stop-color="#b899c5"/><stop offset="0.528" stop-color="#9a6eac"/><stop offset="0.696" stop-color="#894e9c"/><stop offset="0.824" stop-color="#834397"/><stop offset="0.872" stop-color="#844598"/><stop offset="1" stop-color="#7e3892"/></linearGradient><linearGradient id="g426" gradientUnits="userSpaceOnUse" x1="82.58" x2="202.82" y1="0" y2="0"><stop offset="0" stop-color="#c6b0cd"/><stop offset="0.218" stop-color="#ba9fc6"/><stop offset="0.403" stop-color="#a985b9"/><stop offset="0.639" stop-color="#8e5ba2"/><stop offset="0.79" stop-color="#864a9a"/><stop offset="0.866" stop-color="#864999"/><stop offset="1" stop-color="#803b93"/></linearGradient><linearGradient id="g427" gradientUnits="userSpaceOnUse" x1="85.73" x2="199.67" y1="0" y2="0"><stop offset="0" stop-color="#c4adcb"/><stop offset="0.312" stop-color="#b090be"/><stop offset="0.652" stop-color="#8f5da2"/><stop offset="0.795" stop-color="#894f9c"/><stop offset="0.848" stop-color="#884e9b"/><stop offset="1" stop-color="#813f95"/></linearGradient><linearGradient id="g428" gradientUnits="userSpaceOnUse" x1="89.17" x2="196.23" y1="0" y2="0"><stop offset="0" stop-color="#c1a9ca"/><stop offset="0.321" stop-color="#ad8cbb"/><stop offset="0.679" stop-color="#8f5da3"/><stop offset="0.792" stop-color="#8c559f"/><stop offset="1" stop-color="#834396"/></linearGradient><linearGradient id="g429" gradientUnits="userSpaceOnUse" x1="92.97" x2="192.43" y1="0" y2="0"><stop offset="0" stop-color="#bfa6c8"/><stop offset="0.327" stop-color="#ab89b9"/><stop offset="0.704" stop-color="#905fa4"/><stop offset="0.816" stop-color="#8d57a0"/><stop offset="1" stop-color="#854798"/></linearGradient><linearGradient id="g430" gradientUnits="userSpaceOnUse" x1="97.23" x2="188.17" y1="0" y2="0"><stop offset="0" stop-color="#bca2c6"/><stop offset="0.404" stop-color="#a47fb4"/><stop offset="0.663" stop-color="#9568a8"/><stop offset="1" stop-color="#874b9a"/></linearGradient><linearGradient id="g431" gradientUnits="userSpaceOnUse" x1="102.13" x2="183.27" y1="0" y2="0"><stop offset="0" stop-color="#b99ec4"/><stop offset="0.9" stop-color="#8d58a0"/><stop offset="1" stop-color="#89509d"/></linearGradient><linearGradient id="g432" gradientUnits="userSpaceOnUse" x1="107.99" x2="177.41" y1="0" y2="0"><stop offset="0" stop-color="#b598c2"/><stop offset="0.956" stop-color="#8d59a1"/><stop offset="1" stop-color="#8c569f"/></linearGradient><linearGradient id="g433" gradientUnits="userSpaceOnUse" x1="115.59" x2="169.81" y1="0" y2="0"><stop offset="0" stop-color="#b091be"/><stop offset="1" stop-color="#905ea3"/></linearGradient><linearGradient id="g434" gradientUnits="userSpaceOnUse" x1="129.04" x2="156.36" y1="0" y2="0"><stop offset="0" stop-color="#a784b6"/><stop offset="1" stop-color="#976ba9"/></linearGradient><linearGradient id="g435" x1="0" x2="1" y1="0" y2="0"><stop offset="0.00" stop-color="#45024f"/><stop offset="0.05" stop-color="#5e146c"/><stop offset="0.10" stop-color="#782688"/><stop offset="0.15" stop-color="#8a499b"/><stop offset="0.20" stop-color="#9b6cae"/><stop offset="0.25" stop-color="#af88bf"/><stop offset="0.30" stop-color="#c3a4d0"/><stop offset="0.35" stop-color="#d5bcdc"/><stop offset="0.40" stop-color="#e7d4e8"/><stop offset="0.45" stop-color="#efe6f0"/><stop offset="0.50" stop-color="#f7f7f7"/><stop offset="0.55" stop-color="#e8f4e5"/><stop offset="0.60" stop-color="#d9f0d3"/><stop offset="0.65" stop-color="#bfe6b9"/><stop offset="0.70" stop-color="#a6dba0"/><stop offset="0.75" stop-color="#80c480"/><stop offset="0.80" stop-color="#5aae61"/><stop offset="0.85" stop-color="#3a934c"/><stop offset="0.90" stop-color="#1b7837"/><stop offset="0.95" stop-color="#0d5e29"/><stop offset="1.00" stop-color="#00441b"/></linearGradient></defs><rect width="899" height="530" fill="#fff"/>
<g clip-path="url(#c1)"><g shape-rendering="crispEdges">
<rect x="360" y="33" width="183" height="1" fill="url(#g2)"/>
<rect x="360" y="34" width="183" height="1" fill="url(#g3)"/>
<rect x="360" y="35" width="183" height="1" fill="url(#g4)"/>
<rect x="360" y="36" width="183" height="1" fill="url(#g5)"/>
<rect x="360" y="37" width="183" height="1" fill="url(#g6)"/>
<rect x="360" y="38" width="183" height="1" fill="url(#g7)"/>
<rect x="360" y="39" width="183" height="1" fill="url(#g8)"/>
<rect x="360" y="40" width="183" height="1" fill="url(#g9)"/>
<rect x="360" y="41" width="183" height="1" fill="url(#g10)"/>
<rect x="360" y="42" width="183" height="1" fill="url(#g11)"/>
<rect x="360" y="43" width="183" height="1" fill="url(#g12)"/>
<rect x="360" y="44" width="183" height="1" fill="url(#g13)"/>
<rect x="360" y="45" width="183" height="1" fill="url(#g14)"/>
<rect x="360" y="46" width="183" height="1" fill="url(#g15)"/>
<rect x="360" y="47" width="183" height="1" fill="url(#g16)"/>
<rect x="360" y="48" width="183" height="1" fill="url(#g17)"/>
<rect x="360" y="49" width="183" height="1" fill="url(#g18)"/>
<rect x="360" y="50" width="183" height="1" fill="url(#g19)"/>
<rect x="360" y="51" width="183" height="1" fill="url(#g20)"/>
<rect x="360" y="52" width="183" height="1" fill="url(#g21)"/>
<rect x="360" y="53" width="183" height="1" fill="url(#g22)"/>
<rect x="360" y="54" width="183" height="1" fill="url(#g23)"/>
<rect x="360" y="55" width="183" height="1" fill="url(#g24)"/>
<rect x="360" y="56" width="183" height="1" fill="url(#g25)"/>
<rect x="360" y="57" width="183" height="1" fill="url(#g26)"/>
<rect x="360" y="58" width="183" height="1" fill="url(#g27)"/>
<rect x="360" y="59" width="183" height="1" fill="url(#g28)"/>
<rect x="360" y="60" width="183" height="1" fill="url(#g29)"/>
<rect x="360" y="61" width="183" height="1" fill="url(#g30)"/>
<rect x="360" y="62" width="183" height="1" fill="url(#g31)"/>
<rect x="360" y="63" width="183" height="1" fill="url(#g32)"/>
<rect x="360" y="64" width="183" height="1" fill="url(#g33)"/>
<rect x="360" y="65" width="183" height="1" fill="url(#g34)"/>
<rect x="360" y="66" width="183" height="1" fill="url(#g35)"/>
<rect x="360" y="67" width="183" height="1" fill="url(#g36)"/>
<rect x="360" y="68" width="183" height="1" fill="url(#g37)"/>
<rect x="360" y="69" width="183" height="1" fill="url(#g38)"/>
<rect x="360" y="70" width="183" height="1" fill="url(#g39)"/>
<rect x="360" y="71" width="183" height="1" fill="url(#g40)"/>
<rect x="360" y="72" width="183" height="1" fill="url(#g41)"/>
<rect x="360" y="73" width="183" height="1" fill="url(#g42)"/>
<rect x="360" y="74" width="183" height="1" fill="url(#g43)"/>
<rect x="360" y="75" width="183" height="1" fill="url(#g44)"/>
<rect x="360" y="76" width="183" height="1" fill="url(#g45)"/>
<rect x="360" y="77" width="183" height="1" fill="url(#g46)"/>
<rect x="360" y="78" width="183" height="1" fill="url(#g47)"/>
<rect x="360" y="79" width="183" height="1" fill="url(#g48)"/>
<rect x="360" y="80" width="183" height="1" fill="url(#g49)"/>
<rect x="360" y="81" width="183" height="1" fill="url(#g50)"/>
<rect x="360" y="82" width="183" height="1" fill="url(#g51)"/>
<rect x="360" y="83" width="183" height="1" fill="url(#g52)"/>
<rect x="360" y="84" width="183" height="1" fill="url(#g53)"/>
<rect x="360" y="85" width="183" height="1" fill="url(#g54)"/>
<rect x="360" y="86" width="183" height="1" fill="url(#g55)"/>
<rect x="360" y="87" width="183" height="1" fill="url(#g56)"/>
<rect x="360" y="88" width="183" height="1" fill="url(#g57)"/>
<rect x="360" y="89" width="183" height="1" fill="url(#g58)"/>
<rect x="360" y="90" width="183" height="1" fill="url(#g59)"/>
<rect x="360" y="91" width="183" height="1" fill="url(#g60)"/>
<rect x="360" y="92" width="183" height="1" fill="url(#g61)"/>
<rect x="360" y="93" width="183" height="1" fill="url(#g62)"/>
<rect x="360" y="94" width="183" height="1" fill="url(#g63)"/>
<rect x="360" y="95" width="183" height="1" fill="url(#g64)"/>
<rect x="360" y="96" width="183" height="1" fill="url(#g65)"/>
<rect x="360" y="97" width="183" height="1" fill="url(#g66)"/>
<rect x="360" y="98" width="183" height="1" fill="url(#g67)"/>
<rect x="360" y="99" width="183" height="1" fill="url(#g68)"/>
<rect x="360" y="100" width="183" height="1" fill="url(#g69)"/>
<rect x="360" y="101" width="183" height="1" fill="url(#g70)"/>
<rect x="360" y="102" width="183" height="1" fill="url(#g71)"/>
<rect x="360" y="103" width="183" height="1" fill="url(#g72)"/>
<rect x="360" y="104" width="183" height="1" fill="url(#g73)"/>
<rect x="360" y="105" width="183" height="1" fill="url(#g74)"/>
<rect x="360" y="106" width="183" height="1" fill="url(#g75)"/>
<rect x="360" y="107" width="183" height="1" fill="url(#g76)"/>
<rect x="360" y="108" width="183" height="1" fill="url(#g77)"/>
<rect x="360" y="109" width="183" height="1" fill="url(#g78)"/>
<rect x="360" y="110" width="183" height="1" fill="url(#g79)"/>
<rect x="360" y="111" width="183" height="1" fill="url(#g80)"/>
<rect x="360" y="112" width="183" height="1" fill="url(#g81)"/>
<rect x="360" y="113" width="183" height="1" fill="url(#g82)"/>
<rect x="360" y="114" width="183" height="1" fill="url(#g83)"/>
<rect x="360" y="115" width="183" height="1" fill="url(#g84)"/>
<rect x="360" y="116" width="183" height="1" fill="url(#g85)"/>
<rect x="360" y="117" width="183" height="1" fill="url(#g86)"/>
<rect x="360" y="118" width="183" height="1" fill="url(#g87)"/>
<rect x="360" y="119" width="183" height="1" fill="url(#g88)"/>
<rect x="360" y="120" width="183" height="1" fill="url(#g89)"/>
<rect x="360" y="121" width="183" height="1" fill="url(#g90)"/>
<rect x="360" y="122" width="183" height="1" fill="url(#g91)"/>
<rect x="360" y="123" width="183" height="1" fill="url(#g92)"/>
<rect x="360" y="124" width="183" height="1" fill="url(#g93)"/>
<rect x="360" y="125" width="183" height="1" fill="url(#g92)"/>
<rect x="360" y="126" width="183" height="1" fill="url(#g91)"/>
<rect x="360" y="127" width="183" height="1" fill="url(#g90)"/>
<rect x="360" y="128" width="183" height="1" fill="url(#g89)"/>
<rect x="360" y="129" width="183" height="1" fill="url(#g88)"/>
<rect x="360" y="130" width="183" height="1" fill="url(#g87)"/>
<rect x="360" y="131" width="183" height="1" fill="url(#g86)"/>
<rect x="360" y="132" width="183" height="1" fill="url(#g85)"/>
<rect x="360" y="133" width="183" height="1" fill="url(#g84)"/>
<rect x="360" y="134" width="183" height="1" fill="url(#g83)"/>
<rect x="360" y="135" width="183" height="1" fill="url(#g82)"/>
<rect x="360" y="136" width="183" height="1" fill="url(#g81)"/>
<rect x="360" y="137" width="183" height="1" fill="url(#g80)"/>
<rect x="360" y="138" width="183" height="1" fill="url(#g79)"/>
<rect x="360" y="139" width="183" height="1" fill="url(#g78)"/>
<rect x="360" y="140" width="183" height="1" fill="url(#g77)"/>
<rect x="360" y="141" width="183" height="1" fill="url(#g76)"/>
<rect x="360" y="142" width="183" height="1" fill="url(#g75)"/>
<rect x="360" y="143" width="183" height="1" fill="url(#g74)"/>
<rect x="360" y="144" width="183" height="1" fill="url(#g73)"/>
<rect x="360" y="145" width="183" height="1" fill="url(#g72)"/>
<rect x="360" y="146" width="183" height="1" fill="url(#g71)"/>
<rect x="360" y="147" width="183" height="1" fill="url(#g70)"/>
<rect x="360" y="148" width="183" height="1" fill="url(#g69)"/>
<rect x="360" y="149" width="183" height="1" fill="url(#g68)"/>
<rect x="360" y="150" width="183" height="1" fill="url(#g67)"/>
<rect x="360" y="151" width="183" height="1" fill="url(#g66)"/>
<rect x="360" y="152" width="183" height="1" fill="url(#g65)"/>
<rect x="360" y="153" width="183" height="1" fill="url(#g64)"/>
<rect x="360" y="154" width="183" height="1" fill="url(#g63)"/>
<rect x="360" y="155" width="183" height="1" fill="url(#g62)"/>
<rect x="360" y="156" width="183" height="1" fill="url(#g61)"/>
<rect x="360" y="157" width="183" height="1" fill="url(#g60)"/>
<rect x="360" y="158" width="183" height="1" fill="url(#g59)"/>
<rect x="360" y="159" width="183" height="1" fill="url(#g58)"/>
<rect x="360" y="160" width="183" height="1" fill="url(#g57)"/>
<rect x="360" y="161" width="183" height="1" fill="url(#g56)"/>
<rect x="360" y="162" width="183" height="1" fill="url(#g55)"/>
<rect x="360" y="163" width="183" height="1" fill="url(#g54)"/>
<rect x="360" y="164" width="183" height="1" fill="url(#g53)"/>
<rect x="360" y="165" width="183" height="1" fill="url(#g52)"/>
<rect x="360" y="166" width="183" height="1" fill="url(#g51)"/>
<rect x="360" y="167" width="183" height="1" fill="url(#g50)"/>
<rect x="360" y="168" width="183" height="1" fill="url(#g49)"/>
<rect x="360" y="169" width="183" height="1" fill="url(#g48)"/>
<rect x="360" y="170" width="183" height="1" fill="url(#g47)"/>
<rect x="360" y="171" width="183" height="1" fill="url(#g46)"/>
<rect x="360" y="172" width="183" height="1" fill="url(#g45)"/>
<rect x="360" y="173" width="183" height="1" fill="url(#g44)"/>
<rect x="360" y="174" width="183" height="1" fill="url(#g43)"/>
<rect x="360" y="175" width="183" height="1" fill="url(#g42)"/>
<rect x="360" y="176" width="183" height="1" fill="url(#g41)"/>
<rect x="360" y="177" width="183" height="1" fill="url(#g40)"/>
<rect x="360" y="178" width="183" height="1" fill="url(#g39)"/>
<rect x="360" y="179" width="183" height="1" fill="url(#g38)"/>
<rect x="360" y="180" width="183" height="1" fill="url(#g37)"/>
<rect x="360" y="181" width="183" height="1" fill="url(#g36)"/>
<rect x="360" y="182" width="183" height="1" fill="url(#g35)"/>
<rect x="360" y="183" width="183" height="1" fill="url(#g34)"/>
<rect x="360" y="184" width="183" height="1" fill="url(#g33)"/>
<rect x="360" y="185" width="183" height="1" fill="url(#g32)"/>
<rect x="360" y="186" width="183" height="1" fill="url(#g31)"/>
<rect x="360" y="187" width="183" height="1" fill="url(#g30)"/>
<rect x="360" y="188" width="183" height="1" fill="url(#g29)"/>
<rect x="360" y="189" width="183" height="1" fill="url(#g28)"/>
<rect x="360" y="190" width="183" height="1" fill="url(#g27)"/>
<rect x="360" y="191" width="183" height="1" fill="url(#g26)"/>
<rect x="360" y="192" width="183" height="1" fill="url(#g25)"/>
<rect x="360" y="193" width="183" height="1" fill="url(#g24)"/>
<rect x="360" y="194" width="183" height="1" fill="url(#g23)"/>
<rect x="360" y="195" width="183" height="1" fill="url(#g22)"/>
<rect x="360" y="196" width="183" height="1" fill="url(#g21)"/>
<rect x="360" y="197" width="183" height="1" fill="url(#g20)"/>
<rect x="360" y="198" width="183" height="1" fill="url(#g19)"/>
<rect x="360" y="199" width="183" height="1" fill="url(#g18)"/>
<rect x="360" y="200" width="183" height="1" fill="url(#g17)"/>
<rect x="360" y="201" width="183" height="1" fill="url(#g16)"/>
<rect x="360" y="202" width="183" height="1" fill="url(#g15)"/>
<rect x="360" y="203" width="183" height="1" fill="url(#g14)"/>
<rect x="360" y="204" width="183" height="1" fill="url(#g13)"/>
<rect x="360" y="205" width="183" height="1" fill="url(#g12)"/>
<rect x="360" y="206" width="183" height="1" fill="url(#g11)"/>
<rect x="360" y="207" width="183" height="1" fill="url(#g10)"/>
<rect x="360" y="208" width="183" height="1" fill="url(#g9)"/>
<rect x="360" y="209" width="183" height="1" fill="url(#g8)"/>
<rect x="360" y="210" width="183" height="1" fill="url(#g7)"/>
<rect x="360" y="211" width="183" height="1" fill="url(#g6)"/>
<rect x="360" y="212" width="183" height="1" fill="url(#g5)"/>
<rect x="360" y="213" width="183" height="1" fill="url(#g4)"/>
<rect x="360" y="214" width="183" height="1" fill="url(#g3)"/>
<rect x="360" y="215" width="183" height="1" fill="url(#g2)"/>
</g></g>
<g clip-path="url(#c94)"><g shape-rendering="crispEdges">
<rect x="360" y="297" width="183" height="1" fill="url(#g95)"/>
<rect x="360" y="298" width="183" height="1" fill="url(#g96)"/>
<rect x="360" y="299" width="183" height="1" fill="url(#g97)"/>
<rect x="360" y="300" width="183" height="1" fill="url(#g98)"/>
<rect x="360" y="301" width="183" height="1" fill="url(#g99)"/>
<rect x="360" y="302" width="183" height="1" fill="url(#g100)"/>
<rect x="360" y="303" width="183" height="1" fill="url(#g101)"/>
<rect x="360" y="304" width="183" height="1" fill="url(#g102)"/>
<rect x="360" y="305" width="183" height="1" fill="url(#g103)"/>
<rect x="360" y="306" width="183" height="1" fill="url(#g104)"/>
<rect x="360" y="307" width="183" height="1" fill="url(#g105)"/>
<rect x="360" y="308" width="183" height="1" fill="url(#g106)"/>
<rect x="360" y="309" width="183" height="1" fill="url(#g107)"/>
<rect x="360" y="310" width="183" height="1" fill="url(#g108)"/>
<rect x="360" y="311" width="183" height="1" fill="url(#g109)"/>
<rect x="360" y="312" width="183" height="1" fill="url(#g110)"/>
<rect x="360" y="313" width="183" height="1" fill="url(#g111)"/>
<rect x="360" y="314" width="183" height="1" fill="url(#g112)"/>
<rect x="360" y="315" width="183" height="1" fill="url(#g113)"/>
<rect x="360" y="316" width="183" height="1" fill="url(#g114)"/>
<rect x="360" y="317" width="183" height="1" fill="url(#g115)"/>
<rect x="360" y="318" width="183" height="1" fill="url(#g116)"/>
<rect x="360" y="319" width="183" height="1" fill="url(#g117)"/>
<rect x="360" y="320" width="183" height="1" fill="url(#g118)"/>
<rect x="360" y="321" width="183" height="1" fill="url(#g119)"/>
<rect x="360" y="322" width="183" height="1" fill="url(#g120)"/>
<rect x="360" y="323" width="183" height="1" fill="url(#g121)"/>
<rect x="360" y="324" width="183" height="1" fill="url(#g122)"/>
<rect x="360" y="325" width="183" height="1" fill="url(#g123)"/>
<rect x="360" y="326" width="183" height="1" fill="url(#g124)"/>
<rect x="360" y="327" width="183" height="1" fill="url(#g125)"/>
<rect x="360" y="328" width="183" height="1" fill="url(#g126)"/>
<rect x="360" y="329" width="183" height="1" fill="url(#g127)"/>
<rect x="360" y="330" width="183" height="1" fill="url(#g128)"/>
<rect x="360" y="331" width="183" height="1" fill="url(#g129)"/>
<rect x="360" y="332" width="183" height="1" fill="url(#g130)"/>
<rect x="360" y="333" width="183" height="1" fill="url(#g131)"/>
<rect x="360" y="334" width="183" height="1" fill="url(#g132)"/>
<rect x="360" y="335" width="183" height="1" fill="url(#g133)"/>
<rect x="360" y="336" width="183" height="1" fill="url(#g134)"/>
<rect x="360" y="337" width="183" height="1" fill="url(#g135)"/>
<rect x="360" y="338" width="183" height="1" fill="url(#g136)"/>
<rect x="360" y="339" width="183" height="1" fill="url(#g137)"/>
<rect x="360" y="340" width="183" height="1" fill="url(#g138)"/>
<rect x="360" y="341" width="183" height="1" fill="url(#g139)"/>
<rect x="360" y="342" width="183" height="1" fill="url(#g140)"/>
<rect x="360" y="343" width="183" height="1" fill="url(#g141)"/>
<rect x="360" y="344" width="183" height="1" fill="url(#g142)"/>
<rect x="360" y="345" width="183" height="1" fill="url(#g143)"/>
<rect x="360" y="346" width="183" height="1" fill="url(#g144)"/>
<rect x="360" y="347" width="183" height="1" fill="url(#g145)"/>
<rect x="360" y="348" width="183" height="1" fill="url(#g146)"/>
<rect x="360" y="349" width="183" height="1" fill="url(#g147)"/>
<rect x="360" y="350" width="183" height="1" fill="url(#g148)"/>
<rect x="360" y="351" width="183" height="1" fill="url(#g149)"/>
<rect x="360" y="352" width="183" height="1" fill="url(#g150)"/>
<rect x="360" y="353" width="183" height="1" fill="url(#g151)"/>
<rect x="360" y="354" width="183" height="1" fill="url(#g152)"/>
<rect x="360" y="355" width="183" height="1" fill="url(#g153)"/>
<rect x="360" y="356" width="183" height="1" fill="url(#g154)"/>
<rect x="360" y="357" width="183" height="1" fill="url(#g155)"/>
<rect x="360" y="358" width="183" height="1" fill="url(#g156)"/>
<rect x="360" y="359" width="183" height="1" fill="url(#g157)"/>
<rect x="360" y="360" width="183" height="1" fill="url(#g158)"/>
<rect x="360" y="361" width="183" height="1" fill="url(#g159)"/>
<rect x="360" y="362" width="183" height="1" fill="url(#g160)"/>
<rect x="360" y="363" width="183" height="1" fill="url(#g161)"/>
<rect x="360" y="364" width="183" height="1" fill="url(#g162)"/>
<rect x="360" y="365" width="183" height="1" fill="url(#g163)"/>
<rect x="360" y="366" width="183" height="1" fill="url(#g164)"/>
<rect x="360" y="367" width="183" height="1" fill="url(#g165)"/>
<rect x="360" y="368" width="183" height="1" fill="url(#g166)"/>
<rect x="360" y="369" width="183" height="1" fill="url(#g167)"/>
<rect x="360" y="370" width="183" height="1" fill="url(#g168)"/>
<rect x="360" y="371" width="183" height="1" fill="url(#g169)"/>
<rect x="360" y="372" width="183" height="1" fill="url(#g170)"/>
<rect x="360" y="373" width="183" height="1" fill="url(#g171)"/>
<rect x="360" y="374" width="183" height="1" fill="url(#g172)"/>
<rect x="360" y="375" width="183" height="1" fill="url(#g173)"/>
<rect x="360" y="376" width="183" height="1" fill="url(#g174)"/>
<rect x="360" y="377" width="183" height="1" fill="url(#g175)"/>
<rect x="360" y="378" width="183" height="1" fill="url(#g176)"/>
<rect x="360" y="379" width="183" height="1" fill="url(#g177)"/>
<rect x="360" y="380" width="183" height="1" fill="url(#g178)"/>
<rect x="360" y="381" width="183" height="1" fill="url(#g179)"/>
<rect x="360" y="382" width="183" height="1" fill="url(#g180)"/>
<rect x="360" y="383" width="183" height="1" fill="url(#g181)"/>
<rect x="360" y="384" width="183" height="1" fill="url(#g182)"/>
<rect x="360" y="385" width="183" height="1" fill="url(#g183)"/>
<rect x="360" y="386" width="183" height="1" fill="url(#g184)"/>
<rect x="360" y="387" width="183" height="1" fill="url(#g185)"/>
<rect x="360" y="388" width="183" height="1" fill="url(#g186)"/>
<rect x="360" y="389" width="183" height="1" fill="url(#g185)"/>
<rect x="360" y="390" width="183" height="1" fill="url(#g184)"/>
<rect x="360" y="391" width="183" height="1" fill="url(#g183)"/>
<rect x="360" y="392" width="183" height="1" fill="url(#g182)"/>
<rect x="360" y="393" width="183" height="1" fill="url(#g181)"/>
<rect x="360" y="394" width="183" height="1" fill="url(#g180)"/>
<rect x="360" y="395" width="183" height="1" fill="url(#g179)"/>
<rect x="360" y="396" width="183" height="1" fill="url(#g178)"/>
<rect x="360" y="397" width="183" height="1" fill="url(#g177)"/>
<rect x="360" y="398" width="183" height="1" fill="url(#g176)"/>
<rect x="360" y="399" width="183" height="1" fill="url(#g175)"/>
<rect x="360" y="400" width="183" height="1" fill="url(#g174)"/>
<rect x="360" y="401" width="183" height="1" fill="url(#g173)"/>
<rect x="360" y="402" width="183" height="1" fill="url(#g172)"/>
<rect x="360" y="403" width="183" height="1" fill="url(#g171)"/>
<rect x="360" y="404" width="183" height="1" fill="url(#g170)"/>
<rect x="360" y="405" width="183" height="1" fill="url(#g169)"/>
<rect x="360" y="406" width="183" height="1" fill="url(#g168)"/>
<rect x="360" y="407" width="183" height="1" fill="url(#g167)"/>
<rect x="360" y="408" width="183" height="1" fill="url(#g166)"/>
<rect x="360" y="409" width="183" height="1" fill="url(#g165)"/>
<rect x="360" y="410" width="183" height="1" fill="url(#g164)"/>
<rect x="360" y="411" width="183" height="1" fill="url(#g163)"/>
<rect x="360" y="412" width="183" height="1" fill="url(#g162)"/>
<rect x="360" y="413" width="183" height="1" fill="url(#g161)"/>
<rect x="360" y="414" width="183" height="1" fill="url(#g160)"/>
<rect x="360" y="415" width="183" height="1" fill="url(#g159)"/>
<rect x="360" y="416" width="183" height="1" fill="url(#g158)"/>
<rect x="360" y="417" width="183" height="1" fill="url(#g157)"/>
<rect x="360" y="418" width="183" height="1" fill="url(#g156)"/>
<rect x="360" y="419" width="183" height="1" fill="url(#g155)"/>
<rect x="360" y="420" width="183" height="1" fill="url(#g154)"/>
<rect x="360" y="421" width="183" height="1" fill="url(#g153)"/>
<rect x="360" y="422" width="183" height="1" fill="url(#g152)"/>
<rect x="360" y="423" width="183" height="1" fill="url(#g151)"/>
<rect x="360" y="424" width="183" height="1" fill="url(#g150)"/>
<rect x="360" y="425" width="183" height="1" fill="url(#g149)"/>
<rect x="360" y="426" width="183" height="1" fill="url(#g148)"/>
<rect x="360" y="427" width="183" height="1" fill="url(#g147)"/>
<rect x="360" y="428" width="183" height="1" fill="url(#g146)"/>
<rect x="360" y="429" width="183" height="1" fill="url(#g145)"/>
<rect x="360" y="430" width="183" height="1" fill="url(#g144)"/>
<rect x="360" y="431" width="183" height="1" fill="url(#g143)"/>
<rect x="360" y="432" width="183" height="1" fill="url(#g142)"/>
<rect x="360" y="433" width="183" height="1" fill="url(#g141)"/>
<rect x="360" y="434" width="183" height="1" fill="url(#g140)"/>
<rect x="360" y="435" width="183" height="1" fill="url(#g139)"/>
<rect x="360" y="436" width="183" height="1" fill="url(#g138)"/>
<rect x="360" y="437" width="183" height="1" fill="url(#g137)"/>
<rect x="360" y="438" width="183" height="1" fill="url(#g136)"/>
<rect x="360" y="439" width="183" height="1" fill="url(#g135)"/>
<rect x="360" y="440" width="183" height="1" fill="url(#g134)"/>
<rect x="360" y="441" width="183" height="1" fill="url(#g133)"/>
<rect x="360" y="442" width="183" height="1" fill="url(#g132)"/>
<rect x="360" y="443" width="183" height="1" fill="url(#g131)"/>
<rect x="360" y="444" width="183" height="1" fill="url(#g130)"/>
<rect x="360" y="445" width="183" height="1" fill="url(#g129)"/>
<rect x="360" y="446" width="183" height="1" fill="url(#g128)"/>
<rect x="360" y="447" width="183" height="1" fill="url(#g127)"/>
<rect x="360" y="448" width="183" height="1" fill="url(#g126)"/>
<rect x="360" y="449" width="183" height="1" fill="url(#g125)"/>
<rect x="360" y="450" width="183" height="1" fill="url(#g124)"/>
<rect x="360" y="451" width="183" height="1" fill="url(#g123)"/>
<rect x="360" y="452" width="183" height="1" fill="url(#g122)"/>
<rect x="360" y="453" width="183" height="1" fill="url(#g121)"/>
<rect x="360" y="454" width="183" height="1" fill="url(#g120)"/>
<rect x="360" y="455" width="183" height="1" fill="url(#g119)"/>
<rect x="360" y="456" width="183" height="1" fill="url(#g118)"/>
<rect x="360" y="457" width="183" height="1" fill="url(#g117)"/>
<rect x="360" y="458" width="183" height="1" fill="url(#g116)"/>
<rect x="360" y="459" width="183" height="1" fill="url(#g115)"/>
<rect x="360" y="460" width="183" height="1" fill="url(#g114)"/>
<rect x="360" y="461" width="183" height="1" fill="url(#g113)"/>
<rect x="360" y="462" width="183" height="1" fill="url(#g112)"/>
<rect x="360" y="463" width="183" height="1" fill="url(#g111)"/>
<rect x="360" y="464" width="183" height="1" fill="url(#g110)"/>
<rect x="360" y="465" width="183" height="1" fill="url(#g109)"/>
<rect x="360" y="466" width="183" height="1" fill="url(#g108)"/>
<rect x="360" y="467" width="183" height="1" fill="url(#g107)"/>
<rect x="360" y="468" width="183" height="1" fill="url(#g106)"/>
<rect x="360" y="469" width="183" height="1" fill="url(#g105)"/>
<rect x="360" y="470" width="183" height="1" fill="url(#g104)"/>
<rect x="360" y="471" width="183" height="1" fill="url(#g103)"/>
<rect x="360" y="472" width="183" height="1" fill="url(#g102)"/>
<rect x="360" y="473" width="183" height="1" fill="url(#g101)"/>
<rect x="360" y="474" width="183" height="1" fill="url(#g100)"/>
<rect x="360" y="475" width="183" height="1" fill="url(#g99)"/>
<rect x="360" y="476" width="183" height="1" fill="url(#g98)"/>
<rect x="360" y="477" width="183" height="1" fill="url(#g97)"/>
<rect x="360" y="478" width="183" height="1" fill="url(#g96)"/>
<rect x="360" y="479" width="183" height="1" fill="url(#g95)"/>
</g></g>
<g clip-path="url(#c187)"><g shape-rendering="crispEdges">
<rect x="670" y="33" width="183" height="2" fill="url(#g188)"/>
<rect x="670" y="35" width="183" height="2" fill="url(#g189)"/>
<rect x="670" y="37" width="183" height="2" fill="url(#g190)"/>
<rect x="670" y="39" width="183" height="2" fill="url(#g191)"/>
<rect x="670" y="41" width="183" height="2" fill="url(#g192)"/>
<rect x="670" y="43" width="183" height="2" fill="url(#g193)"/>
<rect x="670" y="45" width="183" height="2" fill="url(#g194)"/>
<rect x="670" y="47" width="183" height="2" fill="url(#g195)"/>
<rect x="670" y="49" width="183" height="2" fill="url(#g196)"/>
<rect x="670" y="51" width="183" height="2" fill="url(#g197)"/>
<rect x="670" y="53" width="183" height="2" fill="url(#g198)"/>
<rect x="670" y="55" width="183" height="2" fill="url(#g199)"/>
<rect x="670" y="57" width="183" height="2" fill="url(#g200)"/>
<rect x="670" y="59" width="183" height="2" fill="url(#g201)"/>
<rect x="670" y="61" width="183" height="2" fill="url(#g202)"/>
<rect x="670" y="63" width="183" height="2" fill="url(#g203)"/>
<rect x="670" y="65" width="183" height="2" fill="url(#g204)"/>
<rect x="670" y="67" width="183" height="2" fill="url(#g205)"/>
<rect x="670" y="69" width="183" height="2" fill="url(#g206)"/>
<rect x="670" y="71" width="183" height="2" fill="url(#g207)"/>
<rect x="670" y="73" width="183" height="2" fill="url(#g208)"/>
<rect x="670" y="75" width="183" height="2" fill="url(#g209)"/>
<rect x="670" y="77" width="183" height="2" fill="url(#g210)"/>
<rect x="670" y="79" width="183" height="2" fill="url(#g211)"/>
<rect x="670" y="81" width="183" height="2" fill="url(#g212)"/>
<rect x="670" y="83" width="183" height="2" fill="url(#g213)"/>
<rect x="670" y="85" width="183" height="2" fill="url(#g214)"/>
<rect x="670" y="87" width="183" height="2" fill="url(#g215)"/>
<rect x="670" y="89" width="183" height="2" fill="url(#g216)"/>
<rect x="670" y="91" width="183" height="2" fill="url(#g217)"/>
<rect x="670" y="93" width="183" height="2" fill="url(#g218)"/>
<rect x="670" y="95" width="183" height="2" fill="url(#g219)"/>
<rect x="670" y="97" width="183" height="2" fill="url(#g220)"/>
<rect x="670" y="99" width="183" height="2" fill="url(#g221)"/>
<rect x="670" y="101" width="183" height="2" fill="url(#g222)"/>
<rect x="670" y="103" width="183" height="2" fill="url(#g223)"/>
<rect x="670" y="105" width="183" height="2" fill="url(#g224)"/>
<rect x="670" y="107" width="183" height="2" fill="url(#g225)"/>
<rect x="670" y="109" width="183" height="2" fill="url(#g226)"/>
<rect x="670" y="111" width="183" height="2" fill="url(#g227)"/>
<rect x="670" y="113" width="183" height="2" fill="url(#g228)"/>
<rect x="670" y="115" width="183" height="2" fill="url(#g229)"/>
<rect x="670" y="117" width="183" height="2" fill="url(#g230)"/>
<rect x="670" y="119" width="183" height="2" fill="url(#g231)"/>
<rect x="670" y="121" width="183" height="2" fill="url(#g232)"/>
<rect x="670" y="123" width="183" height="2" fill="url(#g233)"/>
<rect x="670" y="125" width="183" height="2" fill="url(#g234)"/>
<rect x="670" y="127" width="183" height="2" fill="url(#g235)"/>
<rect x="670" y="129" width="183" height="2" fill="url(#g236)"/>
<rect x="670" y="131" width="183" height="2" fill="url(#g237)"/>
<rect x="670" y="133" width="183" height="2" fill="url(#g238)"/>
<rect x="670" y="135" width="183" height="2" fill="url(#g239)"/>
<rect x="670" y="137" width="183" height="2" fill="url(#g240)"/>
<rect x="670" y="139" width="183" height="2" fill="url(#g241)"/>
<rect x="670" y="141" width="183" height="2" fill="url(#g242)"/>
<rect x="670" y="143" width="183" height="2" fill="url(#g243)"/>
<rect x="670" y="145" width="183" height="2" fill="url(#g244)"/>
<rect x="670" y="147" width="183" height="2" fill="url(#g245)"/>
<rect x="670" y="149" width="183" height="2" fill="url(#g246)"/>
<rect x="670" y="151" width="183" height="2" fill="url(#g247)"/>
<rect x="670" y="153" width="183" height="2" fill="url(#g248)"/>
<rect x="670" y="155" width="183" height="2" fill="url(#g249)"/>
<rect x="670" y="157" width="183" height="2" fill="url(#g250)"/>
<rect x="670" y="159" width="183" height="2" fill="url(#g251)"/>
<rect x="670" y="161" width="183" height="2" fill="url(#g252)"/>
<rect x="670" y="163" width="183" height="2" fill="url(#g253)"/>
<rect x="670" y="165" width="183" height="2" fill="url(#g254)"/>
<rect x="670" y="167" width="183" height="2" fill="url(#g255)"/>
<rect x="670" y="169" width="183" height="2" fill="url(#g256)"/>
<rect x="670" y="171" width="183" height="2" fill="url(#g257)"/>
<rect x="670" y="173" width="183" height="2" fill="url(#g258)"/>
<rect x="670" y="175" width="183" height="2" fill="url(#g259)"/>
<rect x="670" y="177" width="183" height="2" fill="url(#g260)"/>
<rect x="670" y="179" width="183" height="2" fill="url(#g261)"/>
<rect x="670" y="181" width="183" height="2" fill="url(#g262)"/>
<rect x="670" y="183" width="183" height="2" fill="url(#g263)"/>
<rect x="670" y="185" width="183" height="2" fill="url(#g264)"/>
<rect x="670" y="187" width="183" height="2" fill="url(#g265)"/>
<rect x="670" y="189" width="183" height="2" fill="url(#g266)"/>
<rect x="670" y="191" width="183" height="2" fill="url(#g267)"/>
<rect x="670" y="193" width="183" height="2" fill="url(#g268)"/>
<rect x="670" y="195" width="183" height="2" fill="url(#g269)"/>
<rect x="670" y="197" width="183" height="2" fill="url(#g270)"/>
<rect x="670" y="199" width="183" height="2" fill="url(#g271)"/>
<rect x="670" y="201" width="183" height="2" fill="url(#g272)"/>
<rect x="670" y="203" width="183" height="2" fill="url(#g273)"/>
<rect x="670" y="205" width="183" height="2" fill="url(#g274)"/>
<rect x="670" y="207" width="183" height="2" fill="url(#g275)"/>
<rect x="670" y="209" width="183" height="2" fill="url(#g276)"/>
<rect x="670" y="211" width="183" height="2" fill="url(#g277)"/>
<rect x="670" y="213" width="183" height="2" fill="url(#g278)"/>
<rect x="670" y="215" width="183" height="2" fill="url(#g279)"/>
</g></g>
<rect x="670.60" y="297.70" width="182.40" height="181.60" fill="#80c480"/>
<rect x="670.60" y="33.70" width="182.40" height="181.60" fill="none" stroke="#555" stroke-width="0.8"/>
<rect x="670.60" y="297.70" width="182.40" height="181.60" fill="none" stroke="#555" stroke-width="0.8"/>
<path d="M761.8,33.7v2.2M761.8,215.3v-2.2M670.6,124.5h2.2M853.0,124.5h-2.2" stroke="#555" stroke-width="0.8" fill="none"/>
<path d="M761.8,297.7v2.2M761.8,479.3v-2.2M670.6,388.5h2.2M853.0,388.5h-2.2" stroke="#555" stroke-width="0.8" fill="none"/>
<rect x="554.70" y="67.30" width="12.30" height="118.00" fill="url(#g280)"/>
<rect x="554.70" y="330.30" width="12.30" height="118.50" fill="url(#g281)"/>
<rect x="862.80" y="67.30" width="12.10" height="118.00" fill="url(#g282)"/>
<rect x="862.80" y="330.30" width="12.10" height="118.50" fill="url(#g283)"/>
<rect x="55.50" y="34.50" width="186.80" height="180.50" fill="#fff" stroke="#555" stroke-width="0.9"/>
<ellipse cx="65.00" cy="40.80" rx="6.60" ry="6.60" fill="none" stroke="#ab1c30" stroke-width="1.3" transform="rotate(-0.0 65.00 40.80)"/>
<polygon points="58.42,43.90 55.48,37.71 58.40,39.93 61.28,37.69" fill="#c0132c"/>
<ellipse cx="85.90" cy="40.80" rx="6.60" ry="6.60" fill="none" stroke="#ab1c30" stroke-width="1.3" transform="rotate(-0.0 85.90 40.80)"/>
<polygon points="81.00,46.18 75.93,41.59 79.47,42.53 81.28,39.34" fill="#c0132c"/>
<ellipse cx="106.80" cy="40.80" rx="6.60" ry="6.60" fill="none" stroke="#ab1c30" stroke-width="1.3" transform="rotate(-0.0 106.80 40.80)"/>
<polygon points="104.34,47.65 97.89,45.35 101.52,44.86 101.97,41.23" fill="#c0132c"/>
<ellipse cx="127.70" cy="40.80" rx="6.60" ry="6.60" fill="none" stroke="#ab1c30" stroke-width="1.3" transform="rotate(-0.0 127.70 40.80)"/>
<polygon points="128.04,48.07 121.21,48.41 124.37,46.57 123.40,43.04" fill="#c0132c"/>
<ellipse cx="148.60" cy="40.80" rx="6.60" ry="6.60" fill="none" stroke="#ab1c30" stroke-width="1.3" transform="rotate(-0.0 148.60 40.80)"/>
<polygon points="151.70,47.38 145.51,50.32 147.73,47.40 145.49,44.52" fill="#c0132c"/>
<ellipse cx="169.50" cy="40.80" rx="6.60" ry="6.60" fill="none" stroke="#ab1c30" stroke-width="1.3" transform="rotate(-0.0 169.50 40.80)"/>
<polygon points="174.88,45.70 170.29,50.77 171.23,47.23 168.04,45.42" fill="#c0132c"/>
<ellipse cx="190.40" cy="40.80" rx="6.60" ry="6.60" fill="none" stroke="#ab1c30" stroke-width="1.3" transform="rotate(-0.0 190.40 40.80)"/>
<polygon points="197.25,43.26 194.95,49.71 194.46,46.08 190.83,45.63" fill="#c0132c"/>
<ellipse cx="211.30" cy="40.80" rx="6.60" ry="6.60" fill="none" stroke="#ab1c30" stroke-width="1.3" transform="rotate(-0.0 211.30 40.80)"/>
<polygon points="218.57,40.46 218.91,47.29 217.07,44.13 213.54,45.10" fill="#c0132c"/>
<ellipse cx="232.20" cy="40.80" rx="6.60" ry="6.60" fill="none" stroke="#ab1c30" stroke-width="1.3" transform="rotate(-0.0 232.20 40.80)"/>
<polygon points="238.78,37.70 241.72,43.89 238.80,41.67 235.92,43.91" fill="#c0132c"/>
<ellipse cx="65.00" cy="61.70" rx="6.60" ry="6.60" fill="none" stroke="#ab1c30" stroke-width="1.3" transform="rotate(-0.0 65.00 61.70)"/>
<polygon points="58.42,64.80 55.48,58.61 58.40,60.83 61.28,58.59" fill="#c0132c"/>
<ellipse cx="85.90" cy="61.70" rx="7.50" ry="5.56" fill="none" stroke="#ab1c30" stroke-width="1.3" transform="rotate(-10.5 85.90 61.70)"/>
<polygon points="80.14,66.85 74.90,62.44 78.47,63.25 80.17,60.00" fill="#c0132c"/>
<ellipse cx="106.80" cy="61.70" rx="8.14" ry="4.57" fill="none" stroke="#ab1c30" stroke-width="1.3" transform="rotate(-21.4 106.80 61.70)"/>
<polygon points="102.94,67.72 96.16,66.73 99.62,65.53 99.35,61.88" fill="#c0132c"/>
<ellipse cx="127.70" cy="61.70" rx="8.51" ry="3.84" fill="none" stroke="#ab1c30" stroke-width="1.3" transform="rotate(-32.9 127.70 61.70)"/>
<polygon points="125.94,67.42 119.66,70.14 121.97,67.31 119.83,64.34" fill="#c0132c"/>
<ellipse cx="148.60" cy="61.70" rx="8.62" ry="3.57" fill="none" stroke="#ab1c30" stroke-width="1.3" transform="rotate(-45.0 148.60 61.70)"/>
<polygon points="148.93,66.60 144.33,71.67 145.27,68.13 142.10,66.32" fill="#c0132c"/>
<ellipse cx="169.50" cy="61.70" rx="8.51" ry="3.84" fill="none" stroke="#ab1c30" stroke-width="1.3" transform="rotate(-57.1 169.50 61.70)"/>
<polygon points="172.03,65.30 169.25,71.56 169.04,67.90 165.45,67.17" fill="#c0132c"/>
<ellipse cx="190.40" cy="61.70" rx="8.14" ry="4.57" fill="none" stroke="#ab1c30" stroke-width="1.3" transform="rotate(-68.6 190.40 61.70)"/>
<polygon points="195.00,63.43 193.98,70.20 192.80,66.73 189.15,66.99" fill="#c0132c"/>
<ellipse cx="211.30" cy="61.70" rx="7.50" ry="5.56" fill="none" stroke="#ab1c30" stroke-width="1.3" transform="rotate(-79.5 211.30 61.70)"/>
<polygon points="217.39,61.09 218.23,67.88 216.16,64.86 212.71,66.08" fill="#c0132c"/>
<ellipse cx="232.20" cy="61.70" rx="6.60" ry="6.60" fill="none" stroke="#ab1c30" stroke-width="1.3" transform="rotate(-0.0 232.20 61.70)"/>
<polygon points="238.78,58.60 241.72,64.79 238.80,62.57 235.92,64.81" fill="#c0132c"/>
<ellipse cx="65.00" cy="82.60" rx="6.60" ry="6.60" fill="none" stroke="#ab1c30" stroke-width="1.3" transform="rotate(-0.0 65.00 82.60)"/>
<polygon points="58.42,85.70 55.48,79.51 58.40,81.73 61.28,79.49" fill="#c0132c"/>
<ellipse cx="85.90" cy="82.60" rx="8.14" ry="4.57" fill="none" stroke="#ab1c30" stroke-width="1.3" transform="rotate(-8.2 85.90 82.60)"/>
<polygon points="79.23,87.24 74.14,82.66 77.68,83.59 79.48,80.40" fill="#c0132c"/>
<ellipse cx="106.80" cy="82.60" rx="9.02" ry="2.42" fill="none" stroke="#ab1c30" stroke-width="1.3" transform="rotate(-17.6 106.80 82.60)"/>
<polygon points="101.71,87.06 94.87,87.43 98.03,85.57 97.05,82.05" fill="#c0132c"/>
<ellipse cx="127.70" cy="82.60" rx="9.31" ry="0.69" fill="#ab1c30" stroke="#ab1c30" stroke-width="1.3" transform="rotate(-29.8 127.70 82.60)"/>
<polygon points="123.72,85.72 119.11,90.78 120.06,87.24 116.89,85.42" fill="#c0132c"/>
<line x1="155.88" y1="75.32" x2="143.44" y2="87.76" stroke="#4aa35a" stroke-width="1.1"/>
<polygon points="141.32,89.88 144.43,82.81 144.58,86.62 148.39,86.77" fill="#4aa35a"/>
<ellipse cx="169.50" cy="82.60" rx="9.31" ry="0.69" fill="#ab1c30" stroke="#ab1c30" stroke-width="1.3" transform="rotate(-60.2 169.50 82.60)"/>
<polygon points="169.37,84.29 168.52,91.08 167.25,87.65 163.61,87.99" fill="#c0132c"/>
<ellipse cx="190.40" cy="82.60" rx="9.02" ry="2.42" fill="none" stroke="#ab1c30" stroke-width="1.3" transform="rotate(-72.4 190.40 82.60)"/>
<polygon points="192.95,83.03 193.27,89.87 191.44,86.70 187.90,87.66" fill="#c0132c"/>
<ellipse cx="211.30" cy="82.60" rx="8.14" ry="4.57" fill="none" stroke="#ab1c30" stroke-width="1.3" transform="rotate(-81.8 211.30 82.60)"/>
<polygon points="216.29,81.36 217.77,88.04 215.42,85.23 212.11,86.78" fill="#c0132c"/>
<ellipse cx="232.20" cy="82.60" rx="6.60" ry="6.60" fill="none" stroke="#ab1c30" stroke-width="1.3" transform="rotate(-0.0 232.20 82.60)"/>
<polygon points="238.78,79.50 241.72,85.69 238.80,83.47 235.92,85.71" fill="#c0132c"/>
<ellipse cx="65.00" cy="103.50" rx="6.60" ry="6.60" fill="none" stroke="#ab1c30" stroke-width="1.3" transform="rotate(-0.0 65.00 103.50)"/>
<polygon points="58.42,106.60 55.48,100.41 58.40,102.63 61.28,100.39" fill="#c0132c"/>
<ellipse cx="85.90" cy="103.50" rx="8.51" ry="3.84" fill="none" stroke="#ab1c30" stroke-width="1.3" transform="rotate(-4.5 85.90 103.50)"/>
<polygon points="78.27,107.46 73.86,102.22 77.24,103.63 79.47,100.72" fill="#c0132c"/>
<ellipse cx="106.80" cy="103.50" rx="9.31" ry="0.69" fill="#ab1c30" stroke="#ab1c30" stroke-width="1.3" transform="rotate(-10.5 106.80 103.50)"/>
<polygon points="100.87,105.86 94.24,107.56 96.97,105.12 95.31,101.86" fill="#c0132c"/>
<ellipse cx="127.70" cy="103.50" rx="9.07" ry="2.19" fill="none" stroke="#2834a4" stroke-width="1.3" transform="rotate(-21.4 127.70 103.50)"/>
<polygon points="121.42,103.37 119.97,110.06 119.02,106.52 115.36,106.54" fill="#1f2fb0"/>
<ellipse cx="148.60" cy="103.50" rx="8.62" ry="3.57" fill="none" stroke="#2834a4" stroke-width="1.3" transform="rotate(-45.0 148.60 103.50)"/>
<polygon points="143.70,103.17 143.98,110.00 142.17,106.83 138.63,107.77" fill="#1f2fb0"/>
<ellipse cx="169.50" cy="103.50" rx="9.07" ry="2.19" fill="none" stroke="#2834a4" stroke-width="1.3" transform="rotate(-68.6 169.50 103.50)"/>
<polygon points="167.25,102.85 168.32,109.61 166.15,106.67 162.75,108.01" fill="#1f2fb0"/>
<ellipse cx="190.40" cy="103.50" rx="9.31" ry="0.69" fill="#ab1c30" stroke="#ab1c30" stroke-width="1.3" transform="rotate(-79.5 190.40 103.50)"/>
<polygon points="191.36,102.25 193.00,108.89 190.59,106.14 187.31,107.76" fill="#c0132c"/>
<ellipse cx="211.30" cy="103.50" rx="8.51" ry="3.84" fill="none" stroke="#ab1c30" stroke-width="1.3" transform="rotate(-85.5 211.30 103.50)"/>
<polygon points="215.41,101.39 217.60,107.87 214.97,105.33 211.84,107.22" fill="#c0132c"/>
<ellipse cx="232.20" cy="103.50" rx="6.60" ry="6.60" fill="none" stroke="#ab1c30" stroke-width="1.3" transform="rotate(-0.0 232.20 103.50)"/>
<polygon points="238.78,100.40 241.72,106.59 238.80,104.37 235.92,106.61" fill="#c0132c"/>
<ellipse cx="65.00" cy="124.40" rx="6.60" ry="6.60" fill="none" stroke="#ab1c30" stroke-width="1.3" transform="rotate(-0.0 65.00 124.40)"/>
<polygon points="58.42,127.50 55.48,121.31 58.40,123.53 61.28,121.29" fill="#c0132c"/>
<ellipse cx="85.90" cy="124.40" rx="8.62" ry="3.57" fill="none" stroke="#ab1c30" stroke-width="1.3" transform="rotate(-0.0 85.90 124.40)"/>
<polygon points="77.31,127.50 74.34,121.34 77.27,123.53 80.14,121.27" fill="#c0132c"/>
<line x1="96.50" y1="124.40" x2="114.10" y2="124.40" stroke="#4aa35a" stroke-width="1.1"/>
<polygon points="117.10,124.40 109.90,127.20 112.49,124.40 109.90,121.60" fill="#4aa35a"/>
<ellipse cx="127.70" cy="124.40" rx="8.62" ry="3.57" fill="none" stroke="#2834a4" stroke-width="1.3" transform="rotate(-0.0 127.70 124.40)"/>
<polygon points="119.11,121.30 121.94,127.53 119.07,125.27 116.14,127.46" fill="#1f2fb0"/>
<ellipse cx="148.60" cy="124.40" rx="6.60" ry="6.60" fill="none" stroke="#2834a4" stroke-width="1.3" transform="rotate(-0.0 148.60 124.40)"/>
<polygon points="142.02,121.30 144.88,127.51 142.00,125.27 139.08,127.49" fill="#1f2fb0"/>
<ellipse cx="169.50" cy="124.40" rx="8.62" ry="3.57" fill="none" stroke="#2834a4" stroke-width="1.3" transform="rotate(-90.0 169.50 124.40)"/>
<polygon points="165.93,121.30 168.82,127.51 165.93,125.27 163.02,127.49" fill="#1f2fb0"/>
<line x1="190.40" y1="114.10" x2="190.40" y2="131.70" stroke="#4aa35a" stroke-width="1.1"/>
<polygon points="190.40,134.70 187.60,127.50 190.40,130.09 193.20,127.50" fill="#4aa35a"/>
<ellipse cx="211.30" cy="124.40" rx="8.62" ry="3.57" fill="none" stroke="#ab1c30" stroke-width="1.3" transform="rotate(-90.0 211.30 124.40)"/>
<polygon points="214.87,121.30 217.78,127.49 214.87,125.27 211.98,127.51" fill="#c0132c"/>
<ellipse cx="232.20" cy="124.40" rx="6.60" ry="6.60" fill="none" stroke="#ab1c30" stroke-width="1.3" transform="rotate(-0.0 232.20 124.40)"/>
<polygon points="238.78,121.30 241.72,127.49 238.80,125.27 235.92,127.51" fill="#c0132c"/>
<ellipse cx="65.00" cy="145.30" rx="6.60" ry="6.60" fill="none" stroke="#ab1c30" stroke-width="1.3" transform="rotate(-0.0 65.00 145.30)"/>
<polygon points="58.42,148.40 55.48,142.21 58.40,144.43 61.28,142.19" fill="#c0132c"/>
<ellipse cx="85.90" cy="145.30" rx="8.51" ry="3.84" fill="none" stroke="#ab1c30" stroke-width="1.3" transform="rotate(4.5 85.90 145.30)"/>
<polygon points="76.73,147.34 75.39,140.63 77.68,143.49 81.02,142.01" fill="#c0132c"/>
<ellipse cx="106.80" cy="145.30" rx="9.31" ry="0.69" fill="#ab1c30" stroke="#ab1c30" stroke-width="1.3" transform="rotate(10.5 106.80 145.30)"/>
<polygon points="94.79,144.15 100.26,140.04 98.67,143.34 101.45,145.72" fill="#c0132c"/>
<ellipse cx="127.70" cy="145.30" rx="9.07" ry="2.19" fill="none" stroke="#2834a4" stroke-width="1.3" transform="rotate(21.4 127.70 145.30)"/>
<polygon points="117.70,140.48 123.72,143.73 120.06,143.66 119.06,147.18" fill="#1f2fb0"/>
<ellipse cx="148.60" cy="145.30" rx="8.62" ry="3.57" fill="none" stroke="#2834a4" stroke-width="1.3" transform="rotate(45.0 148.60 145.30)"/>
<polygon points="141.33,139.91 146.36,144.54 142.83,143.58 141.00,146.74" fill="#1f2fb0"/>
<ellipse cx="169.50" cy="145.30" rx="9.07" ry="2.19" fill="none" stroke="#2834a4" stroke-width="1.3" transform="rotate(68.6 169.50 145.30)"/>
<polygon points="165.54,139.98 170.03,145.15 166.63,143.80 164.45,146.74" fill="#1f2fb0"/>
<ellipse cx="190.40" cy="145.30" rx="9.31" ry="0.69" fill="#ab1c30" stroke="#ab1c30" stroke-width="1.3" transform="rotate(79.5 190.40 145.30)"/>
<polygon points="190.15,140.47 194.21,145.99 190.92,144.37 188.52,147.12" fill="#c0132c"/>
<ellipse cx="211.30" cy="145.30" rx="8.51" ry="3.84" fill="none" stroke="#ab1c30" stroke-width="1.3" transform="rotate(85.5 211.30 145.30)"/>
<polygon points="214.70,141.25 218.30,147.08 215.16,145.20 212.54,147.75" fill="#c0132c"/>
<ellipse cx="232.20" cy="145.30" rx="6.60" ry="6.60" fill="none" stroke="#ab1c30" stroke-width="1.3" transform="rotate(-0.0 232.20 145.30)"/>
<polygon points="238.78,142.20 241.72,148.39 238.80,146.17 235.92,148.41" fill="#c0132c"/>
<ellipse cx="65.00" cy="166.20" rx="6.60" ry="6.60" fill="none" stroke="#ab1c30" stroke-width="1.3" transform="rotate(-0.0 65.00 166.20)"/>
<polygon points="58.42,169.30 55.48,163.11 58.40,165.33 61.28,163.09" fill="#c0132c"/>
<ellipse cx="85.90" cy="166.20" rx="8.14" ry="4.57" fill="none" stroke="#ab1c30" stroke-width="1.3" transform="rotate(8.2 85.90 166.20)"/>
<polygon points="76.85,167.29 76.49,160.45 78.34,163.61 81.87,162.63" fill="#c0132c"/>
<ellipse cx="106.80" cy="166.20" rx="9.02" ry="2.42" fill="none" stroke="#ab1c30" stroke-width="1.3" transform="rotate(17.6 106.80 166.20)"/>
<polygon points="95.98,164.11 100.55,159.02 99.63,162.56 102.82,164.36" fill="#c0132c"/>
<ellipse cx="127.70" cy="166.20" rx="9.31" ry="0.69" fill="#ab1c30" stroke="#ab1c30" stroke-width="1.3" transform="rotate(29.8 127.70 166.20)"/>
<polygon points="118.00,160.71 124.83,160.39 121.67,162.22 122.62,165.75" fill="#c0132c"/>
<line x1="141.32" y1="158.92" x2="153.76" y2="171.36" stroke="#4aa35a" stroke-width="1.1"/>
<polygon points="155.88,173.48 148.81,170.37 152.62,170.22 152.77,166.41" fill="#4aa35a"/>
<ellipse cx="169.50" cy="166.20" rx="9.31" ry="0.69" fill="#ab1c30" stroke="#ab1c30" stroke-width="1.3" transform="rotate(60.2 169.50 166.20)"/>
<polygon points="166.06,159.27 171.82,162.96 168.18,162.62 166.92,166.06" fill="#c0132c"/>
<ellipse cx="190.40" cy="166.20" rx="9.02" ry="2.42" fill="none" stroke="#ab1c30" stroke-width="1.3" transform="rotate(72.4 190.40 166.20)"/>
<polygon points="190.58,160.04 195.64,164.65 192.10,163.70 190.28,166.88" fill="#c0132c"/>
<ellipse cx="211.30" cy="166.20" rx="8.14" ry="4.57" fill="none" stroke="#ab1c30" stroke-width="1.3" transform="rotate(81.8 211.30 166.20)"/>
<polygon points="214.92,161.39 219.13,166.79 215.81,165.26 213.48,168.08" fill="#c0132c"/>
<ellipse cx="232.20" cy="166.20" rx="6.60" ry="6.60" fill="none" stroke="#ab1c30" stroke-width="1.3" transform="rotate(-0.0 232.20 166.20)"/>
<polygon points="238.78,163.10 241.72,169.29 238.80,167.07 235.92,169.31" fill="#c0132c"/>
<ellipse cx="65.00" cy="187.10" rx="6.60" ry="6.60" fill="none" stroke="#ab1c30" stroke-width="1.3" transform="rotate(-0.0 65.00 187.10)"/>
<polygon points="58.42,190.20 55.48,184.01 58.40,186.23 61.28,183.99" fill="#c0132c"/>
<ellipse cx="85.90" cy="187.10" rx="7.50" ry="5.56" fill="none" stroke="#ab1c30" stroke-width="1.3" transform="rotate(10.5 85.90 187.10)"/>
<polygon points="77.57,187.60 77.45,180.75 79.19,183.97 82.75,183.12" fill="#c0132c"/>
<ellipse cx="106.80" cy="187.10" rx="8.14" ry="4.57" fill="none" stroke="#ab1c30" stroke-width="1.3" transform="rotate(21.4 106.80 187.10)"/>
<polygon points="97.78,184.53 101.28,178.65 101.07,182.30 104.54,183.45" fill="#c0132c"/>
<ellipse cx="127.70" cy="187.10" rx="8.51" ry="3.84" fill="none" stroke="#ab1c30" stroke-width="1.3" transform="rotate(32.9 127.70 187.10)"/>
<polygon points="119.74,181.59 125.82,178.45 123.71,181.43 126.05,184.24" fill="#c0132c"/>
<ellipse cx="148.60" cy="187.10" rx="8.62" ry="3.57" fill="none" stroke="#ab1c30" stroke-width="1.3" transform="rotate(45.0 148.60 187.10)"/>
<polygon points="143.21,179.83 150.04,179.50 146.88,181.33 147.84,184.86" fill="#c0132c"/>
<ellipse cx="169.50" cy="187.10" rx="8.51" ry="3.84" fill="none" stroke="#ab1c30" stroke-width="1.3" transform="rotate(57.1 169.50 187.10)"/>
<polygon points="167.34,179.45 173.93,181.28 170.35,182.03 170.16,185.69" fill="#c0132c"/>
<ellipse cx="190.40" cy="187.10" rx="8.14" ry="4.57" fill="none" stroke="#ab1c30" stroke-width="1.3" transform="rotate(68.6 190.40 187.10)"/>
<polygon points="191.55,180.22 197.42,183.74 193.77,183.51 192.60,186.98" fill="#c0132c"/>
<ellipse cx="211.30" cy="187.10" rx="7.50" ry="5.56" fill="none" stroke="#ab1c30" stroke-width="1.3" transform="rotate(79.5 211.30 187.10)"/>
<polygon points="215.45,181.83 220.16,186.79 216.71,185.59 214.66,188.63" fill="#c0132c"/>
<ellipse cx="232.20" cy="187.10" rx="6.60" ry="6.60" fill="none" stroke="#ab1c30" stroke-width="1.3" transform="rotate(-0.0 232.20 187.10)"/>
<polygon points="238.78,184.00 241.72,190.19 238.80,187.97 235.92,190.21" fill="#c0132c"/>
<ellipse cx="65.00" cy="208.00" rx="6.60" ry="6.60" fill="none" stroke="#ab1c30" stroke-width="1.3" transform="rotate(-0.0 65.00 208.00)"/>
<polygon points="58.42,211.10 55.48,204.91 58.40,207.13 61.28,204.89" fill="#c0132c"/>
<ellipse cx="85.90" cy="208.00" rx="6.60" ry="6.60" fill="none" stroke="#ab1c30" stroke-width="1.3" transform="rotate(-0.0 85.90 208.00)"/>
<polygon points="78.63,208.34 78.29,201.51 80.13,204.67 83.66,203.70" fill="#c0132c"/>
<ellipse cx="106.80" cy="208.00" rx="6.60" ry="6.60" fill="none" stroke="#ab1c30" stroke-width="1.3" transform="rotate(-0.0 106.80 208.00)"/>
<polygon points="99.95,205.54 102.25,199.09 102.74,202.72 106.37,203.17" fill="#c0132c"/>
<ellipse cx="127.70" cy="208.00" rx="6.60" ry="6.60" fill="none" stroke="#ab1c30" stroke-width="1.3" transform="rotate(-0.0 127.70 208.00)"/>
<polygon points="122.32,203.10 126.91,198.03 125.97,201.57 129.16,203.38" fill="#c0132c"/>
<ellipse cx="148.60" cy="208.00" rx="6.60" ry="6.60" fill="none" stroke="#ab1c30" stroke-width="1.3" transform="rotate(-0.0 148.60 208.00)"/>
<polygon points="145.50,201.42 151.69,198.48 149.47,201.40 151.71,204.28" fill="#c0132c"/>
<ellipse cx="169.50" cy="208.00" rx="6.60" ry="6.60" fill="none" stroke="#ab1c30" stroke-width="1.3" transform="rotate(-0.0 169.50 208.00)"/>
<polygon points="169.16,200.73 175.99,200.39 172.83,202.23 173.80,205.76" fill="#c0132c"/>
<ellipse cx="190.40" cy="208.00" rx="6.60" ry="6.60" fill="none" stroke="#ab1c30" stroke-width="1.3" transform="rotate(-0.0 190.40 208.00)"/>
<polygon points="192.86,201.15 199.31,203.45 195.68,203.94 195.23,207.57" fill="#c0132c"/>
<ellipse cx="211.30" cy="208.00" rx="6.60" ry="6.60" fill="none" stroke="#ab1c30" stroke-width="1.3" transform="rotate(-0.0 211.30 208.00)"/>
<polygon points="216.20,202.62 221.27,207.21 217.73,206.27 215.92,209.46" fill="#c0132c"/>
<ellipse cx="232.20" cy="208.00" rx="6.60" ry="6.60" fill="none" stroke="#ab1c30" stroke-width="1.3" transform="rotate(-0.0 232.20 208.00)"/>
<polygon points="238.78,204.90 241.72,211.09 238.80,208.87 235.92,211.11" fill="#c0132c"/>
<circle cx="180.8" cy="124.3" r="20.5" fill="none" stroke="#000" stroke-width="2.5"/>
<circle cx="180.8" cy="124.3" r="30.6" fill="none" stroke="#000" stroke-width="2.5" stroke-dasharray="8.492 7.530" stroke-dashoffset="4.246"/>
<circle cx="180.8" cy="124.3" r="41.6" fill="none" stroke="#000" stroke-width="2.5" stroke-dasharray="2.178 2.178"/>
<polygon points="149.00,119.60 150.23,122.90 153.76,123.05 151.00,125.25 151.94,128.65 149.00,126.70 146.06,128.65 147.00,125.25 144.24,123.05 147.77,122.90" fill="#f4b13a"/>
<circle cx="795.6" cy="124.5" r="22.8" fill="none" stroke="#000" stroke-width="2.2"/>
<circle cx="795.6" cy="124.5" r="34.7" fill="none" stroke="#000" stroke-width="2.3" stroke-dasharray="9.630 8.539" stroke-dashoffset="4.815"/>
<circle cx="795.6" cy="124.5" r="45.6" fill="none" stroke="#000" stroke-width="2.2" stroke-dasharray="2.107 2.107"/>
<line x1="244.70" y1="199.40" x2="328.00" y2="199.40" stroke="#000" stroke-width="1.15"/>
<polygon points="332.00,199.40 323.80,202.20 325.44,199.40 323.80,196.60" fill="#000"/>
<line x1="244.70" y1="199.40" x2="317.73" y2="260.43" stroke="#000" stroke-width="1.15"/>
<polygon points="320.80,263.00 312.71,259.89 315.77,258.79 316.30,255.59" fill="#000"/>
<text x="289.60" y="190.60" font-family='"Liberation Serif", "DejaVu Serif", serif' font-size="16.8" text-anchor="middle" font-weight="normal" font-style="normal" fill="#000" letter-spacing="0.5" stroke="#000" stroke-width="0.2">⟨<tspan font-style="italic">R</tspan>|Ψ⟩|<tspan font-style="italic">R</tspan>⟩</text>
<g transform="translate(276.6,240.0) rotate(39.9)">
<text x="0.00" y="5.00" font-family='"Liberation Serif", "DejaVu Serif", serif' font-size="16.8" text-anchor="middle" font-weight="normal" font-style="normal" fill="#000" letter-spacing="0.5" stroke="#000" stroke-width="0.2">⟨<tspan font-style="italic">L</tspan>|Ψ⟩|<tspan font-style="italic">L</tspan>⟩</text>
</g>
<text x="4.60" y="15.40" font-family='"Liberation Sans", sans-serif' font-size="17.8" text-anchor="start" font-weight="bold" font-style="normal" fill="#000" stroke="#000" stroke-width="0.2">A</text>
<text x="35.00" y="15.30" font-family='"Liberation Sans", sans-serif' font-size="16.75" text-anchor="start" font-weight="normal" font-style="normal" fill="#000" stroke="#000" stroke-width="0.2">C-point Polarization singularity</text>
<text x="4.80" y="282.00" font-family='"Liberation Sans", sans-serif' font-size="17.8" text-anchor="start" font-weight="bold" font-style="normal" fill="#000" stroke="#000" stroke-width="0.2">B</text>
<text x="300.50" y="15.80" font-family='"Liberation Sans", sans-serif' font-size="17.8" text-anchor="start" font-weight="bold" font-style="normal" fill="#000" stroke="#000" stroke-width="0.2">C</text>
<text x="618.00" y="15.80" font-family='"Liberation Sans", sans-serif' font-size="17.8" text-anchor="start" font-weight="bold" font-style="normal" fill="#000" stroke="#000" stroke-width="0.2">D</text>
<text x="301.00" y="283.00" font-family='"Liberation Sans", sans-serif' font-size="17.8" text-anchor="start" font-weight="bold" font-style="normal" fill="#000" stroke="#000" stroke-width="0.2">E</text>
<text x="618.00" y="283.00" font-family='"Liberation Sans", sans-serif' font-size="17.8" text-anchor="start" font-weight="bold" font-style="normal" fill="#000" stroke="#000" stroke-width="0.2">F</text>
<text x="50.30" y="48.06" font-family='"Liberation Sans", sans-serif' font-size="16.0" text-anchor="end" font-weight="normal" font-style="normal" fill="#000" stroke="#000" stroke-width="0.2"><tspan font-family='"DejaVu Serif", "Liberation Serif", serif' font-style="italic" font-size="13.7">π</tspan>/4</text>
<text x="50.30" y="130.46" font-family='"Liberation Sans", sans-serif' font-size="16.0" text-anchor="end" font-weight="normal" font-style="normal" fill="#000" stroke="#000" stroke-width="0.2">0</text>
<text x="50.30" y="214.36" font-family='"Liberation Sans", sans-serif' font-size="16.0" text-anchor="end" font-weight="normal" font-style="normal" fill="#000" stroke="#000" stroke-width="0.2">-<tspan font-family='"DejaVu Serif", "Liberation Serif", serif' font-style="italic" font-size="13.7">π</tspan>/4</text>
<text x="65.00" y="235.20" font-family='"Liberation Sans", sans-serif' font-size="16.0" text-anchor="middle" font-weight="normal" font-style="normal" fill="#000" stroke="#000" stroke-width="0.2">0</text>
<text x="147.20" y="235.20" font-family='"Liberation Sans", sans-serif' font-size="16.0" text-anchor="middle" font-weight="normal" font-style="normal" fill="#000" stroke="#000" stroke-width="0.2"><tspan font-family='"DejaVu Serif", "Liberation Serif", serif' font-style="italic" font-size="13.7">π</tspan></text>
<text x="231.50" y="235.20" font-family='"Liberation Sans", sans-serif' font-size="16.0" text-anchor="middle" font-weight="normal" font-style="normal" fill="#000" stroke="#000" stroke-width="0.2">2<tspan font-family='"DejaVu Serif", "Liberation Serif", serif' font-style="italic" font-size="13.7">π</tspan></text>
<text x="147.00" y="255.00" font-family='"Liberation Sans", sans-serif' font-size="17.4" text-anchor="middle" font-weight="normal" font-style="normal" fill="#000" stroke="#000" stroke-width="0.2"><tspan font-family='"Liberation Serif", "DejaVu Serif", serif' font-style="italic" font-size="17.4" stroke="#000" stroke-width="0.25">δ</tspan> (rad)</text>
<text x="14.80" y="124.20" font-family='"Liberation Sans", sans-serif' font-size="17.4" text-anchor="middle" font-weight="normal" font-style="normal" fill="#000" transform="rotate(-90 14.80 124.20)" stroke="#000" stroke-width="0.2"><tspan font-family='"Liberation Serif", "DejaVu Serif", serif' font-style="italic" font-size="17.4" stroke="#000" stroke-width="0.25">χ</tspan> (rad)</text>
<text x="354.80" y="39.82" font-family='"Liberation Sans", sans-serif' font-size="15.6" text-anchor="end" font-weight="normal" font-style="normal" fill="#000" stroke="#000" stroke-width="0.2"><tspan font-family='"DejaVu Serif", "Liberation Serif", serif' font-style="italic" font-size="13.4">π</tspan>/4</text>
<text x="354.80" y="130.37" font-family='"Liberation Sans", sans-serif' font-size="15.6" text-anchor="end" font-weight="normal" font-style="normal" fill="#000" stroke="#000" stroke-width="0.2">0</text>
<text x="354.80" y="221.12" font-family='"Liberation Sans", sans-serif' font-size="15.6" text-anchor="end" font-weight="normal" font-style="normal" fill="#000" stroke="#000" stroke-width="0.2">-<tspan font-family='"DejaVu Serif", "Liberation Serif", serif' font-style="italic" font-size="13.4">π</tspan>/4</text>
<text x="360.80" y="234.90" font-family='"Liberation Sans", sans-serif' font-size="15.6" text-anchor="middle" font-weight="normal" font-style="normal" fill="#000" stroke="#000" stroke-width="0.2">0</text>
<text x="451.80" y="234.90" font-family='"Liberation Sans", sans-serif' font-size="15.6" text-anchor="middle" font-weight="normal" font-style="normal" fill="#000" stroke="#000" stroke-width="0.2"><tspan font-family='"DejaVu Serif", "Liberation Serif", serif' font-style="italic" font-size="13.4">π</tspan></text>
<text x="541.80" y="234.90" font-family='"Liberation Sans", sans-serif' font-size="15.6" text-anchor="middle" font-weight="normal" font-style="normal" fill="#000" stroke="#000" stroke-width="0.2">2<tspan font-family='"DejaVu Serif", "Liberation Serif", serif' font-style="italic" font-size="13.4">π</tspan></text>
<text x="451.80" y="254.70" font-family='"Liberation Sans", sans-serif' font-size="17.4" text-anchor="middle" font-weight="normal" font-style="normal" fill="#000" stroke="#000" stroke-width="0.2"><tspan font-family='"Liberation Serif", "DejaVu Serif", serif' font-style="italic" font-size="17.4" stroke="#000" stroke-width="0.25">δ</tspan> (rad)</text>
<text x="320.80" y="124.95" font-family='"Liberation Sans", sans-serif' font-size="17.4" text-anchor="middle" font-weight="normal" font-style="normal" fill="#000" transform="rotate(-90 320.80 124.95)" stroke="#000" stroke-width="0.2"><tspan font-family='"Liberation Serif", "DejaVu Serif", serif' font-style="italic" font-size="17.4" stroke="#000" stroke-width="0.25">χ</tspan> (rad)</text>
<text x="664.60" y="39.82" font-family='"Liberation Sans", sans-serif' font-size="15.6" text-anchor="end" font-weight="normal" font-style="normal" fill="#000" stroke="#000" stroke-width="0.2"><tspan font-family='"DejaVu Serif", "Liberation Serif", serif' font-style="italic" font-size="13.4">π</tspan>/4</text>
<text x="664.60" y="130.32" font-family='"Liberation Sans", sans-serif' font-size="15.6" text-anchor="end" font-weight="normal" font-style="normal" fill="#000" stroke="#000" stroke-width="0.2">0</text>
<text x="664.60" y="221.02" font-family='"Liberation Sans", sans-serif' font-size="15.6" text-anchor="end" font-weight="normal" font-style="normal" fill="#000" stroke="#000" stroke-width="0.2">-<tspan font-family='"DejaVu Serif", "Liberation Serif", serif' font-style="italic" font-size="13.4">π</tspan>/4</text>
<text x="670.60" y="234.80" font-family='"Liberation Sans", sans-serif' font-size="15.6" text-anchor="middle" font-weight="normal" font-style="normal" fill="#000" stroke="#000" stroke-width="0.2">0</text>
<text x="761.80" y="234.80" font-family='"Liberation Sans", sans-serif' font-size="15.6" text-anchor="middle" font-weight="normal" font-style="normal" fill="#000" stroke="#000" stroke-width="0.2"><tspan font-family='"DejaVu Serif", "Liberation Serif", serif' font-style="italic" font-size="13.4">π</tspan></text>
<text x="852.00" y="234.80" font-family='"Liberation Sans", sans-serif' font-size="15.6" text-anchor="middle" font-weight="normal" font-style="normal" fill="#000" stroke="#000" stroke-width="0.2">2<tspan font-family='"DejaVu Serif", "Liberation Serif", serif' font-style="italic" font-size="13.4">π</tspan></text>
<text x="761.80" y="254.60" font-family='"Liberation Sans", sans-serif' font-size="17.4" text-anchor="middle" font-weight="normal" font-style="normal" fill="#000" stroke="#000" stroke-width="0.2"><tspan font-family='"Liberation Serif", "DejaVu Serif", serif' font-style="italic" font-size="17.4" stroke="#000" stroke-width="0.25">δ</tspan> (rad)</text>
<text x="630.60" y="124.90" font-family='"Liberation Sans", sans-serif' font-size="17.4" text-anchor="middle" font-weight="normal" font-style="normal" fill="#000" transform="rotate(-90 630.60 124.90)" stroke="#000" stroke-width="0.2"><tspan font-family='"Liberation Serif", "DejaVu Serif", serif' font-style="italic" font-size="17.4" stroke="#000" stroke-width="0.25">χ</tspan> (rad)</text>
<text x="354.80" y="303.82" font-family='"Liberation Sans", sans-serif' font-size="15.6" text-anchor="end" font-weight="normal" font-style="normal" fill="#000" stroke="#000" stroke-width="0.2"><tspan font-family='"DejaVu Serif", "Liberation Serif", serif' font-style="italic" font-size="13.4">π</tspan>/4</text>
<text x="354.80" y="394.37" font-family='"Liberation Sans", sans-serif' font-size="15.6" text-anchor="end" font-weight="normal" font-style="normal" fill="#000" stroke="#000" stroke-width="0.2">0</text>
<text x="354.80" y="485.12" font-family='"Liberation Sans", sans-serif' font-size="15.6" text-anchor="end" font-weight="normal" font-style="normal" fill="#000" stroke="#000" stroke-width="0.2">-<tspan font-family='"DejaVu Serif", "Liberation Serif", serif' font-style="italic" font-size="13.4">π</tspan>/4</text>
<text x="360.80" y="498.90" font-family='"Liberation Sans", sans-serif' font-size="15.6" text-anchor="middle" font-weight="normal" font-style="normal" fill="#000" stroke="#000" stroke-width="0.2">0</text>
<text x="451.80" y="498.90" font-family='"Liberation Sans", sans-serif' font-size="15.6" text-anchor="middle" font-weight="normal" font-style="normal" fill="#000" stroke="#000" stroke-width="0.2"><tspan font-family='"DejaVu Serif", "Liberation Serif", serif' font-style="italic" font-size="13.4">π</tspan></text>
<text x="541.80" y="498.90" font-family='"Liberation Sans", sans-serif' font-size="15.6" text-anchor="middle" font-weight="normal" font-style="normal" fill="#000" stroke="#000" stroke-width="0.2">2<tspan font-family='"DejaVu Serif", "Liberation Serif", serif' font-style="italic" font-size="13.4">π</tspan></text>
<text x="451.80" y="518.70" font-family='"Liberation Sans", sans-serif' font-size="17.4" text-anchor="middle" font-weight="normal" font-style="normal" fill="#000" stroke="#000" stroke-width="0.2"><tspan font-family='"Liberation Serif", "DejaVu Serif", serif' font-style="italic" font-size="17.4" stroke="#000" stroke-width="0.25">δ</tspan> (rad)</text>
<text x="320.80" y="388.95" font-family='"Liberation Sans", sans-serif' font-size="17.4" text-anchor="middle" font-weight="normal" font-style="normal" fill="#000" transform="rotate(-90 320.80 388.95)" stroke="#000" stroke-width="0.2"><tspan font-family='"Liberation Serif", "DejaVu Serif", serif' font-style="italic" font-size="17.4" stroke="#000" stroke-width="0.25">χ</tspan> (rad)</text>
<text x="664.60" y="303.82" font-family='"Liberation Sans", sans-serif' font-size="15.6" text-anchor="end" font-weight="normal" font-style="normal" fill="#000" stroke="#000" stroke-width="0.2"><tspan font-family='"DejaVu Serif", "Liberation Serif", serif' font-style="italic" font-size="13.4">π</tspan>/4</text>
<text x="664.60" y="394.32" font-family='"Liberation Sans", sans-serif' font-size="15.6" text-anchor="end" font-weight="normal" font-style="normal" fill="#000" stroke="#000" stroke-width="0.2">0</text>
<text x="664.60" y="485.02" font-family='"Liberation Sans", sans-serif' font-size="15.6" text-anchor="end" font-weight="normal" font-style="normal" fill="#000" stroke="#000" stroke-width="0.2">-<tspan font-family='"DejaVu Serif", "Liberation Serif", serif' font-style="italic" font-size="13.4">π</tspan>/4</text>
<text x="670.60" y="498.80" font-family='"Liberation Sans", sans-serif' font-size="15.6" text-anchor="middle" font-weight="normal" font-style="normal" fill="#000" stroke="#000" stroke-width="0.2">0</text>
<text x="761.80" y="498.80" font-family='"Liberation Sans", sans-serif' font-size="15.6" text-anchor="middle" font-weight="normal" font-style="normal" fill="#000" stroke="#000" stroke-width="0.2"><tspan font-family='"DejaVu Serif", "Liberation Serif", serif' font-style="italic" font-size="13.4">π</tspan></text>
<text x="852.00" y="498.80" font-family='"Liberation Sans", sans-serif' font-size="15.6" text-anchor="middle" font-weight="normal" font-style="normal" fill="#000" stroke="#000" stroke-width="0.2">2<tspan font-family='"DejaVu Serif", "Liberation Serif", serif' font-style="italic" font-size="13.4">π</tspan></text>
<text x="761.80" y="518.60" font-family='"Liberation Sans", sans-serif' font-size="17.4" text-anchor="middle" font-weight="normal" font-style="normal" fill="#000" stroke="#000" stroke-width="0.2"><tspan font-family='"Liberation Serif", "DejaVu Serif", serif' font-style="italic" font-size="17.4" stroke="#000" stroke-width="0.25">δ</tspan> (rad)</text>
<text x="630.60" y="388.90" font-family='"Liberation Sans", sans-serif' font-size="17.4" text-anchor="middle" font-weight="normal" font-style="normal" fill="#000" transform="rotate(-90 630.60 388.90)" stroke="#000" stroke-width="0.2"><tspan font-family='"Liberation Serif", "DejaVu Serif", serif' font-style="italic" font-size="17.4" stroke="#000" stroke-width="0.25">χ</tspan> (rad)</text>
<text x="561.30" y="60.10" font-family='"Liberation Sans", sans-serif' font-size="17.4" text-anchor="middle" font-weight="normal" font-style="normal" fill="#000" stroke="#000" stroke-width="0.2">1</text>
<text x="561.30" y="205.80" font-family='"Liberation Sans", sans-serif' font-size="17.4" text-anchor="middle" font-weight="normal" font-style="normal" fill="#000" stroke="#000" stroke-width="0.2">0</text>
<text x="869.00" y="61.30" font-family='"Liberation Sans", sans-serif' font-size="15" text-anchor="middle" font-weight="normal" font-style="normal" fill="#000" stroke="#000" stroke-width="0.2"><tspan font-family='"DejaVu Serif", "Liberation Serif", serif' font-style="italic" font-size="13.4">π</tspan></text>
<text x="868.00" y="204.10" font-family='"Liberation Sans", sans-serif' font-size="15" text-anchor="middle" font-weight="normal" font-style="normal" fill="#000" stroke="#000" stroke-width="0.2">- <tspan font-family='"DejaVu Serif", "Liberation Serif", serif' font-style="italic" font-size="13.4">π</tspan></text>
<text x="561.30" y="323.30" font-family='"Liberation Sans", sans-serif' font-size="17.4" text-anchor="middle" font-weight="normal" font-style="normal" fill="#000" stroke="#000" stroke-width="0.2">1</text>
<text x="561.30" y="469.00" font-family='"Liberation Sans", sans-serif' font-size="17.4" text-anchor="middle" font-weight="normal" font-style="normal" fill="#000" stroke="#000" stroke-width="0.2">0</text>
<text x="869.00" y="324.50" font-family='"Liberation Sans", sans-serif' font-size="15" text-anchor="middle" font-weight="normal" font-style="normal" fill="#000" stroke="#000" stroke-width="0.2"><tspan font-family='"DejaVu Serif", "Liberation Serif", serif' font-style="italic" font-size="13.4">π</tspan></text>
<text x="868.00" y="467.30" font-family='"Liberation Sans", sans-serif' font-size="15" text-anchor="middle" font-weight="normal" font-style="normal" fill="#000" stroke="#000" stroke-width="0.2">- <tspan font-family='"DejaVu Serif", "Liberation Serif", serif' font-style="italic" font-size="13.4">π</tspan></text>
<g transform="translate(585.8,126.65) rotate(-90)">
<text x="-12.25" y="-0.19" font-family='"Liberation Serif", "DejaVu Serif", serif' font-size="18.6" text-anchor="middle" font-weight="normal" font-style="normal" fill="#000">|</text>
<text x="-8.95" y="0.00" font-family='"Liberation Serif", "DejaVu Serif", serif' font-size="18.6" text-anchor="start" font-weight="normal" font-style="italic" fill="#000" stroke="#000" stroke-width="0.25">t</text>
<text x="-1.65" y="2.60" font-family='"Liberation Serif", "DejaVu Serif", serif' font-size="12.276" text-anchor="start" font-weight="normal" font-style="italic" fill="#000" stroke="#000" stroke-width="0.25">co</text>
<text x="12.25" y="-0.19" font-family='"Liberation Serif", "DejaVu Serif", serif' font-size="18.6" text-anchor="middle" font-weight="normal" font-style="normal" fill="#000">|</text>
</g>
<g transform="translate(585.8,388.40) rotate(-90)">
<text x="-15.20" y="-0.19" font-family='"Liberation Serif", "DejaVu Serif", serif' font-size="18.6" text-anchor="middle" font-weight="normal" font-style="normal" fill="#000">|</text>
<text x="-11.90" y="0.00" font-family='"Liberation Serif", "DejaVu Serif", serif' font-size="18.6" text-anchor="start" font-weight="normal" font-style="italic" fill="#000" stroke="#000" stroke-width="0.25">t</text>
<text x="-4.90" y="2.60" font-family='"Liberation Serif", "DejaVu Serif", serif' font-size="12.276" text-anchor="start" font-weight="normal" font-style="italic" fill="#000" stroke="#000" stroke-width="0.25">cro</text>
<text x="15.20" y="-0.19" font-family='"Liberation Serif", "DejaVu Serif", serif' font-size="18.6" text-anchor="middle" font-weight="normal" font-style="normal" fill="#000">|</text>
</g>
<g transform="translate(892.40,126.00) rotate(-90)">
<text x="-31.00" y="0.00" font-family='"Liberation Serif", "DejaVu Serif", serif' font-size="18.6" text-anchor="start" font-weight="normal" font-style="italic" fill="#000" stroke="#000" stroke-width="0.25">ϕ</text>
<text x="-20.30" y="2.60" font-family='"Liberation Serif", "DejaVu Serif", serif' font-size="12.276" text-anchor="start" font-weight="normal" font-style="italic" fill="#000" stroke="#000" stroke-width="0.25">co</text>
<text x="-6.00" y="0.00" font-family='"Liberation Sans", sans-serif' font-size="17.2" text-anchor="start" font-weight="normal" font-style="normal" fill="#000" stroke="#000" stroke-width="0.2">(rad)</text>
</g>
<g transform="translate(892.40,391.00) rotate(-90)">
<text x="-34.50" y="0.00" font-family='"Liberation Serif", "DejaVu Serif", serif' font-size="18.6" text-anchor="start" font-weight="normal" font-style="italic" fill="#000" stroke="#000" stroke-width="0.25">ϕ</text>
<text x="-23.80" y="2.60" font-family='"Liberation Serif", "DejaVu Serif", serif' font-size="12.276" text-anchor="start" font-weight="normal" font-style="italic" fill="#000" stroke="#000" stroke-width="0.25">cro</text>
<text x="-1.70" y="0.00" font-family='"Liberation Sans", sans-serif' font-size="17.2" text-anchor="start" font-weight="normal" font-style="normal" fill="#000" stroke="#000" stroke-width="0.2">(rad)</text>
</g>
<text x="435.40" y="21.40" font-family='"Liberation Serif", "DejaVu Serif", serif' font-size="20.0" text-anchor="middle" font-weight="normal" font-style="normal" fill="#000">|</text>
<text x="439.60" y="21.60" font-family='"Liberation Serif", "DejaVu Serif", serif' font-size="20.0" text-anchor="start" font-weight="normal" font-style="italic" fill="#000" stroke="#000" stroke-width="0.25">t</text>
<text x="446.30" y="24.40" font-family='"Liberation Serif", "DejaVu Serif", serif' font-size="13.2" text-anchor="start" font-weight="normal" font-style="italic" fill="#000" stroke="#000" stroke-width="0.25">co</text>
<text x="461.80" y="21.40" font-family='"Liberation Serif", "DejaVu Serif", serif' font-size="20.0" text-anchor="middle" font-weight="normal" font-style="normal" fill="#000">|</text>
<circle cx="489.8" cy="16.0" r="9.3" fill="none" stroke="#ab1c30" stroke-width="1.75"/>
<polygon points="480.80,20.62 476.70,12.22 480.70,13.65 484.40,12.22" fill="#ab1c30"/>
<text x="436.00" y="286.30" font-family='"Liberation Serif", "DejaVu Serif", serif' font-size="20.0" text-anchor="middle" font-weight="normal" font-style="normal" fill="#000">|</text>
<text x="439.60" y="286.50" font-family='"Liberation Serif", "DejaVu Serif", serif' font-size="20.0" text-anchor="start" font-weight="normal" font-style="italic" fill="#000" stroke="#000" stroke-width="0.25">t</text>
<text x="446.30" y="289.30" font-family='"Liberation Serif", "DejaVu Serif", serif' font-size="13.2" text-anchor="start" font-weight="normal" font-style="italic" fill="#000" stroke="#000" stroke-width="0.25">cro</text>
<text x="466.70" y="286.30" font-family='"Liberation Serif", "DejaVu Serif", serif' font-size="20.0" text-anchor="middle" font-weight="normal" font-style="normal" fill="#000">|</text>
<circle cx="489.8" cy="280.7" r="9.3" fill="none" stroke="#2834a4" stroke-width="1.75"/>
<polygon points="480.80,276.08 476.70,284.48 480.70,283.05 484.40,284.48" fill="#2834a4"/>
<text x="754.20" y="21.60" font-family='"Liberation Serif", "DejaVu Serif", serif' font-size="20.0" text-anchor="start" font-weight="normal" font-style="italic" fill="#000" stroke="#000" stroke-width="0.25">ϕ</text>
<text x="765.00" y="24.40" font-family='"Liberation Serif", "DejaVu Serif", serif' font-size="13.2" text-anchor="start" font-weight="normal" font-style="italic" fill="#000" stroke="#000" stroke-width="0.25">co</text>
<circle cx="811.4" cy="16.0" r="9.3" fill="none" stroke="#ab1c30" stroke-width="1.75"/>
<polygon points="802.40,20.62 798.30,12.22 802.30,13.65 806.00,12.22" fill="#ab1c30"/>
<text x="751.20" y="286.50" font-family='"Liberation Serif", "DejaVu Serif", serif' font-size="20.0" text-anchor="start" font-weight="normal" font-style="italic" fill="#000" stroke="#000" stroke-width="0.25">ϕ</text>
<text x="762.00" y="289.30" font-family='"Liberation Serif", "DejaVu Serif", serif' font-size="13.2" text-anchor="start" font-weight="normal" font-style="italic" fill="#000" stroke="#000" stroke-width="0.25">cro</text>
<circle cx="811.4" cy="280.7" r="9.3" fill="none" stroke="#2834a4" stroke-width="1.75"/>
<polygon points="802.40,276.08 798.30,284.48 802.30,283.05 806.00,284.48" fill="#2834a4"/>
<g clip-path="url(#sphc)">
<g filter="url(#sblur)">
<g shape-rendering="crispEdges">
<rect x="118.53" y="279.00" width="48.35" height="2.00" fill="url(#g284)"/>
<rect x="110.03" y="281.00" width="65.35" height="2.00" fill="url(#g285)"/>
<rect x="103.77" y="283.00" width="77.87" height="2.00" fill="url(#g286)"/>
<rect x="98.62" y="285.00" width="88.16" height="2.00" fill="url(#g287)"/>
<rect x="94.19" y="287.00" width="97.02" height="2.00" fill="url(#g288)"/>
<rect x="90.26" y="289.00" width="104.87" height="2.00" fill="url(#g289)"/>
<rect x="86.72" y="291.00" width="111.95" height="2.00" fill="url(#g290)"/>
<rect x="83.50" y="293.00" width="118.41" height="2.00" fill="url(#g291)"/>
<rect x="80.52" y="295.00" width="124.35" height="2.00" fill="url(#g292)"/>
<rect x="77.77" y="297.00" width="129.87" height="2.00" fill="url(#g293)"/>
<rect x="75.20" y="299.00" width="135.00" height="2.00" fill="url(#g294)"/>
<rect x="72.80" y="301.00" width="139.80" height="2.00" fill="url(#g295)"/>
<rect x="70.54" y="303.00" width="144.31" height="2.00" fill="url(#g296)"/>
<rect x="68.42" y="305.00" width="148.56" height="2.00" fill="url(#g297)"/>
<rect x="66.42" y="307.00" width="152.56" height="2.00" fill="url(#g298)"/>
<rect x="64.53" y="309.00" width="156.34" height="2.00" fill="url(#g299)"/>
<rect x="62.74" y="311.00" width="159.91" height="2.00" fill="url(#g300)"/>
<rect x="61.05" y="313.00" width="163.30" height="2.00" fill="url(#g301)"/>
<rect x="59.45" y="315.00" width="166.50" height="2.00" fill="url(#g302)"/>
<rect x="57.93" y="317.00" width="169.55" height="2.00" fill="url(#g303)"/>
<rect x="56.49" y="319.00" width="172.43" height="2.00" fill="url(#g304)"/>
<rect x="55.12" y="321.00" width="175.16" height="2.00" fill="url(#g305)"/>
<rect x="53.82" y="323.00" width="177.76" height="2.00" fill="url(#g306)"/>
<rect x="52.59" y="325.00" width="180.21" height="2.00" fill="url(#g307)"/>
<rect x="51.43" y="327.00" width="182.54" height="2.00" fill="url(#g308)"/>
<rect x="50.33" y="329.00" width="184.75" height="2.00" fill="url(#g309)"/>
<rect x="49.28" y="331.00" width="186.83" height="2.00" fill="url(#g310)"/>
<rect x="48.30" y="333.00" width="188.80" height="2.00" fill="url(#g311)"/>
<rect x="47.37" y="335.00" width="190.66" height="2.00" fill="url(#g312)"/>
<rect x="46.49" y="337.00" width="192.41" height="2.00" fill="url(#g313)"/>
<rect x="45.67" y="339.00" width="194.06" height="2.00" fill="url(#g314)"/>
<rect x="44.90" y="341.00" width="195.60" height="2.00" fill="url(#g315)"/>
<rect x="44.18" y="343.00" width="197.05" height="2.00" fill="url(#g316)"/>
<rect x="43.50" y="345.00" width="198.40" height="2.00" fill="url(#g317)"/>
<rect x="42.88" y="347.00" width="199.65" height="2.00" fill="url(#g318)"/>
<rect x="42.29" y="349.00" width="200.81" height="2.00" fill="url(#g319)"/>
<rect x="41.76" y="351.00" width="201.88" height="2.00" fill="url(#g320)"/>
<rect x="41.27" y="353.00" width="202.86" height="2.00" fill="url(#g321)"/>
<rect x="40.83" y="355.00" width="203.75" height="2.00" fill="url(#g322)"/>
<rect x="40.42" y="357.00" width="204.55" height="2.00" fill="url(#g323)"/>
<rect x="40.07" y="359.00" width="205.27" height="2.00" fill="url(#g324)"/>
<rect x="39.75" y="361.00" width="205.90" height="2.00" fill="url(#g325)"/>
<rect x="39.47" y="363.00" width="206.45" height="2.00" fill="url(#g326)"/>
<rect x="39.24" y="365.00" width="206.91" height="2.00" fill="url(#g327)"/>
<rect x="39.05" y="367.00" width="207.30" height="2.00" fill="url(#g328)"/>
<rect x="38.90" y="369.00" width="207.59" height="2.00" fill="url(#g329)"/>
<rect x="38.79" y="371.00" width="207.81" height="2.00" fill="url(#g330)"/>
<rect x="38.73" y="373.00" width="207.95" height="2.00" fill="url(#g331)"/>
<rect x="38.70" y="375.00" width="208.00" height="2.00" fill="url(#g332)"/>
<rect x="38.70" y="377.00" width="208.00" height="2.00" fill="url(#g333)"/>
<rect x="38.70" y="379.00" width="208.00" height="2.00" fill="url(#g334)"/>
<rect x="38.70" y="381.00" width="208.00" height="2.00" fill="url(#g335)"/>
<rect x="38.70" y="383.00" width="208.00" height="2.00" fill="url(#g336)"/>
<rect x="38.70" y="385.00" width="208.00" height="2.00" fill="url(#g337)"/>
<rect x="38.70" y="387.00" width="208.00" height="2.00" fill="url(#g338)"/>
<rect x="38.70" y="389.00" width="208.00" height="2.00" fill="url(#g339)"/>
<rect x="38.71" y="391.00" width="207.97" height="2.00" fill="url(#g340)"/>
<rect x="38.77" y="393.00" width="207.86" height="2.00" fill="url(#g341)"/>
<rect x="38.87" y="395.00" width="207.67" height="2.00" fill="url(#g342)"/>
<rect x="39.00" y="397.00" width="207.39" height="2.00" fill="url(#g343)"/>
<rect x="39.18" y="399.00" width="207.04" height="2.00" fill="url(#g344)"/>
<rect x="39.40" y="401.00" width="206.60" height="2.00" fill="url(#g345)"/>
<rect x="39.66" y="403.00" width="206.08" height="2.00" fill="url(#g346)"/>
<rect x="39.97" y="405.00" width="205.47" height="2.00" fill="url(#g347)"/>
<rect x="40.31" y="407.00" width="204.78" height="2.00" fill="url(#g348)"/>
<rect x="40.70" y="409.00" width="204.00" height="2.00" fill="url(#g349)"/>
<rect x="41.13" y="411.00" width="203.13" height="2.00" fill="url(#g350)"/>
<rect x="41.61" y="413.00" width="202.18" height="2.00" fill="url(#g351)"/>
<rect x="42.13" y="415.00" width="201.14" height="2.00" fill="url(#g352)"/>
<rect x="42.70" y="417.00" width="200.01" height="2.00" fill="url(#g353)"/>
<rect x="43.31" y="419.00" width="198.78" height="2.00" fill="url(#g354)"/>
<rect x="43.97" y="421.00" width="197.46" height="2.00" fill="url(#g355)"/>
<rect x="44.68" y="423.00" width="196.05" height="2.00" fill="url(#g356)"/>
<rect x="45.43" y="425.00" width="194.53" height="2.00" fill="url(#g357)"/>
<rect x="46.24" y="427.00" width="192.92" height="2.00" fill="url(#g358)"/>
<rect x="47.10" y="429.00" width="191.20" height="2.00" fill="url(#g359)"/>
<rect x="48.01" y="431.00" width="189.37" height="2.00" fill="url(#g360)"/>
<rect x="48.98" y="433.00" width="187.43" height="2.00" fill="url(#g361)"/>
<rect x="50.01" y="435.00" width="185.38" height="2.00" fill="url(#g362)"/>
<rect x="51.09" y="437.00" width="183.22" height="2.00" fill="url(#g363)"/>
<rect x="52.24" y="439.00" width="180.92" height="2.00" fill="url(#g364)"/>
<rect x="53.45" y="441.00" width="178.51" height="2.00" fill="url(#g365)"/>
<rect x="54.72" y="443.00" width="175.95" height="2.00" fill="url(#g366)"/>
<rect x="56.07" y="445.00" width="173.26" height="2.00" fill="url(#g367)"/>
<rect x="57.49" y="447.00" width="170.43" height="2.00" fill="url(#g368)"/>
<rect x="58.98" y="449.00" width="167.43" height="2.00" fill="url(#g369)"/>
<rect x="60.56" y="451.00" width="164.28" height="2.00" fill="url(#g370)"/>
<rect x="62.23" y="453.00" width="160.95" height="2.00" fill="url(#g371)"/>
<rect x="63.98" y="455.00" width="157.43" height="2.00" fill="url(#g372)"/>
<rect x="65.84" y="457.00" width="153.71" height="2.00" fill="url(#g373)"/>
<rect x="67.81" y="459.00" width="149.78" height="2.00" fill="url(#g374)"/>
<rect x="69.89" y="461.00" width="145.61" height="2.00" fill="url(#g375)"/>
<rect x="72.11" y="463.00" width="141.19" height="2.00" fill="url(#g376)"/>
<rect x="74.46" y="465.00" width="136.48" height="2.00" fill="url(#g377)"/>
<rect x="76.98" y="467.00" width="131.44" height="2.00" fill="url(#g378)"/>
<rect x="79.67" y="469.00" width="126.05" height="2.00" fill="url(#g379)"/>
<rect x="82.58" y="471.00" width="120.24" height="2.00" fill="url(#g380)"/>
<rect x="85.73" y="473.00" width="113.95" height="2.00" fill="url(#g381)"/>
<rect x="89.17" y="475.00" width="107.07" height="2.00" fill="url(#g382)"/>
<rect x="92.97" y="477.00" width="99.47" height="2.00" fill="url(#g383)"/>
<rect x="97.23" y="479.00" width="90.94" height="2.00" fill="url(#g384)"/>
<rect x="102.13" y="481.00" width="81.14" height="2.00" fill="url(#g385)"/>
<rect x="107.99" y="483.00" width="69.42" height="2.00" fill="url(#g386)"/>
<rect x="115.59" y="485.00" width="54.21" height="2.00" fill="url(#g387)"/>
<rect x="129.04" y="487.00" width="27.32" height="2.00" fill="url(#g388)"/>
</g>
<g shape-rendering="crispEdges" clip-path="url(#sphneg)">
<rect x="39.00" y="397.00" width="207.39" height="2.00" fill="url(#g389)"/>
<rect x="39.18" y="399.00" width="207.04" height="2.00" fill="url(#g390)"/>
<rect x="39.40" y="401.00" width="206.60" height="2.00" fill="url(#g391)"/>
<rect x="39.66" y="403.00" width="206.08" height="2.00" fill="url(#g392)"/>
<rect x="39.97" y="405.00" width="205.47" height="2.00" fill="url(#g393)"/>
<rect x="40.31" y="407.00" width="204.78" height="2.00" fill="url(#g394)"/>
<rect x="40.70" y="409.00" width="204.00" height="2.00" fill="url(#g395)"/>
<rect x="41.13" y="411.00" width="203.13" height="2.00" fill="url(#g396)"/>
<rect x="41.61" y="413.00" width="202.18" height="2.00" fill="url(#g397)"/>
<rect x="42.13" y="415.00" width="201.14" height="2.00" fill="url(#g398)"/>
<rect x="42.70" y="417.00" width="200.01" height="2.00" fill="url(#g399)"/>
<rect x="43.31" y="419.00" width="198.78" height="2.00" fill="url(#g400)"/>
<rect x="43.97" y="421.00" width="197.46" height="2.00" fill="url(#g401)"/>
<rect x="44.68" y="423.00" width="196.05" height="2.00" fill="url(#g402)"/>
<rect x="45.43" y="425.00" width="194.53" height="2.00" fill="url(#g403)"/>
<rect x="46.24" y="427.00" width="192.92" height="2.00" fill="url(#g404)"/>
<rect x="47.10" y="429.00" width="191.20" height="2.00" fill="url(#g405)"/>
<rect x="48.01" y="431.00" width="189.37" height="2.00" fill="url(#g406)"/>
<rect x="48.98" y="433.00" width="187.43" height="2.00" fill="url(#g407)"/>
<rect x="50.01" y="435.00" width="185.38" height="2.00" fill="url(#g408)"/>
<rect x="51.09" y="437.00" width="183.22" height="2.00" fill="url(#g409)"/>
<rect x="52.24" y="439.00" width="180.92" height="2.00" fill="url(#g410)"/>
<rect x="53.45" y="441.00" width="178.51" height="2.00" fill="url(#g411)"/>
<rect x="54.72" y="443.00" width="175.95" height="2.00" fill="url(#g412)"/>
<rect x="56.07" y="445.00" width="173.26" height="2.00" fill="url(#g413)"/>
<rect x="57.49" y="447.00" width="170.43" height="2.00" fill="url(#g414)"/>
<rect x="58.98" y="449.00" width="167.43" height="2.00" fill="url(#g415)"/>
<rect x="60.56" y="451.00" width="164.28" height="2.00" fill="url(#g416)"/>
<rect x="62.23" y="453.00" width="160.95" height="2.00" fill="url(#g417)"/>
<rect x="63.98" y="455.00" width="157.43" height="2.00" fill="url(#g418)"/>
<rect x="65.84" y="457.00" width="153.71" height="2.00" fill="url(#g419)"/>
<rect x="67.81" y="459.00" width="149.78" height="2.00" fill="url(#g420)"/>
<rect x="69.89" y="461.00" width="145.61" height="2.00" fill="url(#g421)"/>
<rect x="72.11" y="463.00" width="141.19" height="2.00" fill="url(#g422)"/>
<rect x="74.46" y="465.00" width="136.48" height="2.00" fill="url(#g423)"/>
<rect x="76.98" y="467.00" width="131.44" height="2.00" fill="url(#g424)"/>
<rect x="79.67" y="469.00" width="126.05" height="2.00" fill="url(#g425)"/>
<rect x="82.58" y="471.00" width="120.24" height="2.00" fill="url(#g426)"/>
<rect x="85.73" y="473.00" width="113.95" height="2.00" fill="url(#g427)"/>
<rect x="89.17" y="475.00" width="107.07" height="2.00" fill="url(#g428)"/>
<rect x="92.97" y="477.00" width="99.47" height="2.00" fill="url(#g429)"/>
<rect x="97.23" y="479.00" width="90.94" height="2.00" fill="url(#g430)"/>
<rect x="102.13" y="481.00" width="81.14" height="2.00" fill="url(#g431)"/>
<rect x="107.99" y="483.00" width="69.42" height="2.00" fill="url(#g432)"/>
<rect x="115.59" y="485.00" width="54.21" height="2.00" fill="url(#g433)"/>
<rect x="129.04" y="487.00" width="27.32" height="2.00" fill="url(#g434)"/>
</g>
</g>
</g>
<g clip-path="url(#sphc)" fill="none">
<path d="M45.5,383.3 A97.2,81.5 0 0 1 239.9,383.3" stroke="#111" stroke-width="1" stroke-dasharray="6.5 4"/>
<path d="M45.5,383.3 A97.2,81.5 0 0 0 239.9,383.3" stroke="#555" stroke-opacity="0.28" stroke-width="1" stroke-dasharray="6.5 4"/>
<path d="M143.1,383.1L47.9,369.5M143.1,383.1L143.1,333.2M143.1,383.1L159,306" stroke="#8a9a8a" stroke-opacity="0.6" stroke-width="0.8"/>
<path d="M228.0,323.0C226.3,322.6 224.0,321.1 218.0,320.5C212.0,319.9 200.5,317.3 192.0,319.5C183.5,321.7 175.5,326.5 167.0,333.5C158.5,340.5 149.0,350.9 141.0,361.5C133.0,372.1 124.8,385.1 119.0,397.0C113.2,408.9 108.5,423.5 106.0,433.0C103.5,442.5 103.4,447.5 104.2,454.0C105.0,460.5 106.9,467.9 111.0,472.0C115.1,476.1 124.5,477.1 128.7,478.5C132.9,479.9 134.8,480.2 136.0,480.5" stroke="#000" stroke-width="2.5" stroke-dasharray="2.2 2.1"/>
<path d="M238.0,339.0C236.8,339.2 235.7,338.6 231.0,340.0C226.3,341.4 217.3,343.9 209.6,347.6C201.8,351.3 192.3,354.8 184.5,362.0C176.7,369.2 169.4,380.6 163.0,390.6C156.6,400.6 149.8,413.3 146.3,422.0C142.8,430.7 142.6,435.8 142.2,443.0C141.8,450.2 141.9,459.2 144.0,465.0C146.1,470.8 151.5,475.1 154.8,477.5C158.1,479.9 161.0,479.1 163.7,479.5C166.4,479.9 169.8,479.9 171.0,480.0" stroke="#000" stroke-width="2.5" stroke-dasharray="10 7.5" stroke-dashoffset="4"/>
<path d="M243.0,364.5C242.5,364.8 243.8,364.1 240.0,366.0C236.2,367.9 227.3,370.7 220.5,376.0C213.7,381.3 205.5,389.4 199.3,397.8C193.1,406.2 186.5,418.3 183.2,426.5C179.9,434.7 179.3,441.1 179.5,447.0C179.7,452.9 182.2,458.8 184.5,462.0C186.8,465.2 189.6,466.4 193.0,466.2C196.4,466.0 201.3,463.4 205.0,461.0C208.7,458.6 212.0,455.2 215.0,452.0C218.0,448.8 221.7,443.7 223.0,442.0" stroke="#000" stroke-width="2.0"/>
</g>
<polygon points="143.00,431.30 144.58,435.53 149.09,435.72 145.56,438.53 146.76,442.88 143.00,440.39 139.24,442.88 140.44,438.53 136.91,435.72 141.42,435.53" fill="#f4b13a"/>
<text x="50.50" y="386.00" font-family='"Liberation Serif", "DejaVu Serif", serif' font-size="19" text-anchor="start" font-weight="normal" font-style="normal" fill="#000" stroke="#000" stroke-width="0.25"><tspan font-style="italic">S</tspan><tspan font-size="12.5" dy="3.6">1</tspan></text>
<text x="128.50" y="329.50" font-family='"Liberation Serif", "DejaVu Serif", serif' font-size="19" text-anchor="start" font-weight="normal" font-style="normal" fill="#000" stroke="#000" stroke-width="0.25"><tspan font-style="italic">S</tspan><tspan font-size="12.5" dy="3.6">2</tspan></text>
<text x="157.50" y="302.50" font-family='"Liberation Serif", "DejaVu Serif", serif' font-size="19" text-anchor="start" font-weight="normal" font-style="normal" fill="#000" stroke="#000" stroke-width="0.25"><tspan font-style="italic">S</tspan><tspan font-size="12.5" dy="3.6">3</tspan></text>
<rect x="87" y="494.5" width="112" height="12.7" fill="url(#g435)"/>
<text x="81.50" y="506.20" font-family='"Liberation Sans", sans-serif' font-size="15.5" text-anchor="end" font-weight="normal" font-style="normal" fill="#000" stroke="#000" stroke-width="0.2">-<tspan font-family='"DejaVu Serif", "Liberation Serif", serif' font-style="italic" font-size="13.9">π</tspan></text>
<text x="207.30" y="506.20" font-family='"Liberation Sans", sans-serif' font-size="15.5" text-anchor="start" font-weight="normal" font-style="normal" fill="#000" stroke="#000" stroke-width="0.2"><tspan font-family='"DejaVu Serif", "Liberation Serif", serif' font-style="italic" font-size="13.9">π</tspan></text>
<text x="119.00" y="523.00" font-family='"Liberation Serif", "DejaVu Serif", serif' font-size="18.6" text-anchor="start" font-weight="normal" font-style="italic" fill="#000" stroke="#000" stroke-width="0.25">ϕ</text>
<text x="129.30" y="525.60" font-family='"Liberation Serif", "DejaVu Serif", serif' font-size="12.276" text-anchor="start" font-weight="normal" font-style="italic" fill="#000" stroke="#000" stroke-width="0.25">co</text>
<text x="146.00" y="523.00" font-family='"Liberation Sans", sans-serif' font-size="16.5" text-anchor="start" font-weight="normal" font-style="normal" fill="#000" stroke="#000" stroke-width="0.2">(rad)</text></svg></body></html>
